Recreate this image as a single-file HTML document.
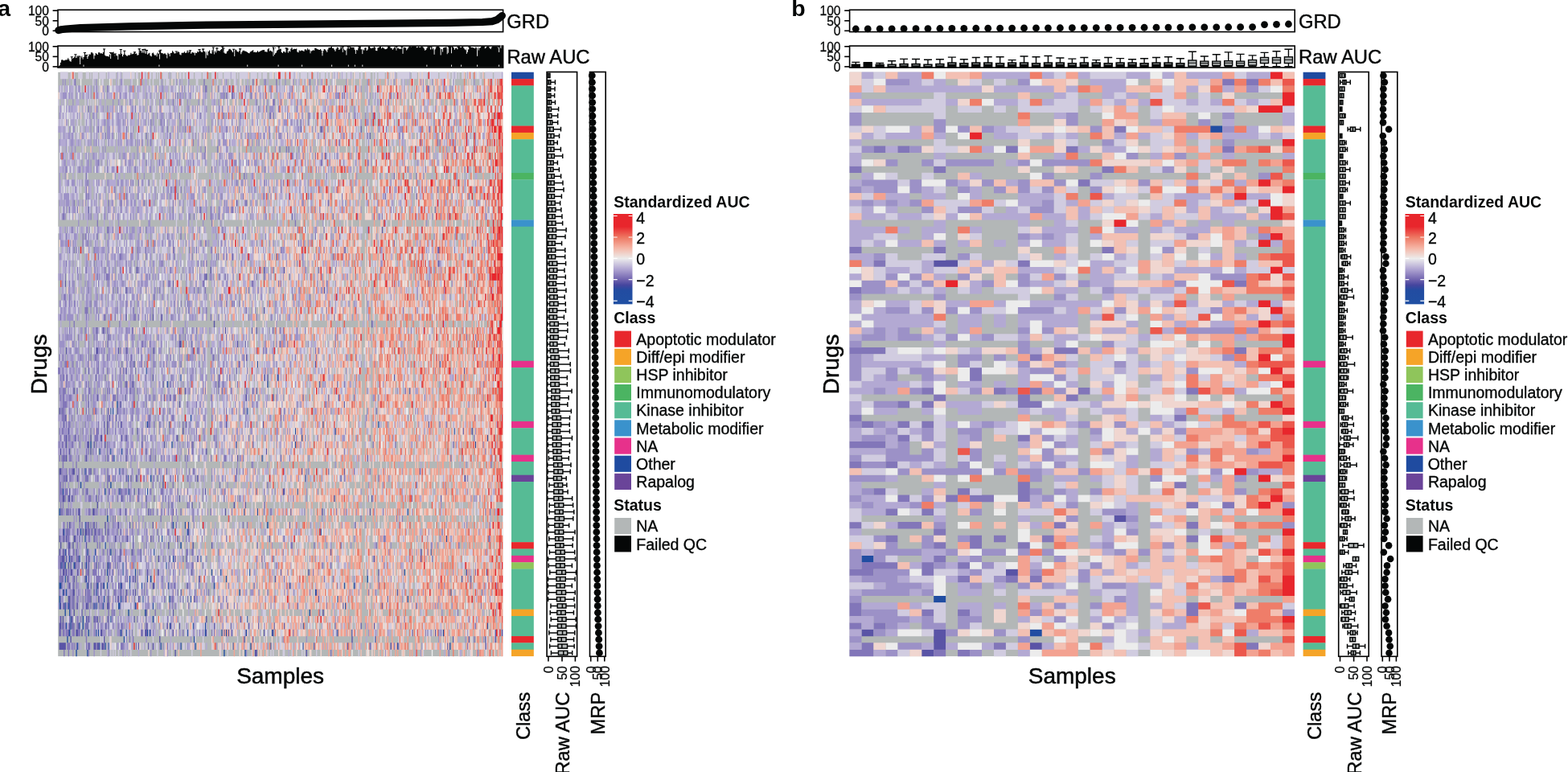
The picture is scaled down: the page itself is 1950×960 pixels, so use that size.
<!DOCTYPE html>
<html lang="en"><head><meta charset="utf-8"><title>Drug sensitivity heatmaps</title>
<style>html,body{margin:0;padding:0;background:#fff}body{width:1950px;height:960px;overflow:hidden}svg{display:block}</style></head>
<body>
<svg width="1950" height="960" viewBox="0 0 1950 960" font-family='"Liberation Sans", sans-serif' fill="#050707">
<defs><linearGradient id="cb" x1="0" y1="0" x2="0" y2="1">
<stop offset="0.0000" stop-color="#e8262c"/>
<stop offset="0.1412" stop-color="#e8262c"/>
<stop offset="0.2000" stop-color="#eb4e47"/>
<stop offset="0.2588" stop-color="#ee7762"/>
<stop offset="0.3765" stop-color="#f5b5a5"/>
<stop offset="0.4882" stop-color="#ece9e8"/>
<stop offset="0.4941" stop-color="#ececec"/>
<stop offset="0.5000" stop-color="#e9e8eb"/>
<stop offset="0.6118" stop-color="#b0a5d2"/>
<stop offset="0.7294" stop-color="#6f62ae"/>
<stop offset="0.7882" stop-color="#45459e"/>
<stop offset="0.8471" stop-color="#224ca1"/>
<stop offset="1.0000" stop-color="#2050a3"/>
</linearGradient>
<filter id="bl" x="-2%" y="-2%" width="104%" height="104%" color-interpolation-filters="sRGB"><feGaussianBlur stdDeviation="0.6 0.4"/></filter>
<filter id="bl2" x="-2%" y="-2%" width="104%" height="104%" color-interpolation-filters="sRGB"><feGaussianBlur stdDeviation="0.5"/></filter>
</defs>
<text x="-2.7" y="19.8" font-weight="bold" font-size="28.5">a</text>
<text x="984.2" y="19.8" font-weight="bold" font-size="28.5">b</text>
<rect x="72" y="12.3" width="553.6" height="27.3" fill="none" stroke="#000" stroke-width="1.6"/>
<path d="M65.6 13.2h6.4" stroke="#000" stroke-width="1.6"/>
<text transform="translate(60.9 18.9) scale(0.958 1)" text-anchor="end" stroke="#050707" stroke-width=".28" font-size="16.28">100</text>
<path d="M65.6 25.8h6.4" stroke="#000" stroke-width="1.6"/>
<text transform="translate(60.9 31.5) scale(0.958 1)" text-anchor="end" stroke="#050707" stroke-width=".28" font-size="16.28">50</text>
<path d="M65.6 38.3h6.4" stroke="#000" stroke-width="1.6"/>
<text transform="translate(60.9 44) scale(0.958 1)" text-anchor="end" stroke="#050707" stroke-width=".28" font-size="16.28">0</text>
<rect x="72" y="57.1" width="553.6" height="26.9" fill="none" stroke="#000" stroke-width="1.6"/>
<path d="M65.6 57.8h6.4" stroke="#000" stroke-width="1.6"/>
<text transform="translate(60.9 63.5) scale(0.958 1)" text-anchor="end" stroke="#050707" stroke-width=".28" font-size="16.28">100</text>
<path d="M65.6 70.4h6.4" stroke="#000" stroke-width="1.6"/>
<text transform="translate(60.9 76.1) scale(0.958 1)" text-anchor="end" stroke="#050707" stroke-width=".28" font-size="16.28">50</text>
<path d="M65.6 82.9h6.4" stroke="#000" stroke-width="1.6"/>
<text transform="translate(60.9 88.6) scale(0.958 1)" text-anchor="end" stroke="#050707" stroke-width=".28" font-size="16.28">0</text>
<text transform="translate(630.3 34.7) scale(0.958 1)" stroke="#050707" stroke-width=".43" font-size="24.84">GRD</text>
<text x="630.4" y="79" stroke="#050707" stroke-width=".43" font-size="23.8">Raw AUC</text>
<text transform="translate(58.3 452.8) rotate(-90)" text-anchor="middle" stroke="#050707" stroke-width=".5" font-size="28">Drugs</text>
<text x="348.6" y="849.8" text-anchor="middle" stroke="#050707" stroke-width=".5" font-size="28">Samples</text>
<rect x="636" y="89.75" width="27.8" height="8.65" fill="#1f4ba0"/>
<rect x="636" y="98.1" width="27.8" height="8.65" fill="#e8272c"/>
<rect x="636" y="106.45" width="27.8" height="50.39" fill="#56bb95"/>
<rect x="636" y="156.54" width="27.8" height="8.65" fill="#e8272c"/>
<rect x="636" y="164.89" width="27.8" height="8.65" fill="#f5a428"/>
<rect x="636" y="173.24" width="27.8" height="42.04" fill="#56bb95"/>
<rect x="636" y="214.98" width="27.8" height="8.65" fill="#4bb462"/>
<rect x="636" y="223.33" width="27.8" height="50.39" fill="#56bb95"/>
<rect x="636" y="273.42" width="27.8" height="8.65" fill="#3a92cc"/>
<rect x="636" y="281.77" width="27.8" height="167.28" fill="#56bb95"/>
<rect x="636" y="448.75" width="27.8" height="8.65" fill="#e7318b"/>
<rect x="636" y="457.1" width="27.8" height="67.09" fill="#56bb95"/>
<rect x="636" y="523.89" width="27.8" height="8.65" fill="#e7318b"/>
<rect x="636" y="532.24" width="27.8" height="33.7" fill="#56bb95"/>
<rect x="636" y="565.63" width="27.8" height="8.65" fill="#e7318b"/>
<rect x="636" y="573.98" width="27.8" height="17" fill="#56bb95"/>
<rect x="636" y="590.68" width="27.8" height="8.65" fill="#6a4499"/>
<rect x="636" y="599.03" width="27.8" height="75.44" fill="#56bb95"/>
<rect x="636" y="674.17" width="27.8" height="8.65" fill="#e8272c"/>
<rect x="636" y="682.52" width="27.8" height="8.65" fill="#56bb95"/>
<rect x="636" y="690.87" width="27.8" height="8.65" fill="#e7318b"/>
<rect x="636" y="699.22" width="27.8" height="8.65" fill="#8fc55b"/>
<rect x="636" y="707.56" width="27.8" height="50.39" fill="#56bb95"/>
<rect x="636" y="757.66" width="27.8" height="8.65" fill="#f5a428"/>
<rect x="636" y="766.01" width="27.8" height="25.35" fill="#56bb95"/>
<rect x="636" y="791.05" width="27.8" height="8.65" fill="#e8272c"/>
<rect x="636" y="799.4" width="27.8" height="8.65" fill="#56bb95"/>
<rect x="636" y="807.75" width="27.8" height="8.35" fill="#f5a428"/>
<text x="763.2" y="257.7" font-weight="bold" font-size="19.5">Standardized AUC</text>
<rect x="762.9" y="266" width="23.6" height="112.3" fill="url(#cb)"/>
<path d="M762.9 268.5h4.8M781.7 268.5h4.8" stroke="#fff" stroke-width="1.2"/>
<text transform="translate(791.3 277.9) scale(0.958 1)" stroke="#050707" stroke-width=".35" font-size="20.35">4</text>
<path d="M762.9 295h4.8M781.7 295h4.8" stroke="#fff" stroke-width="1.2"/>
<text transform="translate(791.3 302.9) scale(0.958 1)" stroke="#050707" stroke-width=".35" font-size="20.35">2</text>
<path d="M762.9 321.3h4.8M781.7 321.3h4.8" stroke="#fff" stroke-width="1.2"/>
<text transform="translate(791.3 329.2) scale(0.958 1)" stroke="#050707" stroke-width=".35" font-size="20.35">0</text>
<path d="M762.9 347.7h4.8M781.7 347.7h4.8" stroke="#fff" stroke-width="1.2"/>
<text transform="translate(791.3 355.6) scale(0.958 1)" stroke="#050707" stroke-width=".35" font-size="20.35">−2</text>
<path d="M762.9 374.2h4.8M781.7 374.2h4.8" stroke="#fff" stroke-width="1.2"/>
<text transform="translate(791.3 382.1) scale(0.958 1)" stroke="#050707" stroke-width=".35" font-size="20.35">−4</text>
<text x="763.2" y="402.4" font-weight="bold" font-size="19.5">Class</text>
<rect x="764.2" y="411.5" width="20.8" height="20.2" fill="#e8272c"/>
<text x="791.3" y="428.8" stroke="#050707" stroke-width=".35" font-size="19.5">Apoptotic modulator</text>
<rect x="764.2" y="433.66" width="20.8" height="20.2" fill="#f5a428"/>
<text x="791.3" y="450.96" stroke="#050707" stroke-width=".35" font-size="19.5">Diff/epi modifier</text>
<rect x="764.2" y="455.82" width="20.8" height="20.2" fill="#8fc55b"/>
<text x="791.3" y="473.12" stroke="#050707" stroke-width=".35" font-size="19.5">HSP inhibitor</text>
<rect x="764.2" y="477.98" width="20.8" height="20.2" fill="#4bb462"/>
<text x="791.3" y="495.28" stroke="#050707" stroke-width=".35" font-size="19.5">Immunomodulatory</text>
<rect x="764.2" y="500.14" width="20.8" height="20.2" fill="#56bb95"/>
<text x="791.3" y="517.44" stroke="#050707" stroke-width=".35" font-size="19.5">Kinase inhibitor</text>
<rect x="764.2" y="522.3" width="20.8" height="20.2" fill="#3a92cc"/>
<text x="791.3" y="539.6" stroke="#050707" stroke-width=".35" font-size="19.5">Metabolic modifier</text>
<rect x="764.2" y="544.46" width="20.8" height="20.2" fill="#e7318b"/>
<text transform="translate(791.3 561.76) scale(0.958 1)" stroke="#050707" stroke-width=".35" font-size="20.35">NA</text>
<rect x="764.2" y="566.62" width="20.8" height="20.2" fill="#1f4ba0"/>
<text x="791.1" y="583.92" stroke="#050707" stroke-width=".35" font-size="19.5">Other</text>
<rect x="764.2" y="588.78" width="20.8" height="20.2" fill="#6a4499"/>
<text x="791.3" y="606.08" stroke="#050707" stroke-width=".35" font-size="19.5">Rapalog</text>
<text x="763.2" y="634.9" font-weight="bold" font-size="19.5">Status</text>
<rect x="764.2" y="644" width="20.8" height="20.2" fill="#b3b7b7"/>
<text transform="translate(791.3 661.3) scale(0.958 1)" stroke="#050707" stroke-width=".35" font-size="20.35">NA</text>
<rect x="764.2" y="666.2" width="20.8" height="20.2" fill="#050707"/>
<text x="791.3" y="683.5" stroke="#050707" stroke-width=".35" font-size="19.5">Failed QC</text>
<rect x="1056.6" y="12.3" width="553.6" height="27.3" fill="none" stroke="#000" stroke-width="1.6"/>
<path d="M1050.2 13.2h6.4" stroke="#000" stroke-width="1.6"/>
<text transform="translate(1045.5 18.9) scale(0.958 1)" text-anchor="end" stroke="#050707" stroke-width=".28" font-size="16.28">100</text>
<path d="M1050.2 25.8h6.4" stroke="#000" stroke-width="1.6"/>
<text transform="translate(1045.5 31.5) scale(0.958 1)" text-anchor="end" stroke="#050707" stroke-width=".28" font-size="16.28">50</text>
<path d="M1050.2 38.3h6.4" stroke="#000" stroke-width="1.6"/>
<text transform="translate(1045.5 44) scale(0.958 1)" text-anchor="end" stroke="#050707" stroke-width=".28" font-size="16.28">0</text>
<rect x="1056.6" y="57.1" width="553.6" height="26.9" fill="none" stroke="#000" stroke-width="1.6"/>
<path d="M1050.2 57.8h6.4" stroke="#000" stroke-width="1.6"/>
<text transform="translate(1045.5 63.5) scale(0.958 1)" text-anchor="end" stroke="#050707" stroke-width=".28" font-size="16.28">100</text>
<path d="M1050.2 70.4h6.4" stroke="#000" stroke-width="1.6"/>
<text transform="translate(1045.5 76.1) scale(0.958 1)" text-anchor="end" stroke="#050707" stroke-width=".28" font-size="16.28">50</text>
<path d="M1050.2 82.9h6.4" stroke="#000" stroke-width="1.6"/>
<text transform="translate(1045.5 88.6) scale(0.958 1)" text-anchor="end" stroke="#050707" stroke-width=".28" font-size="16.28">0</text>
<text transform="translate(1614.9 34.7) scale(0.958 1)" stroke="#050707" stroke-width=".43" font-size="24.84">GRD</text>
<text x="1615" y="79" stroke="#050707" stroke-width=".43" font-size="23.8">Raw AUC</text>
<text transform="translate(1042.9 452.8) rotate(-90)" text-anchor="middle" stroke="#050707" stroke-width=".5" font-size="28">Drugs</text>
<text x="1333.2" y="849.8" text-anchor="middle" stroke="#050707" stroke-width=".5" font-size="28">Samples</text>
<rect x="1620.6" y="89.75" width="27.8" height="8.65" fill="#1f4ba0"/>
<rect x="1620.6" y="98.1" width="27.8" height="8.65" fill="#e8272c"/>
<rect x="1620.6" y="106.45" width="27.8" height="50.39" fill="#56bb95"/>
<rect x="1620.6" y="156.54" width="27.8" height="8.65" fill="#e8272c"/>
<rect x="1620.6" y="164.89" width="27.8" height="8.65" fill="#f5a428"/>
<rect x="1620.6" y="173.24" width="27.8" height="42.04" fill="#56bb95"/>
<rect x="1620.6" y="214.98" width="27.8" height="8.65" fill="#4bb462"/>
<rect x="1620.6" y="223.33" width="27.8" height="50.39" fill="#56bb95"/>
<rect x="1620.6" y="273.42" width="27.8" height="8.65" fill="#3a92cc"/>
<rect x="1620.6" y="281.77" width="27.8" height="167.28" fill="#56bb95"/>
<rect x="1620.6" y="448.75" width="27.8" height="8.65" fill="#e7318b"/>
<rect x="1620.6" y="457.1" width="27.8" height="67.09" fill="#56bb95"/>
<rect x="1620.6" y="523.89" width="27.8" height="8.65" fill="#e7318b"/>
<rect x="1620.6" y="532.24" width="27.8" height="33.7" fill="#56bb95"/>
<rect x="1620.6" y="565.63" width="27.8" height="8.65" fill="#e7318b"/>
<rect x="1620.6" y="573.98" width="27.8" height="17" fill="#56bb95"/>
<rect x="1620.6" y="590.68" width="27.8" height="8.65" fill="#6a4499"/>
<rect x="1620.6" y="599.03" width="27.8" height="75.44" fill="#56bb95"/>
<rect x="1620.6" y="674.17" width="27.8" height="8.65" fill="#e8272c"/>
<rect x="1620.6" y="682.52" width="27.8" height="8.65" fill="#56bb95"/>
<rect x="1620.6" y="690.87" width="27.8" height="8.65" fill="#e7318b"/>
<rect x="1620.6" y="699.22" width="27.8" height="8.65" fill="#8fc55b"/>
<rect x="1620.6" y="707.56" width="27.8" height="50.39" fill="#56bb95"/>
<rect x="1620.6" y="757.66" width="27.8" height="8.65" fill="#f5a428"/>
<rect x="1620.6" y="766.01" width="27.8" height="25.35" fill="#56bb95"/>
<rect x="1620.6" y="791.05" width="27.8" height="8.65" fill="#e8272c"/>
<rect x="1620.6" y="799.4" width="27.8" height="8.65" fill="#56bb95"/>
<rect x="1620.6" y="807.75" width="27.8" height="8.35" fill="#f5a428"/>
<text x="1747.8" y="257.7" font-weight="bold" font-size="19.5">Standardized AUC</text>
<rect x="1747.5" y="266" width="23.6" height="112.3" fill="url(#cb)"/>
<path d="M1747.5 268.5h4.8M1766.3 268.5h4.8" stroke="#fff" stroke-width="1.2"/>
<text transform="translate(1775.9 277.9) scale(0.958 1)" stroke="#050707" stroke-width=".35" font-size="20.35">4</text>
<path d="M1747.5 295h4.8M1766.3 295h4.8" stroke="#fff" stroke-width="1.2"/>
<text transform="translate(1775.9 302.9) scale(0.958 1)" stroke="#050707" stroke-width=".35" font-size="20.35">2</text>
<path d="M1747.5 321.3h4.8M1766.3 321.3h4.8" stroke="#fff" stroke-width="1.2"/>
<text transform="translate(1775.9 329.2) scale(0.958 1)" stroke="#050707" stroke-width=".35" font-size="20.35">0</text>
<path d="M1747.5 347.7h4.8M1766.3 347.7h4.8" stroke="#fff" stroke-width="1.2"/>
<text transform="translate(1775.9 355.6) scale(0.958 1)" stroke="#050707" stroke-width=".35" font-size="20.35">−2</text>
<path d="M1747.5 374.2h4.8M1766.3 374.2h4.8" stroke="#fff" stroke-width="1.2"/>
<text transform="translate(1775.9 382.1) scale(0.958 1)" stroke="#050707" stroke-width=".35" font-size="20.35">−4</text>
<text x="1747.8" y="402.4" font-weight="bold" font-size="19.5">Class</text>
<rect x="1748.8" y="411.5" width="20.8" height="20.2" fill="#e8272c"/>
<text x="1775.9" y="428.8" stroke="#050707" stroke-width=".35" font-size="19.5">Apoptotic modulator</text>
<rect x="1748.8" y="433.66" width="20.8" height="20.2" fill="#f5a428"/>
<text x="1775.9" y="450.96" stroke="#050707" stroke-width=".35" font-size="19.5">Diff/epi modifier</text>
<rect x="1748.8" y="455.82" width="20.8" height="20.2" fill="#8fc55b"/>
<text x="1775.9" y="473.12" stroke="#050707" stroke-width=".35" font-size="19.5">HSP inhibitor</text>
<rect x="1748.8" y="477.98" width="20.8" height="20.2" fill="#4bb462"/>
<text x="1775.9" y="495.28" stroke="#050707" stroke-width=".35" font-size="19.5">Immunomodulatory</text>
<rect x="1748.8" y="500.14" width="20.8" height="20.2" fill="#56bb95"/>
<text x="1775.9" y="517.44" stroke="#050707" stroke-width=".35" font-size="19.5">Kinase inhibitor</text>
<rect x="1748.8" y="522.3" width="20.8" height="20.2" fill="#3a92cc"/>
<text x="1775.9" y="539.6" stroke="#050707" stroke-width=".35" font-size="19.5">Metabolic modifier</text>
<rect x="1748.8" y="544.46" width="20.8" height="20.2" fill="#e7318b"/>
<text transform="translate(1775.9 561.76) scale(0.958 1)" stroke="#050707" stroke-width=".35" font-size="20.35">NA</text>
<rect x="1748.8" y="566.62" width="20.8" height="20.2" fill="#1f4ba0"/>
<text x="1775.7" y="583.92" stroke="#050707" stroke-width=".35" font-size="19.5">Other</text>
<rect x="1748.8" y="588.78" width="20.8" height="20.2" fill="#6a4499"/>
<text x="1775.9" y="606.08" stroke="#050707" stroke-width=".35" font-size="19.5">Rapalog</text>
<text x="1747.8" y="634.9" font-weight="bold" font-size="19.5">Status</text>
<rect x="1748.8" y="644" width="20.8" height="20.2" fill="#b3b7b7"/>
<text transform="translate(1775.9 661.3) scale(0.958 1)" stroke="#050707" stroke-width=".35" font-size="20.35">NA</text>
<rect x="1748.8" y="666.2" width="20.8" height="20.2" fill="#050707"/>
<text x="1775.9" y="683.5" stroke="#050707" stroke-width=".35" font-size="19.5">Failed QC</text>
<g filter="url(#bl)">
<rect x="72.2" y="89.75" width="553.1" height="726.35" fill="#b3b7b7"/>
<g transform="translate(72.2 89.75) scale(1.3827 8.3489)" fill="none" stroke-width="1.03">
<path d="M179 43.5h1m163 0h1M79 44.5h1M110 45.5h1m86 0h1M98 46.5h1m89 0h1M53 49.5h1m330 0h1M47 50.5h1m1 0h1m120 0h1M119 51.5h1M80 52.5h1m157 0h1m49 0h1M213 53.5h1m35 0h1m106 0h1M219 54.5h1m166 0h1M29 55.5h1m72 0h1m57 0h1m52 0h1m161 0h1M37 56.5h1m9 0h1m9 0h1M50 57.5h1m132 0h1M24 59.5h1m30 0h1M63 60.5h1m19 0h1m10 0h1m127 0h1M20 61.5h1m26 0h1M4 62.5h1m37 0h1m12 0h1m7 0h1m16 0h1m134 0h1M1 65.5h1m165 0h1m11 0h1m134 0h1M44 66.5h1M24 67.5h1m78 0h1m10 0h1m2 0h1m70 0h1M5 68.5h1m14 0h1m95 0h1m119 0h1M24 69.5h1m68 0h1m255 0h1M42 70.5h1m67 0h1M6 71.5h1m19 0h1m6 0h1m13 0h1m38 0h1m248 0h1M10 72.5h1m8 0h1m12 0h1m70 0h1m24 0h1M3 73.5h1m2 0h1m7 0h1m10 0h1m19 0h1m12 0h1m38 0h1M44 74.5h1m13 0h1m10 0h1m68 0h1m7 0h1m25 0h1m138 0h1M6 75.5h1m18 0h1m38 0h1m15 0h1m2 0h1m67 0h1m126 0h1M1 76.5h2m23 0h1m8 0h1m5 0h1m2 0h1m11 0h1m7 0h1m10 0h1m23 0h1m40 0h1m67 0h1m48 0h1m8 0h1M4 77.5h1m2 0h1m26 0h1m128 0h1m67 0h1m121 0h1M1 78.5h1m39 0h1m14 0h1m19 0h1m23 0h1m18 0h1m131 0h1m62 0h1M1 79.5h1m4 0h1m2 0h1m22 0h1m1 0h1m5 0h1m13 0h2m13 0h1m15 0h1m172 0h1M6 80.5h1m3 0h1m52 0h1m14 0h1m147 0h1M11 81.5h1m10 0h1m24 0h1m37 0h1m84 0h1M7 82.5h1m3 0h1m7 0h1m2 0h1m77 0h1m20 0h1m10 0h1m87 0h1m165 0h1M10 83.5h1m16 0h1m6 0h1m1 0h1m19 0h1m4 0h1m18 0h1m1 0h1m33 0h1m15 0h1m14 0h1m3 0h1m17 0h1m22 0h1m58 0h1m94 0h1M8 84.5h1m50 0h1m62 0h1m162 0h1M17 85.5h1m19 0h1m4 0h1m2 0h1m46 0h1m17 0h1m12 0h1m33 0h1m15 0h1m17 0h1m28 0h1m84 0h1m46 0h1M16 86.5h1m9 0h1m122 0h1m18 0h1" stroke="#214da2"/>
<path d="M156 3.5h1M218 8.5h1m17 0h1m35 0h1M280 9.5h1M356 11.5h1M240 12.5h1M322 18.5h1M160 19.5h1m82 0h1M27 20.5h1M210 21.5h1M291 23.5h1M342 26.5h1M196 27.5h1M342 28.5h1M71 29.5h1m65 0h1m47 0h1m17 0h1M133 30.5h1M6 31.5h1m96 0h1M61 32.5h1m177 0h1M86 33.5h1M185 35.5h1M61 36.5h1m23 0h1m7 0h1M140 37.5h1m141 0h1M34 38.5h1m5 0h1m109 0h1m23 0h1m3 0h1M45 39.5h1M109 40.5h2m9 0h1m40 0h1m6 0h1m30 0h1M7 41.5h1m26 0h2m18 0h1m6 0h1m24 0h1m34 0h1M139 42.5h1m29 0h1M68 43.5h1m162 0h1M27 44.5h1m30 0h1m2 0h1m98 0h1m204 0h1M34 45.5h1m50 0h1m68 0h1m30 0h1m2 0h1m113 0h1M61 46.5h1m5 0h1m26 0h1m49 0h1m90 0h1m15 0h1M14 47.5h1m94 0h1m4 0h1m32 0h1m27 0h1m2 0h1m137 0h1M35 48.5h1m24 0h1m34 0h1m9 0h1m63 0h1m23 0h1m26 0h1m22 0h1m8 0h1M27 49.5h1m28 0h1m52 0h1m147 0h1M1 50.5h1m1 0h1m41 0h1m7 0h1m158 0h1M6 51.5h1m39 0h1m5 0h1m147 0h1M5 52.5h1m35 0h1m2 0h1m11 0h1m43 0h1m14 0h1m35 0h1m32 0h1m148 0h1M9 53.5h1m34 0h1m26 0h1m40 0h1m251 0h1m7 0h1M7 54.5h1m7 0h1m13 0h1m8 0h2m17 0h1m3 0h1m45 0h1m104 0h1M7 55.5h1m18 0h2m4 0h1m9 0h1m32 0h1m19 0h1m24 0h1m54 0h1M2 56.5h1m7 0h1m18 0h1m49 0h1m53 0h1m53 0h1M5 57.5h1m1 0h1m17 0h1m35 0h1m99 0h1m38 0h1m77 0h1m74 0h1M1 59.5h2m10 0h2m14 0h1m28 0h1m38 0h1m62 0h1m58 0h1m23 0h1m13 0h1m67 0h1M5 60.5h1m1 0h1m9 0h1m8 0h1m18 0h1m15 0h1m3 0h1m4 0h1m54 0h1m128 0h1m111 0h1M94 61.5h1m227 0h1M10 62.5h1m15 0h1m41 0h1m3 0h1m59 0h1m45 0h1m23 0h2M4 63.5h2m3 0h2m1 0h1m21 0h1m22 0h1m21 0h1m14 0h1m14 0h1m8 0h1m30 0h1m98 0h1m33 0h1m61 0h1M35 64.5h1m66 0h1m17 0h1m37 0h1m9 0h1M3 65.5h1m4 0h1m2 0h1m1 0h1m4 0h2m11 0h2m27 0h1m20 0h1m21 0h1m46 0h1m40 0h1m17 0h1m27 0h1m42 0h1M19 66.5h1M10 67.5h1m16 0h1m4 0h1m9 0h1m11 0h1m9 0h1m20 0h1m122 0h1m58 0h1M4 68.5h1m3 0h1m8 0h1m4 0h1m1 0h2m1 0h1m2 0h1m2 0h1m3 0h1m4 0h1m2 0h1m10 0h1m60 0h1m227 0h1M1 69.5h1m3 0h1m1 0h1m6 0h2m3 0h1m12 0h1m18 0h1m10 0h1m4 0h1m15 0h1m23 0h1m82 0h1m102 0h1m93 0h1M2 70.5h1m6 0h2m2 0h1m11 0h1m41 0h1m31 0h1m21 0h1m16 0h1m115 0h1M1 71.5h1m2 0h1m4 0h1m6 0h1m39 0h1m9 0h1m7 0h1m170 0h1m80 0h1M3 72.5h3m1 0h1m4 0h1m5 0h1m6 0h1m1 0h1m27 0h1m18 0h1m15 0h1m9 0h1m4 0h1m9 0h1m9 0h1m57 0h1m100 0h1m41 0h1M2 73.5h1m2 0h1m3 0h1m1 0h1m3 0h1m5 0h1m5 0h1m6 0h1m9 0h1M4 74.5h2m1 0h1m3 0h2m4 0h1m9 0h1m21 0h1m30 0h1m9 0h1m29 0h1m79 0h1m24 0h1m62 0h1m78 0h1m17 0h1M3 75.5h1m4 0h1m5 0h1m9 0h1m2 0h1m17 0h1m2 0h1m18 0h1m1 0h1m57 0h1m67 0h1m167 0h1m7 0h1M3 76.5h1m6 0h1m2 0h1m13 0h1m1 0h1m4 0h1m3 0h1m1 0h1m13 0h1m2 0h1m27 0h2m29 0h1M5 77.5h1m7 0h2m9 0h1m7 0h1m5 0h1m6 0h1m10 0h1m4 0h1m5 0h1m1 0h1m40 0h1m121 0h1m72 0h1M9 78.5h2m2 0h1m15 0h1m6 0h1m8 0h1m8 0h1m3 0h1m1 0h1m11 0h1m39 0h1m9 0h1m111 0h1m61 0h1M2 79.5h1m2 0h1m4 0h1m2 0h1m3 0h1m7 0h2m17 0h2m54 0h1m51 0h1m62 0h1m40 0h1m34 0h1m30 0h1M14 80.5h1m6 0h1m28 0h1m28 0h1m23 0h1m134 0h1M2 81.5h1m1 0h1m7 0h1m12 0h1m1 0h1m4 0h1m2 0h1m9 0h1m22 0h1m64 0h1m30 0h1M1 82.5h2m1 0h1m5 0h1m2 0h1m4 0h1m7 0h1m15 0h1m2 0h1m11 0h1m21 0h1m18 0h1m2 0h1m7 0h1m30 0h1m14 0h1m15 0h1m8 0h1m13 0h1m8 0h1m68 0h1m11 0h1M1 83.5h1m7 0h1m6 0h2m3 0h1m16 0h2m35 0h1m2 0h2m23 0h1m29 0h1m15 0h1m3 0h1m2 0h1m28 0h1m7 0h1m41 0h1m28 0h1m74 0h1m53 0h1m5 0h1M11 84.5h1m29 0h1m49 0h1m75 0h1m7 0h1m88 0h1m90 0h1m13 0h1m14 0h1m8 0h1M1 85.5h6m20 0h1m4 0h2m1 0h2m2 0h2m31 0h1m8 0h1m3 0h1m144 0h1m29 0h1m19 0h1m18 0h1m50 0h1m33 0h1M105 86.5h1m71 0h2m44 0h1" stroke="#5a54a6"/>
<path d="M15 1.5h1m115 0h1m43 0h1m10 0h1m9 0h1m29 0h1M34 2.5h1m9 0h1m66 0h1m20 0h2m10 0h1m11 0h1m12 0h1m21 0h1m4 0h1m13 0h1m32 0h1m44 0h1m43 0h2M105 3.5h1m1 0h1m41 0h1m1 0h1m21 0h1m12 0h1m4 0h1m16 0h1m43 0h1m2 0h1m1 0h1m41 0h1M103 4.5h1m6 0h1m67 0h1m14 0h2m5 0h1m14 0h1m81 0h1M27 5.5h1m29 0h1m11 0h1m77 0h1m32 0h1m6 0h1m10 0h1m60 0h1M109 6.5h1m18 0h1m19 0h1m15 0h1m25 0h2m1 0h1m12 0h1m18 0h1m57 0h1M58 7.5h1m24 0h1m8 0h1m2 0h1m20 0h1m39 0h1m58 0h1m2 0h1m6 0h1m117 0h1m12 0h1M36 8.5h1m24 0h1m36 0h1m15 0h1m36 0h1m9 0h1m75 0h1m57 0h1m13 0h1m24 0h1m18 0h1M42 9.5h1m18 0h1m3 0h1m13 0h1m20 0h1m84 0h1m4 0h1m8 0h1m6 0h1m71 0h1m28 0h1m43 0h1M34 10.5h1m10 0h1m29 0h1m7 0h1m37 0h1m32 0h1m98 0h1m43 0h1m28 0h1m14 0h1m1 0h1M132 11.5h1m10 0h1m55 0h1m5 0h1m1 0h1M4 12.5h1m95 0h1m30 0h1m13 0h1m64 0h1m9 0h1m10 0h1m5 0h1m13 0h1M36 13.5h1m23 0h1m18 0h1m11 0h1m29 0h1m37 0h1m11 0h1m64 0h2m40 0h1M7 14.5h1m11 0h1m24 0h1m24 0h1m68 0h1m13 0h1m10 0h1m22 0h1m127 0h1m15 0h1m20 0h1m27 0h1M25 15.5h1m130 0h1m10 0h1m73 0h1m60 0h1m19 0h1M26 16.5h1m38 0h1m1 0h1m4 0h1m8 0h1m74 0h1m3 0h1m4 0h1m19 0h1m14 0h1m1 0h1M25 17.5h1m24 0h1m13 0h1m36 0h1m8 0h1m89 0h1m16 0h1m100 0h1m22 0h1m8 0h1M25 18.5h1m1 0h1m6 0h1m26 0h1m45 0h1m39 0h1m18 0h1m18 0h1m5 0h1m33 0h1m29 0h1m38 0h1m74 0h1M14 19.5h1m30 0h1m10 0h1m20 0h1m25 0h1m45 0h1m18 0h2m50 0h1M5 20.5h1m4 0h1m6 0h1m16 0h1m10 0h1m10 0h1m46 0h1m23 0h2m8 0h1m18 0h2m16 0h1m11 0h1m48 0h1m63 0h1m39 0h1M4 21.5h2m21 0h1m1 0h1m19 0h1m15 0h1m34 0h1m2 0h1m14 0h1m3 0h1m14 0h1m6 0h1m102 0h1m21 0h1m21 0h1M35 22.5h1m102 0h1m74 0h1M12 23.5h1m31 0h2m3 0h1m29 0h1m67 0h1m67 0h1m6 0h1m39 0h1M7 24.5h1m14 0h1m1 0h1m2 0h1m7 0h1m62 0h1m3 0h1m7 0h1m57 0h1m17 0h1m44 0h1m21 0h1M13 25.5h1m8 0h1m3 0h1m48 0h1m5 0h1m4 0h1m13 0h1m2 0h1m24 0h1m3 0h1m83 0h1m1 0h1m31 0h1m51 0h1M10 26.5h1m3 0h1m1 0h1m15 0h1m12 0h1m21 0h1m3 0h1m6 0h1m7 0h1m16 0h2m13 0h1m5 0h1m13 0h1m36 0h1m24 0h1m56 0h2m31 0h1m50 0h1m14 0h1M36 27.5h1m18 0h2m22 0h1m20 0h1m3 0h1m15 0h1m21 0h1m1 0h1m6 0h1m4 0h2m12 0h1m76 0h1m79 0h1M7 28.5h1m24 0h1m6 0h1m21 0h1m31 0h1m16 0h1m17 0h1m4 0h1M17 29.5h1m7 0h1m16 0h1m13 0h1m4 0h1m2 0h1m5 0h1m30 0h1m16 0h1m2 0h1m69 0h1m1 0h1m28 0h1m11 0h1m14 0h1M6 30.5h1m28 0h1m1 0h1m5 0h3m2 0h1m30 0h1m2 0h1m32 0h1m11 0h1m3 0h2m4 0h1m7 0h1m4 0h1m1 0h1m4 0h1m20 0h1m6 0h1m5 0h1m16 0h1M10 31.5h1m2 0h1m22 0h1m8 0h1m12 0h1m16 0h1m18 0h1m4 0h2m29 0h2m42 0h2m22 0h1m1 0h1m32 0h1m7 0h1m64 0h1m26 0h1M27 32.5h1m21 0h1m3 0h1m20 0h1m16 0h1m11 0h1m18 0h1m3 0h1m5 0h1m38 0h1m38 0h1M5 33.5h2m3 0h1m28 0h1m31 0h1m73 0h1m65 0h1m14 0h1M6 34.5h1m3 0h1m3 0h1m14 0h1m4 0h1m23 0h1m2 0h1m3 0h1m38 0h1m5 0h1m5 0h1m1 0h1m32 0h1m4 0h1m1 0h1m4 0h1M24 35.5h3m7 0h1m18 0h1m7 0h1m5 0h1m17 0h1m31 0h1m9 0h1m5 0h1m13 0h1m21 0h1m71 0h1m68 0h1M2 36.5h1m22 0h1m10 0h1m4 0h2m8 0h1m4 0h1m11 0h2m2 0h1m5 0h1m13 0h1m9 0h1m5 0h1m9 0h1m18 0h1m6 0h1m26 0h1m6 0h1m12 0h1m7 0h1m48 0h1M14 37.5h1m40 0h1M10 38.5h1m13 0h1m10 0h1m5 0h1m2 0h1m16 0h1m4 0h2m44 0h1m7 0h1m3 0h1m68 0h1m5 0h1m2 0h1m19 0h1m94 0h1M8 39.5h1m9 0h1m13 0h1m1 0h1m12 0h1m18 0h1m38 0h1m3 0h1m4 0h1m4 0h1m31 0h1m4 0h1m46 0h1m45 0h1m1 0h1m115 0h1m7 0h1M13 40.5h1m13 0h1m12 0h1m3 0h1m22 0h1m7 0h2m1 0h1m3 0h1m103 0h1m9 0h1m9 0h1m42 0h1M11 41.5h1m4 0h1m10 0h1m11 0h1m1 0h1m14 0h1m5 0h1m9 0h1m12 0h1m39 0h2m4 0h1m6 0h1m39 0h1m5 0h1m2 0h1m43 0h1m2 0h1m76 0h1M1 42.5h1m2 0h1m15 0h1m6 0h1m1 0h1m3 0h2m9 0h1m16 0h1m3 0h2m8 0h1m25 0h1m14 0h1m1 0h1m12 0h1m12 0h1m22 0h1m45 0h1m18 0h1m26 0h1M6 43.5h2m5 0h1m13 0h1m8 0h1m20 0h1m7 0h1m9 0h1m10 0h1m5 0h1m4 0h1m7 0h1m4 0h1m9 0h1m41 0h2m3 0h1m28 0h1M0 44.5h2m2 0h1m19 0h1m7 0h1m2 0h2m3 0h1m3 0h1m11 0h1m8 0h1m3 0h1m23 0h1m27 0h1m18 0h1m29 0h1m15 0h1m22 0h1m33 0h1M2 45.5h1m1 0h2m1 0h2m3 0h1m29 0h1m12 0h1m9 0h1m1 0h1m10 0h1m23 0h1m16 0h1m24 0h2m52 0h1M3 46.5h1m3 0h1m11 0h1m5 0h1m1 0h1m17 0h1m8 0h1m1 0h1m3 0h1m5 0h1m34 0h1m1 0h1m26 0h1m10 0h1m6 0h1m12 0h1m95 0h1m124 0h1M1 47.5h1m2 0h3m6 0h1m3 0h1m6 0h1m2 0h2m15 0h1m1 0h1m6 0h1m2 0h1m4 0h1m2 0h2m2 0h1m2 0h1m46 0h1m11 0h1m1 0h1m11 0h1m10 0h1m13 0h1m142 0h1M2 48.5h1m1 0h2m4 0h2m10 0h1m4 0h1m1 0h1m12 0h1m6 0h3m1 0h1m4 0h1m9 0h1m10 0h1m2 0h1m3 0h1m5 0h1m7 0h2m2 0h1m33 0h1m29 0h1m27 0h1m69 0h1M4 49.5h4m41 0h1m5 0h1m10 0h1m4 0h1m7 0h1m36 0h1m7 0h1m13 0h1m28 0h1m10 0h1m36 0h1m24 0h1m128 0h1M4 50.5h2m4 0h1m6 0h1m7 0h1m1 0h1m3 0h1m1 0h2m4 0h1m19 0h1m7 0h1m26 0h1m5 0h1m25 0h1m22 0h1m1 0h1m4 0h1m3 0h1m6 0h1m32 0h1m2 0h1m82 0h1M3 51.5h3m1 0h1m4 0h1m13 0h1m17 0h1m4 0h1m5 0h1m10 0h1m14 0h2m11 0h1m7 0h2m27 0h1m6 0h1m13 0h1m124 0h1M7 52.5h1m1 0h2m13 0h1m11 0h1m8 0h1m3 0h1m4 0h1m2 0h1m23 0h2m3 0h1m4 0h1m20 0h1m5 0h1m49 0h1m174 0h1m5 0h1M1 53.5h1m1 0h2m17 0h1m6 0h1m2 0h1m1 0h3m4 0h1m9 0h1m6 0h1m7 0h1m8 0h1m10 0h1m13 0h1m23 0h1m40 0h1M2 54.5h1m2 0h2m2 0h2m7 0h1m14 0h3m24 0h1m14 0h1m2 0h1m4 0h1m22 0h1m19 0h1m4 0h1m8 0h1m8 0h1m21 0h1m3 0h1m10 0h1m27 0h1m7 0h1m10 0h1m46 0h1m93 0h1M1 55.5h1m1 0h2m1 0h1m5 0h2m5 0h1m14 0h1m4 0h1m4 0h1m5 0h1m65 0h1m4 0h1m20 0h1m67 0h1m29 0h1m42 0h1m19 0h1m51 0h1m26 0h1M5 56.5h1m1 0h1m17 0h1m1 0h1m3 0h1m2 0h1m9 0h1m16 0h2m20 0h1m10 0h1m22 0h1m2 0h2m135 0h1m126 0h1M1 57.5h1m1 0h2m1 0h1m3 0h2m6 0h1m5 0h1m17 0h1m1 0h2m2 0h2m6 0h1m22 0h1m2 0h2m3 0h1m4 0h1m2 0h1m9 0h1m8 0h1m1 0h1m9 0h1m10 0h1m11 0h2m5 0h1m9 0h1m41 0h1M4 58.5h1m11 0h1m157 0h1m214 0h1M3 59.5h1m3 0h1m2 0h1m1 0h1m5 0h1m2 0h1m3 0h1m1 0h2m3 0h1m11 0h1m21 0h1m5 0h1m14 0h1m3 0h1m26 0h1m2 0h2m43 0h1m58 0h1m40 0h1m13 0h1M1 60.5h1m1 0h1m2 0h1m1 0h1m1 0h2m6 0h1m5 0h2m9 0h1m8 0h1m1 0h1m2 0h1m1 0h1m4 0h1m14 0h1m5 0h1m8 0h1m2 0h1m2 0h1m8 0h1m1 0h1m3 0h1m8 0h1m6 0h1m14 0h1m20 0h2m96 0h1m30 0h1m76 0h1m2 0h1M1 61.5h2m1 0h1m39 0h1m18 0h1m21 0h1m17 0h1m41 0h1m42 0h1M1 62.5h3m2 0h3m4 0h1m1 0h1m6 0h1m2 0h1m6 0h1m4 0h1m7 0h2m7 0h1m1 0h2m2 0h2m2 0h1m13 0h1m4 0h1m8 0h3m12 0h1m8 0h1m13 0h1m16 0h1m1 0h1m35 0h1M1 63.5h1m1 0h1m2 0h1m6 0h1m13 0h3m6 0h1m2 0h1m5 0h1m3 0h1m3 0h1m4 0h1m5 0h1m6 0h2m13 0h1m9 0h1m2 0h1m30 0h1m32 0h1m47 0h1m106 0h1m60 0h1M2 64.5h1m1 0h1m74 0h1m19 0h1m16 0h1m68 0h1M2 65.5h1m4 0h1m1 0h1m6 0h1m10 0h2m5 0h1m7 0h1m1 0h1m10 0h2m4 0h1m21 0h1m1 0h1m3 0h1m3 0h1m1 0h1m3 0h1m6 0h1m3 0h1m10 0h1m15 0h1m18 0h1m28 0h1m64 0h1m8 0h1m32 0h1m91 0h1m3 0h1M49 66.5h1m1 0h1m40 0h1m9 0h1m18 0h1m150 0h1m31 0h1m4 0h1M5 67.5h1m2 0h1m2 0h1m7 0h1m1 0h1m3 0h2m2 0h1m1 0h1m2 0h1m10 0h1m3 0h1m3 0h1m13 0h1m34 0h1m3 0h1m59 0h1m3 0h1m217 0h1M7 68.5h1m1 0h2m2 0h1m12 0h1m1 0h1m3 0h1m1 0h1m1 0h1m2 0h1m4 0h1m8 0h1m12 0h1m12 0h1m9 0h1m8 0h2m31 0h1m45 0h1M4 69.5h1m3 0h2m11 0h1m5 0h2m5 0h1m4 0h2m3 0h1m7 0h1m2 0h1m2 0h1m2 0h1m23 0h1m4 0h1m14 0h1m9 0h1m13 0h1m21 0h1m51 0h1m149 0h1M17 70.5h1m17 0h1m1 0h1m18 0h1m22 0h1m99 0h1m29 0h2m19 0h1m55 0h1m48 0h1m24 0h1M5 71.5h1m1 0h1m2 0h1m2 0h2m10 0h1m1 0h1m12 0h1m3 0h1m1 0h1m4 0h1m3 0h1m11 0h1m15 0h1m31 0h2m3 0h2m22 0h1m57 0h1m129 0h1M1 72.5h2m8 0h1m4 0h2m10 0h1m5 0h1m10 0h1m2 0h1m2 0h1m4 0h1m3 0h1m33 0h1m17 0h1m65 0h1m14 0h1m142 0h1M1 73.5h1m2 0h1m11 0h1m1 0h1m5 0h1m7 0h1m3 0h1m3 0h1m5 0h2m3 0h1m1 0h1m7 0h1m5 0h1m11 0h1m1 0h1m17 0h1m2 0h1m1 0h1m15 0h2m8 0h1m55 0h1m9 0h1m40 0h1m7 0h1m47 0h1M2 74.5h1m3 0h1m2 0h1m8 0h1m3 0h1m2 0h2m4 0h4m1 0h1m2 0h1m2 0h1m3 0h1m7 0h1m6 0h1m11 0h1m15 0h1m4 0h1m8 0h1m28 0h1m23 0h1m72 0h1m145 0h1M1 75.5h2m1 0h1m4 0h1m3 0h1m2 0h1m15 0h1m1 0h4m18 0h1m3 0h1m1 0h1m8 0h1m21 0h1m32 0h1m13 0h1m62 0h1m35 0h1m7 0h1m40 0h1M9 76.5h1m4 0h1m1 0h1m15 0h1m3 0h1m12 0h1m5 0h1m15 0h1m5 0h1m24 0h1m1 0h2m12 0h1m7 0h1m26 0h1m22 0h1m74 0h1m36 0h1m53 0h1m28 0h1M1 77.5h1m9 0h1m6 0h1m7 0h3m6 0h1m6 0h1m7 0h2m6 0h1m16 0h1m1 0h1m25 0h1m3 0h1m10 0h1m4 0h1m7 0h1m3 0h1m52 0h1m37 0h1m52 0h1m5 0h1m95 0h1M2 78.5h1m8 0h1m2 0h1m2 0h1m4 0h1m1 0h1m1 0h3m8 0h1m1 0h1m4 0h1m4 0h1m1 0h1m1 0h1m7 0h1m6 0h1m4 0h1m7 0h1m13 0h1m6 0h2m6 0h1m5 0h1m27 0h1m3 0h1m2 0h1m42 0h1M4 79.5h1m3 0h1m2 0h1m2 0h1m1 0h1m5 0h1m4 0h1m1 0h1m1 0h1m1 0h1m3 0h1m1 0h1m30 0h1m10 0h1m20 0h1m2 0h1m11 0h1m28 0h1m11 0h1m32 0h1m15 0h1m33 0h1m138 0h1M11 80.5h1m33 0h1m2 0h1m38 0h1m147 0h1m123 0h1M10 81.5h1m2 0h1m3 0h1m2 0h1m5 0h1m6 0h2m2 0h1m6 0h1m11 0h1m6 0h1m7 0h1m7 0h1m18 0h1m39 0h1m172 0h1m57 0h1M3 82.5h1m2 0h1m5 0h1m1 0h1m2 0h1m6 0h2m7 0h1m2 0h1m1 0h1m4 0h1m5 0h1m4 0h1m25 0h1m168 0h1m125 0h1M2 83.5h1m1 0h2m1 0h2m4 0h2m3 0h2m4 0h1m7 0h1m12 0h1m9 0h1m1 0h1m6 0h1m1 0h1m16 0h1m1 0h1m10 0h1m15 0h1m14 0h1m10 0h1m1 0h1m27 0h1m42 0h1m106 0h1m11 0h1m1 0h1m2 0h1m6 0h1m1 0h1M25 84.5h1m38 0h1m2 0h1m306 0h1M8 85.5h3m1 0h1m1 0h1m1 0h1m8 0h1m2 0h1m5 0h1m6 0h1m14 0h3m11 0h1m27 0h1m203 0h1m3 0h1m61 0h1M5 86.5h1m3 0h1m17 0h1m17 0h1m199 0h1m105 0h1m25 0h1" stroke="#8276b9"/>
<path d="M4 1.5h1m1 0h1m7 0h1m19 0h1m21 0h2m17 0h1m17 0h1m12 0h1m2 0h1m7 0h1m33 0h1m33 0h1m13 0h1m4 0h1m6 0h1m21 0h1m3 0h1m21 0h1m18 0h1m23 0h1m23 0h1m1 0h1m7 0h1m18 0h1m18 0h1M3 2.5h1m6 0h1m5 0h1m1 0h2m7 0h1m1 0h1m2 0h1m7 0h1m4 0h1m9 0h1m8 0h3m1 0h1m2 0h1m16 0h1m4 0h2m7 0h1m10 0h1m3 0h1m1 0h1m1 0h1m8 0h1m7 0h1m9 0h1m3 0h1m11 0h1m6 0h1m3 0h1m4 0h1m9 0h1m8 0h1m3 0h1m4 0h1m17 0h1m19 0h1m3 0h1m17 0h1m3 0h1m38 0h1m16 0h1m17 0h1m5 0h1m1 0h1M4 3.5h4m2 0h1m1 0h1m3 0h1m2 0h1m2 0h1m4 0h1m1 0h1m4 0h2m5 0h1m2 0h1m10 0h2m3 0h2m2 0h1m14 0h1m3 0h1m13 0h1m5 0h1m5 0h2m1 0h1m1 0h1m3 0h2m3 0h1m8 0h1m5 0h1m7 0h3m3 0h1m4 0h2m9 0h1m5 0h1m2 0h1m3 0h1m2 0h1m57 0h1m6 0h3m28 0h1m4 0h1m22 0h1m8 0h1m23 0h1M13 4.5h1m35 0h1m4 0h1m9 0h2m25 0h1m2 0h1m4 0h1m7 0h1m8 0h1m9 0h1m3 0h1m9 0h1m3 0h1m7 0h1m17 0h1m14 0h1m2 0h1m29 0h1m22 0h1m11 0h1m25 0h1m7 0h1m6 0h1m34 0h1m28 0h1m4 0h1m1 0h1M2 5.5h1m4 0h1m2 0h1m1 0h1m16 0h1m4 0h2m4 0h1m3 0h1m4 0h1m5 0h1m10 0h2m5 0h1m2 0h1m5 0h2m7 0h2m7 0h1m3 0h1m11 0h2m3 0h1m1 0h1m1 0h1m7 0h1m5 0h1m4 0h2m12 0h1m10 0h1m14 0h1m5 0h4m7 0h1m2 0h1m1 0h1m7 0h2m3 0h1m20 0h1m9 0h1m6 0h1m8 0h1m15 0h1m34 0h1m8 0h1m12 0h1m9 0h1m6 0h1m10 0h1M1 6.5h1m2 0h1m12 0h1m1 0h1m8 0h1m2 0h2m1 0h1m10 0h2m2 0h1m3 0h2m3 0h1m1 0h1m11 0h1m3 0h1m2 0h1m1 0h1m3 0h1m3 0h1m2 0h3m5 0h2m3 0h1m8 0h1m10 0h1m1 0h1m12 0h1m8 0h1m1 0h1m5 0h1m5 0h1m2 0h1m7 0h1m33 0h1m7 0h1m2 0h1m6 0h1m3 0h1m5 0h2m5 0h1m1 0h1m6 0h1m8 0h1m4 0h2m1 0h1m6 0h1m8 0h1m22 0h1m5 0h1m1 0h1m18 0h1M7 7.5h1m3 0h1m1 0h1m11 0h1m3 0h1m2 0h1m3 0h1m4 0h2m1 0h2m3 0h1m3 0h3m4 0h1m1 0h1m2 0h1m6 0h1m1 0h1m3 0h1m2 0h1m3 0h1m7 0h1m4 0h1m10 0h2m3 0h1m23 0h1m2 0h1m2 0h1m2 0h1m12 0h1m2 0h1m10 0h1m4 0h1m5 0h1m17 0h3m3 0h2m1 0h1m7 0h1m19 0h1m8 0h1m22 0h1m4 0h2m2 0h1m7 0h1m12 0h1m8 0h1m6 0h1m4 0h1m14 0h1m19 0h1M1 8.5h1m3 0h1m4 0h1m2 0h2m9 0h1m4 0h1m2 0h1m2 0h1m2 0h1m5 0h3m2 0h1m4 0h2m9 0h1m1 0h1m15 0h1m2 0h1m6 0h2m8 0h1m3 0h1m1 0h1m2 0h1m6 0h1m10 0h1m4 0h1m2 0h1m8 0h1m4 0h1m1 0h1m4 0h1m3 0h1m6 0h1m9 0h1m5 0h1m2 0h2m7 0h1m3 0h1m12 0h2m11 0h1m2 0h1m6 0h1m3 0h1m12 0h1m21 0h1m10 0h1m18 0h2m16 0h2m6 0h1m11 0h1m14 0h1M5 9.5h1m3 0h2m1 0h2m7 0h2m6 0h1m2 0h1m1 0h1m5 0h1m3 0h3m1 0h2m4 0h1m1 0h1m9 0h1m4 0h1m3 0h1m7 0h1m14 0h1m2 0h1m5 0h1m13 0h1m1 0h1m2 0h1m3 0h1m1 0h1m15 0h2m10 0h1m3 0h1m3 0h1m1 0h2m1 0h1m3 0h1m2 0h1m1 0h1m13 0h1m1 0h1m1 0h1m13 0h1m19 0h1m19 0h1m1 0h2m48 0h1m2 0h2m30 0h1m7 0h1m25 0h1m6 0h1M1 10.5h1m5 0h1m3 0h3m4 0h1m8 0h1m1 0h1m2 0h1m3 0h1m17 0h1m1 0h1m4 0h2m2 0h2m2 0h1m1 0h1m1 0h1m6 0h1m12 0h1m1 0h1m18 0h1m11 0h1m17 0h2m2 0h4m19 0h1m2 0h1m3 0h1m1 0h1m2 0h1m12 0h1m12 0h1m3 0h1m3 0h1m22 0h1m3 0h1m4 0h1m2 0h1m26 0h1m6 0h1m22 0h1m44 0h1m2 0h1m17 0h1M7 11.5h1m4 0h1m2 0h1m24 0h1m1 0h1m28 0h1m19 0h1m13 0h1m22 0h1m17 0h1m4 0h2m20 0h1m12 0h1m8 0h1m20 0h1m2 0h1m7 0h1m23 0h1m16 0h1m80 0h1M2 12.5h1m8 0h2m12 0h1m1 0h1m3 0h2m1 0h1m5 0h1m9 0h1m4 0h1m2 0h3m3 0h1m3 0h1m2 0h1m4 0h2m3 0h1m3 0h1m17 0h1m1 0h1m3 0h1m3 0h1m4 0h1m1 0h1m4 0h1m3 0h1m2 0h1m14 0h1m5 0h4m6 0h1m14 0h1m6 0h1m6 0h1m18 0h1m2 0h1m26 0h1m2 0h1m3 0h1m14 0h1m17 0h1m16 0h1M5 13.5h2m7 0h1m6 0h1m4 0h2m1 0h1m4 0h2m3 0h1m4 0h1m18 0h3m1 0h1m5 0h1m9 0h1m9 0h2m7 0h1m4 0h1m1 0h1m7 0h1m1 0h1m12 0h1m9 0h1m2 0h1m2 0h1m1 0h2m2 0h1m3 0h1m1 0h1m2 0h1m2 0h1m2 0h1m4 0h1m1 0h3m4 0h1m7 0h1m4 0h1m3 0h1m17 0h1m3 0h1m21 0h1m11 0h1m10 0h1m11 0h1m1 0h1m27 0h1m1 0h1m11 0h1m17 0h1m47 0h1M4 14.5h1m1 0h1m4 0h1m6 0h1m3 0h1m2 0h3m1 0h1m2 0h1m1 0h2m12 0h3m1 0h1m3 0h1m5 0h1m1 0h1m3 0h1m2 0h1m10 0h2m2 0h1m8 0h1m1 0h1m2 0h1m2 0h1m1 0h1m4 0h2m2 0h1m26 0h1m6 0h1m8 0h1m2 0h1m16 0h1m5 0h1m1 0h1m3 0h1m6 0h1m5 0h1m1 0h1m6 0h1m4 0h1m15 0h1m1 0h1m8 0h1m1 0h1m2 0h1m9 0h1m4 0h1m14 0h1m28 0h1m57 0h1m29 0h1M1 15.5h1m4 0h1m44 0h1m25 0h1m15 0h1m75 0h1m4 0h2m92 0h1m20 0h1m27 0h1m10 0h1m29 0h1M1 16.5h1m6 0h2m2 0h3m4 0h1m1 0h1m2 0h2m1 0h1m6 0h1m1 0h1m2 0h1m4 0h2m7 0h2m1 0h3m2 0h1m13 0h2m22 0h1m3 0h1m2 0h1m2 0h1m5 0h1m10 0h1m24 0h1m9 0h1m6 0h1m18 0h1m1 0h1m6 0h1m11 0h1m3 0h1m4 0h1m7 0h1m6 0h1m1 0h1m27 0h1m4 0h1m10 0h1m20 0h1m8 0h1m14 0h1m34 0h1m7 0h1m20 0h1M1 17.5h1m13 0h2m10 0h1m7 0h1m6 0h1m2 0h1m5 0h1m4 0h1m1 0h1m13 0h1m14 0h1m6 0h1m3 0h2m2 0h1m1 0h1m1 0h1m6 0h1m12 0h1m4 0h2m8 0h1m2 0h1m18 0h1m1 0h1m5 0h1m2 0h1m1 0h2m7 0h1m4 0h1m2 0h1m28 0h1m4 0h1m7 0h1m14 0h1m13 0h1m38 0h1m26 0h1m44 0h1M3 18.5h1m1 0h5m3 0h1m12 0h1m10 0h1m13 0h1m4 0h1m5 0h1m2 0h1m1 0h1m3 0h2m3 0h1m2 0h1m7 0h1m1 0h1m3 0h1m1 0h1m2 0h1m1 0h2m12 0h1m4 0h4m15 0h1m3 0h1m3 0h1m17 0h1m19 0h1m3 0h1m7 0h1m10 0h1m84 0h1m18 0h1m42 0h1m8 0h1M1 19.5h1m1 0h1m1 0h1m1 0h3m3 0h1m4 0h1m3 0h1m1 0h1m5 0h1m1 0h1m1 0h1m13 0h2m5 0h1m1 0h1m1 0h1m1 0h2m2 0h2m1 0h2m6 0h1m2 0h1m6 0h1m18 0h1m3 0h1m2 0h1m5 0h1m14 0h1m17 0h1m4 0h1m4 0h1m11 0h1m4 0h1m28 0h1m11 0h1m7 0h1m27 0h1m2 0h1m3 0h1m15 0h1m8 0h1m7 0h1m4 0h1m7 0h1m39 0h1m9 0h1m3 0h1m15 0h1m5 0h1M7 20.5h1m5 0h3m13 0h1m7 0h1m4 0h1m7 0h1m10 0h1m5 0h1m3 0h2m6 0h1m4 0h1m8 0h1m6 0h1m11 0h1m12 0h1m7 0h1m6 0h1m3 0h2m3 0h1m1 0h3m1 0h1m3 0h1m33 0h1m33 0h1m3 0h1m24 0h1m15 0h1m13 0h1m14 0h1m7 0h1m14 0h1m50 0h1m8 0h1m2 0h1M3 21.5h1m2 0h1m6 0h1m8 0h1m12 0h1m5 0h2m1 0h1m8 0h2m3 0h1m8 0h1m2 0h1m11 0h1m11 0h1m14 0h1m7 0h1m10 0h1m4 0h1m4 0h2m1 0h1m3 0h1m2 0h1m24 0h1m1 0h1m10 0h2m24 0h1m75 0h2m32 0h1m13 0h1m7 0h1m6 0h1m32 0h2m4 0h1M18 22.5h1m35 0h1m26 0h2m34 0h1m12 0h1m15 0h1m91 0h1m55 0h1m36 0h1m18 0h1M1 23.5h1m4 0h1m1 0h1m4 0h1m3 0h1m3 0h1m3 0h2m1 0h1m6 0h2m19 0h1m4 0h2m1 0h1m1 0h3m4 0h2m1 0h1m6 0h1m1 0h1m10 0h1m10 0h1m2 0h1m10 0h1m5 0h1m3 0h1m7 0h1m1 0h1m6 0h1m1 0h1m9 0h2m12 0h1m56 0h2m6 0h1m9 0h1m19 0h1m8 0h1m78 0h1M1 24.5h2m11 0h3m8 0h1m3 0h1m2 0h1m1 0h1m7 0h1m2 0h1m7 0h2m2 0h1m2 0h1m3 0h3m5 0h1m10 0h1m10 0h1m4 0h1m14 0h1m27 0h1m22 0h1m34 0h1m27 0h1m16 0h1m1 0h1m38 0h1m51 0h1m18 0h1m5 0h1M2 25.5h3m1 0h3m2 0h1m3 0h1m9 0h1m1 0h1m1 0h1m3 0h1m10 0h2m9 0h1m3 0h1m1 0h1m9 0h2m6 0h1m3 0h1m3 0h1m5 0h2m1 0h1m2 0h1m10 0h1m1 0h1m2 0h1m4 0h1m12 0h1m1 0h1m8 0h1m1 0h2m2 0h1m5 0h1m17 0h1m3 0h1m11 0h1m2 0h1m9 0h1m17 0h1m3 0h1m1 0h1m17 0h1m79 0h1m22 0h1m26 0h1m9 0h1M8 26.5h1m4 0h1m4 0h1m3 0h1m4 0h1m5 0h4m2 0h3m7 0h1m2 0h1m1 0h1m1 0h1m4 0h1m10 0h2m5 0h1m1 0h1m38 0h1m1 0h1m3 0h1m3 0h1m6 0h1m8 0h1m2 0h1m1 0h1m4 0h1m23 0h1m3 0h1m16 0h3m30 0h1m4 0h1m11 0h1m65 0h1m13 0h1m51 0h1m1 0h1M1 27.5h2m10 0h1m11 0h1m6 0h1m9 0h1m1 0h1m3 0h1m1 0h2m5 0h2m1 0h1m4 0h3m3 0h2m10 0h1m7 0h1m2 0h1m3 0h1m19 0h1m19 0h1m9 0h2m15 0h1m19 0h1m6 0h1m5 0h1m9 0h1m10 0h2m9 0h1m18 0h1m6 0h1m83 0h1m40 0h1M5 28.5h1m4 0h1m2 0h1m11 0h2m2 0h1m4 0h1m9 0h2m5 0h1m1 0h1m1 0h1m7 0h1m1 0h1m2 0h1m2 0h1m5 0h1m4 0h1m2 0h2m4 0h2m1 0h1m8 0h1m2 0h1m13 0h1m4 0h2m3 0h2m5 0h1m1 0h1m1 0h1m22 0h2m1 0h1m5 0h1m12 0h1m18 0h1m6 0h1m2 0h1m4 0h1m17 0h1m11 0h1m10 0h1m28 0h2m30 0h1m10 0h1m7 0h1m1 0h1M6 29.5h1m3 0h1m8 0h1m4 0h1m7 0h2m1 0h1m3 0h1m1 0h1m3 0h2m2 0h1m1 0h1m3 0h1m9 0h1m6 0h1m2 0h1m2 0h1m2 0h1m1 0h1m2 0h1m8 0h1m4 0h1m11 0h1m14 0h1m19 0h1m9 0h1m19 0h1m8 0h1m15 0h1m38 0h1m3 0h1m76 0h1m11 0h1m3 0h1m5 0h1m29 0h1m10 0h1M1 30.5h2m1 0h1m8 0h1m3 0h2m1 0h1m6 0h1m6 0h1m4 0h1m1 0h1m4 0h1m4 0h1m2 0h1m1 0h2m4 0h1m12 0h1m4 0h1m4 0h1m1 0h1m2 0h1m12 0h1m1 0h1m4 0h1m10 0h1m14 0h1m2 0h1m4 0h1m4 0h1m26 0h1m9 0h1m2 0h1m12 0h1m13 0h1m13 0h1m6 0h1m18 0h1m3 0h1m56 0h1m16 0h1M3 31.5h2m9 0h1m9 0h1m1 0h2m4 0h1m1 0h1m9 0h1m5 0h2m1 0h1m3 0h1m2 0h1m11 0h1m5 0h3m5 0h1m5 0h1m22 0h1m3 0h1m4 0h1m15 0h1m7 0h1m2 0h2m61 0h1m23 0h1m3 0h1m6 0h1m74 0h1m10 0h1m18 0h1m15 0h1M4 32.5h1m4 0h2m2 0h2m6 0h1m1 0h1m2 0h1m2 0h1m4 0h1m4 0h1m5 0h1m5 0h1m4 0h1m3 0h1m1 0h1m1 0h2m1 0h1m11 0h1m6 0h2m1 0h1m4 0h1m23 0h1m6 0h1m2 0h1m2 0h1m17 0h1m19 0h1m5 0h1m3 0h2m1 0h1m7 0h1m2 0h1m22 0h2m18 0h2m4 0h1m8 0h1m31 0h1m14 0h1m24 0h1m23 0h1m18 0h1m9 0h1M3 33.5h1m7 0h1m10 0h1m2 0h2m2 0h1m4 0h2m6 0h1m2 0h1m2 0h2m5 0h2m2 0h1m1 0h1m4 0h3m4 0h1m19 0h2m3 0h1m6 0h1m9 0h2m4 0h1m9 0h1m1 0h1m12 0h1m5 0h1m2 0h1m3 0h1m3 0h1m4 0h1m8 0h1m4 0h2m16 0h1m3 0h1m12 0h1m31 0h1m5 0h1m1 0h1m19 0h1m21 0h1m23 0h1m28 0h1M1 34.5h2m4 0h1m4 0h1m2 0h1m1 0h1m7 0h2m1 0h1m3 0h2m5 0h1m5 0h1m7 0h1m2 0h1m5 0h1m5 0h1m2 0h2m9 0h1m1 0h1m16 0h1m5 0h1m6 0h1m2 0h1m2 0h1m8 0h1m10 0h1m5 0h2m9 0h1m8 0h1m7 0h1m13 0h1m6 0h2m6 0h1m8 0h1m3 0h1m10 0h1m16 0h1m4 0h1m11 0h1m4 0h1m11 0h1m48 0h1m4 0h1m37 0h1M2 35.5h2m1 0h2m2 0h2m4 0h1m2 0h1m10 0h1m2 0h1m2 0h1m1 0h1m5 0h2m6 0h2m3 0h1m8 0h1m2 0h1m4 0h1m2 0h1m2 0h1m3 0h1m6 0h1m1 0h1m4 0h2m5 0h1m2 0h1m1 0h1m5 0h1m2 0h1m1 0h1m1 0h1m7 0h1m18 0h1m18 0h1m5 0h1m2 0h1m17 0h1m4 0h1m7 0h1m7 0h1m20 0h1m11 0h1m6 0h1m66 0h1m5 0h1M1 36.5h1m3 0h2m1 0h6m3 0h1m9 0h1m6 0h1m10 0h1m2 0h1m9 0h1m1 0h1m4 0h1m1 0h1m12 0h1m1 0h2m13 0h1m3 0h1m1 0h1m1 0h1m14 0h2m1 0h1m6 0h1m2 0h1m16 0h1m22 0h1m18 0h1m4 0h1m9 0h2m5 0h1m2 0h1m46 0h1m14 0h1m17 0h1m12 0h1m7 0h1m17 0h1m44 0h1M10 37.5h1m14 0h1m20 0h1m32 0h1m12 0h1m21 0h1m81 0h1M6 38.5h1m1 0h1m3 0h1m1 0h1m5 0h2m3 0h1m1 0h1m3 0h2m6 0h1m2 0h1m2 0h1m6 0h1m2 0h1m1 0h1m4 0h3m8 0h1m2 0h1m2 0h1m18 0h1m4 0h2m10 0h1m5 0h1m8 0h1m5 0h1m3 0h1m7 0h1m35 0h1m5 0h1m5 0h1m3 0h1m13 0h2m33 0h1m6 0h1m36 0h1m70 0h1M1 39.5h1m2 0h1m1 0h2m1 0h4m1 0h1m6 0h1m2 0h1m2 0h1m7 0h1m5 0h1m2 0h1m1 0h1m2 0h1m4 0h1m5 0h3m4 0h2m4 0h1m4 0h2m3 0h1m5 0h2m1 0h1m9 0h2m6 0h1m1 0h1m10 0h2m3 0h1m17 0h1m1 0h1m9 0h1m7 0h1m2 0h1m16 0h1m9 0h1m5 0h1m6 0h1m3 0h3m1 0h1m50 0h1m12 0h1M1 40.5h5m8 0h1m1 0h1m1 0h1m5 0h1m7 0h1m1 0h1m1 0h1m5 0h1m2 0h1m5 0h1m3 0h1m6 0h1m8 0h1m11 0h1m2 0h1m5 0h2m3 0h1m7 0h1m2 0h1m6 0h1m10 0h1m3 0h1m4 0h1m9 0h2m4 0h1m5 0h1m7 0h1m4 0h1m20 0h1m1 0h1m6 0h1m1 0h2m21 0h1m82 0h1m68 0h1M2 41.5h1m1 0h1m5 0h1m4 0h1m1 0h2m10 0h1m2 0h1m3 0h2m7 0h2m4 0h1m8 0h1m10 0h1m2 0h1m6 0h1m1 0h1m6 0h3m7 0h1m8 0h1m10 0h1m16 0h1m3 0h1m2 0h1m1 0h1m13 0h1m3 0h1m21 0h1m5 0h1m22 0h1m11 0h1m20 0h1m36 0h1m49 0h1M3 42.5h1m2 0h1m1 0h1m2 0h3m4 0h2m1 0h2m2 0h1m6 0h1m2 0h2m3 0h2m3 0h2m2 0h1m1 0h1m1 0h1m9 0h1m4 0h1m5 0h1m5 0h1m1 0h2m1 0h2m5 0h1m4 0h2m4 0h1m5 0h1m1 0h1m3 0h1m3 0h3m1 0h1m5 0h1m10 0h1m8 0h1m3 0h1m2 0h1m2 0h1m5 0h2m3 0h1m22 0h1m16 0h1m7 0h1m49 0h1m76 0h1m44 0h1M2 43.5h2m1 0h1m3 0h1m2 0h1m3 0h2m1 0h1m2 0h1m3 0h1m3 0h1m1 0h1m1 0h2m4 0h3m1 0h1m9 0h1m6 0h2m1 0h1m1 0h2m5 0h2m2 0h1m1 0h1m5 0h1m1 0h1m6 0h2m6 0h3m4 0h1m12 0h1m3 0h2m2 0h1m7 0h1m5 0h1m3 0h2m1 0h1m4 0h1m17 0h1m19 0h1m8 0h1m4 0h2m44 0h1m17 0h1m12 0h1m28 0h1m66 0h1m2 0h1M3 44.5h1m3 0h1m2 0h2m1 0h2m1 0h1m1 0h2m14 0h1m10 0h1m5 0h1m3 0h1m4 0h1m5 0h1m5 0h1m3 0h1m6 0h1m1 0h1m14 0h1m8 0h1m2 0h1m3 0h1m1 0h1m1 0h1m2 0h1m4 0h1m1 0h1m6 0h1m9 0h2m39 0h1m2 0h1m5 0h1m2 0h1m33 0h1m2 0h1m21 0h1M3 45.5h1m7 0h1m4 0h2m3 0h2m6 0h1m3 0h1m2 0h2m1 0h1m8 0h2m1 0h1m4 0h1m1 0h2m4 0h1m9 0h1m4 0h1m3 0h1m10 0h2m5 0h1m1 0h1m12 0h1m3 0h2m6 0h3m2 0h1m4 0h1m1 0h1m7 0h1m3 0h1m5 0h1m10 0h1m6 0h1m9 0h1m13 0h1m24 0h1m44 0h1m40 0h1m43 0h1m6 0h1m21 0h1M2 46.5h1m5 0h3m2 0h2m9 0h1m4 0h1m2 0h1m2 0h3m1 0h1m3 0h1m4 0h1m13 0h1m1 0h2m2 0h1m10 0h1m3 0h1m7 0h1m8 0h1m9 0h1m1 0h1m3 0h1m2 0h1m12 0h1m9 0h1m2 0h1m1 0h1m1 0h1m46 0h1m16 0h1m24 0h1m1 0h1m21 0h1m4 0h1m24 0h1m17 0h1m32 0h1M2 47.5h2m5 0h1m1 0h1m4 0h1m12 0h1m2 0h2m1 0h1m4 0h1m1 0h1m2 0h1m2 0h1m13 0h1m3 0h2m5 0h1m3 0h1m1 0h1m5 0h1m7 0h1m5 0h1m4 0h1m2 0h1m9 0h1m3 0h1m6 0h1m11 0h1m1 0h1m7 0h2m4 0h1m13 0h1m28 0h1m34 0h1m2 0h1m11 0h1m17 0h1m10 0h1m26 0h1m16 0h1M1 48.5h1m1 0h1m3 0h3m2 0h1m3 0h1m7 0h2m5 0h2m1 0h1m1 0h1m3 0h2m2 0h1m16 0h1m2 0h1m2 0h1m4 0h1m5 0h1m2 0h1m3 0h1m1 0h1m9 0h2m4 0h1m5 0h1m15 0h1m11 0h1m7 0h1m1 0h1m4 0h1m3 0h1m3 0h1m10 0h1m2 0h1m2 0h1m2 0h1m7 0h1m13 0h1m80 0h2m3 0h1m40 0h1M2 49.5h2m4 0h1m1 0h1m3 0h1m1 0h2m7 0h1m3 0h1m1 0h3m7 0h1m6 0h1m18 0h1m8 0h2m7 0h1m17 0h1m23 0h2m1 0h1m28 0h1m3 0h1m10 0h2m3 0h1m7 0h1m8 0h1m4 0h1m16 0h1m22 0h1m1 0h1M2 50.5h1m3 0h1m4 0h1m2 0h1m6 0h1m19 0h1m2 0h1m9 0h3m1 0h1m2 0h1m3 0h2m3 0h3m5 0h1m1 0h1m2 0h1m11 0h1m2 0h1m4 0h1m3 0h1m10 0h1m1 0h2m7 0h1m2 0h1m5 0h1m1 0h1m25 0h1m2 0h1m5 0h1m31 0h1m23 0h1m6 0h1m2 0h1m3 0h1m8 0h1m23 0h1m26 0h1m15 0h1m1 0h1M1 51.5h1m8 0h1m3 0h1m3 0h1m1 0h1m3 0h1m2 0h3m4 0h1m5 0h2m3 0h1m15 0h1m3 0h1m1 0h1m3 0h2m10 0h1m3 0h1m2 0h1m7 0h1m5 0h1m27 0h1m8 0h1m21 0h1m4 0h2m20 0h2m10 0h1m8 0h1m102 0h1m15 0h1m1 0h1m42 0h1M2 52.5h1m1 0h1m6 0h1m1 0h1m2 0h1m5 0h1m4 0h1m2 0h1m3 0h1m4 0h1m11 0h1m12 0h2m10 0h1m2 0h1m12 0h1m1 0h1m14 0h1m4 0h1m9 0h3m5 0h1m12 0h3m22 0h1m7 0h1m21 0h1m19 0h1m49 0h1m5 0h1m6 0h1m6 0h1m5 0h1m27 0h1M5 53.5h4m1 0h1m1 0h1m3 0h2m2 0h1m4 0h2m12 0h1m2 0h1m3 0h1m2 0h1m5 0h2m4 0h1m5 0h1m23 0h1m4 0h1m6 0h2m12 0h1m2 0h1m1 0h1m7 0h2m10 0h1m8 0h1m8 0h2m11 0h2m21 0h2m8 0h1m1 0h1m9 0h2m28 0h1m9 0h1m70 0h1m45 0h1M1 54.5h1m6 0h1m2 0h1m1 0h2m1 0h1m3 0h1m1 0h1m1 0h2m1 0h1m4 0h1m23 0h1m5 0h1m2 0h1m5 0h2m3 0h1m3 0h1m3 0h1m2 0h1m8 0h1m1 0h1m4 0h1m12 0h1m1 0h1m3 0h1m1 0h1m16 0h2m13 0h1m1 0h1m2 0h1m4 0h1m24 0h1m4 0h1m3 0h1m55 0h2m10 0h1m29 0h1m2 0h1M0 55.5h1m8 0h3m12 0h1m12 0h1m3 0h1m3 0h2m9 0h1m4 0h3m1 0h3m8 0h1m2 0h1m5 0h1m11 0h1m9 0h1m1 0h1m2 0h1m14 0h1m13 0h1m5 0h1m48 0h1m2 0h1m18 0h1m32 0h1m66 0h1m39 0h1M1 56.5h1m2 0h1m4 0h1m4 0h1m2 0h1m8 0h1m11 0h1m2 0h1m4 0h1m2 0h1m3 0h1m1 0h1m4 0h1m3 0h2m1 0h1m1 0h1m8 0h1m6 0h1m1 0h1m19 0h1m2 0h1m18 0h2m16 0h1m5 0h2m5 0h1m9 0h1m34 0h1m3 0h1m179 0h1M12 57.5h1m3 0h1m9 0h1m2 0h1m5 0h1m4 0h1m12 0h1m4 0h1m1 0h1m1 0h1m2 0h2m1 0h2m4 0h1m10 0h1m7 0h1m5 0h2m1 0h1m1 0h1m4 0h1m11 0h1m9 0h1m19 0h1m11 0h2m60 0h1m14 0h1m29 0h1m93 0h1m25 0h1M13 58.5h1m51 0h1m49 0h1m32 0h1m12 0h1m13 0h1m12 0h1m60 0h1m117 0h1M4 59.5h3m4 0h1m4 0h1m6 0h1m9 0h1m5 0h1m1 0h2m2 0h1m2 0h1m2 0h2m4 0h1m3 0h1m11 0h1m5 0h3m1 0h1m6 0h1m15 0h1m4 0h1m3 0h1m22 0h1m1 0h1m15 0h1m6 0h1m6 0h1m6 0h1m25 0h1m19 0h1m54 0h1m30 0h1M4 60.5h1m7 0h2m2 0h1m5 0h1m4 0h1m5 0h2m1 0h1m5 0h1m7 0h1m7 0h1m3 0h1m4 0h1m8 0h1m2 0h1m5 0h1m14 0h1m16 0h1m1 0h1m6 0h1m1 0h1m1 0h1m13 0h1m2 0h2m1 0h1m24 0h1m28 0h1m4 0h1m6 0h1m20 0h1m59 0h1M6 61.5h1m2 0h1m8 0h1m4 0h1m17 0h1m23 0h1m25 0h1m6 0h1m19 0h1m33 0h1m20 0h1m105 0h1m12 0h1M5 62.5h1m8 0h1m1 0h2m6 0h1m11 0h1m2 0h1m1 0h1m6 0h1m1 0h2m6 0h2m5 0h1m7 0h1m2 0h1m5 0h1m14 0h1m2 0h3m2 0h1m4 0h1m2 0h1m9 0h1m17 0h1m8 0h1m4 0h1m36 0h1m2 0h1m27 0h1m9 0h1m19 0h1m18 0h1m36 0h1m39 0h1m18 0h1M2 63.5h1m5 0h1m5 0h1m9 0h2m5 0h1m12 0h1m11 0h1m2 0h1m2 0h1m2 0h1m1 0h1m7 0h1m27 0h1m3 0h1m25 0h1m10 0h1m14 0h1m1 0h1m4 0h1m19 0h1m13 0h1m6 0h1m1 0h1m13 0h1m55 0h1m91 0h1m2 0h1m1 0h1m12 0h1M9 64.5h1m1 0h1m34 0h1m28 0h1m17 0h1m9 0h1m13 0h2m8 0h1m216 0h1M4 65.5h2m4 0h1m14 0h1m3 0h1m3 0h1m1 0h1m2 0h1m7 0h3m9 0h1m5 0h1m6 0h1m2 0h1m4 0h1m2 0h1m9 0h1m8 0h2m17 0h1m4 0h1m3 0h1m4 0h1m12 0h1m54 0h1m16 0h1m1 0h1m17 0h1m17 0h1m10 0h1m15 0h1m33 0h1M14 66.5h1m1 0h1m30 0h1m13 0h1m4 0h1m5 0h1m3 0h1m30 0h1m129 0h1M4 67.5h1m8 0h2m29 0h1m5 0h2m4 0h1m13 0h1m1 0h1m5 0h1m43 0h1m59 0h1m44 0h1m27 0h1m20 0h1m88 0h1m1 0h1M1 68.5h1m4 0h1m7 0h1m3 0h2m9 0h1m5 0h1m12 0h3m1 0h1m5 0h1m2 0h2m1 0h1m2 0h1m3 0h2m4 0h1m8 0h1m6 0h1m8 0h1m15 0h1m2 0h1m6 0h1m11 0h1m1 0h1m4 0h1m13 0h1m24 0h1m11 0h1m15 0h1m1 0h1m32 0h1m83 0h1m44 0h1M2 69.5h2m2 0h1m3 0h1m5 0h2m7 0h1m7 0h1m1 0h1m1 0h1m3 0h1m3 0h1m4 0h1m6 0h1m2 0h1m14 0h2m2 0h2m19 0h1m2 0h1m5 0h1m2 0h1m4 0h2m50 0h1m32 0h1m22 0h1m14 0h1m25 0h1m23 0h1m3 0h1m37 0h1m10 0h1m44 0h1M8 70.5h1m2 0h1m4 0h1m2 0h1m26 0h1m1 0h1m1 0h1m26 0h1m14 0h1m2 0h1m11 0h1m84 0h1m48 0h1m3 0h1m17 0h1m21 0h1m13 0h1m36 0h1m4 0h1M2 71.5h1m14 0h2m15 0h1m6 0h1m7 0h1m10 0h2m6 0h1m2 0h3m3 0h1m3 0h1m10 0h1m10 0h2m6 0h1m6 0h1m37 0h1m6 0h1m21 0h1m10 0h1m18 0h1m81 0h1m24 0h1m61 0h1M0 72.5h1m8 0h1m3 0h2m11 0h1m8 0h1m1 0h2m5 0h1m5 0h1m2 0h2m6 0h1m1 0h1m2 0h4m8 0h1m4 0h1m3 0h1m8 0h1m7 0h1m13 0h1m7 0h1m6 0h1m10 0h1m8 0h1m31 0h1m40 0h1m4 0h1m9 0h1m41 0h1m7 0h1M0 73.5h1m16 0h1m1 0h1m6 0h1m6 0h1m3 0h1m11 0h1m5 0h1m9 0h1m2 0h1m38 0h1m7 0h3m60 0h1m4 0h1m54 0h1m69 0h1M1 74.5h1m6 0h1m1 0h1m2 0h1m27 0h1m3 0h1m10 0h1m5 0h1m2 0h1m5 0h1m7 0h1m1 0h1m10 0h1m7 0h1m4 0h1m3 0h1m7 0h1m1 0h1m1 0h1m54 0h1m29 0h1m71 0h1m30 0h1m45 0h1m13 0h1M38 75.5h1m2 0h1m12 0h1m6 0h1m6 0h1m25 0h1m8 0h1m1 0h1m32 0h2m21 0h1m104 0h1m32 0h1m86 0h1m2 0h1M5 76.5h1m2 0h1m2 0h1m5 0h2m6 0h1m13 0h1m11 0h1m27 0h1m13 0h2m1 0h1m4 0h1m13 0h1m11 0h1m5 0h1m10 0h1m61 0h1m2 0h1m57 0h1m12 0h1m30 0h1m35 0h1m36 0h1m9 0h1M6 77.5h1m1 0h1m1 0h1m1 0h1m3 0h1m2 0h1m2 0h1m2 0h1m3 0h1m6 0h1m15 0h1m1 0h2m6 0h1m1 0h2m5 0h1m7 0h2m13 0h1m10 0h1m22 0h1m4 0h1m6 0h1m28 0h1m3 0h3m4 0h1m22 0h1m2 0h1m5 0h1m49 0h1m7 0h1m38 0h1m13 0h1m4 0h1m15 0h1m6 0h1M3 78.5h2m7 0h1m3 0h1m1 0h1m1 0h1m4 0h1m8 0h1m22 0h1m8 0h1m11 0h1m6 0h2m6 0h1m2 0h1m4 0h1m21 0h3m60 0h1m54 0h1m12 0h1m54 0h1m7 0h1m24 0h1m45 0h1M7 79.5h1m4 0h1m11 0h1m10 0h1m2 0h1m2 0h1m4 0h1m1 0h2m6 0h1m8 0h1m2 0h1m7 0h1m1 0h3m8 0h1m1 0h1m11 0h1m57 0h1m177 0h1m1 0h1m12 0h1m39 0h1M24 80.5h1m3 0h1m20 0h1m5 0h1m44 0h1m244 0h1M1 81.5h1m14 0h1m1 0h1m9 0h1m11 0h1m7 0h2m4 0h1m21 0h1m9 0h1m14 0h1m1 0h1m3 0h1m12 0h1m25 0h1m4 0h1m28 0h1m38 0h1m29 0h1m1 0h1m10 0h1m113 0h1M5 82.5h1m3 0h1m6 0h1m10 0h1m1 0h1m2 0h1m2 0h1m3 0h2m12 0h1m4 0h2m1 0h1m13 0h1m2 0h1m7 0h1m4 0h1m2 0h1m2 0h1m6 0h1m10 0h1m6 0h1m25 0h1m36 0h1m32 0h1m57 0h1m31 0h1m50 0h1M6 83.5h1m5 0h1m12 0h1m3 0h1m3 0h1m6 0h3m4 0h1m5 0h2m19 0h1m1 0h1m25 0h1m3 0h1m2 0h1m11 0h2m7 0h1m116 0h1m2 0h1m28 0h1m5 0h1m10 0h1m71 0h1M61 84.5h1m17 0h1m39 0h1m82 0h1m20 0h1m118 0h1m23 0h1m15 0h1M13 85.5h1m4 0h1m7 0h1m26 0h1m5 0h1m2 0h1m3 0h1m24 0h1m2 0h1m8 0h1m3 0h1m8 0h1m25 0h1m4 0h1m1 0h1m17 0h1m20 0h1m75 0h1m16 0h1m45 0h1M13 86.5h1m18 0h1m25 0h1m24 0h1m14 0h1m70 0h1m124 0h1m31 0h1" stroke="#9c91c7"/>
<path d="M45 .5h1m7 0h1m2 0h1m21 0h1m21 0h1m54 0h1m56 0h1m20 0h1m14 0h1m2 0h1m3 0h1m7 0h1m39 0h1m12 0h1m39 0h1m11 0h1m30 0h1M10 1.5h1m21 0h1m19 0h1m12 0h1m12 0h2m31 0h1m26 0h1m2 0h1m5 0h1m2 0h1m9 0h1m9 0h1m17 0h1m25 0h1m1 0h1m4 0h1m8 0h1m5 0h1m9 0h1m33 0h1m5 0h1m9 0h1m2 0h1m9 0h1m1 0h1m2 0h1m30 0h2M1 2.5h1m4 0h3m2 0h3m12 0h1m8 0h1m5 0h1m7 0h1m2 0h3m1 0h2m2 0h2m10 0h2m2 0h2m1 0h1m1 0h2m4 0h1m3 0h2m3 0h3m2 0h1m1 0h1m1 0h1m3 0h1m15 0h1m1 0h1m21 0h2m10 0h1m4 0h1m1 0h1m1 0h1m7 0h1m2 0h1m15 0h1m3 0h1m7 0h1m13 0h1m8 0h2m10 0h1m9 0h1m2 0h1m1 0h1m10 0h1m5 0h1m1 0h1m30 0h1m14 0h1m13 0h1m4 0h1m4 0h2m5 0h1m8 0h1m10 0h2m9 0h1M2 3.5h2m5 0h1m1 0h1m1 0h1m3 0h1m2 0h1m2 0h1m1 0h2m9 0h1m2 0h1m5 0h4m2 0h1m1 0h1m4 0h2m7 0h2m2 0h2m3 0h2m2 0h1m1 0h1m3 0h1m2 0h1m3 0h2m16 0h1m3 0h1m1 0h1m9 0h1m2 0h2m1 0h1m6 0h1m19 0h1m3 0h1m13 0h1m3 0h1m14 0h1m1 0h2m1 0h1m3 0h2m3 0h2m10 0h1m2 0h1m20 0h1m8 0h1m2 0h2m2 0h1m1 0h1m3 0h1m8 0h1m4 0h1m13 0h1m4 0h1m1 0h1m6 0h1m58 0h1m8 0h2m3 0h1M3 4.5h1m1 0h1m2 0h1m7 0h3m7 0h1m10 0h2m3 0h1m12 0h1m5 0h1m4 0h1m6 0h1m5 0h1m3 0h1m1 0h1m1 0h1m12 0h1m1 0h1m2 0h1m12 0h1m12 0h1m6 0h2m1 0h1m17 0h1m5 0h1m11 0h1m4 0h1m15 0h1m10 0h2m1 0h1m4 0h1m16 0h1m3 0h1m5 0h2m2 0h1m6 0h1m14 0h1m13 0h1m3 0h1m7 0h1m35 0h2m6 0h1m3 0h1m14 0h1M1 5.5h1m3 0h1m3 0h1m1 0h1m1 0h4m5 0h1m1 0h1m7 0h1m5 0h2m2 0h1m3 0h3m2 0h1m1 0h1m2 0h1m3 0h1m4 0h1m8 0h1m2 0h1m2 0h1m24 0h3m7 0h1m4 0h1m6 0h1m1 0h1m1 0h2m9 0h1m5 0h1m3 0h2m2 0h1m6 0h1m4 0h1m6 0h1m2 0h1m3 0h1m11 0h1m17 0h1m10 0h1m1 0h1m12 0h2m2 0h2m19 0h1m3 0h1m10 0h1m9 0h1m6 0h1m1 0h1m16 0h1m14 0h1m1 0h2m24 0h1m6 0h1M2 6.5h1m4 0h1m3 0h1m1 0h2m8 0h1m2 0h1m14 0h1m6 0h1m3 0h1m2 0h3m3 0h1m3 0h1m1 0h2m6 0h1m10 0h1m4 0h1m5 0h1m1 0h1m2 0h1m4 0h1m8 0h1m1 0h1m1 0h1m10 0h2m4 0h3m14 0h1m1 0h1m1 0h1m6 0h1m12 0h1m1 0h1m2 0h1m2 0h1m1 0h1m6 0h1m6 0h1m7 0h1m9 0h1m32 0h1m3 0h1m1 0h1m11 0h1m6 0h1m10 0h1m11 0h1m8 0h1m4 0h1m7 0h1m7 0h1m1 0h1m10 0h1m12 0h2m13 0h1m21 0h1M1 7.5h1m1 0h1m4 0h1m3 0h1m1 0h1m1 0h1m11 0h1m6 0h1m3 0h2m5 0h1m1 0h1m3 0h1m3 0h1m2 0h1m6 0h3m2 0h1m4 0h2m8 0h1m7 0h1m5 0h1m1 0h4m12 0h2m2 0h1m1 0h1m2 0h1m1 0h1m1 0h2m6 0h1m6 0h1m2 0h2m13 0h1m1 0h1m3 0h1m4 0h1m22 0h2m2 0h1m11 0h1m7 0h1m9 0h1m5 0h1m19 0h1m20 0h1m17 0h1m24 0h1m10 0h1m1 0h1m13 0h1m10 0h1m3 0h1m2 0h1m4 0h1m9 0h2m4 0h1M0 8.5h1m1 0h3m1 0h1m13 0h1m1 0h1m2 0h3m6 0h1m4 0h1m2 0h1m10 0h1m2 0h1m1 0h2m2 0h1m10 0h4m3 0h1m1 0h1m4 0h1m2 0h1m1 0h1m4 0h1m4 0h1m2 0h1m5 0h1m3 0h1m1 0h1m3 0h1m9 0h3m8 0h1m3 0h1m1 0h3m15 0h1m6 0h1m13 0h1m7 0h1m1 0h1m7 0h1m2 0h1m3 0h3m2 0h1m50 0h1m14 0h1m5 0h1m9 0h1m5 0h2m10 0h1m6 0h1m13 0h1m8 0h1m6 0h1m28 0h1M2 9.5h1m1 0h1m1 0h3m2 0h1m4 0h1m6 0h1m1 0h1m9 0h1m3 0h1m15 0h1m4 0h1m6 0h1m13 0h1m10 0h1m1 0h1m1 0h2m7 0h1m4 0h2m5 0h2m25 0h1m2 0h1m3 0h1m3 0h1m2 0h1m15 0h3m4 0h1m2 0h1m16 0h1m1 0h1m4 0h1m2 0h1m4 0h1m3 0h1m2 0h1m9 0h1m2 0h1m3 0h1m21 0h1m4 0h1m2 0h1m1 0h1m4 0h1m6 0h1m8 0h1m24 0h1m4 0h1m1 0h1m12 0h2m14 0h1m3 0h1m2 0h1m6 0h1m1 0h1m12 0h1m5 0h1M2 10.5h5m3 0h1m3 0h1m1 0h2m1 0h2m3 0h1m1 0h1m1 0h1m4 0h1m5 0h1m1 0h1m5 0h3m1 0h1m1 0h1m1 0h1m1 0h1m5 0h2m2 0h1m4 0h1m3 0h1m5 0h1m2 0h1m3 0h1m13 0h1m1 0h2m2 0h2m14 0h1m5 0h1m6 0h1m17 0h4m3 0h1m2 0h1m20 0h1m2 0h2m8 0h3m1 0h1m5 0h1m7 0h2m10 0h1m62 0h1m7 0h1m4 0h1m3 0h2m17 0h1m17 0h1m1 0h1m3 0h1m2 0h1m11 0h2m7 0h1m7 0h1M1 11.5h1m1 0h1m1 0h1m4 0h1m2 0h1m7 0h1m8 0h1m6 0h1m13 0h1m2 0h1m1 0h1m1 0h2m2 0h1m21 0h2m8 0h1m8 0h1m21 0h1m51 0h1m5 0h1m26 0h1m13 0h1m15 0h1m58 0h1m12 0h1m10 0h2m4 0h1m4 0h1m4 0h1m12 0h1m7 0h1m3 0h1m5 0h1m4 0h1M5 12.5h2m1 0h1m1 0h1m3 0h1m2 0h3m1 0h1m2 0h1m4 0h1m3 0h1m3 0h3m1 0h1m2 0h2m3 0h1m6 0h1m4 0h1m4 0h2m4 0h1m19 0h1m1 0h1m6 0h1m4 0h2m8 0h1m4 0h1m8 0h1m7 0h1m1 0h1m5 0h1m2 0h1m1 0h1m5 0h1m7 0h1m2 0h2m5 0h1m3 0h1m8 0h1m16 0h1m10 0h2m10 0h1m17 0h1m3 0h1m5 0h1m11 0h1m9 0h1m5 0h1m8 0h2m16 0h1m2 0h1m14 0h1m4 0h1m3 0h1m1 0h2m5 0h1m1 0h1m5 0h1m3 0h1M3 13.5h2m3 0h3m1 0h2m2 0h1m2 0h1m5 0h1m7 0h1m3 0h1m8 0h1m10 0h1m3 0h1m4 0h1m8 0h3m3 0h1m3 0h1m3 0h2m8 0h2m2 0h2m1 0h1m8 0h2m1 0h1m3 0h1m2 0h3m5 0h1m6 0h1m3 0h1m2 0h1m4 0h1m4 0h1m6 0h1m5 0h1m9 0h1m4 0h1m9 0h1m6 0h1m2 0h2m1 0h1m5 0h2m8 0h1m2 0h1m3 0h1m3 0h1m5 0h1m12 0h1m2 0h1m10 0h1m1 0h1m14 0h1m13 0h1m7 0h1m13 0h1m2 0h1m2 0h1m6 0h2m6 0h1M1 14.5h3m1 0h1m2 0h1m1 0h1m2 0h2m2 0h1m2 0h1m2 0h2m3 0h1m7 0h1m5 0h1m2 0h1m11 0h2m4 0h1m1 0h1m4 0h1m2 0h1m1 0h3m1 0h1m5 0h1m3 0h1m3 0h1m8 0h1m3 0h1m9 0h2m1 0h1m1 0h1m18 0h1m1 0h1m1 0h1m4 0h2m5 0h1m1 0h1m9 0h1m24 0h1m6 0h2m1 0h1m4 0h1m1 0h1m7 0h2m3 0h1m4 0h1m7 0h1m2 0h1m21 0h2m3 0h1m2 0h1m51 0h1m6 0h1m40 0h1m1 0h1M4 15.5h1m8 0h1m40 0h2m3 0h1m13 0h1m21 0h1m5 0h1m34 0h1m13 0h1m1 0h1m7 0h1m12 0h1m8 0h1m2 0h1m5 0h1m1 0h1m19 0h1m8 0h1m2 0h1m58 0h1m10 0h1m4 0h1m15 0h1m19 0h1m11 0h1m18 0h1m7 0h2M2 16.5h1m3 0h2m9 0h1m11 0h1m1 0h2m2 0h1m1 0h1m4 0h1m3 0h6m8 0h1m1 0h2m2 0h1m18 0h2m6 0h1m4 0h1m1 0h1m6 0h1m8 0h1m1 0h1m9 0h1m4 0h1m3 0h2m1 0h1m1 0h1m2 0h2m5 0h1m1 0h1m3 0h2m4 0h1m1 0h1m3 0h1m2 0h2m3 0h1m2 0h2m3 0h1m10 0h1m7 0h1m4 0h1m7 0h1m2 0h2m10 0h1m1 0h1m4 0h2m7 0h1m3 0h1m10 0h1m3 0h1m29 0h1m7 0h1m18 0h1m5 0h1m7 0h1m25 0h1m19 0h1M2 17.5h1m1 0h1m1 0h1m6 0h1m10 0h1m3 0h2m2 0h1m8 0h1m4 0h1m8 0h1m5 0h2m3 0h1m4 0h1m1 0h1m1 0h1m1 0h1m5 0h1m2 0h1m10 0h1m5 0h1m11 0h4m3 0h1m4 0h1m2 0h1m9 0h1m4 0h4m1 0h1m1 0h2m1 0h1m1 0h2m14 0h1m4 0h1m4 0h1m11 0h2m4 0h1m8 0h1m2 0h2m10 0h1m2 0h1m1 0h1m1 0h1m4 0h1m5 0h1m3 0h2m23 0h1m7 0h1m14 0h2m5 0h1m1 0h1m6 0h1m1 0h1m7 0h1m3 0h1m7 0h1m2 0h1m8 0h1m17 0h1m1 0h1m8 0h1m7 0h2m8 0h1M1 18.5h2m8 0h2m1 0h1m1 0h2m6 0h1m3 0h2m2 0h1m5 0h1m1 0h1m1 0h1m2 0h1m2 0h1m4 0h2m2 0h2m7 0h1m1 0h1m6 0h1m5 0h2m2 0h2m5 0h1m1 0h1m2 0h1m4 0h1m1 0h1m7 0h1m4 0h2m7 0h2m4 0h1m6 0h2m4 0h1m6 0h2m2 0h1m8 0h1m8 0h2m4 0h1m1 0h1m16 0h3m3 0h1m7 0h1m4 0h2m8 0h1m9 0h1m4 0h1m27 0h1m8 0h1m4 0h1m7 0h1m5 0h1m2 0h1m6 0h1m8 0h1m6 0h2m8 0h2m11 0h1m32 0h1m5 0h1M2 19.5h1m1 0h1m1 0h1m3 0h1m1 0h1m4 0h1m2 0h1m5 0h2m1 0h1m3 0h1m3 0h1m3 0h3m3 0h1m15 0h1m8 0h3m6 0h1m1 0h1m1 0h1m5 0h2m7 0h1m9 0h1m5 0h1m2 0h3m1 0h1m3 0h1m2 0h1m1 0h1m5 0h1m6 0h2m3 0h1m1 0h1m14 0h1m6 0h1m2 0h1m4 0h1m2 0h2m1 0h1m1 0h1m8 0h1m3 0h1m8 0h1m3 0h1m5 0h1m5 0h1m11 0h1m1 0h1m10 0h1m2 0h1m10 0h1m2 0h1m6 0h1m6 0h1m16 0h1m4 0h2m10 0h1m23 0h1m6 0h1m24 0h2m1 0h1m1 0h1m14 0h1M1 20.5h1m2 0h1m4 0h1m2 0h1m11 0h3m8 0h2m4 0h1m2 0h1m1 0h2m1 0h1m2 0h1m1 0h1m2 0h1m2 0h1m1 0h1m2 0h2m1 0h2m3 0h3m4 0h1m2 0h1m7 0h2m1 0h1m1 0h1m1 0h1m2 0h1m15 0h5m1 0h1m6 0h3m5 0h1m9 0h1m1 0h1m10 0h1m9 0h1m4 0h1m1 0h1m22 0h1m1 0h1m8 0h1m4 0h1m7 0h1m19 0h1m7 0h2m2 0h1m8 0h1m24 0h1m25 0h2m31 0h1m3 0h1M1 21.5h1m8 0h1m7 0h1m1 0h1m3 0h3m1 0h1m3 0h3m16 0h1m3 0h1m3 0h1m2 0h1m5 0h1m4 0h3m3 0h2m2 0h1m3 0h2m1 0h1m6 0h2m2 0h2m2 0h1m4 0h2m3 0h1m4 0h1m21 0h1m4 0h1m5 0h1m6 0h1m8 0h2m3 0h1m3 0h1m1 0h1m1 0h1m2 0h1m6 0h2m3 0h1m7 0h1m7 0h1m1 0h1m1 0h1m10 0h1m6 0h1m4 0h1m11 0h1m30 0h1m24 0h1m16 0h1m6 0h1m34 0h2M26 22.5h1m14 0h1m4 0h1m1 0h1m13 0h1m29 0h1m27 0h1m49 0h1m26 0h1m2 0h1m32 0h1m19 0h1m114 0h1M2 23.5h2m1 0h1m4 0h2m2 0h1m5 0h1m1 0h1m9 0h2m3 0h3m1 0h1m4 0h3m2 0h1m1 0h2m3 0h2m11 0h2m7 0h3m1 0h1m1 0h1m11 0h1m5 0h1m12 0h3m5 0h1m6 0h1m5 0h1m1 0h1m1 0h1m6 0h1m14 0h1m5 0h1m8 0h1m5 0h1m4 0h1m2 0h1m2 0h1m8 0h1m5 0h1m18 0h1m14 0h1m4 0h1m12 0h1m62 0h1m16 0h1M3 24.5h2m1 0h1m1 0h3m1 0h1m4 0h1m2 0h1m10 0h1m14 0h1m4 0h2m3 0h1m6 0h1m3 0h2m2 0h1m3 0h1m4 0h1m9 0h2m4 0h1m3 0h1m2 0h2m13 0h1m2 0h1m2 0h1m2 0h1m10 0h1m2 0h1m2 0h1m3 0h1m5 0h1m1 0h1m6 0h1m2 0h1m15 0h2m5 0h1m13 0h1m23 0h1m7 0h1m1 0h1m34 0h1m51 0h1m40 0h1m12 0h1m11 0h1m3 0h1M5 25.5h1m4 0h1m3 0h1m1 0h1m7 0h1m9 0h2m1 0h1m4 0h1m6 0h1m3 0h1m10 0h2m1 0h1m2 0h1m2 0h1m15 0h3m9 0h1m5 0h1m9 0h2m2 0h1m4 0h2m11 0h4m6 0h1m3 0h1m9 0h1m9 0h1m1 0h2m4 0h2m4 0h1m7 0h1m1 0h1m39 0h1m14 0h1m35 0h1m33 0h2m9 0h1m18 0h1m3 0h1m15 0h1M3 26.5h2m1 0h1m2 0h1m18 0h1m8 0h2m3 0h1m1 0h1m3 0h1m4 0h1m3 0h2m1 0h1m2 0h1m5 0h1m4 0h1m1 0h1m3 0h1m1 0h2m1 0h1m4 0h1m7 0h1m1 0h1m8 0h1m2 0h1m18 0h1m21 0h2m5 0h1m7 0h2m12 0h1m3 0h1m3 0h1m29 0h1m14 0h1m8 0h1m4 0h1m41 0h1m9 0h1m12 0h1m18 0h1m2 0h2m31 0h2M3 27.5h1m1 0h1m2 0h1m1 0h1m6 0h2m5 0h1m1 0h1m8 0h1m2 0h3m4 0h1m1 0h1m1 0h1m3 0h2m4 0h1m1 0h1m7 0h1m10 0h1m1 0h1m6 0h1m2 0h1m6 0h1m3 0h1m3 0h1m1 0h2m6 0h1m9 0h1m3 0h3m6 0h1m11 0h1m7 0h1m2 0h1m2 0h3m3 0h4m23 0h1m1 0h2m1 0h2m11 0h1m17 0h1m9 0h1m16 0h1m4 0h1m22 0h1m8 0h2m7 0h1m23 0h1m9 0h1m18 0h1m2 0h1m21 0h1M1 28.5h2m1 0h1m1 0h1m2 0h1m1 0h1m3 0h1m3 0h1m4 0h1m2 0h1m7 0h4m2 0h1m4 0h1m1 0h1m1 0h1m3 0h1m1 0h3m1 0h1m3 0h1m8 0h1m9 0h1m13 0h1m9 0h1m8 0h4m1 0h2m15 0h1m1 0h1m5 0h1m3 0h1m4 0h1m18 0h2m2 0h1m1 0h1m17 0h1m22 0h1m3 0h1m2 0h1m11 0h2m5 0h2m3 0h1m3 0h2m9 0h1m4 0h1m12 0h1m19 0h1m3 0h1m34 0h1m19 0h1m19 0h1M1 29.5h1m2 0h2m1 0h1m1 0h1m3 0h2m11 0h4m4 0h1m1 0h2m2 0h1m7 0h1m17 0h1m6 0h1m3 0h1m7 0h1m4 0h2m1 0h1m2 0h1m1 0h1m3 0h2m2 0h2m6 0h2m1 0h1m1 0h2m10 0h1m7 0h1m6 0h1m1 0h2m6 0h1m2 0h1m4 0h1m14 0h1m2 0h1m4 0h2m11 0h2m7 0h1m10 0h1m2 0h1m39 0h1m25 0h1m43 0h1m8 0h1m15 0h1M0 30.5h1m2 0h1m5 0h2m1 0h1m11 0h2m2 0h2m1 0h1m1 0h1m2 0h1m5 0h1m12 0h1m5 0h1m3 0h1m1 0h1m2 0h1m3 0h1m3 0h1m2 0h1m4 0h1m2 0h1m3 0h1m2 0h1m1 0h1m1 0h1m18 0h1m5 0h1m2 0h2m8 0h1m22 0h1m4 0h2m2 0h1m9 0h1m19 0h1m18 0h1m4 0h1m1 0h1m6 0h1m23 0h1m1 0h1m9 0h1m18 0h1m4 0h1m3 0h1m3 0h1m4 0h1m24 0h1m1 0h1m10 0h1m23 0h1m7 0h1m9 0h1M9 31.5h1m2 0h1m5 0h1m1 0h1m7 0h2m9 0h2m5 0h1m1 0h2m2 0h1m2 0h2m2 0h1m4 0h1m1 0h1m1 0h1m2 0h1m1 0h2m1 0h2m5 0h1m7 0h1m6 0h1m2 0h1m19 0h1m1 0h1m3 0h1m1 0h1m8 0h1m8 0h1m8 0h2m3 0h1m4 0h3m4 0h1m2 0h2m2 0h1m21 0h1m6 0h1m8 0h1m53 0h1m30 0h1m19 0h1m20 0h1m48 0h1M1 32.5h1m1 0h1m2 0h1m4 0h2m3 0h1m3 0h1m4 0h1m2 0h1m4 0h1m2 0h1m9 0h1m7 0h1m3 0h1m4 0h1m2 0h1m4 0h3m7 0h1m1 0h1m8 0h1m8 0h1m3 0h2m5 0h1m4 0h1m1 0h3m1 0h1m15 0h1m2 0h1m7 0h2m4 0h1m6 0h1m12 0h2m5 0h1m3 0h1m3 0h1m2 0h1m5 0h1m3 0h1m7 0h1m17 0h1m2 0h2m6 0h1m60 0h1m5 0h1m4 0h1m8 0h1m48 0h1m18 0h1M4 33.5h1m2 0h1m1 0h1m2 0h1m2 0h1m2 0h1m8 0h2m4 0h1m3 0h2m1 0h1m3 0h1m5 0h1m3 0h1m3 0h1m3 0h1m7 0h1m5 0h1m4 0h2m2 0h1m1 0h1m1 0h1m1 0h1m9 0h1m1 0h2m2 0h1m2 0h1m12 0h3m1 0h1m4 0h1m5 0h1m1 0h1m1 0h1m5 0h1m1 0h2m2 0h1m1 0h1m3 0h1m12 0h1m1 0h1m38 0h1m1 0h1m6 0h1m1 0h1m5 0h1m8 0h2m9 0h1m36 0h1m37 0h1m19 0h2M4 34.5h2m3 0h1m1 0h1m8 0h1m3 0h1m2 0h1m7 0h1m1 0h1m2 0h1m1 0h1m1 0h1m2 0h3m1 0h1m3 0h1m1 0h1m2 0h1m5 0h1m8 0h2m2 0h1m1 0h1m3 0h1m6 0h1m3 0h1m1 0h1m3 0h1m2 0h1m13 0h1m4 0h1m3 0h1m3 0h1m5 0h1m2 0h2m1 0h2m6 0h1m8 0h1m15 0h1m5 0h1m9 0h1m5 0h1m2 0h1m2 0h1m5 0h1m2 0h1m2 0h1m1 0h1m3 0h1m7 0h1m7 0h1m14 0h1m3 0h1m8 0h2m10 0h1m2 0h1m4 0h1m5 0h1m75 0h1M4 35.5h1m2 0h1m3 0h1m1 0h2m5 0h1m17 0h2m2 0h1m5 0h3m4 0h1m2 0h1m1 0h1m10 0h1m3 0h1m4 0h3m29 0h1m12 0h1m5 0h2m4 0h1m3 0h2m9 0h1m6 0h1m4 0h1m2 0h1m3 0h1m11 0h1m12 0h2m4 0h3m16 0h1m23 0h1m22 0h1m9 0h1m20 0h1m22 0h1m33 0h1M0 36.5h1m2 0h2m13 0h1m5 0h1m1 0h1m2 0h1m3 0h1m6 0h1m3 0h1m1 0h1m3 0h1m15 0h1m4 0h1m3 0h2m12 0h1m8 0h1m5 0h1m4 0h1m5 0h1m3 0h1m2 0h1m2 0h1m3 0h1m10 0h1m1 0h1m9 0h1m3 0h1m3 0h1m3 0h1m9 0h1m5 0h1m14 0h1m10 0h1m26 0h1m4 0h1m3 0h2m24 0h1m56 0h1m46 0h1m10 0h1m6 0h1M2 37.5h1m23 0h1m29 0h1m6 0h2m36 0h1m14 0h1m32 0h1m7 0h1m16 0h1m12 0h1m62 0h1m23 0h1m8 0h1m63 0h1M1 38.5h1m1 0h1m1 0h1m1 0h1m3 0h1m6 0h1m14 0h1m2 0h1m9 0h1m4 0h1m2 0h1m1 0h1m1 0h1m1 0h1m20 0h1m1 0h1m4 0h2m4 0h1m2 0h1m9 0h1m1 0h3m4 0h1m1 0h1m3 0h1m4 0h3m2 0h2m4 0h1m5 0h2m6 0h1m2 0h2m9 0h1m4 0h1m8 0h1m2 0h1m4 0h1m3 0h1m17 0h1m28 0h1m18 0h1m49 0h1m2 0h1m2 0h1m13 0h1m7 0h1m6 0h1m39 0h1M3 39.5h1m1 0h1m13 0h2m5 0h1m2 0h1m3 0h1m16 0h2m1 0h1m1 0h3m7 0h1m6 0h1m2 0h1m1 0h1m2 0h3m3 0h1m6 0h1m1 0h1m5 0h1m4 0h1m9 0h2m2 0h1m5 0h2m14 0h1m1 0h1m9 0h1m5 0h2m5 0h1m3 0h1m3 0h1m4 0h1m7 0h1m1 0h2m8 0h1m3 0h1m5 0h1m5 0h1m11 0h1m3 0h1m5 0h1m24 0h1m2 0h1m37 0h1m1 0h1m27 0h1M6 40.5h1m2 0h1m2 0h1m16 0h1m5 0h1m1 0h2m8 0h2m5 0h1m2 0h1m2 0h1m5 0h1m5 0h1m1 0h1m2 0h1m1 0h1m4 0h2m1 0h1m15 0h1m3 0h1m9 0h1m1 0h1m3 0h1m1 0h1m1 0h1m1 0h1m8 0h3m3 0h1m3 0h2m9 0h2m2 0h2m1 0h1m13 0h1m4 0h1m18 0h1m18 0h1m3 0h2m1 0h2m8 0h1m2 0h1m9 0h1m8 0h1m16 0h1m29 0h1m70 0h1m10 0h1M1 41.5h1m1 0h1m1 0h1m2 0h2m4 0h1m7 0h1m1 0h3m11 0h1m1 0h1m1 0h1m4 0h3m2 0h2m4 0h2m3 0h1m1 0h2m1 0h1m1 0h1m4 0h1m2 0h1m1 0h1m1 0h1m4 0h1m14 0h1m2 0h1m13 0h1m7 0h1m2 0h1m1 0h1m16 0h2m5 0h1m1 0h1m9 0h2m6 0h1m8 0h1m4 0h1m2 0h1m1 0h1m12 0h1m8 0h2m2 0h1m44 0h1M5 42.5h1m3 0h2m3 0h1m2 0h1m6 0h1m14 0h1m8 0h1m1 0h1m3 0h3m2 0h2m1 0h1m9 0h1m6 0h1m14 0h1m5 0h1m6 0h1m2 0h1m21 0h1m5 0h1m3 0h1m4 0h1m2 0h2m8 0h1m38 0h1m5 0h1m21 0h1m10 0h1m4 0h1m5 0h1m10 0h1m10 0h1m9 0h1m26 0h1m3 0h1m62 0h1M1 43.5h1m8 0h1m13 0h2m3 0h1m8 0h2m3 0h1m1 0h1m1 0h2m1 0h1m4 0h1m15 0h2m10 0h1m7 0h1m6 0h1m1 0h1m5 0h1m9 0h1m14 0h2m6 0h1m5 0h1m6 0h1m2 0h1m13 0h1m11 0h1m3 0h1m1 0h4m2 0h1m20 0h1m2 0h1m18 0h1m6 0h1m1 0h1m3 0h1m20 0h1m4 0h1m4 0h1m21 0h1m18 0h1m4 0h1M2 44.5h1m2 0h2m1 0h1m3 0h1m4 0h1m10 0h1m2 0h1m6 0h2m1 0h1m4 0h1m1 0h2m9 0h1m3 0h1m3 0h1m7 0h1m4 0h3m3 0h1m8 0h1m8 0h1m2 0h1m5 0h1m5 0h1m7 0h1m4 0h1m5 0h2m2 0h1m2 0h1m4 0h1m1 0h2m2 0h2m5 0h1m14 0h1m1 0h1m3 0h2m4 0h1m1 0h1m12 0h1m10 0h1m13 0h2m7 0h1m36 0h1m37 0h1m15 0h1m7 0h1m18 0h1m35 0h1M1 45.5h1m8 0h1m2 0h2m3 0h2m4 0h3m4 0h1m6 0h1m1 0h1m4 0h1m7 0h2m8 0h1m2 0h1m4 0h1m9 0h2m4 0h1m2 0h1m5 0h1m7 0h1m1 0h1m2 0h1m8 0h1m4 0h1m8 0h1m4 0h1m13 0h1m4 0h1m3 0h1m10 0h1m6 0h1m3 0h1m8 0h1m10 0h1m1 0h1m11 0h1m26 0h2m2 0h1m9 0h1m8 0h1m13 0h1m12 0h1m21 0h1m5 0h1m4 0h1m25 0h3m13 0h1M1 46.5h1m2 0h1m1 0h1m4 0h2m5 0h1m1 0h1m5 0h1m6 0h1m8 0h1m1 0h1m1 0h1m8 0h1m1 0h1m12 0h1m2 0h1m3 0h2m6 0h1m1 0h1m2 0h1m6 0h1m7 0h1m1 0h1m9 0h1m3 0h1m17 0h2m9 0h2m11 0h1m3 0h1m36 0h2m14 0h1m2 0h1m2 0h1m12 0h1m18 0h1m4 0h1m24 0h1m91 0h1m10 0h1M8 47.5h1m14 0h1m1 0h1m11 0h1m11 0h1m4 0h1m2 0h4m11 0h1m1 0h1m3 0h1m2 0h1m4 0h2m2 0h3m1 0h1m3 0h1m1 0h1m14 0h2m6 0h1m2 0h1m2 0h1m8 0h1m9 0h1m18 0h1m3 0h1m2 0h1m1 0h1m5 0h2m1 0h1m11 0h1m4 0h1m6 0h1m1 0h1m8 0h1m9 0h1m10 0h1m3 0h1m8 0h2m2 0h1m35 0h1m8 0h1m7 0h1m7 0h1m1 0h1m1 0h1m6 0h1m5 0h1m39 0h1m4 0h1M6 48.5h1m6 0h2m18 0h1m5 0h1m5 0h2m7 0h4m4 0h1m2 0h2m16 0h1m5 0h1m3 0h1m5 0h1m10 0h1m5 0h1m4 0h1m4 0h1m1 0h2m1 0h1m1 0h1m8 0h1m5 0h2m1 0h1m2 0h1m3 0h1m7 0h2m18 0h2m2 0h1m6 0h1m2 0h1m6 0h1m9 0h1m5 0h1m4 0h1m11 0h1m15 0h1m5 0h1m31 0h1m35 0h1m3 0h1m46 0h1m9 0h1M1 49.5h1m7 0h1m2 0h1m2 0h1m4 0h1m3 0h1m1 0h1m7 0h1m5 0h1m1 0h1m2 0h2m7 0h1m3 0h1m2 0h1m1 0h2m9 0h2m7 0h1m7 0h1m1 0h1m4 0h1m5 0h1m2 0h1m2 0h1m4 0h1m1 0h2m1 0h4m24 0h2m1 0h1m3 0h1m10 0h1m2 0h1m6 0h1m8 0h1m28 0h1m2 0h1m5 0h1m26 0h1m34 0h1M9 50.5h1m2 0h1m16 0h1m5 0h2m20 0h1m2 0h1m1 0h1m1 0h1m3 0h1m4 0h1m1 0h2m2 0h1m1 0h1m10 0h1m3 0h1m4 0h1m9 0h1m4 0h2m5 0h1m4 0h1m4 0h1m11 0h1m8 0h1m2 0h1m5 0h1m18 0h1m21 0h1m10 0h1m14 0h1m1 0h1m14 0h2m2 0h1m44 0h1m11 0h1m33 0h1m6 0h1m4 0h1M0 51.5h1m1 0h1m8 0h1m5 0h1m1 0h1m2 0h2m1 0h1m6 0h1m3 0h1m2 0h1m2 0h1m4 0h2m2 0h1m2 0h1m1 0h1m1 0h3m8 0h1m5 0h4m1 0h1m4 0h1m3 0h1m3 0h1m3 0h1m3 0h1m18 0h1m1 0h2m1 0h3m2 0h1m8 0h1m9 0h2m5 0h1m7 0h1m5 0h2m8 0h1m7 0h1m14 0h1m2 0h1m3 0h1m19 0h1m8 0h1m10 0h1m25 0h1m8 0h1m49 0h1M1 52.5h1m1 0h1m2 0h1m1 0h1m5 0h1m2 0h2m1 0h1m4 0h2m2 0h1m1 0h2m2 0h1m6 0h1m3 0h1m1 0h1m4 0h1m4 0h4m1 0h1m2 0h1m7 0h2m7 0h1m1 0h1m11 0h1m6 0h2m1 0h1m9 0h1m1 0h1m20 0h1m8 0h2m1 0h1m10 0h1m7 0h1m2 0h1m21 0h1m2 0h1m31 0h1m2 0h2m5 0h1m43 0h1m16 0h1m2 0h1m1 0h1m1 0h1m38 0h1m6 0h1m10 0h1m27 0h1M2 53.5h1m8 0h1m1 0h1m4 0h1m5 0h1m2 0h1m3 0h1m6 0h1m8 0h2m3 0h1m1 0h1m2 0h1m1 0h2m1 0h1m1 0h2m6 0h2m2 0h1m2 0h1m1 0h2m11 0h1m6 0h2m11 0h2m3 0h1m1 0h1m18 0h2m4 0h2m9 0h1m5 0h1m19 0h1m1 0h1m1 0h1m14 0h1m1 0h1m32 0h1m40 0h1m18 0h1m13 0h1m20 0h1m2 0h1m51 0h1M3 54.5h1m13 0h1m5 0h1m2 0h1m9 0h2m3 0h1m2 0h1m1 0h1m1 0h1m1 0h1m1 0h2m4 0h2m3 0h1m2 0h1m18 0h2m10 0h1m1 0h2m3 0h1m15 0h1m2 0h1m6 0h1m1 0h1m11 0h1m18 0h1m14 0h1m6 0h1m6 0h1m4 0h1m6 0h1m20 0h1m22 0h1m6 0h1m68 0h2m14 0h1M2 55.5h1m2 0h1m8 0h1m1 0h1m3 0h1m4 0h1m5 0h1m3 0h2m1 0h1m8 0h3m1 0h1m1 0h1m1 0h1m1 0h1m15 0h1m4 0h1m1 0h2m5 0h1m1 0h3m1 0h2m9 0h2m4 0h1m3 0h1m2 0h2m14 0h1m4 0h1m5 0h1m4 0h1m4 0h1m4 0h1m8 0h1m1 0h1m29 0h1m2 0h1m11 0h1m1 0h1m8 0h1m21 0h1m27 0h1m40 0h1m44 0h1m31 0h1M0 56.5h1m2 0h1m2 0h1m1 0h1m3 0h1m3 0h1m1 0h1m1 0h1m1 0h1m1 0h1m7 0h2m5 0h2m1 0h1m2 0h1m2 0h1m5 0h1m1 0h1m1 0h1m14 0h2m1 0h1m3 0h1m5 0h1m2 0h4m6 0h1m2 0h1m6 0h1m16 0h2m4 0h1m7 0h2m2 0h1m1 0h1m1 0h1m8 0h1m8 0h1m29 0h1m2 0h1m17 0h1m25 0h1m16 0h1m34 0h1m4 0h1M9 57.5h1m4 0h1m2 0h1m9 0h1m4 0h3m2 0h1m1 0h1m1 0h1m12 0h1m8 0h1m7 0h1m3 0h1m2 0h1m2 0h1m12 0h1m2 0h2m4 0h1m3 0h1m9 0h2m13 0h2m10 0h1m9 0h1m15 0h1m20 0h1m4 0h1m57 0h1m2 0h1m8 0h1m1 0h1m11 0h1m1 0h1m28 0h1m7 0h1m21 0h1M71 58.5h1m14 0h1m115 0h1m65 0h1m37 0h1m19 0h1m34 0h1M9 59.5h1m7 0h1m16 0h2m2 0h1m1 0h1m13 0h1m1 0h1m2 0h2m6 0h1m3 0h1m20 0h2m1 0h1m2 0h1m1 0h1m1 0h1m4 0h1m1 0h1m13 0h1m2 0h1m4 0h1m26 0h1m2 0h1m13 0h1m4 0h1m5 0h3m4 0h1m1 0h2m40 0h1m26 0h1m25 0h1m2 0h1M2 60.5h1m11 0h1m6 0h1m7 0h1m8 0h1m9 0h1m4 0h3m4 0h1m12 0h1m41 0h1m2 0h1m1 0h1m10 0h1m8 0h1m1 0h1m26 0h2m7 0h2m5 0h1m37 0h1m3 0h1m25 0h1m4 0h1m2 0h1m84 0h1M37 61.5h2m19 0h1m72 0h1m6 0h1m19 0h1m7 0h1m1 0h1m11 0h1m9 0h1m32 0h1m81 0h1m41 0h1m41 0h1M11 62.5h1m6 0h1m8 0h1m1 0h1m1 0h1m12 0h1m4 0h1m3 0h1m8 0h1m3 0h1m4 0h1m2 0h2m10 0h1m8 0h1m2 0h1m25 0h1m1 0h2m9 0h1m1 0h1m6 0h1m9 0h1m9 0h1m2 0h1m1 0h1m3 0h1m12 0h1m18 0h1m2 0h1m46 0h1m1 0h1m31 0h1m26 0h1m19 0h1m19 0h1m7 0h1m24 0h2M11 63.5h1m5 0h1m1 0h2m5 0h1m5 0h2m3 0h2m3 0h1m4 0h2m2 0h1m2 0h1m18 0h1m6 0h4m6 0h2m5 0h1m2 0h2m3 0h2m5 0h1m2 0h1m6 0h2m2 0h1m24 0h1m12 0h1m3 0h1m4 0h1m87 0h1m4 0h1m16 0h1m26 0h1m14 0h2m48 0h1M12 64.5h1m46 0h1m16 0h1m1 0h1m18 0h1m3 0h1m64 0h1m105 0h1M14 65.5h1m2 0h1m6 0h1m1 0h1m10 0h1m1 0h3m7 0h2m2 0h2m10 0h1m2 0h1m3 0h1m13 0h1m11 0h1m15 0h1m3 0h1m3 0h1m3 0h1m13 0h1m12 0h1m19 0h1m1 0h1m14 0h1m1 0h1m4 0h1m6 0h1m1 0h1m10 0h1m9 0h1m19 0h1m30 0h1m27 0h1m37 0h1m16 0h1m31 0h2M31 66.5h1m41 0h1m48 0h1m3 0h1m27 0h1m19 0h1m65 0h1m17 0h1m48 0h1m35 0h1m24 0h1m19 0h1M12 67.5h1m23 0h1m10 0h1m4 0h1m2 0h1m2 0h1m3 0h1m12 0h1m6 0h1m7 0h1m1 0h1m5 0h1m32 0h1m9 0h1m15 0h1m5 0h1m49 0h1m1 0h1m16 0h1m2 0h1m2 0h1m27 0h1m19 0h1m19 0h1m42 0h1m35 0h1M2 68.5h2m7 0h2m3 0h1m21 0h1m7 0h2m3 0h1m3 0h1m4 0h1m4 0h1m2 0h1m6 0h1m2 0h1m1 0h1m4 0h1m6 0h1m7 0h1m3 0h1m7 0h1m2 0h1m22 0h1m11 0h1m5 0h1m1 0h1m10 0h1m13 0h1m1 0h1m14 0h1m11 0h1m4 0h1m9 0h1m4 0h1m60 0h1m19 0h1m11 0h2m39 0h1M18 69.5h1m7 0h1m2 0h1m8 0h1m7 0h2m1 0h1m3 0h2m4 0h1m3 0h3m11 0h1m8 0h1m10 0h1m3 0h1m18 0h1m20 0h1m4 0h1m41 0h1m18 0h1m2 0h1m56 0h1m24 0h1m17 0h1m11 0h1m21 0h1M20 70.5h1m3 0h1m43 0h1m12 0h1m5 0h1m8 0h1m8 0h1m9 0h1m12 0h1m10 0h1m4 0h1m2 0h1m51 0h1m4 0h1m29 0h1m49 0h1m61 0h1m6 0h1m11 0h1M3 71.5h1m7 0h1m8 0h1m3 0h1m4 0h1m2 0h1m4 0h2m6 0h1m6 0h2m3 0h2m3 0h3m14 0h1m13 0h2m3 0h1m1 0h1m1 0h1m6 0h1m16 0h2m33 0h1m7 0h1m13 0h1m6 0h1m20 0h1m90 0h1m4 0h1m10 0h1m45 0h1m21 0h1M8 72.5h1m15 0h1m4 0h1m1 0h1m7 0h3m4 0h1m2 0h1m2 0h1m5 0h1m12 0h3m7 0h2m8 0h1m5 0h1m9 0h1m1 0h2m5 0h1m4 0h1m1 0h1m21 0h1m2 0h1m9 0h1m20 0h1m22 0h1m1 0h1m45 0h3m60 0h1m1 0h1m14 0h1M12 73.5h1m15 0h1m9 0h1m2 0h2m7 0h1m3 0h1m2 0h1m2 0h1m3 0h1m15 0h1m4 0h1m1 0h1m4 0h3m5 0h1m7 0h1m1 0h1m7 0h2m17 0h1m6 0h2m1 0h1m41 0h1m5 0h1m1 0h1m11 0h1m34 0h1m7 0h1m4 0h2m2 0h1m33 0h1m2 0h1m2 0h1m7 0h2m7 0h1m25 0h1m18 0h1m11 0h1M3 74.5h1m10 0h1m1 0h1m2 0h1m9 0h1m8 0h1m8 0h2m4 0h1m1 0h1m1 0h1m2 0h1m5 0h2m6 0h2m6 0h2m3 0h1m10 0h1m2 0h1m2 0h1m7 0h1m9 0h1m4 0h1m13 0h1m5 0h1m11 0h3m1 0h1m2 0h1m3 0h1m6 0h1m8 0h1m5 0h2m2 0h1m12 0h1m24 0h1m66 0h1m47 0h1m21 0h1M5 75.5h1m4 0h1m1 0h1m9 0h1m3 0h1m1 0h2m9 0h2m1 0h1m4 0h1m5 0h1m11 0h2m12 0h1m2 0h1m5 0h3m1 0h1m4 0h2m1 0h1m3 0h1m2 0h1m9 0h2m3 0h1m20 0h2m1 0h1m16 0h1m13 0h1m7 0h1m5 0h1m16 0h1m55 0h1m26 0h1m5 0h1m12 0h1m24 0h1m16 0h1m16 0h1M4 76.5h1m15 0h1m12 0h1m11 0h2m1 0h1m3 0h1m5 0h3m5 0h1m1 0h1m3 0h1m7 0h1m1 0h2m5 0h2m1 0h1m5 0h1m1 0h1m2 0h1m3 0h1m9 0h1m5 0h1m6 0h1m1 0h1m5 0h1m2 0h1m15 0h1m7 0h1m12 0h1m19 0h1m4 0h1m7 0h1m4 0h2m13 0h1m9 0h1m1 0h1m9 0h1m17 0h1m110 0h1M2 77.5h2m5 0h1m7 0h1m2 0h1m12 0h1m5 0h1m1 0h1m2 0h1m8 0h1m3 0h1m1 0h1m8 0h1m7 0h1m20 0h1m2 0h1m1 0h1m17 0h1m1 0h1m6 0h1m18 0h1m10 0h1m6 0h1m1 0h1m26 0h1m15 0h1m22 0h1m29 0h1m21 0h1m11 0h1m12 0h1m44 0h1m4 0h1m14 0h1m6 0h2m5 0h1M31 78.5h3m4 0h1m1 0h1m1 0h1m4 0h1m4 0h1m2 0h1m8 0h1m15 0h1m6 0h1m1 0h1m14 0h1m2 0h1m1 0h1m17 0h1m2 0h2m8 0h1m4 0h1m22 0h1m11 0h1m10 0h1m25 0h1m42 0h1m29 0h1m85 0h1m7 0h1M0 79.5h1m2 0h1m14 0h1m4 0h1m18 0h1m15 0h1m23 0h1m1 0h1m5 0h1m1 0h1m13 0h1m18 0h1m21 0h2m33 0h1m11 0h1m7 0h1m8 0h1m11 0h1m23 0h1m2 0h1m25 0h1m7 0h1m12 0h1m20 0h1m6 0h1m11 0h1m6 0h1M12 80.5h1m5 0h1m14 0h1m2 0h1m5 0h1m8 0h1m5 0h1m8 0h1m15 0h1m9 0h1m24 0h1m4 0h1m5 0h1m54 0h1m34 0h1m29 0h1m77 0h1m29 0h1m25 0h1m11 0h1M6 81.5h1m22 0h1m8 0h1m12 0h1m1 0h1m4 0h2m1 0h2m1 0h3m7 0h1m6 0h3m10 0h1m4 0h1m2 0h1m19 0h2m1 0h1m22 0h1m14 0h1m35 0h1m102 0h1m54 0h1m36 0h1M8 82.5h1m35 0h1m5 0h2m3 0h2m5 0h2m2 0h2m4 0h2m9 0h1m1 0h1m1 0h1m14 0h1m13 0h1m6 0h1m6 0h1m2 0h1m2 0h1m1 0h1m2 0h1m5 0h1m9 0h1m2 0h1m11 0h1m1 0h1m16 0h1m17 0h1m13 0h1m2 0h1m10 0h1m16 0h1m2 0h1m20 0h1m9 0h1m55 0h1m17 0h1m11 0h1M31 83.5h1m3 0h1m10 0h1m3 0h1m9 0h1m2 0h1m17 0h1m4 0h2m1 0h1m10 0h1m9 0h1m6 0h1m7 0h1m3 0h1m1 0h1m10 0h1m1 0h2m9 0h1m5 0h1m9 0h1m10 0h1m5 0h1m26 0h1m11 0h1m31 0h1m7 0h1m18 0h1m10 0h2m44 0h1m7 0h1m27 0h1M66 84.5h1m34 0h1m50 0h1m124 0h1m82 0h1m31 0h1M11 85.5h1m8 0h1m8 0h1m14 0h1m9 0h1m5 0h2m15 0h1m5 0h1m2 0h1m13 0h2m7 0h1m7 0h2m3 0h1m10 0h1m27 0h1m20 0h1m10 0h1m18 0h1m4 0h1m20 0h1m3 0h1m29 0h1m49 0h1m20 0h2m40 0h1M44 86.5h1m15 0h1m2 0h1m8 0h1m22 0h1m111 0h1m113 0h1m25 0h1m13 0h2" stroke="#b3a9d3"/>
<path d="M2 .5h7m2 0h1m2 0h1m3 0h4m3 0h3m1 0h1m1 0h5m1 0h6m1 0h1m1 0h6m2 0h2m2 0h7m1 0h3m1 0h2m2 0h1m1 0h2m1 0h1m2 0h2m1 0h3m1 0h1m1 0h1m2 0h5m3 0h4m3 0h2m1 0h2m1 0h2m1 0h4m1 0h6m1 0h4m4 0h3m1 0h1m1 0h4m1 0h6m1 0h4m1 0h1m1 0h8m2 0h6m1 0h3m1 0h4m2 0h3m2 0h2m3 0h4m1 0h3m1 0h3m1 0h1m1 0h2m1 0h6m1 0h3m2 0h3m1 0h1m1 0h4m1 0h2m1 0h1m2 0h1m1 0h2m3 0h1m1 0h3m1 0h3m1 0h1m2 0h4m1 0h2m3 0h4m2 0h1m1 0h2m1 0h6m1 0h1m2 0h1m1 0h1m1 0h1m2 0h11m2 0h5m2 0h2m1 0h4m2 0h8m1 0h7m1 0h2m1 0h2m1 0h2m1 0h1m2 0h2m2 0h1m3 0h2m2 0h2m1 0h2m1 0h1m2 0h7m1 0h7M13 1.5h1m17 0h1m7 0h2m7 0h1m5 0h1m3 0h1m7 0h1m15 0h1m2 0h1m5 0h1m3 0h1m1 0h3m5 0h1m2 0h1m7 0h1m7 0h2m17 0h1m10 0h1m3 0h2m3 0h1m3 0h1m5 0h1m26 0h1m8 0h1m5 0h1m4 0h1m22 0h1m4 0h1m17 0h1m5 0h1m10 0h1m22 0h1m3 0h1m24 0h1m7 0h1m12 0h1m15 0h1m6 0h2m10 0h1m2 0h1M2 2.5h1m1 0h1m9 0h1m2 0h1m2 0h1m2 0h1m1 0h1m2 0h1m4 0h1m3 0h1m8 0h1m1 0h1m1 0h2m6 0h2m2 0h1m7 0h1m4 0h1m4 0h1m2 0h1m2 0h1m13 0h1m3 0h1m1 0h1m5 0h1m2 0h2m3 0h1m1 0h2m2 0h1m13 0h1m4 0h2m4 0h1m3 0h1m4 0h1m2 0h1m10 0h1m7 0h2m3 0h2m5 0h1m3 0h1m1 0h1m1 0h1m3 0h2m4 0h1m2 0h1m1 0h2m9 0h1m2 0h1m3 0h2m4 0h1m10 0h1m10 0h1m5 0h1m13 0h1m1 0h2m4 0h1m14 0h1m3 0h1m2 0h1m2 0h1m2 0h1m1 0h1m5 0h1m1 0h1m5 0h1m9 0h1m5 0h1m9 0h1m5 0h1m6 0h1m6 0h2m1 0h1M1 3.5h1m6 0h1m5 0h1m9 0h1m3 0h1m4 0h1m3 0h2m3 0h1m14 0h1m4 0h2m1 0h2m6 0h3m5 0h1m3 0h1m1 0h1m3 0h1m6 0h1m1 0h2m4 0h1m9 0h1m3 0h1m20 0h2m1 0h1m8 0h2m4 0h1m1 0h1m4 0h2m1 0h3m11 0h1m8 0h2m7 0h1m7 0h1m5 0h1m3 0h1m1 0h1m3 0h1m5 0h2m7 0h2m1 0h1m32 0h1m7 0h1m1 0h1m1 0h1m1 0h2m8 0h1m5 0h1m6 0h1m5 0h1m2 0h3m1 0h3m5 0h3m2 0h1m17 0h1m6 0h1m2 0h1m1 0h1m5 0h1m1 0h1m4 0h1m11 0h1M0 4.5h1m23 0h1m2 0h1m1 0h1m1 0h1m3 0h1m27 0h1m8 0h1m1 0h2m6 0h1m12 0h2m9 0h1m1 0h1m2 0h2m20 0h1m16 0h1m15 0h1m2 0h1m10 0h1m9 0h1m5 0h1m9 0h1m4 0h1m4 0h1m8 0h1m1 0h1m15 0h1m5 0h1m6 0h2m2 0h2m5 0h1m10 0h1m4 0h1m2 0h1m13 0h1m4 0h1m4 0h1m2 0h1m11 0h1m4 0h2m45 0h1m6 0h1M3 5.5h1m4 0h1m8 0h1m2 0h1m4 0h1m5 0h1m5 0h1m20 0h1m2 0h1m6 0h1m1 0h1m1 0h1m2 0h1m9 0h3m1 0h1m5 0h5m1 0h2m6 0h2m1 0h1m9 0h1m7 0h1m12 0h1m6 0h1m10 0h2m1 0h1m2 0h1m5 0h1m2 0h2m1 0h1m3 0h1m2 0h1m10 0h1m4 0h2m1 0h1m3 0h2m9 0h1m15 0h2m13 0h1m16 0h2m6 0h1m2 0h2m4 0h1m12 0h1m4 0h1m17 0h1m3 0h1m9 0h2m1 0h1m4 0h2m1 0h1m11 0h1m4 0h1m20 0h2m1 0h1m4 0h1m3 0h2M3 6.5h1m1 0h2m2 0h2m1 0h1m2 0h2m1 0h1m5 0h2m1 0h1m5 0h1m3 0h1m1 0h2m1 0h1m8 0h1m7 0h1m3 0h2m6 0h1m2 0h1m2 0h2m1 0h1m2 0h1m6 0h1m5 0h1m1 0h1m5 0h1m1 0h1m8 0h1m1 0h1m4 0h1m1 0h1m1 0h1m2 0h2m2 0h1m8 0h1m3 0h1m5 0h1m7 0h1m14 0h1m5 0h2m13 0h1m10 0h1m7 0h1m11 0h2m2 0h1m12 0h1m2 0h3m4 0h2m8 0h1m3 0h1m1 0h1m15 0h1m8 0h1m4 0h1m1 0h2m1 0h1m11 0h1m3 0h2m4 0h1m1 0h1m6 0h1m4 0h1m8 0h1m5 0h1m6 0h1m10 0h1m7 0h1m6 0h1M0 7.5h1m1 0h1m1 0h2m11 0h1m2 0h1m3 0h1m1 0h2m3 0h1m1 0h1m3 0h2m8 0h1m2 0h2m5 0h1m5 0h2m10 0h1m4 0h1m1 0h1m6 0h1m7 0h1m3 0h1m10 0h1m2 0h1m1 0h1m7 0h2m1 0h1m1 0h1m14 0h1m5 0h3m3 0h2m6 0h1m1 0h2m4 0h1m3 0h2m3 0h1m1 0h1m1 0h1m3 0h1m1 0h1m15 0h1m2 0h1m1 0h1m2 0h1m2 0h1m3 0h1m2 0h1m3 0h1m4 0h2m7 0h1m12 0h1m13 0h1m14 0h1m8 0h1m7 0h1m3 0h4m3 0h1m21 0h1m10 0h1m4 0h2m1 0h1m12 0h1m8 0h1m15 0h2m1 0h1M7 8.5h2m7 0h1m4 0h1m15 0h1m10 0h1m2 0h2m4 0h1m2 0h1m5 0h1m4 0h1m7 0h1m5 0h1m3 0h1m1 0h1m4 0h1m3 0h1m21 0h2m1 0h2m1 0h2m9 0h1m4 0h1m10 0h2m1 0h1m5 0h1m3 0h1m6 0h1m2 0h1m3 0h2m9 0h1m7 0h1m1 0h2m6 0h1m7 0h2m2 0h2m7 0h1m12 0h1m1 0h2m3 0h1m6 0h1m7 0h1m1 0h1m1 0h1m8 0h1m10 0h1m2 0h1m1 0h1m3 0h1m13 0h1m5 0h4m5 0h1m26 0h1m2 0h1m1 0h1m5 0h1m4 0h1m1 0h1m9 0h1m4 0h1M3 9.5h1m10 0h1m2 0h2m5 0h1m2 0h2m2 0h1m1 0h1m3 0h1m3 0h1m5 0h1m5 0h1m3 0h1m4 0h1m1 0h1m5 0h1m1 0h3m1 0h2m4 0h1m3 0h1m4 0h1m1 0h1m5 0h1m2 0h1m3 0h1m2 0h1m2 0h1m2 0h2m2 0h1m2 0h1m2 0h1m2 0h1m9 0h1m1 0h3m2 0h2m6 0h2m11 0h2m18 0h2m3 0h2m17 0h1m6 0h1m3 0h1m3 0h2m1 0h1m3 0h1m2 0h1m1 0h1m3 0h1m2 0h1m4 0h1m1 0h1m1 0h1m7 0h1m1 0h1m2 0h1m1 0h2m6 0h1m2 0h1m6 0h1m9 0h1m20 0h1m10 0h1m1 0h1m2 0h1m12 0h1m25 0h1m8 0h1m8 0h1M8 10.5h2m12 0h1m2 0h1m9 0h1m1 0h2m1 0h1m3 0h1m1 0h1m3 0h1m9 0h1m7 0h1m8 0h1m8 0h1m1 0h1m1 0h2m2 0h1m3 0h2m1 0h2m4 0h1m7 0h2m2 0h1m8 0h1m1 0h1m8 0h1m1 0h1m4 0h1m8 0h1m4 0h1m27 0h1m3 0h1m2 0h1m1 0h1m1 0h1m3 0h1m3 0h1m12 0h1m3 0h1m2 0h1m5 0h1m8 0h1m4 0h1m16 0h1m1 0h2m8 0h1m1 0h1m4 0h1m4 0h1m10 0h1m2 0h2m4 0h1m5 0h1m2 0h1m4 0h1m5 0h1m17 0h1m1 0h1m14 0h1m2 0h1m4 0h1m4 0h1m3 0h1m2 0h1m7 0h1m1 0h1M8 11.5h1m13 0h1m15 0h1m25 0h1m9 0h1m11 0h1m3 0h1m9 0h1m9 0h2m5 0h1m30 0h3m2 0h1m2 0h1m3 0h2m22 0h1m12 0h1m15 0h1m24 0h1m2 0h1m21 0h1m3 0h1m12 0h1m32 0h1m6 0h1m4 0h1m36 0h1m8 0h1M1 12.5h1m7 0h1m6 0h1m9 0h1m8 0h1m6 0h1m3 0h3m2 0h1m1 0h1m21 0h1m3 0h1m2 0h1m14 0h2m3 0h1m1 0h1m3 0h1m1 0h1m8 0h1m3 0h1m3 0h1m11 0h1m4 0h1m3 0h1m11 0h2m5 0h1m2 0h1m2 0h2m2 0h1m5 0h1m2 0h1m15 0h1m1 0h1m3 0h1m3 0h2m9 0h1m1 0h1m10 0h1m1 0h1m3 0h2m5 0h1m2 0h1m14 0h1m4 0h1m3 0h1m6 0h1m2 0h1m2 0h1m6 0h1m15 0h2m1 0h1m6 0h1m19 0h1m1 0h1m11 0h2m6 0h1m1 0h2m3 0h1M1 13.5h1m9 0h1m5 0h2m5 0h1m15 0h2m3 0h1m2 0h3m7 0h1m3 0h1m8 0h2m7 0h1m1 0h1m4 0h1m4 0h1m4 0h2m6 0h1m4 0h1m9 0h1m2 0h2m5 0h2m6 0h2m1 0h1m4 0h1m2 0h1m5 0h1m9 0h1m7 0h1m7 0h2m5 0h1m9 0h1m2 0h1m1 0h1m5 0h3m4 0h2m3 0h1m10 0h3m3 0h1m1 0h1m9 0h1m1 0h1m5 0h2m6 0h1m21 0h2m6 0h1m4 0h1m1 0h1m4 0h1m9 0h2m9 0h1m3 0h1m6 0h1m18 0h1m17 0h1m2 0h1M16 14.5h1m20 0h1m1 0h1m3 0h1m2 0h2m3 0h1m2 0h2m4 0h2m5 0h1m4 0h1m8 0h1m5 0h1m8 0h1m1 0h1m2 0h1m5 0h1m1 0h1m2 0h1m2 0h1m4 0h1m4 0h1m2 0h1m1 0h1m1 0h1m12 0h2m6 0h1m1 0h1m8 0h2m3 0h1m4 0h2m2 0h1m9 0h1m3 0h1m6 0h1m9 0h1m4 0h2m26 0h1m1 0h1m25 0h1m21 0h1m3 0h1m2 0h1m1 0h1m9 0h1m13 0h2m4 0h1m10 0h1m5 0h1m6 0h1m2 0h1m22 0h2m6 0h1m4 0h1M16 15.5h1m6 0h1m2 0h1m23 0h1m16 0h1m17 0h2m5 0h1m14 0h1m12 0h1m4 0h1m14 0h1m5 0h1m8 0h1m21 0h1m5 0h1m18 0h2m7 0h1m2 0h1m22 0h1m2 0h1m1 0h1m1 0h1m18 0h1m28 0h1m19 0h1m51 0h1m3 0h1m20 0h1m2 0h1m1 0h1M4 16.5h2m4 0h2m4 0h1m1 0h1m1 0h1m2 0h1m16 0h2m13 0h1m3 0h1m8 0h1m5 0h1m2 0h1m1 0h2m2 0h1m4 0h1m2 0h2m8 0h2m1 0h1m5 0h1m1 0h1m4 0h1m2 0h3m2 0h1m1 0h1m4 0h1m6 0h1m1 0h1m6 0h1m4 0h1m3 0h1m17 0h1m7 0h1m4 0h1m2 0h1m1 0h1m7 0h1m2 0h1m4 0h1m4 0h1m1 0h1m6 0h1m18 0h1m2 0h1m1 0h2m2 0h1m3 0h1m3 0h2m8 0h1m6 0h1m2 0h1m5 0h2m14 0h1m24 0h1m28 0h1m1 0h1m16 0h1m4 0h1m13 0h1M3 17.5h1m3 0h1m1 0h2m1 0h1m1 0h1m2 0h2m1 0h1m12 0h2m1 0h1m1 0h3m3 0h1m4 0h1m3 0h2m8 0h1m1 0h1m1 0h1m6 0h1m1 0h1m3 0h1m1 0h1m6 0h1m1 0h1m4 0h1m3 0h1m8 0h1m2 0h1m7 0h1m2 0h1m9 0h1m8 0h1m8 0h1m4 0h1m12 0h2m4 0h1m4 0h1m1 0h1m4 0h1m3 0h1m5 0h1m4 0h1m1 0h1m1 0h1m2 0h1m1 0h2m2 0h2m1 0h1m2 0h1m1 0h1m2 0h1m4 0h1m7 0h1m16 0h1m27 0h1m4 0h1m4 0h1m4 0h1m22 0h1m3 0h1m1 0h1m38 0h1M0 18.5h1m3 0h1m5 0h1m4 0h1m2 0h1m14 0h1m1 0h1m5 0h1m5 0h1m15 0h2m9 0h1m8 0h1m7 0h1m11 0h1m2 0h1m8 0h1m12 0h1m19 0h3m3 0h1m2 0h1m2 0h1m8 0h1m1 0h1m5 0h2m7 0h1m7 0h1m3 0h1m3 0h1m3 0h1m3 0h1m1 0h1m2 0h2m9 0h1m5 0h1m15 0h1m3 0h1m15 0h1m10 0h1m9 0h1m1 0h1m3 0h1m5 0h1m1 0h1m3 0h2m12 0h1m5 0h1m13 0h1m9 0h1m5 0h2m8 0h1m21 0h1M31 19.5h1m3 0h1m17 0h2m9 0h1m2 0h1m3 0h1m8 0h1m8 0h1m3 0h1m1 0h1m2 0h1m2 0h2m4 0h1m3 0h1m3 0h1m1 0h1m7 0h2m2 0h1m4 0h1m5 0h1m13 0h1m8 0h2m1 0h1m16 0h1m8 0h2m1 0h1m1 0h2m2 0h2m1 0h2m2 0h1m5 0h2m9 0h1m6 0h2m3 0h2m9 0h1m2 0h2m10 0h1m2 0h1m9 0h1m6 0h1m2 0h1m7 0h1m4 0h1m10 0h2m2 0h1m1 0h1m5 0h1m2 0h1m10 0h1m3 0h1m4 0h1m5 0h1m3 0h2m2 0h1m5 0h1m1 0h1m3 0h1m14 0h1m1 0h1M3 20.5h1m2 0h1m4 0h1m4 0h1m3 0h1m2 0h1m4 0h1m2 0h3m5 0h1m13 0h1m1 0h1m2 0h2m3 0h1m12 0h1m1 0h1m2 0h2m2 0h2m1 0h1m1 0h1m6 0h1m6 0h1m1 0h2m1 0h1m5 0h2m9 0h1m12 0h1m6 0h1m13 0h1m3 0h1m3 0h2m18 0h1m1 0h2m4 0h3m3 0h1m7 0h2m2 0h1m8 0h1m9 0h1m6 0h1m3 0h1m4 0h3m9 0h1m7 0h1m22 0h2m2 0h2m4 0h1m2 0h1m5 0h1m13 0h1m2 0h1m1 0h3m12 0h1m31 0h1m12 0h1M2 21.5h1m5 0h2m2 0h1m3 0h2m3 0h1m18 0h1m4 0h3m4 0h1m3 0h1m3 0h2m1 0h2m1 0h1m4 0h1m4 0h2m7 0h1m3 0h1m2 0h2m5 0h1m4 0h1m1 0h2m4 0h1m10 0h1m1 0h1m1 0h1m12 0h1m10 0h2m1 0h3m4 0h1m2 0h2m1 0h2m7 0h2m13 0h1m3 0h1m4 0h1m6 0h1m1 0h1m1 0h1m4 0h1m1 0h1m7 0h1m6 0h1m3 0h1m1 0h1m3 0h1m5 0h1m5 0h1m4 0h1m29 0h1m2 0h1m2 0h1m2 0h2m4 0h1m11 0h1m5 0h1m9 0h1m15 0h1m14 0h2m7 0h1m4 0h1m3 0h1m4 0h2M50 22.5h1m55 0h1m9 0h1m7 0h1m19 0h1m3 0h1m24 0h1m24 0h1m5 0h1m18 0h1m6 0h1m11 0h1m3 0h1m12 0h1m35 0h1m14 0h1m24 0h1m38 0h1M9 23.5h1m6 0h1m1 0h1m5 0h1m9 0h1m5 0h1m19 0h1m2 0h1m13 0h1m11 0h1m1 0h1m2 0h2m5 0h1m4 0h1m2 0h1m12 0h2m4 0h1m17 0h1m4 0h3m1 0h1m2 0h1m8 0h3m12 0h2m3 0h1m3 0h1m9 0h1m6 0h1m4 0h1m6 0h1m20 0h1m14 0h1m9 0h1m3 0h4m6 0h1m8 0h1m3 0h2m7 0h1m4 0h4m13 0h1m11 0h1m38 0h1m4 0h1m1 0h1m2 0h1m4 0h1M5 24.5h1m5 0h1m1 0h1m12 0h1m1 0h1m1 0h1m2 0h1m3 0h1m1 0h2m6 0h1m28 0h2m7 0h3m4 0h2m3 0h1m3 0h1m5 0h1m11 0h1m8 0h1m1 0h4m11 0h3m4 0h1m5 0h1m2 0h1m5 0h1m1 0h1m3 0h1m1 0h2m8 0h1m1 0h1m10 0h1m3 0h1m4 0h1m15 0h1m6 0h1m17 0h1m5 0h2m1 0h3m11 0h1m4 0h1m11 0h1m3 0h1m9 0h1m2 0h1m2 0h1m4 0h1m3 0h2m6 0h1m18 0h1m15 0h1m15 0h1m7 0h1M23 25.5h1m8 0h1m5 0h1m2 0h1m4 0h3m1 0h2m2 0h1m1 0h2m2 0h1m1 0h1m3 0h1m7 0h1m1 0h2m4 0h1m9 0h1m2 0h1m6 0h1m1 0h2m5 0h1m1 0h1m8 0h1m2 0h1m25 0h1m8 0h1m4 0h2m1 0h3m9 0h1m4 0h1m10 0h1m2 0h1m6 0h1m1 0h1m1 0h1m4 0h1m1 0h1m14 0h1m6 0h2m2 0h1m4 0h2m3 0h3m11 0h1m1 0h1m8 0h1m1 0h1m12 0h1m6 0h1m5 0h1m23 0h2m2 0h2m2 0h1m5 0h1m4 0h1m4 0h1m2 0h1m7 0h1m8 0h1m1 0h1m1 0h1M1 26.5h1m3 0h1m5 0h2m4 0h1m7 0h1m3 0h1m16 0h1m15 0h1m1 0h2m2 0h1m6 0h1m1 0h1m9 0h1m1 0h1m1 0h1m1 0h5m3 0h1m3 0h1m1 0h1m7 0h2m6 0h1m1 0h1m2 0h2m2 0h1m7 0h1m1 0h1m5 0h1m1 0h1m4 0h1m1 0h3m1 0h1m4 0h2m5 0h2m10 0h1m2 0h1m2 0h1m2 0h1m1 0h1m1 0h1m5 0h1m5 0h1m3 0h1m12 0h1m15 0h1m3 0h1m11 0h1m8 0h1m19 0h1m4 0h1m5 0h1m5 0h2m15 0h2m6 0h1m1 0h1m24 0h3m7 0h1M4 27.5h1m1 0h2m3 0h2m1 0h1m1 0h1m3 0h1m7 0h2m1 0h1m5 0h1m3 0h1m10 0h1m9 0h2m4 0h1m4 0h3m9 0h3m2 0h1m2 0h1m2 0h1m4 0h2m3 0h1m8 0h2m5 0h1m3 0h1m1 0h1m1 0h1m8 0h1m1 0h1m16 0h1m2 0h1m18 0h2m4 0h1m6 0h1m9 0h1m6 0h1m10 0h1m9 0h1m1 0h1m4 0h1m4 0h1m25 0h1m8 0h1m12 0h1m17 0h1m2 0h1m9 0h1m2 0h1m4 0h1m4 0h2m2 0h1m6 0h1m18 0h2m7 0h1m7 0h1m1 0h1M3 28.5h1m4 0h1m8 0h1m2 0h1m9 0h2m8 0h1m1 0h1m4 0h1m1 0h1m9 0h1m2 0h1m4 0h1m4 0h1m2 0h2m2 0h2m6 0h1m1 0h1m6 0h1m1 0h1m1 0h1m1 0h1m2 0h1m3 0h1m2 0h1m10 0h1m20 0h1m2 0h1m5 0h1m6 0h2m4 0h1m4 0h1m5 0h1m1 0h1m2 0h1m7 0h1m6 0h1m2 0h2m8 0h1m21 0h1m4 0h1m7 0h1m3 0h1m12 0h1m7 0h2m7 0h1m1 0h1m1 0h2m18 0h1m9 0h1m15 0h1m2 0h1m3 0h1m8 0h2m2 0h1m1 0h1m4 0h1m6 0h1m3 0h1m8 0h1m11 0h1m2 0h1M3 29.5h1m4 0h1m2 0h1m4 0h1m1 0h1m1 0h1m17 0h1m5 0h1m2 0h1m5 0h2m2 0h1m2 0h1m1 0h2m4 0h1m5 0h1m1 0h1m2 0h2m1 0h1m11 0h1m4 0h1m10 0h1m5 0h1m7 0h1m3 0h1m4 0h1m4 0h1m2 0h1m2 0h2m4 0h2m2 0h1m6 0h1m1 0h1m2 0h1m1 0h1m5 0h1m5 0h1m15 0h1m9 0h1m4 0h2m2 0h1m2 0h1m12 0h2m5 0h1m17 0h1m1 0h4m14 0h1m5 0h1m1 0h1m1 0h1m14 0h1m4 0h1m2 0h1m3 0h1m18 0h1m3 0h1m26 0h2m4 0h1m6 0h1M5 30.5h1m5 0h1m2 0h1m1 0h1m9 0h1m11 0h1m1 0h1m8 0h1m3 0h1m4 0h2m3 0h1m8 0h2m2 0h1m6 0h1m10 0h2m1 0h1m3 0h1m4 0h2m4 0h1m1 0h1m1 0h2m2 0h1m3 0h1m5 0h1m15 0h3m2 0h1m1 0h3m2 0h1m9 0h1m8 0h1m3 0h2m7 0h1m2 0h1m2 0h1m1 0h2m9 0h1m2 0h1m4 0h2m3 0h1m9 0h1m9 0h1m6 0h1m1 0h1m1 0h2m11 0h1m15 0h2m7 0h1m18 0h1m11 0h1m7 0h1m4 0h1m13 0h1m5 0h1m1 0h1m7 0h1m5 0h1m15 0h1M5 31.5h1m2 0h1m2 0h1m4 0h2m15 0h1m3 0h2m3 0h1m11 0h1m6 0h2m18 0h2m2 0h1m1 0h1m1 0h2m2 0h1m3 0h1m4 0h1m2 0h1m2 0h2m6 0h2m8 0h1m6 0h1m5 0h1m2 0h1m2 0h1m3 0h2m3 0h1m4 0h1m4 0h1m4 0h1m8 0h1m11 0h2m3 0h1m7 0h1m1 0h1m2 0h1m3 0h2m10 0h1m1 0h1m5 0h1m11 0h3m1 0h1m4 0h1m1 0h1m6 0h1m4 0h1m2 0h1m5 0h1m1 0h1m17 0h1m4 0h1m3 0h1m1 0h1m12 0h1m22 0h1m12 0h1m8 0h1m8 0h1m10 0h1m6 0h1M5 32.5h1m18 0h1m7 0h1m4 0h1m3 0h2m1 0h1m3 0h1m6 0h1m14 0h1m4 0h2m8 0h1m7 0h1m4 0h1m1 0h1m3 0h1m2 0h1m1 0h1m19 0h2m9 0h1m3 0h3m5 0h1m6 0h2m13 0h1m9 0h1m1 0h1m5 0h1m3 0h1m11 0h2m1 0h1m7 0h1m20 0h1m6 0h2m3 0h1m2 0h1m11 0h2m1 0h1m9 0h1m16 0h1m14 0h1m1 0h1m1 0h2m2 0h2m3 0h1m31 0h1m30 0h1m5 0h1M13 33.5h1m2 0h2m2 0h1m3 0h1m16 0h1m5 0h1m3 0h1m1 0h1m3 0h1m5 0h2m4 0h1m5 0h1m4 0h1m9 0h1m5 0h2m2 0h1m1 0h1m6 0h1m2 0h1m5 0h2m2 0h1m6 0h2m8 0h1m17 0h1m3 0h1m7 0h1m6 0h1m4 0h1m3 0h2m3 0h2m1 0h1m5 0h1m8 0h1m6 0h1m6 0h1m9 0h2m3 0h1m7 0h1m1 0h1m4 0h1m10 0h1m2 0h1m12 0h2m9 0h1m4 0h1m1 0h2m2 0h1m1 0h1m2 0h1m14 0h1m22 0h1m5 0h1m3 0h3m2 0h1m3 0h1m3 0h1M8 34.5h1m4 0h1m2 0h1m1 0h1m12 0h1m4 0h1m4 0h1m4 0h1m3 0h1m3 0h1m4 0h1m4 0h1m2 0h1m5 0h1m3 0h1m5 0h1m3 0h1m3 0h1m1 0h1m6 0h1m2 0h1m8 0h1m2 0h1m6 0h1m2 0h1m4 0h2m1 0h1m19 0h1m6 0h1m6 0h1m1 0h1m3 0h1m2 0h1m1 0h1m1 0h1m4 0h1m11 0h2m29 0h1m1 0h1m11 0h1m2 0h1m1 0h1m2 0h2m4 0h2m2 0h1m28 0h1m11 0h1m1 0h1m2 0h1m3 0h1m11 0h1m2 0h2m2 0h1m10 0h1m2 0h1m5 0h1m3 0h1m1 0h1m7 0h1m10 0h2M1 35.5h1m6 0h1m3 0h1m3 0h2m15 0h1m6 0h1m4 0h2m7 0h1m7 0h3m1 0h1m5 0h1m4 0h2m7 0h2m1 0h1m1 0h1m1 0h2m6 0h3m2 0h1m3 0h1m5 0h1m4 0h1m1 0h1m4 0h1m9 0h1m1 0h1m4 0h2m3 0h2m1 0h1m2 0h1m3 0h1m2 0h1m2 0h1m3 0h1m15 0h3m1 0h2m6 0h1m6 0h1m3 0h1m2 0h1m7 0h1m2 0h1m2 0h1m6 0h1m2 0h1m1 0h1m9 0h1m1 0h1m19 0h1m5 0h1m6 0h1m10 0h1m11 0h1m2 0h1m3 0h1m3 0h2m6 0h1m5 0h2m11 0h1m6 0h1m1 0h1m10 0h1m4 0h2m8 0h1m3 0h1m1 0h1m7 0h1M14 36.5h1m5 0h1m14 0h1m1 0h1m1 0h1m9 0h1m2 0h1m1 0h2m3 0h1m13 0h1m3 0h1m1 0h1m6 0h2m3 0h1m2 0h1m1 0h1m3 0h1m5 0h2m2 0h2m5 0h1m9 0h2m12 0h1m3 0h1m2 0h1m2 0h1m7 0h1m3 0h1m3 0h2m1 0h1m14 0h1m4 0h1m2 0h1m6 0h1m2 0h1m7 0h1m7 0h2m9 0h1m3 0h1m2 0h1m6 0h2m5 0h1m6 0h2m11 0h1m6 0h1m5 0h1m8 0h1m8 0h1m3 0h1m1 0h1m10 0h1m6 0h1m12 0h1m1 0h1m9 0h1m5 0h1m6 0h1m5 0h1m4 0h2m5 0h1m2 0h2M146 37.5h1m19 0h1m6 0h1m12 0h1m18 0h1m11 0h1m9 0h1m15 0h1m10 0h1m21 0h1m28 0h2m18 0h1m1 0h1m30 0h1m6 0h1m11 0h1m17 0h1M2 38.5h1m6 0h1m3 0h1m2 0h2m8 0h1m10 0h1m10 0h3m2 0h1m5 0h1m5 0h1m5 0h2m1 0h1m3 0h1m1 0h1m4 0h3m3 0h1m1 0h1m1 0h1m4 0h1m22 0h1m15 0h1m2 0h1m4 0h1m3 0h1m5 0h1m2 0h2m5 0h1m5 0h1m3 0h1m4 0h1m3 0h2m13 0h1m5 0h1m4 0h2m4 0h1m2 0h1m4 0h1m5 0h1m2 0h1m5 0h1m8 0h1m6 0h1m1 0h1m3 0h1m21 0h1m11 0h1m20 0h2m3 0h1m11 0h1m10 0h1m33 0h1m5 0h2M2 39.5h1m10 0h1m2 0h1m5 0h1m14 0h4m1 0h1m5 0h1m10 0h1m4 0h1m19 0h1m6 0h1m2 0h1m1 0h4m4 0h1m10 0h1m2 0h1m3 0h1m8 0h3m3 0h1m2 0h2m3 0h1m3 0h1m9 0h1m3 0h2m3 0h1m5 0h1m4 0h1m5 0h1m1 0h1m4 0h2m3 0h2m7 0h2m16 0h1m8 0h2m6 0h1m1 0h1m1 0h1m2 0h1m4 0h2m1 0h1m7 0h1m17 0h1m3 0h1m23 0h1m5 0h1m4 0h1m8 0h1m4 0h1m7 0h1m5 0h1m10 0h1M8 40.5h1m1 0h1m6 0h1m7 0h2m6 0h1m5 0h1m6 0h1m2 0h2m2 0h1m4 0h1m9 0h1m4 0h1m17 0h1m4 0h1m3 0h3m1 0h1m16 0h1m9 0h2m8 0h2m4 0h1m4 0h2m13 0h1m14 0h1m9 0h1m4 0h1m15 0h1m2 0h2m14 0h1m23 0h1m29 0h2m5 0h2m1 0h2m8 0h1m6 0h1m4 0h1m15 0h1m20 0h1m7 0h1m3 0h1m3 0h1m6 0h1m4 0h1M12 41.5h2m6 0h1m2 0h1m9 0h1m39 0h1m5 0h1m14 0h1m1 0h1m9 0h2m9 0h2m4 0h1m9 0h1m5 0h2m6 0h1m4 0h1m4 0h1m7 0h1m1 0h1m2 0h2m1 0h2m6 0h2m5 0h1m2 0h1m17 0h3m7 0h2m1 0h2m6 0h1m4 0h1m2 0h1m1 0h1m1 0h4m3 0h1m1 0h1m3 0h1m1 0h2m11 0h1m5 0h1m1 0h1m4 0h1m2 0h1m4 0h2m8 0h1m17 0h1m6 0h1m2 0h1m16 0h1m18 0h1m5 0h1M2 42.5h1m13 0h1m9 0h1m10 0h1m4 0h1m4 0h1m9 0h1m6 0h1m2 0h1m1 0h1m1 0h1m4 0h2m9 0h1m1 0h1m3 0h1m2 0h1m8 0h1m19 0h1m2 0h1m4 0h1m11 0h1m2 0h1m6 0h1m2 0h1m2 0h1m1 0h1m7 0h1m6 0h2m1 0h1m4 0h1m11 0h1m4 0h1m2 0h1m4 0h2m1 0h1m6 0h1m2 0h2m2 0h1m1 0h1m6 0h1m4 0h1m2 0h1m6 0h1m4 0h1m12 0h1m1 0h1m3 0h1m22 0h1m2 0h1m2 0h1m5 0h1m5 0h1m6 0h1m14 0h1m1 0h1m1 0h1m21 0h1m5 0h1m2 0h1m3 0h1m1 0h1m3 0h2m1 0h1M18 43.5h1m1 0h1m10 0h1m1 0h1m3 0h1m8 0h1m2 0h1m1 0h1m1 0h1m5 0h1m3 0h1m17 0h2m6 0h1m3 0h1m7 0h1m13 0h1m1 0h2m2 0h1m1 0h1m1 0h1m2 0h1m4 0h1m6 0h1m5 0h2m2 0h1m2 0h1m3 0h1m1 0h1m6 0h1m4 0h1m1 0h1m1 0h1m1 0h1m4 0h1m1 0h1m1 0h1m8 0h1m1 0h1m1 0h3m2 0h1m5 0h2m3 0h1m4 0h2m3 0h1m1 0h1m2 0h1m2 0h2m4 0h2m7 0h1m12 0h1m4 0h1m9 0h1m11 0h1m9 0h1m13 0h1m3 0h1m6 0h1m8 0h1m1 0h1m9 0h1m18 0h1m6 0h1M9 44.5h1m10 0h2m4 0h1m2 0h1m3 0h1m3 0h1m4 0h1m4 0h1m2 0h1m2 0h2m7 0h1m1 0h1m6 0h1m1 0h2m2 0h2m8 0h1m1 0h1m1 0h2m1 0h1m1 0h1m5 0h2m1 0h1m2 0h1m8 0h1m4 0h1m2 0h2m4 0h1m12 0h1m10 0h1m3 0h1m1 0h1m3 0h3m1 0h1m3 0h1m1 0h3m3 0h2m13 0h1m5 0h2m4 0h1m4 0h2m4 0h2m6 0h2m4 0h1m1 0h2m10 0h1m1 0h1m7 0h1m3 0h1m1 0h1m4 0h1m21 0h1m2 0h1m5 0h1m9 0h3m4 0h1m6 0h1m8 0h1m16 0h1m4 0h1m1 0h1m12 0h1m8 0h1m4 0h1m1 0h2m5 0h1M6 45.5h1m2 0h1m22 0h1m2 0h1m14 0h1m9 0h1m1 0h1m5 0h1m6 0h3m2 0h1m5 0h1m2 0h1m1 0h2m4 0h2m1 0h1m4 0h1m5 0h1m3 0h1m1 0h1m4 0h1m18 0h1m7 0h1m5 0h1m1 0h1m7 0h4m6 0h1m11 0h1m2 0h1m5 0h1m14 0h1m1 0h2m3 0h1m1 0h2m9 0h3m8 0h1m2 0h1m12 0h1m1 0h1m8 0h1m8 0h1m6 0h1m17 0h1m6 0h1m12 0h1m9 0h1m7 0h1m1 0h1m30 0h1m3 0h2M16 46.5h2m5 0h1m7 0h1m6 0h1m2 0h1m8 0h1m2 0h1m17 0h2m2 0h1m4 0h3m9 0h2m8 0h1m3 0h1m2 0h1m4 0h2m6 0h3m2 0h1m3 0h1m6 0h1m7 0h1m5 0h1m3 0h1m3 0h1m4 0h1m3 0h2m3 0h2m1 0h2m6 0h2m5 0h1m8 0h2m4 0h2m5 0h1m6 0h1m3 0h1m1 0h1m15 0h1m3 0h1m7 0h2m2 0h1m6 0h1m2 0h1m10 0h1m5 0h1m8 0h1m29 0h2m7 0h1m22 0h1m28 0h1m2 0h1M10 47.5h1m1 0h1m5 0h1m1 0h1m5 0h1m20 0h1m2 0h1m4 0h1m7 0h1m11 0h1m13 0h1m11 0h1m1 0h1m1 0h1m16 0h1m16 0h1m1 0h1m3 0h1m8 0h1m3 0h1m1 0h1m19 0h1m7 0h1m2 0h1m3 0h1m8 0h1m3 0h1m4 0h2m1 0h1m4 0h1m1 0h1m12 0h1m3 0h1m3 0h1m8 0h1m5 0h1m8 0h1m10 0h1m12 0h1m4 0h2m7 0h1m2 0h1m16 0h1m12 0h1m1 0h1m3 0h1m14 0h1m4 0h1m8 0h1m12 0h1m1 0h1M18 48.5h1m9 0h1m8 0h1m10 0h1m10 0h1m13 0h2m1 0h2m2 0h1m13 0h1m7 0h1m4 0h1m12 0h1m1 0h2m3 0h1m12 0h2m2 0h1m5 0h1m13 0h2m4 0h1m4 0h1m7 0h1m1 0h1m12 0h1m10 0h1m3 0h3m18 0h1m4 0h1m1 0h1m3 0h1m3 0h1m1 0h1m3 0h1m8 0h1m3 0h2m10 0h1m11 0h1m15 0h1m11 0h1m11 0h1m7 0h2m10 0h1M11 49.5h1m16 0h1m6 0h1m8 0h1m2 0h1m2 0h1m6 0h1m1 0h2m1 0h1m2 0h1m6 0h2m6 0h1m6 0h1m1 0h2m6 0h1m2 0h1m1 0h1m2 0h1m6 0h1m6 0h1m5 0h2m4 0h1m1 0h1m3 0h1m1 0h1m1 0h2m1 0h2m4 0h1m1 0h1m5 0h1m3 0h1m5 0h1m1 0h1m6 0h1m2 0h1m35 0h1m4 0h2m1 0h2m1 0h1m17 0h1m6 0h1m7 0h1m6 0h1m12 0h1m5 0h1m9 0h1m2 0h2m9 0h1m9 0h1m5 0h1m5 0h1m19 0h1m2 0h1m8 0h1m3 0h1m2 0h1m3 0h1m2 0h1M8 50.5h1m4 0h1m4 0h1m7 0h1m10 0h1m2 0h1m7 0h1m1 0h2m11 0h1m10 0h1m2 0h1m8 0h2m2 0h1m2 0h1m8 0h1m1 0h2m2 0h1m3 0h1m2 0h1m3 0h1m2 0h1m2 0h1m4 0h2m9 0h1m2 0h1m1 0h3m4 0h1m1 0h1m15 0h1m1 0h1m3 0h1m2 0h1m4 0h1m4 0h1m2 0h1m2 0h1m5 0h1m5 0h1m13 0h1m32 0h1m2 0h1m9 0h1m15 0h1m4 0h1m3 0h1m8 0h1m6 0h1m2 0h1m9 0h1m2 0h1m7 0h1m1 0h1m10 0h1m5 0h1m2 0h1m2 0h2m19 0h1m16 0h1M16 51.5h1m18 0h1m1 0h2m14 0h1m3 0h1m5 0h1m9 0h1m10 0h1m6 0h2m3 0h1m2 0h1m5 0h1m1 0h1m1 0h2m1 0h1m2 0h4m2 0h1m11 0h1m13 0h1m9 0h4m4 0h2m6 0h1m1 0h2m5 0h2m1 0h2m5 0h1m16 0h1m7 0h3m3 0h1m3 0h1m5 0h1m4 0h1m2 0h1m1 0h1m2 0h1m19 0h1m2 0h1m10 0h1m17 0h3m4 0h1m1 0h1m2 0h1m10 0h1m4 0h1m2 0h1m1 0h1m1 0h2m4 0h1m1 0h1m3 0h2m30 0h1m1 0h1m3 0h1M33 52.5h1m3 0h2m1 0h1m9 0h1m4 0h1m6 0h1m5 0h2m3 0h1m3 0h1m15 0h1m4 0h1m3 0h2m2 0h1m3 0h1m5 0h1m3 0h2m5 0h1m3 0h1m1 0h1m8 0h1m1 0h1m8 0h2m11 0h2m1 0h1m10 0h1m7 0h1m1 0h1m12 0h1m2 0h1m1 0h3m1 0h1m3 0h3m6 0h1m19 0h1m1 0h1m1 0h1m1 0h1m1 0h1m5 0h1m11 0h2m16 0h1m3 0h1m17 0h1m2 0h1m7 0h1m3 0h2m2 0h1m25 0h1m2 0h1m5 0h1m3 0h1m1 0h1m4 0h1m1 0h1m2 0h2m4 0h1M14 53.5h1m8 0h1m13 0h1m2 0h1m9 0h1m2 0h1m14 0h1m5 0h1m3 0h1m4 0h1m1 0h1m1 0h1m9 0h1m7 0h2m2 0h1m6 0h1m6 0h1m3 0h1m17 0h1m3 0h1m2 0h1m5 0h1m5 0h1m2 0h2m1 0h1m6 0h2m1 0h1m1 0h1m3 0h1m1 0h1m1 0h1m1 0h2m6 0h1m10 0h1m5 0h1m4 0h2m1 0h1m2 0h1m5 0h1m6 0h1m5 0h1m20 0h1m1 0h1m8 0h1m6 0h1m13 0h1m1 0h2m4 0h1m12 0h1m4 0h1m3 0h1m12 0h1m6 0h1m1 0h1m4 0h1m10 0h1m13 0h1m2 0h1M4 54.5h1m26 0h1m8 0h1m8 0h1m5 0h1m8 0h1m9 0h1m4 0h1m2 0h1m7 0h2m10 0h1m2 0h1m7 0h1m7 0h1m3 0h1m7 0h1m4 0h1m6 0h2m1 0h1m1 0h3m7 0h1m7 0h2m10 0h1m1 0h1m7 0h1m19 0h1m4 0h1m12 0h1m2 0h2m4 0h1m1 0h2m2 0h1m7 0h3m4 0h1m3 0h2m6 0h1m15 0h1m4 0h2m9 0h1m5 0h2m3 0h1m15 0h1m5 0h1m3 0h1m1 0h1m5 0h1m5 0h1m1 0h1m3 0h1M17 55.5h1m22 0h1m13 0h1m3 0h2m4 0h1m4 0h1m2 0h1m1 0h1m7 0h2m2 0h1m5 0h1m5 0h1m2 0h1m4 0h1m8 0h1m7 0h2m3 0h1m11 0h1m5 0h1m1 0h1m3 0h1m3 0h1m19 0h3m2 0h1m3 0h1m4 0h2m1 0h1m4 0h1m8 0h1m1 0h1m10 0h1m1 0h2m18 0h1m4 0h1m19 0h2m1 0h1m8 0h2m14 0h2m4 0h2m5 0h1m12 0h1m17 0h1m14 0h1m4 0h1m25 0h1m6 0h1M13 56.5h1m36 0h1m1 0h1m6 0h1m3 0h1m4 0h1m3 0h1m4 0h1m3 0h1m13 0h1m1 0h2m1 0h2m2 0h1m1 0h1m15 0h2m4 0h1m2 0h1m13 0h1m4 0h2m3 0h1m7 0h1m20 0h3m4 0h1m5 0h2m9 0h1m1 0h1m2 0h1m1 0h1m2 0h2m3 0h1m6 0h1m8 0h2m9 0h1m7 0h1m4 0h1m5 0h1m33 0h1m5 0h1m11 0h2m12 0h1m5 0h1m1 0h1m3 0h1m4 0h1m1 0h2m2 0h2m22 0h1m5 0h1M20 57.5h1m17 0h1m7 0h1m4 0h1m3 0h1m1 0h1m1 0h1m4 0h1m7 0h2m2 0h1m3 0h1m8 0h1m22 0h1m9 0h1m2 0h1m3 0h2m8 0h1m5 0h1m2 0h1m3 0h2m1 0h1m3 0h1m7 0h1m3 0h1m2 0h2m1 0h2m1 0h1m4 0h2m5 0h1m1 0h1m4 0h1m6 0h2m2 0h1m5 0h1m2 0h1m1 0h1m9 0h1m4 0h1m6 0h3m1 0h1m19 0h1m4 0h1m2 0h1m1 0h1m7 0h2m5 0h1m15 0h2m11 0h1m3 0h1m9 0h1m3 0h1m2 0h1m12 0h2m4 0h1m5 0h1m1 0h1m2 0h1m3 0h1m9 0h2m4 0h1m3 0h1M110 58.5h1m20 0h1m25 0h1m9 0h1m11 0h1m18 0h1m23 0h1m20 0h1m27 0h1m23 0h1m33 0h1m39 0h1m16 0h1M20 59.5h1m5 0h1m19 0h2m1 0h1m3 0h1m9 0h3m10 0h1m1 0h1m3 0h1m2 0h2m14 0h1m2 0h1m11 0h1m3 0h1m3 0h1m2 0h2m1 0h1m10 0h1m2 0h1m1 0h2m1 0h2m1 0h2m3 0h1m6 0h2m5 0h1m11 0h1m1 0h1m5 0h1m8 0h1m3 0h1m2 0h2m2 0h1m1 0h3m10 0h1m7 0h1m1 0h1m11 0h1m2 0h1m8 0h1m6 0h3m1 0h1m2 0h1m51 0h1m2 0h1m3 0h1m11 0h1m1 0h1m3 0h1m3 0h1m6 0h1m9 0h1m9 0h1m1 0h2m7 0h1M9 60.5h1m10 0h1m11 0h1m4 0h1m1 0h2m11 0h1m4 0h1m1 0h1m8 0h1m9 0h1m2 0h2m4 0h1m3 0h1m1 0h1m3 0h3m2 0h1m6 0h3m9 0h2m10 0h1m5 0h1m5 0h1m3 0h1m3 0h2m1 0h1m4 0h1m1 0h1m7 0h1m8 0h1m1 0h1m4 0h1m3 0h1m4 0h1m2 0h2m1 0h2m1 0h1m7 0h1m6 0h1m7 0h1m2 0h1m2 0h1m4 0h1m3 0h1m3 0h1m3 0h1m3 0h1m8 0h1m2 0h1m11 0h2m5 0h1m7 0h1m4 0h1m8 0h1m2 0h1m2 0h1m2 0h1m1 0h1m1 0h1m1 0h1m1 0h1m2 0h1m15 0h1m2 0h1m3 0h1m5 0h1m1 0h1m1 0h1m8 0h1m3 0h1m3 0h1m6 0h1m5 0h2M14 61.5h1m36 0h1m12 0h1m21 0h1m2 0h1m7 0h1m11 0h1m13 0h1m3 0h2m11 0h1m6 0h1m26 0h1m9 0h2m10 0h1m5 0h1m1 0h1m1 0h1m2 0h2m19 0h1m1 0h1m4 0h1m1 0h1m4 0h1m3 0h1m9 0h1m2 0h1m22 0h1m23 0h1m9 0h1m1 0h1m2 0h1m20 0h1m7 0h1m4 0h1m9 0h1m13 0h1m1 0h1m7 0h1M9 62.5h1m2 0h1m7 0h1m12 0h1m4 0h1m28 0h1m9 0h1m3 0h1m7 0h1m1 0h1m4 0h1m2 0h1m3 0h1m5 0h1m7 0h4m1 0h1m2 0h1m2 0h1m2 0h1m1 0h1m11 0h1m6 0h1m4 0h1m6 0h1m3 0h1m5 0h1m9 0h1m2 0h1m5 0h1m4 0h1m1 0h1m3 0h1m23 0h1m10 0h1m3 0h1m35 0h2m3 0h2m8 0h1m4 0h1m2 0h1m3 0h1m3 0h2m5 0h1m1 0h1m1 0h2m11 0h1m1 0h1m23 0h1m4 0h1m8 0h1m5 0h1m4 0h1m4 0h1M18 63.5h1m21 0h2m4 0h1m3 0h1m4 0h1m5 0h1m1 0h1m5 0h1m4 0h1m1 0h1m12 0h1m3 0h1m1 0h1m2 0h1m11 0h1m3 0h1m1 0h1m4 0h1m3 0h1m2 0h1m3 0h1m1 0h1m3 0h1m3 0h1m4 0h2m3 0h1m12 0h1m3 0h1m2 0h1m1 0h1m16 0h2m2 0h1m5 0h1m1 0h1m9 0h1m7 0h1m6 0h1m14 0h1m12 0h1m11 0h2m18 0h1m4 0h2m10 0h1m5 0h1m1 0h1m19 0h1m1 0h2m5 0h1m13 0h1m10 0h1m14 0h1m7 0h2M20 64.5h2m7 0h1m7 0h1m4 0h1m14 0h1m8 0h1m37 0h1m1 0h1m18 0h1m7 0h1m4 0h1m5 0h1m29 0h1m19 0h1m4 0h1m3 0h1m5 0h1m29 0h1m24 0h1m11 0h1m27 0h1m33 0h1m1 0h2m7 0h1m11 0h1m1 0h1m10 0h2m4 0h1m4 0h1M12 65.5h1m7 0h1m24 0h1m5 0h1m5 0h1m1 0h1m2 0h1m3 0h2m5 0h1m1 0h2m1 0h1m8 0h1m2 0h1m3 0h1m2 0h1m2 0h1m4 0h1m1 0h1m8 0h2m1 0h1m3 0h2m5 0h2m7 0h1m1 0h1m4 0h1m1 0h2m2 0h1m7 0h2m2 0h1m5 0h1m3 0h1m11 0h1m13 0h1m10 0h1m6 0h1m1 0h1m7 0h1m11 0h1m12 0h1m6 0h1m1 0h1m9 0h1m12 0h1m5 0h1m3 0h1m4 0h1m7 0h1m4 0h1m26 0h1m4 0h1m1 0h1m9 0h1m5 0h1m2 0h1m2 0h1m2 0h1m2 0h1m1 0h2M57 66.5h1m102 0h1m19 0h1m19 0h1m13 0h1m12 0h1m21 0h1m85 0h1m25 0h1m2 0h1M3 67.5h1m19 0h1m35 0h1m3 0h1m16 0h1m8 0h1m9 0h2m6 0h1m2 0h1m7 0h1m6 0h2m6 0h1m13 0h1m1 0h1m1 0h1m7 0h2m3 0h1m3 0h1m9 0h1m1 0h1m5 0h1m18 0h1m12 0h1m9 0h1m16 0h1m3 0h1m7 0h1m12 0h1m20 0h1m8 0h1m3 0h1m10 0h1m14 0h1m12 0h1m10 0h1m9 0h1m10 0h1m3 0h1m1 0h1M41 68.5h1m15 0h1m16 0h1m1 0h1m6 0h1m3 0h1m3 0h1m3 0h1m5 0h1m4 0h3m10 0h2m5 0h2m2 0h1m10 0h1m2 0h3m2 0h1m15 0h1m4 0h1m3 0h1m6 0h1m5 0h1m5 0h1m3 0h1m1 0h1m2 0h1m5 0h1m2 0h1m3 0h1m4 0h1m2 0h1m1 0h2m11 0h1m1 0h2m2 0h1m7 0h1m23 0h1m8 0h1m5 0h1m6 0h2m3 0h1m4 0h1m26 0h1m10 0h1m9 0h1m13 0h2m8 0h1m3 0h1m7 0h1m3 0h1M11 69.5h2m7 0h1m21 0h1m5 0h1m7 0h1m11 0h1m12 0h1m5 0h1m1 0h1m4 0h1m1 0h1m1 0h1m5 0h1m11 0h1m4 0h1m5 0h1m4 0h1m6 0h2m1 0h1m1 0h1m7 0h1m3 0h1m2 0h2m2 0h1m2 0h1m3 0h2m3 0h4m6 0h1m18 0h2m2 0h1m4 0h1m7 0h1m4 0h3m3 0h1m12 0h1m5 0h1m1 0h1m22 0h1m1 0h2m5 0h1m15 0h2m5 0h1m2 0h1m14 0h1m1 0h1m1 0h1m3 0h1m3 0h1m13 0h1m1 0h1m13 0h1m13 0h1m2 0h1M6 70.5h1m34 0h1m10 0h1m8 0h2m3 0h1m13 0h1m7 0h1m4 0h1m23 0h1m9 0h1m13 0h1m7 0h1m10 0h2m3 0h1m3 0h1m45 0h1m1 0h2m4 0h1m8 0h1m11 0h1m4 0h1m5 0h1m2 0h1m32 0h1m3 0h1m9 0h1m17 0h1m1 0h1m18 0h1m5 0h1m3 0h1m1 0h1M8 71.5h1m3 0h1m41 0h1m20 0h1m4 0h1m1 0h1m1 0h2m1 0h1m1 0h1m1 0h1m5 0h1m9 0h2m3 0h2m3 0h1m4 0h1m2 0h1m2 0h1m2 0h1m9 0h2m8 0h1m1 0h1m4 0h1m6 0h1m1 0h1m3 0h1m4 0h1m2 0h1m20 0h1m3 0h2m7 0h1m3 0h1m4 0h1m5 0h1m9 0h1m1 0h1m8 0h2m4 0h2m2 0h1m6 0h1m9 0h2m8 0h1m17 0h1m3 0h1m16 0h1m44 0h3m18 0h1M20 72.5h1m12 0h1m8 0h1m14 0h1m6 0h1m10 0h3m8 0h1m6 0h1m4 0h1m2 0h1m22 0h1m4 0h1m11 0h1m4 0h1m2 0h1m6 0h2m3 0h1m1 0h1m1 0h1m2 0h2m4 0h2m10 0h1m3 0h2m3 0h2m1 0h2m3 0h1m19 0h1m9 0h2m1 0h1m1 0h1m3 0h1m2 0h1m30 0h1m1 0h1m15 0h1m2 0h1m5 0h1m3 0h1m6 0h1m7 0h1m29 0h1m6 0h1m1 0h1m3 0h1m1 0h2m7 0h1m4 0h2m2 0h3m8 0h1M39 73.5h1m16 0h1m2 0h1m12 0h2m1 0h4m3 0h2m6 0h2m3 0h2m1 0h1m2 0h1m26 0h1m2 0h3m5 0h1m6 0h1m2 0h4m3 0h2m13 0h1m1 0h1m3 0h1m7 0h1m4 0h1m11 0h1m12 0h1m4 0h1m4 0h1m24 0h1m2 0h2m4 0h1m16 0h1m1 0h1m2 0h1m1 0h1m4 0h1m5 0h1m2 0h1m17 0h1m40 0h1m3 0h2m2 0h2m5 0h1m9 0h1m6 0h1m1 0h1m7 0h1M35 74.5h1m4 0h1m10 0h1m7 0h1m3 0h1m4 0h1m7 0h2m7 0h1m5 0h1m1 0h1m1 0h1m19 0h2m1 0h1m6 0h1m2 0h1m1 0h2m4 0h1m5 0h1m2 0h1m8 0h1m2 0h1m11 0h1m5 0h1m3 0h1m7 0h1m7 0h1m2 0h1m19 0h1m1 0h1m15 0h1m10 0h2m2 0h3m10 0h1m1 0h1m3 0h2m11 0h1m8 0h2m1 0h1m21 0h1m6 0h1m1 0h2m7 0h1m7 0h1m3 0h1m10 0h1m5 0h1m7 0h1M20 75.5h2m11 0h1m12 0h1m2 0h2m4 0h1m1 0h3m3 0h1m8 0h1m1 0h4m7 0h1m5 0h1m4 0h1m12 0h1m4 0h2m4 0h1m8 0h1m2 0h2m11 0h1m1 0h1m6 0h1m4 0h1m14 0h2m12 0h1m4 0h1m6 0h1m1 0h1m4 0h1m8 0h1m23 0h1m4 0h1m4 0h3m4 0h1m9 0h1m13 0h1m1 0h1m1 0h1m18 0h2m3 0h1m4 0h1m14 0h2m11 0h1m16 0h1m7 0h1m26 0h1M12 76.5h1m15 0h1m8 0h1m4 0h1m7 0h1m11 0h2m1 0h1m1 0h1m6 0h1m1 0h1m10 0h1m18 0h1m2 0h1m2 0h1m6 0h1m2 0h1m22 0h1m6 0h1m3 0h1m1 0h1m1 0h2m2 0h1m5 0h1m13 0h1m3 0h1m12 0h1m2 0h1m10 0h1m5 0h1m5 0h1m12 0h1m1 0h1m2 0h1m16 0h1m7 0h1m12 0h1m14 0h1m3 0h1m4 0h3m4 0h1m3 0h1m2 0h2m1 0h2m9 0h1m3 0h1m28 0h1m5 0h3m8 0h1M37 77.5h1m2 0h1m5 0h3m17 0h1m5 0h1m1 0h1m6 0h1m1 0h1m3 0h1m1 0h1m1 0h1m1 0h1m4 0h1m2 0h1m4 0h1m7 0h1m1 0h2m1 0h1m6 0h1m5 0h1m5 0h1m2 0h1m2 0h1m2 0h1m2 0h1m2 0h1m2 0h1m8 0h1m4 0h1m25 0h1m3 0h2m3 0h1m3 0h1m3 0h2m1 0h1m11 0h1m13 0h1m17 0h1m4 0h1m25 0h1m8 0h1m9 0h1m3 0h1m7 0h1m32 0h1m14 0h1m7 0h1M5 78.5h1m44 0h1m8 0h1m7 0h1m2 0h2m3 0h1m1 0h1m1 0h1m3 0h1m4 0h1m1 0h3m1 0h1m10 0h2m8 0h1m2 0h1m7 0h1m6 0h1m3 0h1m3 0h1m7 0h1m2 0h1m7 0h2m1 0h3m4 0h1m2 0h2m2 0h1m6 0h1m2 0h2m10 0h1m1 0h1m2 0h1m3 0h1m7 0h1m13 0h1m4 0h1m1 0h2m6 0h1m16 0h1m4 0h1m1 0h1m32 0h1m1 0h1m6 0h1m10 0h1m1 0h1m10 0h1m12 0h1m6 0h1m4 0h1m14 0h1m14 0h1M20 79.5h1m29 0h2m1 0h1m3 0h1m1 0h6m1 0h2m7 0h1m1 0h1m5 0h1m2 0h1m7 0h1m3 0h1m2 0h1m5 0h1m1 0h1m5 0h1m3 0h1m1 0h2m4 0h2m4 0h1m6 0h1m9 0h1m4 0h1m7 0h1m2 0h1m26 0h1m3 0h2m7 0h1m2 0h1m6 0h1m7 0h1m9 0h1m1 0h1m12 0h1m10 0h1m6 0h1m12 0h1m5 0h1m1 0h1m5 0h1m11 0h1m13 0h1m2 0h1m11 0h1m9 0h1m22 0h1m3 0h1M20 80.5h1m8 0h1m5 0h1m23 0h1m13 0h1m22 0h1m5 0h1m4 0h1m31 0h2m12 0h1m12 0h1m7 0h2m1 0h1m6 0h3m49 0h1m14 0h2m36 0h1m12 0h1m6 0h1m17 0h1m1 0h1m10 0h1m17 0h1m3 0h1m8 0h1m3 0h1M8 81.5h2m14 0h1m17 0h1m3 0h1m8 0h1m1 0h1m9 0h1m4 0h2m3 0h1m2 0h1m8 0h1m3 0h1m1 0h3m7 0h1m3 0h2m1 0h1m2 0h1m1 0h2m7 0h1m13 0h1m9 0h1m4 0h1m3 0h1m6 0h2m1 0h1m4 0h1m10 0h1m1 0h1m4 0h1m7 0h1m2 0h1m1 0h1m3 0h1m16 0h1m3 0h1m3 0h1m3 0h1m4 0h3m20 0h1m1 0h1m9 0h1m11 0h1m3 0h1m6 0h1m6 0h1m5 0h1m8 0h1m1 0h1m5 0h1m7 0h1m2 0h1m3 0h1m15 0h1m3 0h1m1 0h1m3 0h1m4 0h1M20 82.5h1m7 0h1m5 0h1m2 0h1m3 0h1m4 0h3m16 0h1m2 0h1m2 0h1m2 0h1m6 0h2m6 0h1m6 0h1m6 0h1m2 0h1m3 0h1m1 0h1m1 0h1m9 0h1m2 0h3m1 0h1m5 0h1m1 0h1m2 0h1m1 0h1m6 0h3m2 0h1m1 0h1m5 0h1m1 0h1m1 0h1m1 0h1m35 0h2m4 0h1m2 0h1m12 0h1m5 0h1m8 0h1m1 0h1m10 0h1m7 0h1m2 0h1m18 0h1m10 0h3m2 0h1m8 0h1m16 0h2m9 0h1m3 0h1m6 0h1m4 0h1m14 0h2m25 0h1M37 83.5h1m6 0h1m4 0h1m9 0h1m2 0h1m2 0h1m2 0h1m2 0h2m4 0h1m6 0h1m7 0h1m5 0h1m2 0h1m3 0h1m8 0h2m3 0h2m2 0h1m2 0h1m1 0h1m5 0h1m4 0h1m17 0h1m8 0h2m6 0h1m11 0h1m3 0h1m9 0h2m14 0h1m14 0h1m8 0h2m6 0h2m34 0h1m16 0h1m9 0h1m2 0h1m7 0h1m3 0h1m4 0h1m1 0h2m1 0h1m8 0h1m20 0h1m25 0h1m3 0h1M38 84.5h1m1 0h1m5 0h1m13 0h1m24 0h1m37 0h1m6 0h1m19 0h1m10 0h1m23 0h1m10 0h1m2 0h2m30 0h1m52 0h1m21 0h1m2 0h1m21 0h1m17 0h1m22 0h1m12 0h1M24 85.5h1m13 0h1m7 0h1m1 0h3m12 0h1m1 0h1m5 0h1m2 0h1m1 0h1m2 0h1m2 0h1m5 0h2m6 0h1m2 0h1m2 0h1m2 0h2m5 0h2m1 0h1m4 0h1m6 0h1m1 0h3m6 0h1m6 0h1m5 0h1m2 0h1m5 0h1m3 0h1m5 0h2m3 0h1m2 0h1m1 0h1m2 0h1m2 0h1m9 0h2m1 0h2m1 0h2m3 0h1m2 0h1m3 0h1m4 0h1m15 0h1m11 0h1m4 0h2m4 0h1m8 0h1m1 0h1m13 0h1m8 0h1m10 0h1m12 0h1m14 0h1m7 0h2m6 0h1m16 0h2m10 0h1m3 0h1m6 0h1M38 86.5h1m8 0h1m1 0h1m1 0h1m2 0h1m10 0h1m23 0h1m12 0h1m17 0h1m25 0h1m5 0h1m21 0h1m13 0h1m2 0h1m1 0h1m8 0h2m6 0h1m8 0h1m1 0h1m10 0h1m37 0h1m28 0h1m28 0h1m39 0h1m1 0h1m13 0h1" stroke="#d1cce0"/>
<path d="M377 .5h1M20 1.5h1m16 0h1m8 0h1m24 0h1m175 0h1m101 0h1m4 0h1M9 2.5h1m37 0h1m59 0h1m96 0h1m8 0h1m34 0h1m48 0h1m4 0h1m53 0h1m11 0h1m25 0h1M18 3.5h1m103 0h1m2 0h1m29 0h1m61 0h1m2 0h1m33 0h1m13 0h1m2 0h1m24 0h1m33 0h1m18 0h1m6 0h1m9 0h1m5 0h1M6 4.5h1m79 0h1m60 0h1m5 0h1m97 0h1m50 0h1m17 0h1m68 0h1m3 0h1M4 5.5h1m1 0h1m47 0h1m4 0h1m34 0h1m33 0h1m12 0h1m69 0h1m36 0h1m60 0h1m24 0h1m27 0h1m28 0h1M8 6.5h1m29 0h1m11 0h1m72 0h1m49 0h1m31 0h1m5 0h1m78 0h1m1 0h1m13 0h1m32 0h2m2 0h1m1 0h1m2 0h1m6 0h1m25 0h1M10 7.5h1m85 0h1m23 0h1m19 0h1m14 0h1m24 0h1m14 0h2m10 0h1m20 0h1m35 0h1m27 0h1m1 0h1m5 0h1m30 0h1m31 0h1m21 0h1M12 8.5h1m5 0h1m14 0h1m30 0h1m16 0h1m87 0h1m21 0h1m84 0h1m16 0h1m47 0h1m6 0h1M51 9.5h1m37 0h1m60 0h1m1 0h1m3 0h1m4 0h1m65 0h1m17 0h1m62 0h1m3 0h1m11 0h1m55 0h1M87 10.5h1m30 0h1m113 0h1m39 0h1m21 0h1m29 0h1m10 0h1m34 0h1m1 0h1m8 0h1M2 11.5h1m90 0h1m21 0h1m74 0h1m27 0h1m86 0h1m2 0h1m49 0h1M20 12.5h1m53 0h1m5 0h1m18 0h1m17 0h1m8 0h1m100 0h1m19 0h1m95 0h1m19 0h1m15 0h1m14 0h1M2 13.5h1m51 0h2m56 0h1m48 0h1m5 0h2m86 0h1m27 0h1m3 0h1m9 0h1m33 0h1m44 0h1m15 0h1M9 14.5h1m2 0h1m20 0h1m4 0h1m20 0h1m14 0h1m48 0h1m2 0h1m39 0h1m3 0h1m50 0h1m15 0h1m57 0h1m47 0h3M215 15.5h1m2 0h1m34 0h1m34 0h1m65 0h1M33 16.5h1m97 0h1m118 0h1m32 0h1m4 0h1m45 0h1m5 0h1m29 0h1m12 0h1M5 17.5h1m31 0h1m47 0h1m7 0h1m31 0h1m40 0h1m88 0h1m10 0h1m21 0h1m8 0h1m12 0h1m8 0h1m3 0h1m8 0h1m16 0h1m6 0h1m32 0h1M23 18.5h1m49 0h1m4 0h1m1 0h1m9 0h1m40 0h1m1 0h1m59 0h1m15 0h1m12 0h1m31 0h1m27 0h1m81 0h1M28 19.5h1m61 0h1m3 0h1m46 0h1m17 0h1m40 0h1m25 0h1m12 0h1m17 0h1m22 0h1m22 0h1m23 0h1m41 0h1m11 0h1M40 20.5h1m46 0h1m89 0h1m1 0h1m1 0h1m18 0h1m15 0h1m59 0h1m23 0h1m5 0h1m3 0h1m2 0h1m8 0h1m30 0h1m22 0h1m12 0h1M11 21.5h1m25 0h1m19 0h1m23 0h1m4 0h1m29 0h1m13 0h1m19 0h1m6 0h2m39 0h1m28 0h1m57 0h1m93 0h1M177 22.5h1m61 0h1m117 0h1M0 23.5h1m28 0h1m99 0h1m26 0h1m18 0h1m19 0h1m25 0h1m1 0h1m29 0h1m6 0h1m22 0h1m1 0h1m12 0h1m13 0h1m29 0h1m2 0h1m19 0h1m20 0h1M55 24.5h1m108 0h1m23 0h1m6 0h1m36 0h1m30 0h1m117 0h1M58 25.5h1m4 0h1m4 0h1m28 0h1m8 0h1m2 0h1m35 0h1m8 0h1m3 0h1m41 0h1m12 0h1m85 0h1m8 0h1m54 0h1M24 26.5h1m25 0h1m4 0h1m3 0h1m73 0h1m13 0h1m23 0h2m8 0h1m1 0h1m33 0h1m5 0h1m13 0h1m29 0h1m13 0h1m73 0h1M81 27.5h1m100 0h1m4 0h1m21 0h1m13 0h1m89 0h1m19 0h1m14 0h1m36 0h1M18 28.5h1m92 0h1m3 0h1m11 0h1m17 0h1m3 0h1m38 0h1m5 0h1m39 0h1m66 0h1m6 0h1m16 0h1m5 0h1m15 0h1m30 0h1M23 29.5h1m35 0h1m7 0h1m54 0h1m67 0h1m57 0h1m2 0h1m72 0h1m24 0h1m20 0h1M8 30.5h1m59 0h1m22 0h2m16 0h1m16 0h1m119 0h1m60 0h1M35 31.5h1m31 0h1m64 0h1m30 0h1m17 0h1m4 0h1m69 0h1m31 0h1m4 0h1m5 0h1m10 0h1m2 0h1m2 0h1m35 0h1M38 32.5h1m20 0h1m37 0h1m108 0h1m124 0h1M46 33.5h1m13 0h1m4 0h1m11 0h2m99 0h1m5 0h1m20 0h1m3 0h1m49 0h1m83 0h1m16 0h1m18 0h1M3 34.5h1m85 0h2m18 0h1m49 0h1m4 0h1m14 0h1m6 0h1m20 0h1m1 0h1m161 0h1M59 35.5h1m79 0h1m8 0h1m27 0h1m22 0h1m15 0h1m68 0h1m4 0h1m14 0h1m25 0h1m8 0h1M62 36.5h1m53 0h1m14 0h1m22 0h1m6 0h1m3 0h1m30 0h1m34 0h1m3 0h1m21 0h1m72 0h1m6 0h1m40 0h1M73 37.5h1m305 0h1m13 0h1M38 38.5h1m43 0h1m34 0h1m1 0h1m21 0h1m17 0h1m8 0h1m16 0h1m5 0h1m31 0h1m88 0h1m21 0h1m6 0h1m12 0h1m2 0h1m7 0h1M36 39.5h1m21 0h1m118 0h1m33 0h1m114 0h2m4 0h1m6 0h1m12 0h1m18 0h1M64 40.5h1m29 0h1m3 0h1m70 0h1m7 0h1m48 0h1m14 0h1m46 0h1m18 0h1M31 41.5h1m57 0h1m8 0h1m43 0h1m53 0h1m7 0h1m2 0h1m67 0h1m11 0h1m6 0h1m9 0h1m36 0h1M38 42.5h1m19 0h1m14 0h1m21 0h1m6 0h1m3 0h1m45 0h1m4 0h1m19 0h1m7 0h1m30 0h1m39 0h1m30 0h1m4 0h1M119 43.5h1m22 0h1m25 0h1m68 0h1m33 0h1m58 0h1m44 0h1M68 44.5h1m28 0h1m35 0h1m7 0h1m59 0h1m23 0h1m12 0h1m76 0h1m19 0h1m41 0h1M47 45.5h1m66 0h1m10 0h1m5 0h1m18 0h1m10 0h1m22 0h1m116 0h1m42 0h1m2 0h1m27 0h1M40 46.5h1m10 0h1m44 0h1m31 0h1m35 0h1m8 0h1m25 0h1m3 0h1m7 0h2m5 0h1m33 0h1m55 0h1m2 0h1m2 0h1m7 0h1m70 0h1M106 47.5h1m20 0h1m25 0h1m36 0h1m16 0h1m19 0h1m3 0h1m10 0h1m13 0h1m31 0h1m82 0h1M63 48.5h1m48 0h1m2 0h1m39 0h1m22 0h1m48 0h1m100 0h1m42 0h1M19 49.5h1m62 0h1m11 0h1m1 0h1m14 0h1m28 0h1m6 0h1m8 0h1m7 0h1m29 0h1m5 0h1m3 0h1m33 0h1m9 0h1m2 0h1m6 0h1m69 0h1m12 0h1m11 0h1m34 0h1M152 50.5h1m21 0h1m12 0h1m23 0h1m6 0h1m84 0h1m9 0h2m63 0h1m11 0h1M64 51.5h1m3 0h1m98 0h1m48 0h1m28 0h1m6 0h1m65 0h1m29 0h1m37 0h1M72 52.5h1m55 0h1m12 0h1m40 0h2m31 0h1m20 0h1m3 0h1m17 0h1m9 0h1m32 0h1m8 0h1m40 0h1M63 53.5h1m43 0h1m91 0h1m12 0h1m81 0h1m28 0h1m60 0h1m9 0h1M54 54.5h1m26 0h1m116 0h1m78 0h1m7 0h1m2 0h1m4 0h1m11 0h1m58 0h1m4 0h1m1 0h1M52 55.5h1m112 0h2m13 0h1m5 0h1m24 0h1m21 0h1m19 0h1m36 0h2m1 0h1m18 0h1m20 0h1M35 56.5h1m35 0h1m47 0h1m18 0h2m24 0h1m66 0h1m39 0h1m18 0h1m20 0h1m28 0h1M91 57.5h1m9 0h1m21 0h2m72 0h1m16 0h1m2 0h1m15 0h1m54 0h1m29 0h1m11 0h1m54 0h1M123 58.5h1m69 0h1m51 0h1m109 0h1m25 0h1M37 59.5h1m12 0h1m24 0h1m1 0h1m16 0h1m17 0h1m69 0h1m9 0h1m51 0h1m5 0h1m3 0h1m4 0h1m35 0h1m1 0h1m7 0h1M30 60.5h1m65 0h1m7 0h1m1 0h1m79 0h1m32 0h1m24 0h1m4 0h1m2 0h1m17 0h1m38 0h1m3 0h1m15 0h1m3 0h1m26 0h1m3 0h1M57 61.5h1m54 0h1m188 0h1m36 0h1m46 0h1M79 62.5h1m7 0h1m130 0h1m12 0h1m31 0h1m24 0h1m4 0h1m7 0h1m54 0h1M131 63.5h1m13 0h1m34 0h1m1 0h1m42 0h1m54 0h1m15 0h1m6 0h1m48 0h1M68 64.5h1m14 0h1m3 0h1m31 0h1m9 0h1m188 0h1M77 65.5h1m49 0h1m16 0h1m9 0h1m27 0h1m24 0h1m33 0h1m4 0h1m24 0h1m45 0h1m3 0h1m19 0h1m26 0h1m12 0h1M253 66.5h1m121 0h1M128 67.5h1m16 0h1m142 0h1m22 0h1m27 0h1m49 0h1M94 68.5h1m1 0h1m25 0h1m6 0h1m29 0h1m18 0h1m10 0h1m11 0h1m1 0h1m33 0h1m18 0h1m142 0h1M66 69.5h1m5 0h3m17 0h1m9 0h1m20 0h1m4 0h1m16 0h1m40 0h1m5 0h1m5 0h1m15 0h1m43 0h1m27 0h1m26 0h1m21 0h1M106 70.5h1m101 0h1m110 0h1M23 71.5h1m162 0h1m7 0h1m13 0h1m23 0h1m29 0h1m67 0h1m59 0h1M47 72.5h1m54 0h1m14 0h1m13 0h1m18 0h1m3 0h1m18 0h1m14 0h1m21 0h1m43 0h1m20 0h1m12 0h1m13 0h1m32 0h1m28 0h1m4 0h1m1 0h1M20 73.5h1m53 0h1m63 0h1m2 0h1m17 0h1m33 0h1m9 0h1m7 0h1m35 0h1m1 0h1m39 0h1M37 74.5h1m64 0h1m3 0h1m33 0h1m30 0h1m36 0h1m28 0h1m69 0h1m15 0h1m12 0h1m1 0h1M31 75.5h1m69 0h1m14 0h1m13 0h1m6 0h1m3 0h2m22 0h1m5 0h1m37 0h1m8 0h1m60 0h1m16 0h1m4 0h1m19 0h1m11 0h1m21 0h1M53 76.5h1m7 0h1m11 0h1m36 0h1m14 0h1m42 0h1m16 0h1m66 0h1M82 77.5h1m13 0h1m12 0h1m11 0h1m56 0h1m62 0h1m52 0h1m53 0h1M98 78.5h1m12 0h1m1 0h1m24 0h1m3 0h1m107 0h1m8 0h1m27 0h2m38 0h1m55 0h1M73 79.5h1m19 0h1m17 0h1m11 0h1m2 0h1m12 0h1m19 0h1m36 0h1m81 0h1m88 0h1m17 0h1M112 80.5h1m19 0h1m58 0h1m197 0h1M14 81.5h1m35 0h1m36 0h1m3 0h1m8 0h1m75 0h1m31 0h1m45 0h1m67 0h1m38 0h1m9 0h1m12 0h1M107 82.5h1m12 0h1m4 0h2m49 0h1m7 0h1m15 0h1m24 0h1m4 0h1m62 0h1M93 83.5h2m69 0h1m10 0h1m7 0h1m3 0h1m14 0h1m14 0h1m99 0h1m30 0h1m20 0h1M51 85.5h1m3 0h1m159 0h1m2 0h1m35 0h1m23 0h1m49 0h1m17 0h1m9 0h1m22 0h1m12 0h1M264 86.5h1m13 0h1m57 0h1" stroke="#ececec"/>
<path d="M65 .5h1m41 0h1m85 0h1m3 0h1m16 0h1m30 0h1m20 0h1m32 0h1m1 0h1m22 0h1m2 0h1m41 0h1M102 1.5h1m45 0h1m15 0h1m12 0h1m2 0h1m29 0h1m12 0h1m8 0h1m16 0h1m35 0h1m9 0h1m2 0h1m1 0h1m4 0h1m1 0h1m11 0h1m4 0h1m4 0h1m3 0h1m4 0h1m3 0h1m5 0h1m21 0h1m13 0h2m6 0h1M38 2.5h2m45 0h1m3 0h1m20 0h1m7 0h1m9 0h2m9 0h1m7 0h1m11 0h1m5 0h1m10 0h1m2 0h1m5 0h1m33 0h1m5 0h1m11 0h1m4 0h1m4 0h1m3 0h1m1 0h1m1 0h1m5 0h1m2 0h1m1 0h1m12 0h1m4 0h1m7 0h1m1 0h1m8 0h1m1 0h1m6 0h1m12 0h1m4 0h1m5 0h1m2 0h1m10 0h1m7 0h1m7 0h1m3 0h2m6 0h1m1 0h1m10 0h1M0 3.5h1m39 0h1m8 0h1m4 0h1m47 0h1m1 0h1m19 0h1m3 0h2m9 0h1m35 0h1m4 0h1m7 0h1m1 0h1m14 0h1m8 0h1m7 0h1m7 0h1m5 0h4m6 0h1m17 0h1m2 0h1m11 0h1m13 0h1m15 0h1m4 0h1m1 0h1m21 0h1m6 0h1m1 0h1m12 0h2m1 0h1m10 0h1m1 0h1m1 0h1m6 0h1m5 0h1M33 4.5h1m25 0h1m8 0h1m8 0h1m50 0h1m22 0h1m6 0h1m2 0h1m6 0h1m14 0h1m2 0h1m4 0h2m9 0h1m4 0h1m12 0h1m5 0h1m1 0h1m2 0h1m1 0h1m20 0h1m36 0h1m1 0h1m18 0h1m3 0h2m5 0h1m14 0h1m2 0h2m8 0h1m8 0h2m14 0h1M18 5.5h1m4 0h1m39 0h2m6 0h1m9 0h1m8 0h1m28 0h1m4 0h1m1 0h1m11 0h1m1 0h1m5 0h1m2 0h1m1 0h1m3 0h1m3 0h1m6 0h1m4 0h1m24 0h1m3 0h1m7 0h1m7 0h1m9 0h2m4 0h1m2 0h1m5 0h1m12 0h1m1 0h1m4 0h1m21 0h1m7 0h2m6 0h2m4 0h1m1 0h2m13 0h2m3 0h2m12 0h1m8 0h2m2 0h2m4 0h1m9 0h2m2 0h1m3 0h2m8 0h1m5 0h1m4 0h1M20 6.5h1m61 0h1m20 0h1m6 0h1m1 0h1m6 0h1m21 0h1m27 0h1m7 0h1m9 0h1m4 0h1m4 0h4m2 0h1m5 0h1m2 0h1m5 0h1m2 0h1m13 0h1m2 0h1m3 0h1m17 0h1m2 0h1m43 0h1m16 0h1m5 0h1m20 0h1m7 0h2m14 0h2m3 0h1m2 0h3m2 0h1M6 7.5h1m54 0h1m11 0h1m32 0h1m26 0h1m8 0h1m5 0h1m5 0h1m4 0h1m1 0h1m9 0h1m15 0h1m12 0h1m26 0h1m6 0h1m8 0h1m3 0h2m10 0h1m6 0h1m3 0h1m27 0h1m2 0h1m10 0h1m11 0h1m1 0h1m2 0h1m4 0h1m9 0h2m2 0h1m5 0h1m10 0h1m8 0h2m5 0h1M40 8.5h1m6 0h1m2 0h1m26 0h2m27 0h1m33 0h1m12 0h1m17 0h1m2 0h1m2 0h1m1 0h1m1 0h1m3 0h1m6 0h1m6 0h2m6 0h1m1 0h2m14 0h1m1 0h1m2 0h1m3 0h1m6 0h1m7 0h1m7 0h1m2 0h1m2 0h2m1 0h1m11 0h1m7 0h1m14 0h1m1 0h1m12 0h1m13 0h1m5 0h1m20 0h1m5 0h1m1 0h1m2 0h1m1 0h1m8 0h1m1 0h2m2 0h1M26 9.5h1m61 0h1m38 0h1m3 0h1m31 0h1m19 0h1m13 0h1m4 0h1m1 0h2m1 0h1m1 0h1m2 0h1m2 0h1m2 0h1m12 0h1m11 0h1m4 0h1m1 0h1m1 0h1m7 0h1m27 0h2m5 0h1m1 0h1m1 0h1m1 0h4m6 0h1m1 0h2m6 0h1m5 0h1m7 0h1m7 0h2m2 0h1m4 0h1m3 0h1m2 0h1m2 0h1m6 0h1m7 0h1m6 0h1M58 10.5h1m15 0h1m17 0h1m11 0h1m6 0h1m5 0h1m9 0h1m4 0h2m8 0h1m4 0h1m5 0h1m13 0h3m12 0h1m1 0h1m1 0h1m6 0h1m4 0h1m12 0h2m1 0h1m1 0h1m8 0h1m8 0h1m2 0h2m2 0h1m9 0h1m2 0h1m2 0h2m1 0h1m2 0h1m16 0h1m11 0h1m3 0h1m16 0h1m1 0h2m2 0h3m12 0h1m29 0h1m14 0h1m4 0h1M24 11.5h1m71 0h1m10 0h1m11 0h1m13 0h1m13 0h1m16 0h1m58 0h1m1 0h1m7 0h1m5 0h1m12 0h1m6 0h1m26 0h1m9 0h1m3 0h1m13 0h1m12 0h1m31 0h1m7 0h3m7 0h1m15 0h1M62 12.5h2m22 0h1m24 0h1m2 0h1m13 0h1m4 0h1m7 0h1m8 0h1m1 0h1m11 0h1m6 0h1m12 0h1m2 0h1m3 0h1m3 0h1m3 0h1m3 0h1m28 0h1m12 0h1m12 0h2m6 0h1m13 0h1m7 0h1m1 0h1m8 0h3m6 0h1m9 0h1m4 0h3m4 0h1m4 0h2m24 0h1m8 0h1m4 0h2m1 0h1m3 0h1m8 0h1M47 13.5h1m3 0h1m1 0h1m5 0h1m8 0h1m5 0h1m21 0h1m31 0h1m24 0h1m21 0h1m11 0h1m2 0h1m6 0h1m1 0h1m4 0h1m2 0h1m15 0h1m4 0h1m10 0h1m6 0h1m1 0h1m14 0h2m7 0h1m7 0h1m3 0h1m6 0h1m1 0h1m12 0h1m5 0h3m1 0h1m8 0h1m6 0h1m6 0h1m3 0h2m7 0h1m3 0h1m3 0h1m5 0h1m2 0h1m8 0h1m2 0h1m1 0h1m3 0h2M40 14.5h1m39 0h1m10 0h1m12 0h1m28 0h1m5 0h1m27 0h1m3 0h1m1 0h1m2 0h1m10 0h1m2 0h1m6 0h1m7 0h1m14 0h1m9 0h1m2 0h1m7 0h1m14 0h1m7 0h1m2 0h1m12 0h1m7 0h2m3 0h2m8 0h1m5 0h2m6 0h1m1 0h1m2 0h1m1 0h1m4 0h1m4 0h2m5 0h1m4 0h1m5 0h1m3 0h1m4 0h1m2 0h1m7 0h1m12 0h1M8 15.5h1m33 0h1m6 0h1m58 0h1m13 0h2m21 0h1m15 0h1m54 0h1m13 0h1m20 0h1m8 0h1m5 0h1m18 0h1m17 0h1m10 0h1m8 0h1m3 0h1m15 0h1m3 0h1m14 0h1m9 0h1M38 16.5h1m25 0h1m8 0h1m13 0h1m6 0h1m1 0h1m32 0h1m25 0h1m7 0h1m5 0h1m10 0h1m3 0h1m5 0h1m4 0h1m23 0h2m7 0h1m29 0h1m2 0h1m10 0h1m11 0h1m8 0h1m3 0h1m2 0h1m1 0h1m2 0h1m3 0h2m5 0h2m2 0h2m6 0h1m17 0h1m2 0h1m17 0h1m3 0h3m2 0h1m3 0h1m5 0h1m7 0h1M26 17.5h1m20 0h1m20 0h1m1 0h1m10 0h1m39 0h1m6 0h1m31 0h1m3 0h1m3 0h1m17 0h1m11 0h2m19 0h1m13 0h1m10 0h1m9 0h1m2 0h1m4 0h1m4 0h1m1 0h1m6 0h1m1 0h1m12 0h1m9 0h1m10 0h1m24 0h1m16 0h1m7 0h1m5 0h1m9 0h1m5 0h2m4 0h1m4 0h1M39 18.5h1m6 0h1m2 0h2m26 0h1m18 0h1m12 0h1m13 0h2m16 0h1m9 0h1m3 0h1m5 0h1m1 0h1m9 0h1m18 0h1m10 0h1m17 0h1m11 0h1m5 0h2m6 0h1m1 0h3m1 0h1m2 0h2m2 0h1m8 0h1m6 0h1m1 0h1m25 0h1m1 0h1m3 0h1m2 0h1m1 0h1m22 0h2m12 0h1m2 0h2m3 0h1m4 0h1m5 0h1m6 0h1m14 0h1m3 0h1M23 19.5h1m14 0h2m10 0h1m7 0h1m1 0h1m35 0h1m7 0h1m1 0h1m24 0h1m7 0h1m8 0h1m22 0h1m4 0h1m3 0h1m29 0h1m19 0h1m3 0h1m6 0h1m5 0h1m6 0h1m9 0h1m20 0h1m12 0h1m6 0h1m3 0h1m11 0h1m1 0h1m2 0h1m1 0h1m9 0h1m4 0h1m24 0h1m3 0h1m7 0h1m2 0h1m13 0h1M18 20.5h1m19 0h1m9 0h1m15 0h1m12 0h1m27 0h1m4 0h1m11 0h1m24 0h1m10 0h1m6 0h1m1 0h1m2 0h1m2 0h1m1 0h1m6 0h1m4 0h1m4 0h1m11 0h1m1 0h1m13 0h1m5 0h1m7 0h1m1 0h4m1 0h1m5 0h1m19 0h1m2 0h1m7 0h1m9 0h2m5 0h1m18 0h1m8 0h1m13 0h1m10 0h1m15 0h1m2 0h2m1 0h1m2 0h1m4 0h1m4 0h1m4 0h1m10 0h1M14 21.5h1m33 0h1m1 0h1m21 0h1m53 0h1m5 0h1m13 0h1m12 0h1m6 0h1m4 0h1m9 0h1m1 0h1m4 0h1m15 0h1m1 0h1m1 0h1m44 0h2m3 0h2m6 0h1m9 0h6m10 0h1m1 0h1m2 0h1m3 0h2m9 0h1m1 0h1m15 0h1m4 0h1m2 0h1m24 0h1m2 0h1m2 0h1m1 0h1m3 0h1m10 0h1m8 0h1M73 22.5h1m92 0h1m51 0h2m37 0h1m2 0h1m3 0h1m34 0h1m12 0h1m21 0h1m14 0h1m21 0h1m6 0h1M31 23.5h1m18 0h1m24 0h1m11 0h1m4 0h1m7 0h1m1 0h1m2 0h1m9 0h1m8 0h1m5 0h1m28 0h1m3 0h1m9 0h1m14 0h1m3 0h1m10 0h2m1 0h1m2 0h1m4 0h1m10 0h1m1 0h1m6 0h2m1 0h1m2 0h1m1 0h1m1 0h1m6 0h1m7 0h1m8 0h1m21 0h1m6 0h1m1 0h1m6 0h1m11 0h2m5 0h1m2 0h1m2 0h1m1 0h1m10 0h1m2 0h1m4 0h1m3 0h1m5 0h2m4 0h1m2 0h1m2 0h1m3 0h1M38 24.5h1m10 0h1m55 0h1m9 0h1m7 0h1m29 0h1m38 0h1m4 0h1m1 0h1m15 0h2m5 0h1m3 0h1m6 0h1m5 0h1m2 0h3m11 0h1m10 0h1m15 0h2m10 0h2m4 0h1m5 0h1m3 0h1m2 0h1m12 0h1m14 0h1m29 0h1m2 0h1M1 25.5h1m10 0h1m26 0h1m48 0h1m9 0h1m17 0h1m2 0h1m3 0h1m24 0h1m3 0h1m11 0h1m6 0h1m5 0h1m10 0h1m3 0h1m11 0h2m1 0h1m1 0h1m1 0h1m7 0h1m10 0h2m2 0h1m3 0h1m2 0h2m1 0h1m12 0h2m4 0h1m4 0h1m1 0h3m6 0h1m5 0h1m3 0h1m6 0h1m6 0h1m1 0h1m3 0h2m30 0h1m27 0h1m1 0h1m9 0h1m1 0h2m3 0h1M26 26.5h1m20 0h1m3 0h1m36 0h1m13 0h1m3 0h1m20 0h1m11 0h1m5 0h1m6 0h1m10 0h1m6 0h1m5 0h1m1 0h1m13 0h1m4 0h1m13 0h1m3 0h2m9 0h1m3 0h1m9 0h1m1 0h1m5 0h1m1 0h1m1 0h2m12 0h1m11 0h1m5 0h2m14 0h1m9 0h2m4 0h1m3 0h2m12 0h2m8 0h1m3 0h1m12 0h1m1 0h1m1 0h1m5 0h1m2 0h1m1 0h1m2 0h1m10 0h2m2 0h1M46 27.5h1m17 0h1m12 0h1m17 0h1m23 0h1m3 0h1m1 0h1m19 0h1m4 0h1m2 0h1m1 0h1m3 0h1m4 0h1m11 0h4m4 0h1m6 0h1m8 0h1m5 0h1m4 0h1m1 0h1m11 0h1m2 0h2m6 0h1m2 0h1m1 0h1m15 0h1m2 0h1m2 0h1m8 0h1m3 0h1m12 0h1m3 0h1m2 0h1m5 0h1m15 0h2m6 0h1m7 0h1m14 0h1m5 0h1m3 0h1m7 0h1m3 0h1m4 0h1m2 0h1m12 0h1M74 28.5h1m6 0h1m19 0h1m2 0h1m27 0h1m15 0h1m5 0h1m8 0h1m23 0h1m15 0h2m6 0h1m6 0h1m4 0h1m3 0h1m2 0h1m4 0h1m15 0h1m3 0h1m7 0h1m12 0h1m1 0h1m7 0h1m8 0h1m4 0h1m1 0h1m51 0h1m22 0h1m16 0h1M31 29.5h1m55 0h1m16 0h1m21 0h1m3 0h1m1 0h1m7 0h1m11 0h2m1 0h1m4 0h1m6 0h1m2 0h2m6 0h1m16 0h1m8 0h1m2 0h2m1 0h1m2 0h1m2 0h1m9 0h2m9 0h1m2 0h1m6 0h1m4 0h1m4 0h1m8 0h1m1 0h1m3 0h1m5 0h3m7 0h1m4 0h1m3 0h1m1 0h1m8 0h1m5 0h1m35 0h1m6 0h1m2 0h1m4 0h1m18 0h1M47 30.5h1m16 0h1m6 0h1m30 0h1m20 0h1m17 0h1m14 0h1m2 0h1m9 0h1m3 0h3m7 0h1m8 0h1m4 0h1m3 0h1m2 0h1m1 0h1m4 0h1m1 0h3m9 0h1m9 0h1m4 0h1m6 0h1m4 0h1m8 0h1m12 0h1m4 0h2m3 0h1m7 0h1m6 0h1m9 0h1m1 0h1m1 0h2m14 0h1m20 0h1m9 0h2m1 0h1m6 0h1m14 0h1M47 31.5h1m17 0h1m4 0h1m33 0h1m5 0h1m11 0h1m2 0h1m8 0h1m6 0h1m4 0h1m6 0h1m11 0h1m17 0h1m17 0h1m4 0h1m10 0h1m3 0h2m5 0h1m5 0h1m1 0h1m3 0h1m10 0h2m8 0h1m6 0h2m3 0h1m6 0h1m9 0h3m18 0h2m12 0h1m5 0h1m4 0h1m2 0h1m5 0h2m12 0h2m2 0h2m3 0h1m7 0h1m4 0h1m2 0h1M8 32.5h1m8 0h1m29 0h1m9 0h1m10 0h1m8 0h1m2 0h1m1 0h1m13 0h1m50 0h2m8 0h1m7 0h2m6 0h1m4 0h1m2 0h1m3 0h1m2 0h1m8 0h1m1 0h1m5 0h1m9 0h1m11 0h2m2 0h1m18 0h1m7 0h1m1 0h1m2 0h1m7 0h1m7 0h1m8 0h1m5 0h1m5 0h1m23 0h1m1 0h1m8 0h1m7 0h1m11 0h1m9 0h1m4 0h1m7 0h1m5 0h2m6 0h1M83 33.5h1m22 0h1m13 0h1m7 0h1m7 0h1m4 0h1m2 0h1m4 0h1m3 0h1m12 0h2m2 0h1m3 0h1m5 0h1m6 0h1m10 0h1m2 0h1m34 0h1m1 0h2m14 0h1m5 0h2m9 0h1m4 0h1m17 0h1m1 0h1m3 0h1m4 0h1m2 0h1m15 0h1m2 0h1m2 0h1m4 0h1m5 0h1m9 0h1m23 0h1m2 0h1m1 0h1m2 0h1m1 0h1M38 34.5h1m24 0h1m10 0h1m5 0h1m13 0h1m2 0h1m8 0h1m14 0h1m4 0h1m12 0h1m8 0h1m21 0h1m11 0h1m8 0h1m12 0h1m1 0h1m1 0h1m12 0h1m14 0h1m4 0h1m6 0h1m20 0h2m5 0h1m6 0h1m2 0h1m1 0h1m5 0h1m4 0h2m4 0h1m6 0h1m1 0h1m6 0h1m17 0h1m1 0h1m2 0h2m4 0h2m4 0h1m3 0h1m4 0h1m16 0h1m1 0h2M41 35.5h1m5 0h1m26 0h1m21 0h1m16 0h1m30 0h1m12 0h1m3 0h1m3 0h1m9 0h1m4 0h1m26 0h1m9 0h1m12 0h1m3 0h2m3 0h2m1 0h1m8 0h2m1 0h2m3 0h1m1 0h1m7 0h1m1 0h2m24 0h1m5 0h1m8 0h1m1 0h1m9 0h1m1 0h1m6 0h1m2 0h1m4 0h1m10 0h1m6 0h1m2 0h2m14 0h1m1 0h1m3 0h1M38 36.5h1m35 0h1m6 0h1m30 0h1m13 0h1m5 0h1m6 0h1m6 0h1m2 0h1m19 0h1m12 0h2m3 0h2m9 0h1m2 0h1m13 0h1m2 0h1m6 0h3m4 0h1m7 0h1m6 0h1m1 0h2m10 0h1m10 0h1m3 0h1m11 0h1m12 0h1m21 0h1m23 0h1m8 0h1m9 0h1m2 0h1m1 0h1m2 0h1m16 0h1M102 37.5h1m74 0h1m6 0h1m10 0h1m30 0h1m82 0h1m29 0h1m42 0h1m9 0h1M28 38.5h1m18 0h1m20 0h1m32 0h1m4 0h1m24 0h1m14 0h1m2 0h1m3 0h2m3 0h1m4 0h1m6 0h1m4 0h1m21 0h1m6 0h1m1 0h1m2 0h1m6 0h1m2 0h1m4 0h1m3 0h1m1 0h2m6 0h1m4 0h1m1 0h1m2 0h1m6 0h1m4 0h2m2 0h1m7 0h1m7 0h1m7 0h2m12 0h1m13 0h1m8 0h1m1 0h1m2 0h1m2 0h1m5 0h1m5 0h1m2 0h1m2 0h1m8 0h1m10 0h1m12 0h1m7 0h2M63 39.5h1m23 0h1m19 0h1m22 0h1m7 0h1m11 0h1m1 0h2m1 0h1m14 0h1m2 0h1m25 0h1m23 0h1m1 0h1m5 0h1m4 0h2m1 0h1m7 0h1m4 0h1m2 0h1m2 0h1m2 0h1m8 0h2m26 0h1m15 0h1m21 0h1m7 0h1m27 0h1m1 0h1m4 0h1m1 0h1m1 0h1m11 0h1m3 0h1M11 40.5h1m29 0h1m17 0h1m3 0h1m17 0h1m7 0h1m26 0h1m5 0h1m27 0h1m3 0h1m1 0h1m17 0h2m12 0h1m1 0h1m20 0h1m6 0h1m15 0h2m1 0h1m6 0h3m3 0h1m4 0h1m1 0h2m1 0h2m2 0h1m4 0h1m1 0h1m4 0h3m1 0h1m14 0h1m16 0h1m9 0h1m3 0h1m8 0h1m1 0h1m3 0h1m15 0h1m7 0h1m9 0h1m8 0h1m9 0h1M57 41.5h1m11 0h1m6 0h1m27 0h1m5 0h1m1 0h2m14 0h1m34 0h1m11 0h1m7 0h1m5 0h1m9 0h1m2 0h1m9 0h1m12 0h1m2 0h1m7 0h1m2 0h1m7 0h1m5 0h2m4 0h1m4 0h1m6 0h1m16 0h1m6 0h2m1 0h2m13 0h1m8 0h1m10 0h2m7 0h1m1 0h2m3 0h1m6 0h1m1 0h1m17 0h2m5 0h1m2 0h1M91 42.5h1m38 0h1m15 0h1m7 0h1m9 0h1m3 0h1m5 0h1m5 0h1m1 0h1m8 0h1m3 0h3m3 0h1m2 0h1m4 0h1m10 0h1m13 0h3m3 0h1m6 0h2m17 0h1m2 0h1m8 0h1m4 0h1m2 0h1m14 0h1m4 0h1m2 0h1m4 0h1m6 0h1m4 0h2m1 0h1m1 0h1m1 0h1m2 0h1m15 0h1m9 0h1m4 0h1m15 0h1M28 43.5h1m31 0h1m9 0h1m5 0h1m19 0h1m10 0h1m4 0h1m45 0h1m5 0h1m13 0h1m1 0h1m10 0h2m5 0h1m8 0h1m10 0h1m7 0h1m11 0h1m2 0h1m9 0h1m1 0h1m1 0h1m3 0h1m2 0h1m4 0h1m10 0h2m12 0h2m7 0h1m2 0h1m1 0h1m1 0h1m2 0h1m15 0h1m3 0h1m4 0h1m13 0h1m3 0h1m2 0h1m7 0h1m1 0h1m1 0h1m1 0h1M57 44.5h1m43 0h1m4 0h1m3 0h1m38 0h1m1 0h1m16 0h1m2 0h1m23 0h1m16 0h1m2 0h1m26 0h1m1 0h2m6 0h2m2 0h1m3 0h1m5 0h2m1 0h2m18 0h1m4 0h1m6 0h1m2 0h1m29 0h1m1 0h1m3 0h1m3 0h1m1 0h1m11 0h1m20 0h1m1 0h1M20 45.5h1m25 0h1m26 0h1m33 0h1m4 0h1m13 0h1m15 0h1m3 0h2m5 0h1m9 0h2m5 0h1m6 0h1m1 0h3m11 0h1m5 0h1m1 0h1m4 0h1m1 0h1m1 0h1m1 0h1m17 0h1m4 0h1m1 0h1m3 0h1m19 0h1m32 0h1m3 0h1m1 0h1m3 0h1m7 0h1m3 0h1m1 0h1m3 0h1m7 0h1m25 0h1m20 0h1m8 0h1m2 0h1m2 0h1m1 0h1M22 46.5h1m24 0h1m26 0h1m14 0h1m14 0h1m24 0h1m3 0h1m19 0h1m3 0h2m7 0h1m15 0h1m4 0h1m5 0h2m2 0h1m11 0h1m5 0h1m3 0h1m13 0h1m7 0h1m3 0h1m26 0h1m5 0h2m4 0h1m5 0h2m4 0h1m3 0h1m1 0h1m2 0h1m3 0h1m5 0h3m6 0h1m4 0h1m5 0h1m9 0h1m6 0h1m3 0h1m4 0h1m5 0h1m6 0h1m2 0h1m14 0h1M39 47.5h1m11 0h1m24 0h1m5 0h1m14 0h1m21 0h2m4 0h1m7 0h1m25 0h1m4 0h1m1 0h1m6 0h1m13 0h1m10 0h1m1 0h1m5 0h1m3 0h1m4 0h1m1 0h2m3 0h1m10 0h1m1 0h1m2 0h1m4 0h1m13 0h1m35 0h1m1 0h2m5 0h1m15 0h1m6 0h1m1 0h1m4 0h1m5 0h1m9 0h1m19 0h2m2 0h1m10 0h2M20 48.5h1m69 0h2m27 0h1m4 0h1m5 0h1m26 0h1m3 0h1m1 0h1m27 0h1m7 0h1m1 0h1m2 0h3m4 0h2m18 0h1m1 0h1m1 0h2m7 0h1m1 0h1m3 0h1m3 0h1m2 0h1m13 0h1m5 0h2m7 0h1m2 0h1m11 0h2m3 0h1m2 0h1m8 0h1m38 0h2m5 0h1m10 0h1m3 0h1m12 0h1M37 49.5h2m42 0h1m4 0h1m14 0h1m4 0h1m22 0h1m2 0h1m13 0h1m6 0h1m6 0h2m19 0h1m4 0h1m1 0h5m2 0h1m1 0h1m1 0h1m2 0h2m3 0h1m2 0h1m1 0h2m12 0h1m1 0h1m2 0h2m1 0h2m13 0h1m3 0h2m6 0h1m1 0h1m5 0h1m6 0h1m17 0h1m3 0h1m7 0h2m15 0h1m10 0h1m13 0h2m13 0h1m2 0h1m9 0h1m2 0h1m2 0h1m2 0h1m4 0h1M20 50.5h1m21 0h1m3 0h1m50 0h1m11 0h2m31 0h1m7 0h1m8 0h1m1 0h1m2 0h2m15 0h1m6 0h1m8 0h1m3 0h1m3 0h1m10 0h2m1 0h1m6 0h1m10 0h1m18 0h1m8 0h1m6 0h1m3 0h1m3 0h1m1 0h1m7 0h3m1 0h1m4 0h1m11 0h1m5 0h1m2 0h1m9 0h3m7 0h2m6 0h1m7 0h1m6 0h1m1 0h1m6 0h1m3 0h1m6 0h1m10 0h1M8 51.5h1m24 0h1m16 0h1m11 0h1m11 0h1m25 0h1m5 0h1m21 0h2m10 0h1m3 0h2m2 0h1m4 0h1m1 0h1m5 0h1m12 0h1m2 0h1m23 0h1m11 0h1m1 0h1m4 0h1m1 0h1m30 0h1m3 0h1m2 0h1m1 0h1m9 0h1m17 0h1m4 0h3m10 0h1m4 0h1m2 0h1m5 0h1m17 0h1m2 0h1m15 0h2m4 0h1m5 0h1m1 0h1m2 0h1m19 0h1M47 52.5h1m41 0h1m6 0h1m25 0h1m7 0h1m8 0h1m8 0h1m7 0h4m12 0h1m16 0h1m1 0h1m6 0h1m3 0h1m8 0h1m1 0h2m8 0h1m6 0h1m12 0h1m2 0h1m5 0h1m1 0h3m3 0h1m8 0h1m8 0h1m1 0h1m3 0h1m6 0h1m12 0h1m3 0h1m10 0h1m5 0h1m8 0h1m5 0h1m13 0h1m5 0h1m2 0h1m13 0h1m1 0h1m3 0h1m8 0h1M33 53.5h1m43 0h1m2 0h1m8 0h1m2 0h2m16 0h1m14 0h2m23 0h1m15 0h1m2 0h1m1 0h1m3 0h2m32 0h2m5 0h1m10 0h1m2 0h2m1 0h1m1 0h1m8 0h1m8 0h1m3 0h1m2 0h1m1 0h2m3 0h1m1 0h1m10 0h1m7 0h1m1 0h2m13 0h1m11 0h1m6 0h1m2 0h1m10 0h1m2 0h1m13 0h1m6 0h2m22 0h1M89 54.5h1m3 0h1m7 0h1m8 0h1m4 0h1m1 0h1m29 0h1m5 0h3m8 0h1m2 0h1m2 0h1m3 0h1m1 0h2m21 0h1m3 0h1m2 0h1m2 0h1m3 0h1m2 0h2m3 0h1m1 0h1m3 0h1m7 0h1m2 0h1m3 0h1m1 0h2m1 0h1m2 0h1m8 0h2m10 0h1m18 0h1m15 0h1m3 0h2m2 0h1m11 0h2m4 0h1m13 0h1m2 0h1m2 0h1m4 0h1m5 0h1m4 0h1m6 0h1m4 0h1m1 0h1m5 0h1m10 0h1M68 55.5h1m8 0h1m22 0h1m18 0h1m5 0h2m3 0h2m5 0h1m1 0h1m10 0h1m2 0h1m1 0h1m1 0h1m5 0h1m3 0h1m5 0h1m8 0h1m5 0h1m3 0h1m2 0h1m5 0h2m1 0h1m1 0h1m5 0h1m6 0h1m8 0h1m2 0h1m5 0h1m1 0h1m9 0h1m4 0h1m17 0h1m4 0h2m27 0h1m7 0h1m4 0h1m5 0h1m10 0h1m3 0h2m1 0h2m7 0h1m8 0h1m18 0h1m5 0h1M51 56.5h1m14 0h1m15 0h1m10 0h1m9 0h1m1 0h1m6 0h1m3 0h1m8 0h1m16 0h1m16 0h1m1 0h1m3 0h1m5 0h1m3 0h1m2 0h1m3 0h1m5 0h1m1 0h1m1 0h1m2 0h1m5 0h1m1 0h1m2 0h1m7 0h1m1 0h1m16 0h1m2 0h2m6 0h2m1 0h2m2 0h1m1 0h4m2 0h1m4 0h1m3 0h1m1 0h1m8 0h1m5 0h1m5 0h1m4 0h1m2 0h1m6 0h1m6 0h2m12 0h1m2 0h1m5 0h1m31 0h1m2 0h1m3 0h2m2 0h1m6 0h1m7 0h1M47 57.5h1m48 0h1m22 0h2m15 0h1m4 0h1m5 0h1m9 0h2m1 0h1m7 0h2m3 0h1m14 0h1m4 0h1m4 0h1m2 0h1m3 0h1m3 0h1m1 0h1m10 0h2m3 0h1m2 0h1m4 0h1m1 0h2m9 0h1m2 0h3m25 0h1m3 0h1m6 0h1m7 0h1m11 0h1m3 0h1m12 0h1m1 0h1m1 0h1m4 0h1m6 0h1m7 0h1m13 0h2m1 0h1m10 0h1m11 0h1M62 58.5h1m9 0h1m59 0h1m35 0h1m89 0h1m3 0h1m17 0h1m2 0h1m6 0h1m10 0h1m73 0h1M103 59.5h1m6 0h1m8 0h1m5 0h1m7 0h1m5 0h1m2 0h1m2 0h1m9 0h1m3 0h1m7 0h1m5 0h2m3 0h1m20 0h1m12 0h1m7 0h1m10 0h1m3 0h1m13 0h1m2 0h1m36 0h1m1 0h1m8 0h1m1 0h1m1 0h1m1 0h1m4 0h1m2 0h1m3 0h1m12 0h2m4 0h1m12 0h1m10 0h1m4 0h1m4 0h1m2 0h1m1 0h2m9 0h3M41 60.5h1m22 0h1m10 0h1m51 0h1m18 0h1m4 0h1m3 0h1m1 0h1m8 0h1m1 0h1m7 0h2m10 0h1m6 0h1m11 0h1m3 0h2m4 0h1m22 0h1m4 0h1m10 0h1m11 0h2m2 0h1m18 0h1m9 0h1m2 0h1m7 0h1m13 0h1m7 0h1m5 0h2m1 0h1m1 0h1m10 0h1m10 0h1m1 0h1m1 0h1m5 0h1m3 0h2m1 0h1m1 0h1m2 0h1m6 0h1M75 61.5h1m6 0h1m23 0h1m32 0h1m9 0h1m13 0h1m22 0h1m5 0h1m6 0h1m5 0h1m5 0h1m3 0h2m1 0h2m18 0h1m6 0h1m11 0h1m2 0h1m29 0h1m3 0h1m7 0h1m1 0h1m20 0h2m1 0h1m4 0h1m9 0h1m26 0h1m2 0h1m6 0h1m3 0h1M40 62.5h1m6 0h1m56 0h1m1 0h1m4 0h2m1 0h2m22 0h1m3 0h1m1 0h1m6 0h1m2 0h1m3 0h4m1 0h1m1 0h1m1 0h1m5 0h1m2 0h1m3 0h1m1 0h1m3 0h1m3 0h2m4 0h1m9 0h1m5 0h1m12 0h2m8 0h1m18 0h3m1 0h1m7 0h1m2 0h3m10 0h1m7 0h1m5 0h1m17 0h1m9 0h3m16 0h1m1 0h1m23 0h1m1 0h2m13 0h1m1 0h1M77 63.5h1m14 0h1m9 0h1m1 0h1m12 0h1m2 0h1m6 0h1m12 0h1m5 0h1m3 0h1m3 0h1m3 0h1m1 0h1m14 0h2m1 0h2m1 0h1m1 0h1m3 0h1m10 0h2m4 0h2m2 0h1m1 0h1m9 0h1m10 0h1m3 0h2m4 0h2m1 0h1m6 0h1m10 0h1m4 0h1m5 0h1m2 0h1m22 0h1m19 0h1m9 0h2m7 0h1m4 0h1m1 0h2m13 0h1m8 0h1m7 0h2m1 0h1m6 0h1m4 0h2M89 64.5h2m37 0h1m31 0h1m16 0h1m6 0h1m41 0h1m7 0h1m7 0h1m5 0h1m5 0h1m5 0h1m53 0h1m9 0h1m7 0h1m4 0h1m15 0h1m23 0h1m9 0h2m1 0h1m2 0h1M63 65.5h1m27 0h1m12 0h1m8 0h1m1 0h1m12 0h1m4 0h1m4 0h1m3 0h1m14 0h1m5 0h1m2 0h1m2 0h1m1 0h1m24 0h1m15 0h2m1 0h1m10 0h1m7 0h1m9 0h1m7 0h1m2 0h1m7 0h1m2 0h1m9 0h1m2 0h1m2 0h1m5 0h1m4 0h1m3 0h1m1 0h1m2 0h1m8 0h1m13 0h3m5 0h3m19 0h1m2 0h2m14 0h1m8 0h1M52 66.5h1m12 0h1m35 0h1m17 0h1m24 0h2m9 0h1m26 0h1m2 0h1m19 0h1m20 0h1m20 0h1m2 0h1m15 0h1m21 0h1m4 0h1m14 0h1m12 0h1m6 0h1m13 0h1m8 0h1m17 0h1m13 0h1m3 0h1M71 67.5h1m2 0h1m11 0h1m9 0h1m23 0h1m2 0h1m22 0h1m3 0h1m2 0h1m7 0h1m36 0h1m4 0h1m2 0h1m2 0h1m2 0h1m24 0h1m3 0h1m6 0h1m1 0h2m4 0h1m11 0h1m5 0h1m5 0h1m12 0h1m5 0h1m10 0h1m12 0h2m3 0h2m14 0h1m12 0h1m20 0h1m13 0h1M63 68.5h1m17 0h1m15 0h1m25 0h3m6 0h2m14 0h1m3 0h4m4 0h1m3 0h1m10 0h1m12 0h1m7 0h1m45 0h1m14 0h2m2 0h1m4 0h1m2 0h2m6 0h1m1 0h2m2 0h1m6 0h1m3 0h1m7 0h1m8 0h1m2 0h1m9 0h1m6 0h2m1 0h1m13 0h2m2 0h1m12 0h1m11 0h1m7 0h1m4 0h1M82 69.5h1m27 0h1m8 0h1m2 0h1m3 0h1m3 0h1m17 0h3m2 0h1m1 0h1m2 0h1m8 0h1m14 0h1m4 0h1m5 0h1m5 0h3m9 0h1m3 0h1m2 0h2m2 0h1m1 0h1m5 0h1m12 0h2m2 0h1m1 0h1m7 0h1m1 0h2m2 0h1m6 0h1m12 0h2m14 0h2m2 0h1m3 0h1m1 0h1m4 0h2m13 0h1m3 0h1m7 0h1m14 0h1m1 0h1m17 0h1m7 0h1M63 70.5h1m9 0h1m38 0h1m13 0h1m24 0h1m7 0h1m7 0h2m4 0h1m2 0h2m2 0h1m21 0h1m10 0h1m5 0h2m15 0h1m15 0h1m18 0h1m7 0h1m12 0h1m4 0h1m23 0h1m5 0h1m6 0h1m10 0h1m25 0h1m10 0h1m1 0h1m8 0h1M35 71.5h1m42 0h1m26 0h2m3 0h1m12 0h1m9 0h1m13 0h3m2 0h1m1 0h2m3 0h1m13 0h1m1 0h1m1 0h2m12 0h1m7 0h1m3 0h1m10 0h1m3 0h1m4 0h1m1 0h1m1 0h1m5 0h2m1 0h2m3 0h1m1 0h1m3 0h2m8 0h1m10 0h1m14 0h1m1 0h1m2 0h1m6 0h1m5 0h1m1 0h1m2 0h1m3 0h2m2 0h1m13 0h1m5 0h1m12 0h1m3 0h1m5 0h1m3 0h1m7 0h1m9 0h1m1 0h1m5 0h1M59 72.5h1m2 0h1m17 0h1m4 0h1m20 0h1m12 0h1m7 0h1m2 0h1m9 0h1m6 0h1m3 0h2m6 0h1m10 0h1m10 0h1m2 0h1m2 0h1m1 0h1m10 0h1m7 0h1m12 0h1m3 0h1m14 0h1m6 0h1m7 0h4m1 0h1m4 0h1m14 0h2m8 0h1m15 0h1m10 0h1m3 0h1m2 0h1m7 0h1m5 0h1m2 0h1m6 0h1m7 0h1m9 0h1m5 0h1m2 0h1m8 0h1m7 0h1M31 73.5h1m16 0h1m13 0h2m22 0h1m16 0h1m1 0h2m15 0h2m1 0h2m13 0h1m1 0h1m5 0h1m11 0h1m2 0h1m3 0h2m13 0h1m8 0h1m7 0h1m10 0h1m1 0h1m9 0h1m3 0h2m2 0h1m9 0h1m2 0h1m4 0h1m6 0h2m15 0h1m7 0h1m1 0h1m16 0h1m2 0h1m8 0h2m8 0h1m5 0h1m2 0h1m1 0h2m1 0h1m2 0h1m4 0h1m24 0h1m3 0h1m1 0h1m1 0h1m10 0h1m4 0h1M23 74.5h1m26 0h1m13 0h1m31 0h1m10 0h1m2 0h1m12 0h1m2 0h1m6 0h2m4 0h1m4 0h1m4 0h1m3 0h1m10 0h1m9 0h1m6 0h3m15 0h1m2 0h2m1 0h1m6 0h2m1 0h2m4 0h1m1 0h1m16 0h1m9 0h1m8 0h1m3 0h1m3 0h1m1 0h1m6 0h1m2 0h2m4 0h1m3 0h1m10 0h1m1 0h1m2 0h1m7 0h1m25 0h1m21 0h1m14 0h1m2 0h2m3 0h1m3 0h1m6 0h1M73 75.5h1m7 0h1m5 0h1m14 0h1m3 0h1m3 0h1m2 0h1m5 0h1m5 0h1m27 0h1m1 0h1m1 0h1m6 0h1m5 0h1m2 0h1m2 0h1m3 0h1m1 0h1m14 0h1m6 0h1m1 0h1m5 0h2m13 0h1m13 0h1m2 0h1m4 0h1m4 0h1m16 0h2m7 0h1m8 0h1m4 0h1m5 0h1m2 0h1m3 0h1m5 0h1m4 0h1m6 0h1m2 0h1m9 0h3m2 0h1m2 0h1m2 0h1m11 0h1m3 0h1m6 0h1m2 0h1m8 0h2m2 0h1m4 0h1M81 76.5h1m9 0h1m5 0h1m22 0h2m24 0h2m1 0h1m30 0h1m1 0h1m9 0h2m6 0h1m11 0h1m12 0h1m4 0h1m3 0h2m2 0h1m5 0h1m3 0h2m6 0h1m2 0h1m4 0h1m4 0h1m30 0h1m2 0h1m8 0h2m3 0h1m5 0h1m2 0h2m26 0h1m1 0h3m10 0h1m16 0h1m2 0h1M23 77.5h1m49 0h1m12 0h1m17 0h1m37 0h1m3 0h1m2 0h1m7 0h1m13 0h1m10 0h1m4 0h1m5 0h1m8 0h1m5 0h1m1 0h1m6 0h1m7 0h1m4 0h1m5 0h1m2 0h1m6 0h1m2 0h1m1 0h2m4 0h2m22 0h1m20 0h1m5 0h1m16 0h1m7 0h1m2 0h1m21 0h2m2 0h1m6 0h1M48 78.5h1m16 0h1m16 0h1m37 0h2m6 0h1m5 0h1m12 0h1m2 0h1m2 0h5m8 0h2m1 0h1m5 0h1m3 0h1m5 0h1m11 0h2m1 0h1m1 0h2m5 0h1m4 0h1m10 0h1m2 0h1m11 0h1m1 0h1m14 0h1m8 0h1m3 0h2m6 0h1m1 0h1m4 0h1m9 0h1m1 0h1m1 0h1m1 0h1m10 0h1m5 0h1m7 0h1m5 0h1m3 0h1m2 0h1m4 0h1m1 0h2m2 0h1m11 0h2m3 0h1m13 0h2m2 0h1m3 0h1m1 0h1m2 0h1M47 79.5h1m24 0h1m1 0h1m35 0h1m5 0h1m3 0h1m15 0h1m1 0h1m2 0h1m2 0h2m3 0h1m4 0h1m1 0h2m4 0h1m4 0h1m5 0h2m8 0h1m3 0h2m1 0h1m1 0h1m7 0h1m3 0h1m16 0h1m3 0h1m5 0h1m1 0h1m6 0h1m13 0h2m1 0h1m5 0h1m29 0h1m2 0h1m3 0h1m2 0h1m3 0h1m2 0h1m5 0h2m10 0h1m23 0h1m7 0h1m4 0h1m5 0h1m4 0h1m9 0h1M81 80.5h1m56 0h1m13 0h1m5 0h1m8 0h1m8 0h1m1 0h1m21 0h1m6 0h1m3 0h1m28 0h2m1 0h1m12 0h1m13 0h1m8 0h1m4 0h1m1 0h1m1 0h1m1 0h1m28 0h1m2 0h2m14 0h1m24 0h2m4 0h1m6 0h1m7 0h1m1 0h1M41 81.5h1m33 0h1m40 0h1m10 0h2m12 0h1m2 0h1m4 0h1m4 0h1m3 0h1m9 0h1m2 0h1m1 0h1m4 0h1m7 0h1m14 0h2m1 0h1m6 0h1m2 0h2m1 0h2m8 0h1m9 0h1m12 0h1m13 0h1m23 0h1m3 0h1m6 0h1m3 0h1m6 0h1m13 0h1m2 0h1m4 0h2m7 0h1m8 0h1m8 0h1m5 0h1m8 0h1M76 82.5h1m16 0h1m5 0h1m5 0h1m12 0h1m30 0h2m3 0h1m4 0h1m9 0h1m3 0h1m3 0h3m1 0h1m4 0h1m1 0h1m6 0h2m8 0h1m11 0h1m1 0h1m7 0h1m5 0h1m4 0h4m5 0h1m4 0h2m15 0h1m1 0h1m13 0h1m6 0h1m1 0h2m4 0h2m4 0h1m11 0h1m3 0h2m2 0h1m5 0h1m4 0h1m7 0h1m2 0h1m3 0h1m3 0h1m3 0h1m3 0h1m4 0h1m7 0h3m3 0h2m2 0h1m2 0h1M73 83.5h1m23 0h1m6 0h1m2 0h1m10 0h1m39 0h1m1 0h1m4 0h1m4 0h1m7 0h1m12 0h1m4 0h1m1 0h2m6 0h1m2 0h1m10 0h2m10 0h1m1 0h1m1 0h1m16 0h1m2 0h1m4 0h1m3 0h1m2 0h1m25 0h2m8 0h1m5 0h1m10 0h1m2 0h1m4 0h1m10 0h1m12 0h1m3 0h1m9 0h1m8 0h3m3 0h1m2 0h2m4 0h1M47 84.5h1m90 0h1m10 0h1m23 0h1m2 0h1m4 0h1m5 0h1m4 0h1m97 0h1m17 0h1m13 0h1m11 0h1m10 0h1m5 0h1m4 0h1m14 0h1m16 0h1M47 85.5h1m16 0h1m8 0h1m45 0h1m19 0h1m4 0h1m1 0h1m3 0h1m2 0h1m2 0h1m6 0h1m13 0h1m3 0h1m10 0h1m8 0h1m6 0h1m12 0h1m10 0h2m2 0h1m13 0h1m31 0h1m5 0h2m27 0h1m11 0h1m2 0h1m1 0h2m9 0h1m3 0h1m8 0h2m9 0h1m1 0h2m2 0h1m5 0h1m1 0h1m7 0h1m2 0h2M81 86.5h1m14 0h2m47 0h1m17 0h1m2 0h1m15 0h1m15 0h1m15 0h1m11 0h2m8 0h1m18 0h1m21 0h1m1 0h1m2 0h1m10 0h1m1 0h1m13 0h1m1 0h1m48 0h1m10 0h2m12 0h1m6 0h1" stroke="#f0d6d0"/>
<path d="M12 .5h1m158 0h1m80 0h1m23 0h1m73 0h1m14 0h1m16 0h1M47 1.5h1m190 0h1m21 0h1m3 0h1m6 0h1m55 0h1m22 0h2m16 0h1m17 0h1M142 2.5h1m24 0h1m9 0h1m15 0h1m1 0h1m9 0h1m28 0h1m5 0h1m4 0h1m25 0h1m21 0h1m1 0h1m4 0h1m7 0h1m5 0h1m2 0h1m5 0h1m2 0h1m7 0h1m5 0h1m3 0h1m24 0h1m2 0h1m12 0h1m6 0h2M96 3.5h1m40 0h1m38 0h1m2 0h1m5 0h1m17 0h2m8 0h1m14 0h1m5 0h2m12 0h1m9 0h1m2 0h1m4 0h1m27 0h1m8 0h1m6 0h1m18 0h1m16 0h1m12 0h1m8 0h1m12 0h1m6 0h1M157 4.5h1m50 0h1m12 0h1m2 0h1m5 0h1m11 0h1m9 0h1m9 0h1m3 0h1m2 0h1m1 0h1m5 0h1m17 0h1m2 0h1m7 0h1m14 0h1m5 0h1m15 0h1m11 0h1m14 0h1m1 0h2m23 0h1M33 5.5h1m16 0h1m11 0h1m30 0h1m60 0h1m2 0h1m7 0h1m4 0h1m3 0h1m42 0h1m10 0h1m5 0h1m14 0h1m10 0h1m10 0h1m12 0h1m4 0h2m2 0h1m12 0h1m5 0h2m19 0h1m18 0h1m12 0h1m6 0h1m2 0h2m5 0h2m6 0h1M47 6.5h1m25 0h1m47 0h1m39 0h1m5 0h1m8 0h1m8 0h1m18 0h1m12 0h1m5 0h1m15 0h2m15 0h1m1 0h1m13 0h1m36 0h1m44 0h1m9 0h1m4 0h1m9 0h1m6 0h1M123 7.5h1m45 0h1m6 0h1m6 0h1m7 0h1m5 0h1m3 0h1m19 0h1m17 0h1m10 0h1m4 0h2m11 0h1m11 0h1m12 0h1m5 0h1m16 0h2m9 0h2m3 0h1m8 0h1m27 0h1m28 0h2M104 8.5h1m55 0h1m6 0h1m8 0h1m11 0h1m44 0h1m10 0h1m9 0h1m6 0h1m22 0h2m4 0h1m7 0h1m13 0h1m6 0h1m12 0h1m11 0h1m1 0h1m5 0h1m23 0h1m14 0h1m3 0h1M20 9.5h1m17 0h1m24 0h1m23 0h1m16 0h1m28 0h1m3 0h1m21 0h1m2 0h1m6 0h1m25 0h1m23 0h1m22 0h1m15 0h1m26 0h1m5 0h2m5 0h1m61 0h1m15 0h1m16 0h1m1 0h1M112 10.5h1m39 0h1m8 0h1m2 0h1m8 0h1m3 0h1m27 0h1m16 0h1m16 0h1m5 0h1m2 0h1m21 0h1m14 0h1m12 0h1m19 0h1m4 0h1m6 0h1m2 0h1m4 0h1m6 0h1m5 0h1m6 0h1m1 0h1m17 0h1m8 0h1m10 0h1M29 11.5h1m43 0h1m4 0h1m66 0h1m50 0h1m31 0h1m20 0h2m13 0h1m5 0h1m12 0h2m18 0h1m31 0h1m2 0h1m14 0h1m11 0h1m12 0h1m3 0h2m5 0h1m1 0h1M89 12.5h1m25 0h1m6 0h1m19 0h1m15 0h2m6 0h1m5 0h1m7 0h1m9 0h1m10 0h1m4 0h1m11 0h2m10 0h1m3 0h2m17 0h2m2 0h1m11 0h1m9 0h1m5 0h1m17 0h1m47 0h2m24 0h1m3 0h1m3 0h1M172 13.5h1m13 0h1m6 0h1m26 0h1m24 0h1m1 0h1m1 0h1m1 0h1m8 0h1m8 0h1m20 0h1m1 0h1m2 0h1m4 0h1m46 0h1m1 0h2m21 0h1m11 0h1M94 14.5h1m86 0h2m8 0h1m6 0h1m18 0h1m17 0h1m14 0h1m1 0h1m23 0h1m2 0h1m26 0h1m1 0h1m4 0h1m13 0h1m5 0h1m6 0h1m13 0h1m12 0h1m15 0h1m2 0h1m5 0h1m3 0h1M184 15.5h1m108 0h1m3 0h1m7 0h1m12 0h1m5 0h1m5 0h1m10 0h1m9 0h1m8 0h1M119 16.5h1m4 0h1m5 0h1m36 0h1m9 0h1m20 0h2m30 0h1m13 0h1m12 0h1m31 0h1m2 0h1m1 0h1m12 0h1m10 0h1m10 0h2m1 0h2m7 0h1m12 0h1m6 0h2m6 0h1m5 0h1m2 0h1m2 0h1M59 17.5h1m64 0h1m14 0h1m14 0h1m33 0h1m3 0h1m10 0h1m16 0h1m19 0h1m8 0h1m8 0h4m6 0h1m16 0h1m19 0h1m1 0h1m9 0h1m16 0h1m4 0h1m17 0h1m1 0h1m1 0h1m26 0h1m5 0h1M144 18.5h1m22 0h2m1 0h1m19 0h1m6 0h1m16 0h1m15 0h2m2 0h3m4 0h2m1 0h1m13 0h1m2 0h1m1 0h1m2 0h2m4 0h1m15 0h1m7 0h2m16 0h1m8 0h2m4 0h3m13 0h2m19 0h1m9 0h2m6 0h1m9 0h1M75 19.5h1m21 0h1m30 0h1m24 0h1m1 0h1m50 0h1m2 0h1m1 0h1m5 0h2m4 0h1m20 0h1m26 0h1m10 0h1m6 0h1m2 0h2m38 0h1m6 0h1m21 0h1m20 0h1m6 0h1m1 0h1m3 0h1M141 20.5h1m12 0h1m28 0h1m11 0h1m11 0h1m11 0h1m2 0h1m9 0h1m10 0h1m8 0h1m5 0h1m1 0h1m2 0h1m4 0h1m2 0h1m8 0h1m2 0h1m36 0h1m13 0h1m8 0h1m5 0h1m2 0h1m4 0h2m1 0h1m8 0h1m10 0h1m4 0h1m7 0h2M96 21.5h1m66 0h1m55 0h1m5 0h1m4 0h1m3 0h1m9 0h1m3 0h1m7 0h2m6 0h1m2 0h1m2 0h1m33 0h1m2 0h1m12 0h1m18 0h1m1 0h1m6 0h1m7 0h1m34 0h1m2 0h1m2 0h1M139 22.5h1m86 0h2m3 0h1m13 0h1m1 0h1m23 0h1m18 0h2m37 0h1m18 0h1m5 0h1m8 0h1m11 0h1m7 0h1M57 23.5h1m35 0h1m3 0h1m14 0h1m3 0h1m28 0h1m8 0h1m10 0h1m12 0h1m1 0h1m5 0h1m10 0h1m2 0h1m6 0h1m2 0h1m1 0h1m20 0h1m9 0h1m3 0h1m9 0h1m3 0h1m2 0h2m18 0h1m3 0h1m11 0h1m10 0h1m9 0h2m7 0h1m1 0h1m2 0h1m2 0h3m9 0h1m10 0h1m8 0h1m12 0h1M74 24.5h1m14 0h1m36 0h1m47 0h1m4 0h1m14 0h1m10 0h1m6 0h1m21 0h1m14 0h1m1 0h1m28 0h1m4 0h1m3 0h1m9 0h1m12 0h1m26 0h1m1 0h1m6 0h1m2 0h1m3 0h1m14 0h2m7 0h1m7 0h1m3 0h1M78 25.5h1m52 0h1m23 0h1m1 0h1m28 0h1m4 0h1m22 0h1m8 0h1m9 0h1m2 0h1m24 0h1m2 0h1m18 0h1m10 0h1m3 0h1m12 0h1m6 0h1m5 0h1m2 0h2m13 0h1m3 0h2m7 0h1m12 0h1m1 0h1m11 0h1M113 26.5h1m5 0h1m59 0h1m7 0h1m11 0h1m9 0h1m2 0h1m5 0h1m9 0h1m4 0h1m21 0h1m5 0h2m2 0h1m5 0h1m4 0h1m3 0h1m1 0h2m13 0h1m17 0h1m10 0h1m11 0h1m39 0h1m5 0h1m14 0h1M147 27.5h1m21 0h1m13 0h1m4 0h1m6 0h1m11 0h1m7 0h1m2 0h1m3 0h1m3 0h2m14 0h1m1 0h1m5 0h1m2 0h1m12 0h1m31 0h1m2 0h1m9 0h1m2 0h1m8 0h1m5 0h1m1 0h1m6 0h1m4 0h2m11 0h1m11 0h2m2 0h1m15 0h1m5 0h1M152 28.5h1m5 0h1m10 0h1m13 0h1m8 0h2m12 0h2m1 0h1m3 0h1m2 0h1m9 0h1m9 0h1m16 0h1m14 0h1m19 0h2m2 0h1m1 0h1m2 0h2m13 0h1m8 0h1m5 0h1m12 0h1m7 0h1m6 0h1m1 0h1m16 0h1m4 0h1m2 0h1m4 0h1m2 0h1M97 29.5h1m25 0h1m18 0h1m15 0h1m46 0h1m8 0h1m2 0h1m10 0h1m6 0h1m3 0h1m10 0h1m2 0h2m9 0h1m4 0h2m6 0h1m18 0h1m5 0h1m25 0h1m1 0h1m10 0h1m4 0h1m14 0h1m5 0h2m6 0h1m5 0h1m1 0h1m7 0h1M50 30.5h1m26 0h1m26 0h1m17 0h1m41 0h2m21 0h2m14 0h1m1 0h1m4 0h1m9 0h1m10 0h1m2 0h1m4 0h1m10 0h1m12 0h2m5 0h1m1 0h1m5 0h1m11 0h1m17 0h1m3 0h1m5 0h1m4 0h1m3 0h1m20 0h1m9 0h1m5 0h1m7 0h1m2 0h1m6 0h1m1 0h1M63 31.5h1m32 0h1m47 0h1m15 0h1m31 0h2m2 0h2m9 0h1m7 0h1m7 0h1m1 0h1m5 0h1m18 0h1m3 0h1m4 0h1m6 0h1m30 0h2m10 0h1m18 0h1m13 0h1m5 0h1m6 0h1m1 0h1m3 0h1m17 0h2m5 0h1m7 0h1M141 32.5h1m13 0h1m14 0h1m24 0h1m2 0h1m4 0h1m3 0h1m27 0h1m20 0h2m17 0h1m1 0h1m6 0h1m7 0h1m6 0h1m1 0h1m3 0h2m3 0h1m18 0h1m2 0h1m8 0h1m3 0h1m8 0h1m1 0h1m10 0h2m3 0h1m2 0h1m3 0h1m3 0h1M72 33.5h1m53 0h1m31 0h1m12 0h1m16 0h1m7 0h1m9 0h2m20 0h1m1 0h1m13 0h1m13 0h1m6 0h1m2 0h2m2 0h1m5 0h1m13 0h1m17 0h1m2 0h1m4 0h1m14 0h1m4 0h1m10 0h1m18 0h1m1 0h1m10 0h2m9 0h2m4 0h1M137 34.5h1m12 0h1m14 0h1m5 0h1m3 0h1m11 0h1m12 0h2m8 0h1m2 0h1m4 0h1m18 0h2m13 0h2m5 0h1m3 0h2m15 0h1m3 0h1m10 0h1m1 0h2m3 0h1m6 0h1m7 0h1m1 0h1m3 0h1m4 0h1m2 0h1m3 0h2m17 0h1m21 0h1m4 0h1m4 0h1m9 0h1M119 35.5h1m35 0h1m2 0h1m23 0h1m6 0h1m2 0h2m17 0h1m7 0h1m12 0h1m11 0h1m2 0h1m12 0h1m2 0h2m21 0h1m14 0h1m3 0h1m2 0h1m2 0h1m4 0h1m2 0h2m6 0h2m11 0h1m1 0h1m14 0h1m2 0h2m11 0h1m1 0h3m4 0h1M57 36.5h1m119 0h1m8 0h1m22 0h2m1 0h1m8 0h1m24 0h1m16 0h1m9 0h1m9 0h1m8 0h1m1 0h1m3 0h1m6 0h1m1 0h1m3 0h1m8 0h1m1 0h1m10 0h1m4 0h1m6 0h1m8 0h2m7 0h1m4 0h1m8 0h1m2 0h1m7 0h1M211 37.5h1m13 0h1m16 0h1m1 0h1m25 0h1m45 0h1m9 0h1m11 0h1m36 0h1M70 38.5h1m19 0h1m5 0h1m5 0h1m23 0h1m37 0h1m11 0h1m21 0h1m6 0h1m5 0h1m8 0h1m15 0h2m4 0h1m4 0h1m4 0h1m1 0h1m13 0h1m2 0h1m4 0h1m7 0h1m9 0h1m3 0h1m5 0h2m3 0h2m10 0h1m4 0h1m4 0h1m10 0h1m7 0h1m1 0h1m3 0h1m11 0h2m5 0h1m2 0h1m15 0h1m4 0h1M121 39.5h1m17 0h1m42 0h1m12 0h1m24 0h1m5 0h1m13 0h1m26 0h1m1 0h1m6 0h1m2 0h1m7 0h2m4 0h1m3 0h1m4 0h2m5 0h1m3 0h1m4 0h2m31 0h1m2 0h1m1 0h2m5 0h1m26 0h1M155 40.5h1m17 0h1m9 0h1m11 0h1m2 0h1m6 0h1m3 0h1m11 0h1m11 0h1m5 0h1m32 0h1m32 0h1m13 0h1m8 0h1m1 0h3m5 0h1m1 0h1m4 0h1m5 0h1m2 0h1m11 0h1m23 0h1M50 41.5h1m50 0h1m13 0h1m13 0h1m29 0h1m1 0h1m15 0h1m25 0h1m9 0h1m2 0h1m9 0h1m5 0h1m30 0h1m5 0h1m2 0h1m8 0h1m2 0h1m4 0h1m31 0h1m8 0h1m1 0h1m6 0h2m2 0h1m13 0h1m2 0h1m5 0h1m2 0h1m9 0h2m3 0h1m7 0h2M112 42.5h1m11 0h1m58 0h1m4 0h1m3 0h1m9 0h1m12 0h1m1 0h1m15 0h1m7 0h1m8 0h1m3 0h1m22 0h1m7 0h1m7 0h1m1 0h1m1 0h1m2 0h1m17 0h1m4 0h1m8 0h1m1 0h1m11 0h1m2 0h1m1 0h1m4 0h3m5 0h1m3 0h1m1 0h1m1 0h1m15 0h2m4 0h1M141 43.5h1m12 0h1m10 0h1m39 0h2m16 0h1m11 0h1m8 0h1m1 0h1m3 0h1m7 0h1m5 0h1m29 0h1m1 0h1m2 0h1m3 0h1m9 0h1m8 0h1m2 0h1m13 0h1m1 0h1m13 0h1m3 0h1m16 0h1m5 0h1M187 44.5h1m11 0h1m6 0h1m3 0h1m6 0h1m5 0h2m7 0h1m8 0h1m8 0h1m3 0h2m24 0h1m3 0h1m6 0h1m3 0h1m4 0h1m5 0h1m6 0h1m4 0h1m5 0h1m3 0h1m16 0h1m2 0h1m10 0h1m3 0h2m1 0h1m3 0h3m3 0h1m11 0h1m1 0h1M139 45.5h1m63 0h1m13 0h1m16 0h1m5 0h1m8 0h2m4 0h2m8 0h1m18 0h1m6 0h1m21 0h1m3 0h1m9 0h1m6 0h1m10 0h1m4 0h2m6 0h1m4 0h1m17 0h2m5 0h1M5 46.5h1m57 0h1m61 0h1m54 0h2m9 0h1m14 0h1m21 0h1m13 0h1m1 0h1m3 0h3m9 0h1m3 0h1m28 0h1m3 0h1m1 0h1m31 0h3m4 0h1m1 0h1m19 0h1m4 0h1m2 0h2m5 0h1m2 0h1m2 0h1m5 0h1m6 0h1M112 47.5h1m18 0h1m14 0h1m5 0h1m4 0h1m5 0h1m13 0h1m14 0h1m8 0h1m10 0h1m6 0h1m27 0h1m3 0h1m11 0h2m5 0h1m1 0h1m7 0h1m10 0h1m7 0h1m8 0h1m4 0h1m3 0h1m2 0h1m8 0h1m5 0h1m10 0h1m2 0h1m8 0h1m16 0h1m4 0h1m4 0h1M47 48.5h1m58 0h1m32 0h1m13 0h1m5 0h1m22 0h1m12 0h1m20 0h1m1 0h1m2 0h1m10 0h1m4 0h2m3 0h1m4 0h2m14 0h1m6 0h1m1 0h1m3 0h1m2 0h1m19 0h2m3 0h1m2 0h1m3 0h3m7 0h1m3 0h2m6 0h1m1 0h1m3 0h1m14 0h1m4 0h1m7 0h1m17 0h1m4 0h1M51 49.5h1m102 0h1m16 0h1m1 0h1m8 0h2m9 0h1m4 0h1m7 0h1m2 0h1m1 0h1m7 0h1m13 0h1m2 0h1m19 0h1m2 0h1m2 0h1m7 0h1m7 0h2m4 0h1m17 0h1m8 0h1m9 0h1m2 0h1m5 0h1m2 0h1m1 0h1m7 0h3m11 0h1m12 0h1m20 0h2M106 50.5h1m20 0h1m55 0h1m7 0h2m2 0h1m10 0h1m2 0h1m3 0h1m6 0h1m13 0h2m3 0h2m2 0h2m8 0h1m9 0h1m2 0h2m2 0h1m2 0h1m14 0h1m6 0h1m2 0h1m2 0h1m32 0h1m3 0h1m4 0h1m7 0h1m5 0h1m4 0h1m1 0h1m5 0h2m2 0h2m1 0h1m4 0h1m1 0h2m2 0h1m2 0h1m1 0h1M79 51.5h1m62 0h1m11 0h1m23 0h1m8 0h1m11 0h1m5 0h1m20 0h1m1 0h1m5 0h1m1 0h1m7 0h1m3 0h2m4 0h2m2 0h2m3 0h2m3 0h1m9 0h1m5 0h1m1 0h1m1 0h1m13 0h1m21 0h2m18 0h1m2 0h1m13 0h1m2 0h1m3 0h2m14 0h2m6 0h1M177 52.5h1m3 0h1m4 0h1m8 0h1m30 0h1m5 0h1m24 0h1m6 0h1m1 0h1m10 0h1m1 0h1m18 0h2m6 0h1m10 0h1m10 0h1m3 0h1m8 0h1m2 0h1m1 0h2m9 0h1m26 0h1m1 0h1m2 0h2M128 53.5h1m4 0h1m5 0h1m8 0h1m4 0h1m1 0h1m3 0h1m2 0h1m38 0h1m3 0h1m1 0h1m6 0h1m5 0h1m5 0h1m13 0h1m4 0h2m4 0h1m3 0h2m2 0h1m6 0h1m16 0h1m22 0h2m4 0h3m1 0h1m11 0h1m2 0h1m13 0h1m1 0h1m10 0h1m2 0h1m3 0h2m7 0h1m2 0h1m5 0h1m4 0h1m2 0h2M112 54.5h1m44 0h1m7 0h1m7 0h1m13 0h2m4 0h1m1 0h1m5 0h1m16 0h1m7 0h1m7 0h1m31 0h1m9 0h1m6 0h1m11 0h1m3 0h1m12 0h1m3 0h1m3 0h1m13 0h1m1 0h1m1 0h1m5 0h2m8 0h1m10 0h1m10 0h1m6 0h1m3 0h1m2 0h1M132 55.5h1m18 0h1m9 0h1m2 0h1m32 0h1m10 0h1m16 0h1m1 0h1m7 0h1m2 0h1m5 0h1m7 0h1m4 0h1m4 0h1m1 0h1m4 0h1m1 0h1m12 0h2m2 0h1m21 0h1m2 0h1m10 0h1m2 0h1m4 0h1m12 0h2m22 0h1m2 0h1m3 0h1m1 0h2m4 0h1m6 0h1m4 0h1M96 56.5h1m21 0h1m33 0h1m15 0h2m4 0h1m6 0h1m1 0h1m18 0h1m8 0h1m9 0h1m10 0h1m2 0h1m5 0h1m10 0h1m13 0h1m14 0h1m19 0h1m5 0h1m2 0h1m5 0h1m6 0h1m8 0h1m1 0h1m3 0h1m5 0h2m10 0h2m6 0h2m19 0h1m7 0h1M128 57.5h1m11 0h1m35 0h1m5 0h1m4 0h1m7 0h1m8 0h1m8 0h1m4 0h1m9 0h1m3 0h1m26 0h1m11 0h1m19 0h1m2 0h1m6 0h2m1 0h1m1 0h1m6 0h1m1 0h1m1 0h1m2 0h1m2 0h1m2 0h1m5 0h3m5 0h1m3 0h1m3 0h2m4 0h1m2 0h1m20 0h1m1 0h1m14 0h1M146 58.5h1m17 0h1m26 0h1m31 0h1m20 0h1m6 0h1m20 0h1m48 0h1m1 0h1m46 0h1m3 0h1m22 0h1M74 59.5h1m14 0h1m6 0h1m8 0h1m26 0h1m21 0h1m43 0h1m6 0h1m4 0h1m16 0h1m11 0h1m2 0h1m2 0h1m1 0h1m5 0h1m4 0h1m4 0h1m6 0h1m12 0h1m15 0h1m1 0h1m6 0h1m19 0h1m7 0h1m2 0h1m8 0h1m8 0h1m1 0h1m7 0h1m22 0h1M47 60.5h1m93 0h1m10 0h1m11 0h2m7 0h2m17 0h1m4 0h1m8 0h1m1 0h1m1 0h1m7 0h1m2 0h1m16 0h1m2 0h2m16 0h1m6 0h1m11 0h1m16 0h1m6 0h2m3 0h1m10 0h1m3 0h1m7 0h1m5 0h1m1 0h1m9 0h1m5 0h1m3 0h1m34 0h1M161 61.5h1m14 0h1m56 0h1m7 0h1m11 0h3m11 0h1m4 0h1m2 0h1m9 0h2m25 0h1m11 0h1m34 0h1m8 0h1m21 0h1m1 0h1M199 62.5h1m5 0h1m8 0h1m1 0h1m10 0h1m2 0h1m7 0h1m2 0h1m2 0h1m1 0h1m1 0h1m2 0h1m8 0h1m7 0h1m20 0h1m10 0h1m2 0h1m8 0h1m2 0h1m16 0h2m6 0h1m1 0h1m7 0h1m1 0h1m9 0h2m11 0h1m3 0h1m2 0h2m11 0h1m1 0h1M70 63.5h1m48 0h1m19 0h1m30 0h1m6 0h1m10 0h1m1 0h1m5 0h1m15 0h1m3 0h1m1 0h2m7 0h1m2 0h1m2 0h2m2 0h2m1 0h1m5 0h1m6 0h2m3 0h1m4 0h2m19 0h1m1 0h1m2 0h1m5 0h1m5 0h1m4 0h1m20 0h1m3 0h2m14 0h1m1 0h1m11 0h1m1 0h1m4 0h1m1 0h1m17 0h1m7 0h1M47 64.5h1m43 0h1m61 0h1m13 0h1m57 0h1m25 0h1m4 0h1m26 0h1m2 0h1m8 0h1m30 0h1m23 0h1m4 0h2m15 0h1m19 0h1M96 65.5h1m15 0h1m42 0h1m21 0h2m1 0h1m22 0h1m4 0h1m1 0h1m3 0h1m1 0h1m6 0h1m7 0h1m4 0h1m12 0h1m1 0h1m21 0h1m3 0h1m9 0h1m1 0h2m12 0h1m5 0h1m2 0h1m16 0h2m5 0h1m1 0h1m11 0h1m1 0h1m3 0h1m14 0h1M128 66.5h1m63 0h1m2 0h1m16 0h1m10 0h1m8 0h1m8 0h1m52 0h1m1 0h1m6 0h1m23 0h1m20 0h1m16 0h1m6 0h1M68 67.5h1m46 0h1m21 0h1m14 0h1m38 0h3m3 0h1m9 0h1m3 0h1m10 0h1m20 0h1m18 0h1m6 0h1m2 0h1m5 0h1m15 0h2m12 0h2m3 0h1m4 0h1m17 0h1m9 0h1m3 0h1m4 0h1m2 0h1m3 0h1m3 0h1m16 0h1m10 0h1M59 68.5h1m49 0h2m28 0h1m17 0h1m5 0h1m9 0h1m6 0h1m23 0h1m2 0h1m11 0h1m1 0h1m8 0h1m8 0h1m5 0h1m1 0h2m2 0h1m2 0h2m6 0h3m2 0h1m19 0h1m1 0h1m2 0h1m7 0h1m5 0h1m3 0h1m12 0h1m5 0h1m8 0h1m5 0h1m8 0h3m2 0h1m1 0h2m10 0h1m8 0h1m7 0h1m1 0h1m2 0h1M106 69.5h1m31 0h1m8 0h1m9 0h1m16 0h1m16 0h1m4 0h1m9 0h1m13 0h1m10 0h1m2 0h3m5 0h1m11 0h1m9 0h1m52 0h1m3 0h1m2 0h1m6 0h1m8 0h1m16 0h1m19 0h1m3 0h1m8 0h1m2 0h1M150 70.5h1m15 0h1m59 0h1m16 0h1m7 0h1m5 0h1m3 0h1m5 0h1m8 0h1m1 0h1m11 0h1m18 0h2m11 0h1m7 0h1m6 0h1m5 0h1m39 0h1m6 0h1m4 0h1M129 71.5h1m8 0h1m7 0h1m17 0h1m1 0h1m7 0h1m5 0h1m1 0h1m10 0h1m3 0h1m11 0h1m2 0h1m6 0h2m5 0h1m3 0h1m11 0h1m9 0h1m1 0h1m3 0h1m4 0h2m2 0h1m3 0h1m6 0h1m1 0h1m1 0h1m6 0h1m1 0h3m5 0h2m8 0h1m9 0h1m1 0h1m1 0h1m7 0h1m7 0h1m4 0h1m4 0h1m6 0h1m2 0h1m3 0h1m1 0h1m8 0h2m2 0h1m3 0h1m15 0h1M138 72.5h1m21 0h1m3 0h1m1 0h1m9 0h1m3 0h1m1 0h1m14 0h1m3 0h1m3 0h3m1 0h1m2 0h1m3 0h2m1 0h2m6 0h1m4 0h1m4 0h1m5 0h2m4 0h1m11 0h1m4 0h1m1 0h2m15 0h1m10 0h1m3 0h1m3 0h1m5 0h1m17 0h1m14 0h2m2 0h1m9 0h2m1 0h1m9 0h1m7 0h1m4 0h1M127 73.5h1m27 0h1m8 0h2m3 0h1m5 0h1m4 0h1m11 0h1m11 0h1m2 0h1m5 0h1m2 0h3m4 0h1m4 0h1m4 0h1m2 0h1m4 0h1m25 0h1m6 0h1m10 0h1m4 0h2m8 0h1m2 0h1m2 0h1m9 0h1m2 0h1m8 0h1m2 0h1m8 0h1m10 0h1m6 0h1m11 0h1m8 0h1M150 74.5h2m3 0h1m9 0h1m2 0h1m4 0h1m6 0h1m10 0h1m9 0h1m2 0h1m12 0h1m1 0h1m8 0h1m1 0h3m2 0h1m2 0h1m2 0h1m3 0h1m22 0h1m4 0h1m25 0h1m3 0h1m2 0h1m1 0h1m1 0h1m3 0h1m7 0h1m18 0h2m13 0h1m6 0h1m26 0h1m3 0h1m2 0h1M123 75.5h1m28 0h1m5 0h1m1 0h1m7 0h1m12 0h1m5 0h1m8 0h1m13 0h2m2 0h1m6 0h1m9 0h1m1 0h3m2 0h1m3 0h1m13 0h1m6 0h1m22 0h1m3 0h1m7 0h1m12 0h1m14 0h2m4 0h1m15 0h1m2 0h1m2 0h1m2 0h1m2 0h1m3 0h1m11 0h1m6 0h1M131 76.5h1m10 0h1m5 0h1m5 0h2m3 0h1m6 0h1m6 0h2m2 0h1m13 0h1m4 0h2m4 0h1m7 0h1m7 0h1m14 0h1m3 0h1m1 0h1m15 0h1m7 0h1m4 0h1m7 0h1m2 0h1m4 0h3m3 0h1m1 0h1m37 0h1m6 0h2m2 0h1m10 0h1m8 0h1m3 0h1m15 0h1m6 0h1m10 0h1M92 77.5h1m22 0h1m11 0h1m2 0h1m14 0h1m5 0h2m5 0h1m1 0h1m3 0h1m12 0h1m1 0h1m3 0h1m2 0h1m11 0h2m4 0h1m14 0h1m2 0h1m4 0h1m9 0h2m9 0h1m1 0h1m2 0h2m12 0h1m1 0h1m1 0h2m7 0h1m3 0h1m7 0h1m4 0h1m8 0h1m22 0h1m1 0h2m2 0h1m2 0h2m1 0h1m3 0h1m1 0h1m1 0h1m4 0h1m5 0h1m2 0h1m7 0h2m1 0h1m10 0h1m2 0h1m2 0h2M62 78.5h1m83 0h1m12 0h1m16 0h1m1 0h1m3 0h1m6 0h1m3 0h1m11 0h1m4 0h2m11 0h1m2 0h1m12 0h1m7 0h1m8 0h1m15 0h1m3 0h1m2 0h1m3 0h2m4 0h1m2 0h3m5 0h1m5 0h1m14 0h1m6 0h2m3 0h2m3 0h1m1 0h1m8 0h1m2 0h1m8 0h1m8 0h1m16 0h1m5 0h1m3 0h1M99 79.5h1m31 0h1m10 0h1m8 0h1m1 0h1m6 0h1m3 0h2m3 0h3m4 0h1m3 0h1m4 0h1m13 0h1m5 0h1m4 0h1m1 0h1m4 0h3m6 0h1m10 0h1m5 0h1m1 0h1m7 0h1m31 0h1m1 0h1m13 0h1m9 0h1m1 0h1m5 0h1m11 0h1m1 0h1m13 0h1m14 0h1m7 0h1m4 0h1m3 0h1m1 0h1m6 0h1m4 0h1m5 0h1M125 80.5h1m21 0h1m16 0h1m14 0h1m17 0h1m6 0h1m15 0h1m2 0h1m20 0h1m2 0h1m7 0h1m3 0h1m7 0h1m3 0h1m19 0h1m26 0h1m2 0h1m17 0h1m1 0h1m1 0h1m4 0h1m23 0h1m1 0h1m5 0h1m14 0h2M104 81.5h1m16 0h1m8 0h2m21 0h1m7 0h1m15 0h1m5 0h1m14 0h1m21 0h2m6 0h1m3 0h1m2 0h1m6 0h1m3 0h1m10 0h1m1 0h1m7 0h1m3 0h1m8 0h1m2 0h2m6 0h1m1 0h1m13 0h1m1 0h1m2 0h2m4 0h1m7 0h1m7 0h1m3 0h1m1 0h1m2 0h2m2 0h1m4 0h1m5 0h1m1 0h1m6 0h1m7 0h1m3 0h2m6 0h1m2 0h1m4 0h1m2 0h1M92 82.5h1m53 0h1m16 0h1m1 0h1m9 0h1m7 0h1m9 0h1m3 0h2m3 0h1m1 0h1m3 0h1m1 0h1m40 0h1m11 0h1m16 0h1m2 0h1m21 0h1m3 0h1m6 0h1m18 0h2m5 0h1m3 0h1m7 0h1m3 0h1m13 0h1m7 0h2M141 83.5h1m6 0h1m5 0h1m4 0h1m20 0h1m22 0h1m1 0h1m4 0h1m2 0h1m4 0h2m2 0h1m15 0h2m32 0h2m14 0h1m2 0h1m11 0h1m34 0h1m10 0h1m8 0h1m3 0h2m11 0h1m4 0h1m9 0h1M169 84.5h1m34 0h1m10 0h1m25 0h1m1 0h1m28 0h1m21 0h1m15 0h1m21 0h1m14 0h1m9 0h2m17 0h1M97 85.5h1m6 0h1m16 0h1m3 0h2m21 0h1m10 0h1m8 0h2m35 0h1m17 0h2m18 0h1m5 0h1m5 0h1m6 0h1m21 0h2m5 0h1m5 0h1m2 0h1m6 0h1m2 0h1m2 0h1m4 0h1m4 0h3m7 0h1m4 0h1m9 0h1m2 0h1m5 0h1m5 0h1m18 0h1m5 0h1m1 0h1M108 86.5h1m71 0h1m6 0h1m84 0h1m11 0h1m3 0h1m7 0h1m13 0h1m16 0h1m36 0h1m22 0h1m8 0h1m1 0h1" stroke="#f3c0b3"/>
<path d="M218 1.5h1m5 0h1m64 0h1m4 0h1m9 0h1m12 0h1m7 0h1m13 0h1m1 0h1m2 0h1m48 0h1M153 2.5h1m57 0h1m9 0h1m5 0h1m21 0h1m10 0h1m19 0h1m8 0h2m5 0h1m1 0h1m2 0h1m5 0h1m33 0h1m18 0h1m4 0h1m21 0h1m2 0h1m5 0h1M126 3.5h1m71 0h1m19 0h1m25 0h2m24 0h1m1 0h1m16 0h1m5 0h1m11 0h1m4 0h1m12 0h1m5 0h2m11 0h1m9 0h1m16 0h1m18 0h1M146 4.5h1m24 0h1m27 0h1m1 0h1m12 0h1m21 0h1m3 0h1m17 0h1m17 0h1m15 0h1m8 0h1m2 0h1m4 0h1m24 0h1m12 0h1m16 0h1m1 0h1m14 0h1m9 0h2m2 0h1M185 5.5h1m21 0h1m10 0h1m2 0h1m11 0h1m10 0h1m2 0h1m10 0h1m35 0h1m7 0h1m1 0h1m6 0h1m4 0h1m1 0h1m21 0h1m4 0h1m1 0h1m13 0h1M145 6.5h1m9 0h1m3 0h1m53 0h2m17 0h1m18 0h1m28 0h1m10 0h1m2 0h1m2 0h1m1 0h1m19 0h1m6 0h1m7 0h1m14 0h1m11 0h2m4 0h2m2 0h1m5 0h1M188 7.5h1m4 0h1m43 0h1m7 0h1m5 0h4m5 0h1m2 0h1m5 0h1m43 0h1m11 0h1m4 0h1m8 0h2m16 0h1m12 0h2m4 0h1m7 0h1m2 0h1m4 0h1M116 8.5h1m24 0h1m15 0h1m68 0h1m23 0h1m5 0h1m8 0h1m13 0h1m24 0h1m6 0h1m6 0h1m12 0h1m3 0h1m14 0h1m26 0h2m1 0h1m5 0h2m11 0h1M178 9.5h1m9 0h1m41 0h1m24 0h1m18 0h1m25 0h1m4 0h1m10 0h1m15 0h1m3 0h1m11 0h1m1 0h1m12 0h3m19 0h2m5 0h1m5 0h1M120 10.5h1m87 0h1m19 0h1m7 0h1m18 0h2m2 0h1m47 0h1m24 0h1m6 0h1m4 0h1m5 0h1m10 0h1m3 0h1m16 0h1M189 11.5h1m30 0h1m14 0h1m8 0h1m81 0h1m21 0h1m5 0h2m23 0h1m6 0h1M96 12.5h1m99 0h1m24 0h1m4 0h1m12 0h1m15 0h1m4 0h1m3 0h1m37 0h1m3 0h2m2 0h1m5 0h2m9 0h1m4 0h2m12 0h1m1 0h1m11 0h1m4 0h1m14 0h1m2 0h2m11 0h1M226 13.5h1m3 0h1m30 0h2m8 0h1m5 0h1m32 0h1m15 0h1m1 0h1m17 0h1m4 0h1m2 0h1m3 0h1m2 0h1m1 0h1m1 0h1m5 0h1m7 0h1m10 0h1m5 0h1M159 14.5h1m1 0h1m33 0h1m35 0h1m8 0h1m6 0h1m5 0h1m5 0h1m24 0h1m1 0h1m11 0h1m1 0h1m1 0h1m2 0h1m10 0h1m1 0h1m4 0h1m8 0h1m24 0h1m2 0h1m2 0h1m13 0h1m15 0h1m4 0h1M100 15.5h1m56 0h1m18 0h1m90 0h1m15 0h1m2 0h1m20 0h1m18 0h1m55 0h1m14 0h1M150 16.5h1m41 0h1m10 0h1m11 0h1m10 0h1m9 0h1m1 0h1m15 0h1m11 0h1m3 0h2m5 0h1m13 0h1m12 0h1m6 0h1m25 0h2m5 0h2m1 0h2m1 0h1m5 0h1m7 0h1m12 0h1m4 0h1m1 0h1m5 0h2M159 17.5h1m1 0h1m5 0h1m13 0h1m23 0h1m1 0h1m30 0h1m13 0h2m16 0h1m12 0h1m6 0h1m1 0h1m7 0h1m8 0h1m6 0h1m12 0h1m8 0h1m1 0h1m2 0h1m4 0h1m20 0h1m2 0h1m4 0h1m3 0h1m4 0h1M116 18.5h1m13 0h1m28 0h1m23 0h1m27 0h1m52 0h1m25 0h1m7 0h1m1 0h1m4 0h1m10 0h1m16 0h2m5 0h1m2 0h2m16 0h2m12 0h1m6 0h1m2 0h1m4 0h1M157 19.5h2m16 0h1m11 0h1m3 0h1m21 0h1m7 0h1m9 0h1m4 0h1m23 0h2m6 0h1m21 0h1m5 0h1m15 0h1m4 0h1m13 0h1m1 0h3m10 0h1m3 0h1m3 0h1m2 0h1m5 0h2m20 0h1m6 0h1M180 20.5h1m24 0h1m2 0h1m6 0h1m2 0h1m29 0h1m15 0h1m14 0h1m5 0h1m4 0h1m3 0h1m3 0h1m5 0h1m2 0h1m13 0h1m18 0h2m5 0h1m13 0h1m9 0h1m2 0h1m4 0h1M179 21.5h1m22 0h1m18 0h1m1 0h1m7 0h2m8 0h1m3 0h1m5 0h1m19 0h2m13 0h1m11 0h1m10 0h3m7 0h1m6 0h2m1 0h1m15 0h2m7 0h2m4 0h1m9 0h1m3 0h1m5 0h1m2 0h1m5 0h1m2 0h1M202 22.5h1m81 0h1m21 0h1m1 0h1m9 0h1m2 0h1m17 0h1m5 0h1m6 0h1m11 0h1m4 0h1m12 0h1m10 0h1M199 23.5h1m26 0h1m1 0h1m29 0h1m8 0h1m18 0h1m8 0h1m9 0h1m7 0h1m15 0h1m4 0h1m6 0h1m4 0h1m1 0h1m6 0h1m4 0h1m3 0h1m2 0h1m1 0h1m14 0h1m8 0h2M50 24.5h1m104 0h1m4 0h1m17 0h1m11 0h2m9 0h1m9 0h1m38 0h1m1 0h1m7 0h2m2 0h1m1 0h1m1 0h1m10 0h1m11 0h1m1 0h1m3 0h2m7 0h1m9 0h1m2 0h1m8 0h1m2 0h2m17 0h1m1 0h1m1 0h1m12 0h1m6 0h1m7 0h2m1 0h1M108 25.5h1m52 0h1m5 0h1m34 0h1m9 0h1m13 0h1m19 0h1m4 0h1m4 0h1m2 0h1m16 0h1m9 0h1m5 0h1m14 0h1m5 0h1m3 0h1m3 0h1m4 0h1m2 0h1m9 0h1m3 0h1m6 0h2m8 0h2m5 0h1m9 0h1m1 0h1m6 0h1m3 0h1m5 0h1M177 26.5h1m15 0h1m11 0h3m5 0h1m24 0h1m2 0h1m12 0h1m1 0h1m6 0h2m5 0h1m21 0h1m1 0h1m1 0h1m5 0h2m3 0h1m32 0h1m5 0h1m3 0h3m1 0h1m5 0h1m3 0h1m10 0h1m1 0h1m3 0h1m4 0h1m2 0h1m8 0h1M97 27.5h1m56 0h1m34 0h1m22 0h1m3 0h1m15 0h1m4 0h1m2 0h1m17 0h1m5 0h1m6 0h1m7 0h1m3 0h4m1 0h1m6 0h1m1 0h1m8 0h1m3 0h1m6 0h1m23 0h1m3 0h1m1 0h1m3 0h1m2 0h1m3 0h1m3 0h1m7 0h1m4 0h1m4 0h1M159 28.5h1m8 0h1m7 0h1m8 0h1m5 0h1m3 0h1m3 0h1m2 0h1m5 0h1m24 0h1m5 0h1m2 0h3m13 0h1m1 0h1m38 0h1m6 0h1m3 0h2m23 0h1m3 0h1m10 0h1m9 0h3m2 0h1m4 0h1m4 0h1m7 0h1m1 0h1m10 0h1M165 29.5h1m10 0h1m6 0h1m8 0h1m4 0h2m20 0h1m1 0h1m8 0h1m11 0h2m41 0h1m5 0h2m1 0h2m11 0h1m4 0h1m3 0h3m2 0h1m7 0h1m13 0h1m1 0h1m7 0h2m17 0h1m5 0h2m2 0h1m3 0h1m5 0h1M142 30.5h1m85 0h1m15 0h1m3 0h1m6 0h1m2 0h1m12 0h1m4 0h1m18 0h2m1 0h1m3 0h1m1 0h1m11 0h1m7 0h1m11 0h1m2 0h2m4 0h1m1 0h1m6 0h1m1 0h1m12 0h1m3 0h1m6 0h1M106 31.5h1m48 0h1m14 0h2m15 0h2m10 0h1m10 0h2m8 0h1m16 0h1m1 0h1m3 0h1m16 0h1m3 0h1m6 0h1m14 0h1m2 0h1m14 0h1m9 0h1m2 0h1m3 0h2m3 0h2m1 0h1m4 0h1m6 0h1m7 0h1m1 0h1m6 0h1m3 0h1m10 0h1m4 0h1m4 0h1m3 0h1m1 0h1m6 0h1M110 32.5h1m5 0h1m41 0h1m8 0h1m46 0h1m5 0h1m2 0h1m1 0h2m11 0h1m4 0h1m1 0h1m3 0h1m4 0h1m9 0h1m4 0h1m2 0h1m5 0h1m6 0h1m3 0h3m1 0h1m1 0h2m6 0h1m3 0h1m1 0h1m1 0h1m6 0h1m11 0h1m2 0h1m2 0h1m1 0h1m1 0h1m1 0h1m1 0h1m4 0h4m5 0h3m3 0h1m12 0h1m4 0h1m3 0h2m3 0h1m1 0h1M165 33.5h1m29 0h1m1 0h1m14 0h1m5 0h4m12 0h2m6 0h2m4 0h1m4 0h1m2 0h1m24 0h1m1 0h1m3 0h1m14 0h1m4 0h1m1 0h1m1 0h1m3 0h1m4 0h1m8 0h1m2 0h1m1 0h1m4 0h2m1 0h1m5 0h1m8 0h2m2 0h2m6 0h1m4 0h1m2 0h1m11 0h1m7 0h1M155 34.5h1m12 0h1m23 0h1m27 0h1m1 0h1m2 0h1m8 0h1m5 0h1m30 0h2m17 0h2m4 0h1m7 0h1m2 0h2m2 0h1m1 0h1m1 0h1m2 0h1m1 0h1m3 0h1m5 0h1m11 0h1m3 0h3m3 0h1m5 0h1m3 0h1m4 0h2m8 0h1m1 0h1m8 0h2m4 0h1M100 35.5h1m53 0h1m46 0h1m4 0h1m21 0h1m24 0h1m3 0h2m7 0h1m20 0h2m6 0h2m1 0h1m1 0h1m34 0h1m11 0h1m1 0h2m3 0h2m11 0h2m2 0h1m2 0h1m11 0h2m1 0h3M153 36.5h1m3 0h2m16 0h2m28 0h1m7 0h1m2 0h1m6 0h1m4 0h1m12 0h1m12 0h2m4 0h1m5 0h2m1 0h1m10 0h1m8 0h3m3 0h1m4 0h1m8 0h1m7 0h1m3 0h1m7 0h1m5 0h1m6 0h1m1 0h1m7 0h1m9 0h1m2 0h1m23 0h1m4 0h3M214 37.5h1m63 0h1m7 0h1m8 0h1m3 0h1m1 0h1m1 0h1m10 0h1m13 0h1m2 0h1m1 0h1m8 0h1m1 0h1m5 0h1m12 0h1m8 0h1m15 0h1m2 0h1M169 38.5h1m38 0h1m16 0h1m7 0h2m5 0h1m3 0h1m22 0h1m1 0h2m3 0h1m3 0h1m7 0h1m3 0h2m4 0h1m2 0h1m1 0h1m1 0h1m9 0h1m18 0h1m5 0h1m16 0h1m5 0h1m8 0h1m3 0h1m1 0h1m4 0h2m2 0h1m5 0h1M157 39.5h1m7 0h1m10 0h1m6 0h1m28 0h1m5 0h2m1 0h1m5 0h1m7 0h1m14 0h1m8 0h2m17 0h1m1 0h1m3 0h1m4 0h4m2 0h2m8 0h1m2 0h1m2 0h1m12 0h2m2 0h2m1 0h1m6 0h1m2 0h1m3 0h1m1 0h2m10 0h1m4 0h1m1 0h1m1 0h1m7 0h1m8 0h2m2 0h1M128 40.5h1m4 0h1m42 0h1m10 0h1m1 0h1m17 0h2m1 0h1m3 0h2m4 0h1m15 0h1m11 0h1m2 0h1m2 0h1m8 0h1m2 0h1m1 0h1m14 0h2m4 0h1m9 0h3m1 0h1m7 0h1m2 0h1m1 0h2m5 0h1m5 0h1m3 0h1m2 0h1m2 0h1m4 0h1m1 0h3m1 0h1m7 0h1m2 0h1m2 0h1m4 0h2m14 0h2m1 0h1m3 0h2M153 41.5h1m1 0h1m10 0h1m31 0h1m2 0h1m3 0h2m26 0h1m3 0h1m3 0h1m8 0h1m9 0h2m5 0h2m8 0h1m1 0h1m13 0h1m3 0h1m7 0h1m1 0h2m1 0h1m1 0h1m1 0h1m1 0h1m1 0h1m9 0h1m2 0h1m6 0h1m8 0h2m1 0h3m8 0h1m8 0h1m1 0h1m2 0h1m11 0h4m4 0h1M173 42.5h1m1 0h1m11 0h1m2 0h1m9 0h1m6 0h1m11 0h1m11 0h1m19 0h1m1 0h1m1 0h1m2 0h1m20 0h1m4 0h1m5 0h1m3 0h1m12 0h1m5 0h1m8 0h1m5 0h1m9 0h1m5 0h1m9 0h2m4 0h2m1 0h1m2 0h1m9 0h2m1 0h1m2 0h1m9 0h2m1 0h1M161 43.5h1m14 0h1m35 0h2m2 0h1m2 0h1m8 0h1m13 0h1m4 0h1m4 0h1m4 0h1m2 0h1m2 0h1m4 0h2m13 0h1m2 0h1m3 0h2m8 0h1m27 0h1m9 0h1m3 0h1m4 0h1m1 0h1m1 0h1m4 0h1m3 0h2m2 0h1m3 0h1m3 0h1m1 0h1m3 0h1m1 0h1m2 0h1m3 0h2m1 0h1m1 0h1m1 0h1M154 44.5h1m9 0h1m18 0h1m9 0h1m10 0h1m16 0h1m4 0h1m13 0h1m23 0h1m7 0h1m6 0h1m3 0h1m2 0h1m1 0h1m7 0h2m4 0h2m4 0h1m3 0h1m4 0h1m3 0h2m2 0h1m5 0h1m9 0h1m8 0h1m4 0h1m4 0h2m6 0h1m6 0h1m4 0h1m3 0h1m4 0h1m1 0h1m5 0h1M173 45.5h1m18 0h1m2 0h1m11 0h1m1 0h1m5 0h1m7 0h1m2 0h1m1 0h1m23 0h3m8 0h1m12 0h1m2 0h1m3 0h1m2 0h1m3 0h1m1 0h1m3 0h1m8 0h1m1 0h1m1 0h1m4 0h1m9 0h1m4 0h1m1 0h2m2 0h2m2 0h1m2 0h1m3 0h1m1 0h2m10 0h2m5 0h1m1 0h2m1 0h1m7 0h1m2 0h1m1 0h1m4 0h1m4 0h2M162 46.5h1m8 0h1m23 0h1m4 0h1m16 0h1m4 0h1m7 0h1m1 0h1m3 0h1m16 0h2m6 0h1m6 0h1m1 0h1m5 0h1m6 0h1m1 0h1m8 0h1m3 0h1m2 0h1m1 0h1m2 0h1m5 0h2m4 0h2m3 0h1m6 0h1m5 0h1m2 0h1m4 0h1m2 0h1m1 0h1m1 0h1m2 0h2m2 0h1m11 0h1m1 0h1m3 0h1m7 0h2m2 0h1m1 0h1M181 47.5h1m46 0h1m10 0h1m12 0h1m7 0h3m3 0h1m4 0h1m4 0h1m4 0h1m1 0h2m1 0h1m3 0h1m9 0h1m13 0h1m9 0h1m6 0h1m2 0h1m5 0h1m3 0h1m6 0h1m3 0h3m3 0h1m1 0h2m2 0h1m14 0h1m3 0h1m5 0h1M96 48.5h1m76 0h1m2 0h1m31 0h1m1 0h1m8 0h1m10 0h1m27 0h2m1 0h1m5 0h1m6 0h1m15 0h2m1 0h1m1 0h1m1 0h2m4 0h1m1 0h1m8 0h1m1 0h2m4 0h2m3 0h1m3 0h1m4 0h1m1 0h1m4 0h2m2 0h2m1 0h1m5 0h1m3 0h2m3 0h1m2 0h2m2 0h1m4 0h2m1 0h1m3 0h1m2 0h1m1 0h1m3 0h1M165 49.5h1m39 0h1m14 0h1m9 0h1m11 0h1m1 0h1m1 0h2m7 0h1m9 0h1m2 0h1m3 0h1m2 0h1m12 0h2m1 0h1m1 0h1m1 0h1m5 0h1m3 0h1m2 0h2m2 0h1m4 0h1m7 0h1m1 0h1m1 0h1m1 0h1m4 0h1m1 0h1m1 0h1m1 0h1m4 0h1m8 0h1m1 0h4m5 0h1m4 0h1m1 0h1m6 0h1m1 0h1m2 0h1m2 0h1m3 0h1m1 0h2m2 0h1M139 50.5h1m18 0h1m17 0h1m21 0h1m11 0h1m10 0h1m1 0h1m1 0h1m1 0h1m5 0h1m8 0h1m6 0h2m6 0h1m1 0h3m2 0h1m4 0h1m9 0h1m3 0h1m13 0h1m2 0h1m3 0h1m2 0h1m2 0h1m5 0h1m1 0h1m5 0h1m1 0h3m10 0h1m4 0h1m5 0h1m10 0h1m6 0h2m11 0h1m4 0h1M146 51.5h1m42 0h1m6 0h3m5 0h1m2 0h2m3 0h1m12 0h1m5 0h1m3 0h1m4 0h1m1 0h1m24 0h1m3 0h1m7 0h1m11 0h2m1 0h1m8 0h2m1 0h1m2 0h1m1 0h2m10 0h1m3 0h2m7 0h1m1 0h1m10 0h2m1 0h1m1 0h5m8 0h1m2 0h1m1 0h1m5 0h1m3 0h1m4 0h2m4 0h2M155 52.5h1m4 0h1m3 0h2m19 0h1m1 0h1m4 0h1m11 0h2m13 0h1m1 0h1m2 0h1m3 0h1m8 0h1m1 0h1m2 0h1m1 0h1m16 0h1m5 0h1m18 0h1m7 0h1m5 0h1m2 0h1m8 0h1m2 0h2m1 0h1m4 0h1m5 0h1m1 0h1m4 0h1m1 0h2m5 0h1m4 0h1m1 0h1m5 0h1m2 0h1m2 0h1m2 0h2m5 0h2m4 0h1m4 0h1m5 0h1m1 0h1m2 0h1M179 53.5h1m18 0h1m16 0h1m5 0h1m10 0h1m3 0h1m2 0h1m10 0h1m3 0h1m6 0h1m10 0h1m3 0h1m7 0h2m6 0h2m2 0h1m1 0h2m1 0h1m7 0h2m8 0h1m5 0h1m7 0h1m2 0h1m2 0h2m7 0h2m4 0h1m12 0h1m1 0h1m6 0h1m2 0h1m1 0h1m8 0h1m4 0h1M159 54.5h1m23 0h1m21 0h1m1 0h2m2 0h1m8 0h1m33 0h1m9 0h1m7 0h1m6 0h1m16 0h1m7 0h1m12 0h3m3 0h1m6 0h1m2 0h1m8 0h2m6 0h1m5 0h1m1 0h1m1 0h2m4 0h2m2 0h1m6 0h3m4 0h2m3 0h1m1 0h1m2 0h1M145 55.5h1m12 0h1m10 0h1m1 0h1m2 0h1m8 0h1m3 0h1m17 0h1m10 0h1m4 0h1m10 0h1m1 0h1m1 0h1m4 0h1m1 0h1m1 0h2m3 0h1m5 0h1m1 0h2m1 0h1m1 0h1m28 0h1m5 0h3m10 0h1m4 0h1m9 0h1m2 0h2m4 0h1m2 0h1m8 0h1m3 0h1m5 0h1m5 0h1m1 0h1m8 0h1m2 0h1m3 0h1m1 0h1m4 0h2M173 56.5h1m3 0h1m15 0h1m10 0h1m2 0h1m16 0h3m7 0h1m3 0h1m22 0h1m5 0h1m4 0h1m3 0h1m3 0h1m2 0h1m2 0h1m1 0h2m2 0h2m3 0h2m3 0h1m15 0h1m5 0h3m1 0h1m2 0h1m7 0h1m6 0h1m1 0h1m2 0h1m8 0h1m6 0h1m1 0h2m1 0h1m4 0h1m2 0h2m1 0h1m3 0h1m2 0h2m7 0h1M165 57.5h1m36 0h1m9 0h1m7 0h1m18 0h1m1 0h2m7 0h1m5 0h1m1 0h1m1 0h2m1 0h1m5 0h1m11 0h1m2 0h1m4 0h1m5 0h3m1 0h1m3 0h1m1 0h1m1 0h1m4 0h1m9 0h1m1 0h1m3 0h1m9 0h1m6 0h3m4 0h1m7 0h1m9 0h1m4 0h1m5 0h1m2 0h1m3 0h1m10 0h1M199 58.5h1m8 0h1m7 0h1m9 0h1m27 0h1m2 0h1m2 0h1m3 0h1m33 0h1m12 0h2m17 0h1m2 0h1m7 0h1m1 0h1m1 0h2m5 0h1m12 0h1m6 0h1m4 0h1m2 0h1m1 0h1m4 0h2m5 0h2M148 59.5h1m19 0h2m6 0h1m7 0h1m5 0h1m6 0h1m3 0h1m7 0h1m7 0h2m2 0h1m6 0h1m9 0h1m17 0h1m4 0h1m3 0h1m6 0h1m3 0h2m1 0h1m4 0h3m7 0h1m1 0h1m1 0h1m11 0h1m1 0h2m2 0h2m3 0h4m10 0h1m2 0h1m1 0h2m1 0h2m1 0h1m2 0h1m2 0h3m1 0h1m1 0h1m1 0h1m4 0h1m2 0h3m4 0h1m2 0h1m4 0h1m2 0h1m11 0h1M80 60.5h1m77 0h1m8 0h1m25 0h1m4 0h1m2 0h1m12 0h2m9 0h1m7 0h1m14 0h1m1 0h1m9 0h1m1 0h2m12 0h2m5 0h1m5 0h2m1 0h2m2 0h1m3 0h1m4 0h1m4 0h1m13 0h1m6 0h2m2 0h1m3 0h1m9 0h2m11 0h2m8 0h1m2 0h1m3 0h2m2 0h1m3 0h2m5 0h1M171 61.5h1m26 0h1m18 0h1m2 0h1m6 0h1m8 0h1m12 0h1m30 0h1m2 0h1m5 0h1m13 0h1m6 0h1m3 0h1m1 0h2m11 0h1m2 0h1m2 0h1m4 0h1m9 0h1m4 0h2m3 0h2m1 0h4m7 0h1m1 0h1m2 0h1m2 0h1m5 0h1m4 0h1m1 0h1M136 62.5h1m11 0h1m4 0h1m16 0h1m6 0h1m1 0h1m17 0h1m3 0h1m6 0h2m1 0h1m1 0h1m3 0h1m1 0h2m1 0h1m9 0h1m9 0h1m2 0h1m1 0h1m1 0h2m10 0h1m5 0h1m8 0h1m1 0h1m7 0h1m5 0h1m4 0h2m5 0h2m17 0h1m3 0h1m1 0h3m3 0h1m5 0h1m2 0h1m1 0h2m3 0h1m3 0h1m1 0h1m3 0h1m2 0h1m2 0h1m2 0h1m5 0h1m1 0h1m2 0h1m7 0h1m4 0h1m4 0h1M124 63.5h1m16 0h1m11 0h1m1 0h3m9 0h1m3 0h1m25 0h1m8 0h1m7 0h2m16 0h1m6 0h1m7 0h1m2 0h1m1 0h1m6 0h2m9 0h3m5 0h1m11 0h3m4 0h1m4 0h1m5 0h1m5 0h1m7 0h3m3 0h1m10 0h2m7 0h1m1 0h2m2 0h1m3 0h2m2 0h1m1 0h1m1 0h1m5 0h1m8 0h1m2 0h1m1 0h1M161 64.5h1m25 0h1m23 0h1m11 0h1m4 0h1m7 0h1m18 0h1m3 0h1m3 0h1m2 0h1m1 0h1m28 0h1m7 0h3m8 0h1m6 0h1m1 0h1m13 0h1m3 0h1m4 0h1m3 0h1m16 0h1m1 0h1m6 0h1m3 0h1m8 0h1M158 65.5h2m2 0h1m2 0h1m2 0h1m12 0h1m1 0h1m3 0h1m7 0h1m2 0h2m1 0h1m33 0h1m6 0h1m5 0h1m5 0h1m1 0h1m1 0h1m2 0h1m2 0h1m2 0h1m1 0h2m15 0h1m7 0h1m1 0h1m1 0h1m2 0h1m8 0h1m5 0h1m2 0h1m3 0h2m6 0h2m13 0h1m2 0h1m1 0h1m2 0h1m5 0h1m1 0h1m1 0h2m1 0h1m2 0h1m8 0h2m4 0h3m2 0h1m7 0h1M193 66.5h1m39 0h1m8 0h1m3 0h1m4 0h1m24 0h1m6 0h1m2 0h1m18 0h1m8 0h1m26 0h1m12 0h2m1 0h1m21 0h1m11 0h1M116 67.5h1m54 0h1m1 0h1m9 0h1m6 0h1m4 0h1m27 0h1m1 0h1m4 0h1m5 0h1m2 0h1m4 0h1m9 0h1m3 0h4m22 0h1m13 0h1m2 0h3m10 0h1m6 0h2m2 0h1m6 0h4m15 0h3m7 0h1m7 0h1m1 0h1m5 0h1m2 0h1m6 0h1m2 0h1m2 0h1m3 0h1m1 0h1M166 68.5h2m3 0h1m4 0h1m14 0h2m2 0h1m9 0h2m2 0h2m20 0h1m1 0h1m16 0h1m2 0h1m5 0h2m11 0h1m5 0h1m5 0h1m1 0h1m8 0h3m3 0h1m3 0h1m3 0h1m6 0h1m1 0h2m1 0h2m5 0h1m7 0h1m2 0h3m9 0h1m5 0h1m4 0h3m2 0h2m5 0h3m2 0h1m2 0h2m2 0h2m5 0h1m1 0h1M125 69.5h1m38 0h2m2 0h1m10 0h1m3 0h1m11 0h1m1 0h1m11 0h1m6 0h1m6 0h1m13 0h1m1 0h1m1 0h1m4 0h1m1 0h1m1 0h1m1 0h1m2 0h2m4 0h1m6 0h2m1 0h2m4 0h1m10 0h2m1 0h1m3 0h4m6 0h1m6 0h1m3 0h1m1 0h2m16 0h1m8 0h1m1 0h2m1 0h2m3 0h1m3 0h3m2 0h2m1 0h1m1 0h4m2 0h1m2 0h3m2 0h1m5 0h1m1 0h1M119 70.5h1m12 0h1m50 0h2m3 0h1m2 0h1m11 0h1m1 0h1m27 0h1m3 0h2m11 0h1m18 0h1m18 0h2m4 0h1m1 0h1m10 0h1m3 0h2m20 0h1m6 0h1m7 0h2m1 0h1m6 0h2m3 0h1m4 0h1m3 0h1m2 0h1m1 0h1m1 0h1m7 0h1m4 0h1m3 0h1M132 71.5h1m6 0h2m4 0h1m11 0h1m2 0h1m7 0h1m1 0h1m10 0h1m10 0h1m2 0h1m2 0h1m2 0h1m4 0h1m3 0h1m5 0h1m14 0h1m3 0h1m3 0h1m4 0h1m1 0h1m6 0h1m18 0h1m11 0h1m11 0h1m8 0h1m6 0h2m3 0h1m6 0h1m8 0h1m2 0h1m1 0h1m2 0h1m1 0h1m1 0h2m1 0h1m1 0h1m1 0h1m1 0h2m2 0h1m1 0h1m6 0h2m7 0h2m5 0h1m4 0h2m2 0h1m1 0h2m3 0h1M155 72.5h1m11 0h1m9 0h1m35 0h3m2 0h1m11 0h1m4 0h1m3 0h1m6 0h1m6 0h1m5 0h1m3 0h2m2 0h1m2 0h2m7 0h1m6 0h1m2 0h1m2 0h2m4 0h2m1 0h1m6 0h2m2 0h1m10 0h1m1 0h1m5 0h1m2 0h1m4 0h2m4 0h2m2 0h2m23 0h1m4 0h2m8 0h1m1 0h1m3 0h1m3 0h1M109 73.5h1m2 0h1m40 0h2m24 0h1m7 0h1m12 0h1m4 0h2m1 0h1m5 0h1m4 0h1m1 0h1m9 0h2m2 0h1m24 0h1m2 0h2m1 0h1m1 0h3m6 0h1m1 0h1m4 0h1m1 0h1m5 0h1m12 0h1m1 0h1m5 0h2m7 0h5m7 0h1m1 0h1m4 0h2m4 0h1m1 0h1m7 0h1m9 0h1m1 0h1m7 0h2m3 0h1m1 0h1m1 0h1m4 0h1m3 0h1M148 74.5h1m9 0h1m8 0h1m16 0h2m2 0h1m8 0h1m9 0h1m6 0h1m12 0h1m5 0h1m5 0h1m2 0h1m6 0h1m4 0h1m2 0h2m1 0h2m10 0h1m8 0h1m2 0h1m5 0h2m2 0h1m1 0h3m17 0h1m1 0h1m6 0h1m2 0h2m1 0h3m6 0h1m3 0h3m1 0h1m2 0h2m1 0h1m2 0h1m2 0h1m1 0h1m5 0h1m1 0h1m3 0h1m3 0h1m3 0h1m4 0h1m1 0h1m1 0h2m6 0h1M128 75.5h1m20 0h1m6 0h1m10 0h1m1 0h1m8 0h1m4 0h1m2 0h1m5 0h1m5 0h2m1 0h1m3 0h1m9 0h1m3 0h1m2 0h1m2 0h2m1 0h1m1 0h1m1 0h1m4 0h1m5 0h1m4 0h1m6 0h1m2 0h2m1 0h1m7 0h2m13 0h1m7 0h1m2 0h1m10 0h1m1 0h1m3 0h1m3 0h2m1 0h1m3 0h2m6 0h1m4 0h1m4 0h1m3 0h1m10 0h1m9 0h1m10 0h5m5 0h1m2 0h1m1 0h1m2 0h2M143 76.5h1m7 0h1m11 0h1m3 0h1m13 0h1m1 0h1m2 0h1m2 0h2m4 0h1m3 0h1m7 0h1m5 0h2m4 0h2m2 0h1m2 0h1m5 0h1m3 0h1m10 0h1m2 0h1m3 0h1m5 0h2m10 0h1m14 0h1m3 0h1m3 0h3m1 0h1m1 0h1m3 0h1m10 0h1m12 0h1m1 0h1m1 0h1m6 0h1m2 0h1m2 0h1m1 0h2m1 0h1m7 0h2m2 0h2m7 0h1m4 0h1m2 0h1m11 0h1m3 0h2M112 77.5h1m12 0h1m29 0h1m5 0h1m5 0h1m8 0h1m13 0h3m14 0h1m7 0h1m4 0h1m2 0h2m8 0h1m1 0h1m7 0h3m9 0h2m2 0h1m1 0h1m1 0h1m2 0h1m1 0h1m9 0h1m4 0h1m5 0h2m2 0h1m1 0h2m2 0h1m1 0h1m1 0h1m3 0h1m8 0h2m8 0h2m12 0h1m1 0h2m6 0h1m13 0h2m11 0h1m1 0h1m2 0h1m3 0h1m8 0h1M132 78.5h1m38 0h1m9 0h1m1 0h1m6 0h1m1 0h1m3 0h1m10 0h1m7 0h1m2 0h4m5 0h1m3 0h3m2 0h1m7 0h1m3 0h2m2 0h2m1 0h1m2 0h1m4 0h1m4 0h1m22 0h1m11 0h1m1 0h1m2 0h1m4 0h1m2 0h1m6 0h1m17 0h1m1 0h1m1 0h1m5 0h1m4 0h1m1 0h2m4 0h2m2 0h1m2 0h1m2 0h1m2 0h1m1 0h1m6 0h1m8 0h2m1 0h1M168 79.5h1m6 0h1m1 0h2m2 0h1m13 0h1m5 0h1m1 0h1m4 0h1m4 0h2m5 0h1m6 0h2m1 0h1m4 0h1m2 0h2m2 0h1m1 0h1m3 0h1m2 0h2m6 0h1m5 0h2m1 0h3m1 0h1m4 0h1m1 0h1m3 0h1m8 0h1m6 0h1m2 0h1m1 0h1m3 0h1m3 0h1m1 0h1m6 0h1m2 0h1m1 0h1m2 0h2m1 0h1m3 0h1m1 0h1m1 0h1m2 0h1m2 0h1m1 0h1m1 0h2m3 0h3m3 0h1m1 0h1m5 0h1m4 0h1m2 0h1m5 0h2m2 0h1m2 0h3m2 0h1M123 80.5h1m18 0h1m11 0h1m35 0h1m7 0h1m28 0h1m25 0h1m7 0h1m6 0h1m3 0h1m12 0h1m11 0h1m2 0h1m2 0h1m2 0h1m3 0h1m13 0h1m5 0h1m20 0h1m2 0h1m10 0h1m1 0h1m2 0h1m6 0h3m10 0h1m7 0h2M106 81.5h1m22 0h1m9 0h1m2 0h1m2 0h1m1 0h1m4 0h1m3 0h1m3 0h1m4 0h1m9 0h1m3 0h1m2 0h1m5 0h1m1 0h1m4 0h3m8 0h2m2 0h1m1 0h2m2 0h1m14 0h1m7 0h2m6 0h2m3 0h2m1 0h2m3 0h2m1 0h1m5 0h2m1 0h1m3 0h2m1 0h1m5 0h2m2 0h1m5 0h4m1 0h1m20 0h1m6 0h1m6 0h1m1 0h1m11 0h1m1 0h1m1 0h4m6 0h2m5 0h1m11 0h2m1 0h1m2 0h2m6 0h2M119 82.5h1m41 0h1m25 0h1m4 0h1m6 0h1m11 0h1m1 0h2m1 0h1m15 0h1m17 0h1m4 0h1m2 0h2m8 0h1m1 0h1m6 0h1m1 0h1m1 0h1m7 0h3m4 0h1m7 0h1m2 0h1m2 0h1m2 0h2m5 0h2m2 0h2m4 0h2m1 0h2m3 0h1m1 0h2m7 0h1m1 0h1m9 0h1m1 0h1m3 0h2m7 0h1m5 0h1m6 0h1m2 0h2m1 0h2M150 83.5h1m1 0h1m20 0h1m2 0h2m26 0h1m7 0h1m1 0h1m10 0h2m1 0h1m1 0h1m2 0h1m3 0h1m4 0h2m1 0h2m5 0h1m1 0h2m1 0h2m1 0h1m1 0h1m6 0h1m1 0h1m4 0h1m3 0h1m1 0h2m6 0h1m1 0h2m6 0h1m4 0h3m1 0h1m2 0h1m12 0h1m1 0h2m21 0h1m3 0h3m2 0h1m1 0h1m3 0h1m4 0h3m1 0h1m6 0h1m2 0h1m10 0h1M139 84.5h1m7 0h1m18 0h1m7 0h1m30 0h1m1 0h1m30 0h1m8 0h1m22 0h1m15 0h1m1 0h1m7 0h1m3 0h1m13 0h1m6 0h1m1 0h1m4 0h1m14 0h1m4 0h1m1 0h1m17 0h1m9 0h1m2 0h1m4 0h1m4 0h1m3 0h1M128 85.5h1m11 0h1m11 0h1m5 0h1m6 0h2m7 0h1m1 0h1m2 0h1m4 0h2m1 0h1m7 0h1m2 0h1m5 0h1m1 0h1m2 0h1m3 0h1m2 0h1m5 0h1m2 0h2m1 0h1m2 0h1m2 0h1m2 0h1m1 0h1m1 0h1m2 0h2m2 0h1m2 0h1m5 0h1m1 0h1m3 0h1m4 0h1m1 0h2m4 0h1m2 0h1m10 0h1m3 0h2m5 0h1m2 0h1m3 0h2m1 0h1m9 0h1m8 0h1m5 0h1m4 0h2m11 0h2m4 0h3m4 0h1m2 0h1m3 0h1m3 0h1m7 0h1m6 0h1m2 0h1m1 0h2M128 86.5h1m29 0h1m16 0h1m8 0h1m26 0h1m31 0h1m3 0h1m3 0h2m1 0h1m3 0h1m2 0h2m28 0h1m5 0h1m5 0h1m1 0h1m10 0h1m1 0h1m24 0h1m5 0h1m15 0h1m10 0h1m3 0h3m12 0h1m3 0h1" stroke="#f3a291"/>
<path d="M81 .5h1m122 0h1m91 0h1m73 0h1m3 0h1M139 1.5h1m139 0h1m85 0h1m17 0h1m3 0h1m7 0h1M67 2.5h1m124 0h1m129 0h1m24 0h1m9 0h1m19 0h1m1 0h1m3 0h1m4 0h1m8 0h2M163 3.5h1m23 0h1m22 0h1m16 0h1m25 0h1m38 0h1m28 0h1m18 0h1m9 0h1m4 0h1M328 4.5h1m38 0h1m11 0h1m2 0h1m4 0h1M246 5.5h1m5 0h1m17 0h1m25 0h1m69 0h1m1 0h2m10 0h2m13 0h1M147 6.5h1m102 0h1m42 0h1m17 0h1m1 0h1m4 0h1m6 0h1m6 0h1m5 0h1m51 0h1m2 0h1M206 7.5h1m26 0h1m7 0h1m48 0h2m27 0h1m26 0h1m3 0h1m10 0h2m16 0h2M145 8.5h1m50 0h1m24 0h1m17 0h1m18 0h1m51 0h1m29 0h1m2 0h1m5 0h1m1 0h1m3 0h1m38 0h1M58 9.5h2m119 0h1m67 0h1m11 0h1m11 0h1m18 0h1m35 0h1m2 0h1m4 0h1m5 0h1m16 0h1m20 0h2m11 0h1M206 10.5h1m14 0h1m1 0h1m19 0h1m24 0h2m19 0h3m35 0h1m3 0h1m8 0h1m49 0h1m3 0h1m1 0h1M169 11.5h1m51 0h1m49 0h1m19 0h1m17 0h1m7 0h2m24 0h1m2 0h1m47 0h2M87 12.5h1m88 0h1m94 0h1m33 0h1m48 0h1m7 0h1m11 0h1m12 0h1m2 0h1m4 0h1M192 13.5h1m101 0h1m3 0h1m5 0h2m30 0h1m1 0h1m16 0h1m1 0h1m6 0h1m2 0h2m6 0h1m6 0h1m3 0h1m11 0h1M122 14.5h1m31 0h1m51 0h1m5 0h1m12 0h1m25 0h1m8 0h1m10 0h2m12 0h1m4 0h2m61 0h1m22 0h1m1 0h1m1 0h1m6 0h1M71 15.5h1m253 0h1m45 0h1M105 16.5h1m101 0h1m5 0h1m13 0h1m3 0h1m5 0h1m25 0h1m26 0h1m4 0h2m6 0h1m9 0h1m8 0h1m4 0h1m15 0h1m7 0h1m7 0h1m37 0h1M48 17.5h1m70 0h1m122 0h1m20 0h1m44 0h1m5 0h1m9 0h1m6 0h1m3 0h1m8 0h1m1 0h2m3 0h2m7 0h1m3 0h1m14 0h1m13 0h1M55 18.5h1m139 0h1m63 0h1m24 0h1m1 0h1m45 0h1m14 0h1m1 0h2m17 0h1m10 0h1m8 0h1m10 0h1M245 19.5h1m3 0h2m28 0h1m8 0h1m2 0h1m5 0h1m31 0h2m13 0h1m2 0h1m4 0h1m7 0h1m15 0h1m10 0h1M163 20.5h1m21 0h1m13 0h1m28 0h1m1 0h1m24 0h1m3 0h1m24 0h1m27 0h1m3 0h1m16 0h1m10 0h1m1 0h1m4 0h1m3 0h1m7 0h1m8 0h1m9 0h1m9 0h1m4 0h1M190 21.5h1m12 0h1m38 0h1m18 0h1m1 0h1m31 0h1m20 0h1m1 0h1m5 0h1m6 0h1m10 0h2m3 0h1m2 0h1m8 0h1m2 0h1m14 0h1m3 0h1M207 22.5h1m13 0h1m158 0h1m6 0h1m9 0h1M216 23.5h1m84 0h1m2 0h1m11 0h1m6 0h1m29 0h2m17 0h1m3 0h1m4 0h1m7 0h1M157 24.5h1m19 0h1m31 0h1m10 0h2m47 0h1m24 0h1m5 0h1m8 0h1m11 0h3m10 0h1m5 0h1m27 0h1m8 0h1m2 0h1m11 0h2m4 0h1M80 25.5h1m4 0h1m134 0h1m39 0h1m5 0h1m34 0h1m10 0h1m3 0h1m15 0h1m7 0h1m4 0h1m18 0h1m27 0h2m3 0h2M141 26.5h1m22 0h1m56 0h1m3 0h1m6 0h1m3 0h1m8 0h1m23 0h1m9 0h1m9 0h1m5 0h1m2 0h1m10 0h1m3 0h1m10 0h2m2 0h2m9 0h1m7 0h1m1 0h1m18 0h1m11 0h1m7 0h1m4 0h1m2 0h1M27 27.5h1m169 0h1m16 0h1m33 0h1m3 0h1m1 0h1m4 0h1m1 0h1m6 0h1m1 0h1m9 0h1m24 0h1m15 0h1m2 0h1m3 0h1m23 0h1m4 0h1m19 0h1m5 0h1m3 0h1m1 0h3m1 0h1M231 28.5h1m32 0h1m1 0h1m2 0h1m26 0h1m20 0h2m4 0h1m4 0h1m5 0h1m3 0h1m19 0h1m13 0h1m7 0h2m7 0h1m3 0h1m1 0h1m1 0h1M105 29.5h1m67 0h1m97 0h1m31 0h3m5 0h1m11 0h1m2 0h2m11 0h1m8 0h1m2 0h1m7 0h1m2 0h1m8 0h1m5 0h1m9 0h1m1 0h2m3 0h1M32 30.5h1m85 0h1m52 0h1m49 0h1m45 0h1m18 0h1m2 0h1m4 0h1m5 0h1m2 0h1m1 0h1m15 0h1m6 0h1m9 0h1m2 0h1m1 0h1m2 0h1m12 0h1m2 0h1m11 0h1m4 0h1m3 0h1M182 31.5h1m33 0h1m10 0h1m2 0h1m48 0h1m5 0h1m22 0h1m21 0h1m1 0h1m17 0h1m18 0h1m1 0h1m10 0h1m7 0h2M40 32.5h1m120 0h1m2 0h1m53 0h1m2 0h1m10 0h1m20 0h1m22 0h1m51 0h1m5 0h1m4 0h1m6 0h1m22 0h1m10 0h2M117 33.5h1m29 0h1m65 0h1m50 0h1m19 0h1m1 0h1m2 0h1m22 0h1m4 0h1m1 0h1m8 0h1m2 0h1m4 0h1m27 0h1m6 0h1m14 0h1m1 0h1m5 0h1m1 0h1M224 34.5h1m1 0h1m5 0h2m1 0h1m7 0h1m41 0h1m6 0h1m23 0h1m16 0h2m3 0h1m22 0h1m10 0h1m7 0h1m6 0h1m2 0h1m1 0h2M126 35.5h1m87 0h1m28 0h1m35 0h2m4 0h1m4 0h4m13 0h1m13 0h1m12 0h1m3 0h1m4 0h1m1 0h2m1 0h1m9 0h1m22 0h1m6 0h1m3 0h1m2 0h1m1 0h1M166 36.5h1m69 0h1m15 0h1m50 0h1m8 0h3m1 0h1m7 0h1m2 0h2m3 0h1m7 0h1m2 0h1m2 0h1m2 0h1m8 0h4m11 0h1m10 0h1m2 0h1m9 0h1M45 37.5h1m262 0h1m4 0h1m5 0h1m16 0h1m18 0h1m22 0h1m7 0h1m7 0h1M105 38.5h1m89 0h1m7 0h1m23 0h1m23 0h1m1 0h1m12 0h1m12 0h1m15 0h1m4 0h1m5 0h2m14 0h1m1 0h1m15 0h1m3 0h1m2 0h1m1 0h1m8 0h1m4 0h1m3 0h1m4 0h1m6 0h1M205 39.5h1m2 0h1m21 0h1m52 0h1m15 0h3m5 0h1m4 0h1m4 0h1m28 0h1m8 0h1m2 0h1m6 0h1m4 0h1m6 0h2m1 0h1m1 0h1m4 0h1m3 0h1m1 0h1m2 0h2M201 40.5h1m17 0h1m39 0h1m7 0h1m2 0h1m14 0h1m5 0h2m11 0h1m19 0h1m2 0h1m24 0h1m15 0h1m3 0h1m1 0h1m4 0h1m1 0h2m6 0h1m6 0h1m1 0h2M148 41.5h1m31 0h1m33 0h1m75 0h1m9 0h1m19 0h1m2 0h3m1 0h1m8 0h1m17 0h2m6 0h2m4 0h1m9 0h1m2 0h1m12 0h1m2 0h2M117 42.5h1m108 0h1m17 0h1m19 0h1m2 0h1m21 0h1m1 0h1m6 0h1m4 0h1m6 0h1m14 0h1m4 0h1m11 0h1m4 0h2m24 0h1m7 0h1m4 0h1M137 43.5h1m94 0h1m23 0h1m27 0h1m4 0h1m5 0h1m11 0h1m2 0h1m6 0h1m15 0h1m1 0h1m4 0h1m4 0h2m5 0h1m26 0h1m5 0h2m6 0h1m2 0h1m1 0h1M98 44.5h1m108 0h1m10 0h1m59 0h1m26 0h1m1 0h1m19 0h1m1 0h1m3 0h1m3 0h1m1 0h1m3 0h1m3 0h1m14 0h1m4 0h1m14 0h1m4 0h1m10 0h2M183 45.5h1m52 0h1m11 0h1m2 0h1m16 0h1m8 0h1m10 0h2m7 0h1m1 0h1m6 0h1m1 0h1m31 0h1m24 0h1m33 0h1M154 46.5h1m43 0h1m11 0h1m5 0h1m14 0h1m14 0h1m24 0h1m35 0h1m13 0h1m6 0h1m33 0h1m1 0h1m6 0h1m7 0h1m3 0h1m13 0h1M108 47.5h1m40 0h1m55 0h1m42 0h1m36 0h1m21 0h1m25 0h1m9 0h1m8 0h1m9 0h1m14 0h1m10 0h1m1 0h1m3 0h1M226 48.5h1m26 0h1m6 0h1m24 0h1m24 0h1m13 0h1m20 0h2m2 0h1m1 0h1m10 0h2m6 0h1m3 0h1m1 0h1m5 0h1m11 0h1m1 0h1M39 49.5h1m199 0h1m26 0h1m4 0h1m20 0h1m4 0h1m5 0h2m17 0h1m16 0h1m6 0h1m3 0h1m3 0h1m22 0h1m2 0h1m6 0h1m6 0h1m2 0h1M32 50.5h1m203 0h1m69 0h1m30 0h1m7 0h1m1 0h1m12 0h1m19 0h1m6 0h1m4 0h1m2 0h1m1 0h2M195 51.5h1m18 0h1m17 0h1m50 0h1m5 0h1m3 0h1m80 0h1m5 0h1m14 0h1M101 52.5h1m95 0h1m35 0h1m61 0h1m17 0h1m56 0h1m2 0h1m14 0h1m8 0h1M191 53.5h1m3 0h1m46 0h1m9 0h1m11 0h1m6 0h1m17 0h1m5 0h1m26 0h1m11 0h1m16 0h1m8 0h1m9 0h1m7 0h1m1 0h1M111 54.5h1m124 0h1m24 0h1m7 0h1m14 0h1m4 0h1m4 0h1m2 0h1m2 0h1m2 0h1m17 0h1m6 0h1m19 0h1m32 0h1m13 0h1m2 0h1M214 55.5h1m79 0h1m27 0h1m5 0h1m5 0h1m13 0h1m1 0h1m9 0h1m6 0h1m3 0h1m15 0h1m7 0h1M176 56.5h1m3 0h1m46 0h2m20 0h1m28 0h1m15 0h1m17 0h1m4 0h1m43 0h1m4 0h1m7 0h1m3 0h1m16 0h1M215 57.5h1m39 0h1m20 0h1m16 0h1m6 0h1m15 0h1m46 0h1m13 0h1m4 0h2M197 58.5h1m65 0h1m38 0h1m82 0h1m6 0h1m5 0h1M216 59.5h1m38 0h1m36 0h1m10 0h1m3 0h1m22 0h1m48 0h3m9 0h2m1 0h1m1 0h1M95 60.5h1m139 0h1m49 0h1m41 0h1m24 0h1m2 0h1m34 0h1m8 0h1M293 61.5h1m6 0h1m20 0h1m12 0h1m11 0h1m1 0h1m37 0h1m9 0h1M237 62.5h1m14 0h1m30 0h1m11 0h1m11 0h2m7 0h1m31 0h1m28 0h1m15 0h1M245 63.5h1m9 0h1m29 0h1m14 0h1m8 0h1m2 0h1m8 0h1m33 0h1m1 0h1m7 0h1m17 0h1m10 0h1M269 64.5h1m40 0h1m72 0h1m2 0h1M188 65.5h1m16 0h1m27 0h1m49 0h1m21 0h1m1 0h1m14 0h1m16 0h1m3 0h1m4 0h1m33 0h1m9 0h1M187 66.5h1m136 0h1m57 0h1m3 0h1m8 0h1M88 67.5h1m125 0h1m5 0h1m119 0h1m4 0h1m1 0h1m12 0h1m13 0h1M190 68.5h1m27 0h1m49 0h1m2 0h1m16 0h1m18 0h1m4 0h1m17 0h1m12 0h1m3 0h1m2 0h1m46 0h2M154 69.5h1m18 0h1m59 0h1m4 0h1m67 0h1m56 0h1m10 0h1m11 0h1m7 0h3m2 0h1M253 70.5h1m39 0h1m23 0h1m11 0h1m1 0h1m20 0h1m17 0h1M59 71.5h1m161 0h1m47 0h2m23 0h1m3 0h1m30 0h1m43 0h1m6 0h1m4 0h1M192 72.5h1m35 0h1m43 0h1m43 0h1m10 0h1m1 0h1m24 0h2m6 0h1m14 0h1m10 0h1m9 0h1M66 73.5h1m4 0h1m98 0h1m17 0h1m9 0h1m2 0h1m40 0h1m28 0h1m24 0h1m20 0h1m21 0h1m5 0h1m2 0h1m1 0h1m1 0h1m1 0h2m27 0h1m9 0h1m3 0h1M86 74.5h1m103 0h1m20 0h1m31 0h2m10 0h1m78 0h1m46 0h1m1 0h1m12 0h1m1 0h1M190 75.5h1m69 0h1m7 0h1m4 0h1m60 0h1m12 0h1m2 0h1m7 0h1m9 0h1m5 0h1m16 0h1m6 0h1M187 76.5h1m17 0h1m22 0h1m60 0h1m38 0h1m15 0h2m4 0h1m4 0h1m6 0h1m3 0h1m3 0h1m7 0h2m3 0h1m7 0h1m6 0h1M221 77.5h1m18 0h1m71 0h1m5 0h1m5 0h1m5 0h1m15 0h1m5 0h1m14 0h2m20 0h1m7 0h1M139 78.5h1m55 0h1m65 0h1m2 0h1m21 0h1m11 0h1m31 0h1m23 0h1m2 0h1m20 0h1m20 0h1M186 79.5h1m77 0h1m25 0h1m4 0h1m2 0h1m35 0h1m14 0h1m8 0h1m5 0h1M234 80.5h1m34 0h1m10 0h1m23 0h1m7 0h1m18 0h1m20 0h1m15 0h1M90 81.5h1m134 0h1m32 0h1m47 0h1m9 0h2m11 0h1m6 0h1m11 0h1m29 0h1m12 0h2M64 82.5h1m102 0h1m33 0h1m19 0h1m20 0h1m1 0h1m16 0h1m55 0h1m9 0h1m37 0h1m7 0h1m11 0h1m5 0h1m7 0h1M195 83.5h1m11 0h1m58 0h1m22 0h1m26 0h1m3 0h1m20 0h1m5 0h1m12 0h1m22 0h1m4 0h1M203 84.5h1m2 0h1m25 0h1m74 0h1m16 0h1m52 0h1m18 0h1m2 0h1M190 85.5h1m70 0h1m24 0h1m9 0h1m15 0h1m1 0h1m74 0h1M355 86.5h1m23 0h1m11 0h1" stroke="#ef7d69"/>
<path d="M13 .5h1m78 0h1m41 0h1m93 0h1M74 1.5h1m103 0h1m62 0h1m155 0h1m1 0h1M173 2.5h1m12 0h1m33 0h1m17 0h1m28 0h1m31 0h1m4 0h1m26 0h1M32 3.5h1m17 0h1m247 0h1m34 0h1m14 0h1m2 0h2m30 0h1m3 0h1m4 0h2m1 0h1m1 0h3M109 4.5h1m112 0h1m41 0h1m91 0h1m17 0h2m2 0h1m1 0h1m15 0h1M199 5.5h1m53 0h1m94 0h1m37 0h1m6 0h1M44 6.5h1m99 0h1m8 0h1m142 0h1m31 0h1m17 0h2m30 0h1m19 0h2M242 7.5h1m33 0h1m19 0h1m24 0h1m20 0h1m35 0h1m10 0h1m7 0h1M118 8.5h1m183 0h1m10 0h1m13 0h1m11 0h1m26 0h1m4 0h1m16 0h1M239 9.5h1m24 0h1m29 0h1m92 0h1m11 0h1M170 10.5h1m44 0h1m34 0h1m33 0h1m40 0h1m26 0h1m2 0h1m18 0h1m11 0h1m1 0h1m8 0h1M279 11.5h1m51 0h1m1 0h1m23 0h1m8 0h1m9 0h1m4 0h1m2 0h1m12 0h1m1 0h1M3 12.5h1m9 0h1m168 0h1m10 0h1m3 0h1m35 0h1m27 0h1m29 0h2m16 0h1m11 0h1m4 0h1m1 0h1m2 0h1m18 0h1m7 0h1m10 0h1m23 0h1m3 0h2M213 13.5h1m5 0h1m22 0h1m10 0h1m22 0h1m9 0h1m61 0h1m21 0h1m3 0h1m16 0h1m3 0h1m1 0h1M118 14.5h1m61 0h1m46 0h1m26 0h1m2 0h1m25 0h1m28 0h1m26 0h1m10 0h1m24 0h1m12 0h1m8 0h1m1 0h1M163 15.5h1m55 0h1m86 0h1m3 0h1m29 0h1m15 0h2m35 0h1m1 0h1M136 16.5h1m12 0h1m102 0h1m99 0h1m15 0h1m19 0h1m3 0h1m2 0h2M234 17.5h1m16 0h1m22 0h1m18 0h1m33 0h1m27 0h1m14 0h1m5 0h1m3 0h1m6 0h1m9 0h1M59 18.5h1m127 0h1m32 0h1m6 0h1m17 0h1m31 0h1m50 0h1m62 0h2m3 0h1M122 19.5h1m112 0h1m77 0h1m10 0h1m65 0h1m2 0h1m2 0h1m1 0h2M166 20.5h1m54 0h1m104 0h2m1 0h1m26 0h1m24 0h1m9 0h1M236 21.5h1m47 0h1m18 0h1m17 0h1m6 0h1m29 0h1m17 0h1m16 0h1m2 0h1M248 22.5h1m137 0h1m8 0h1M144 23.5h1m53 0h1m18 0h1m1 0h1m32 0h1m61 0h1m34 0h1m8 0h2m19 0h1m12 0h1m2 0h1m2 0h1M122 24.5h1m90 0h1m48 0h1m67 0h1m16 0h1m1 0h1m8 0h1m37 0h1M9 25.5h1m173 0h1m44 0h1m6 0h1m11 0h1m42 0h2m22 0h1m21 0h1m43 0h1m8 0h1m4 0h2M66 26.5h1m241 0h1m3 0h1m30 0h1m1 0h1m46 0h1m4 0h1M33 27.5h1m156 0h1m43 0h1m16 0h1m3 0h1m17 0h1m33 0h1m8 0h1m33 0h1m12 0h1m14 0h1M280 28.5h1m12 0h1m26 0h1m3 0h1m5 0h1m37 0h2m1 0h1m14 0h1m12 0h1M267 29.5h1m22 0h1m9 0h1m24 0h1m5 0h1m3 0h1m19 0h2m23 0h1m15 0h1m1 0h1M195 30.5h1m31 0h1m8 0h1m44 0h1m3 0h1m40 0h1m24 0h1m14 0h2m10 0h1m2 0h1m7 0h1m4 0h1m2 0h1m1 0h1M2 31.5h1m182 0h1m77 0h1m30 0h1m5 0h1m1 0h1m35 0h1m28 0h1m9 0h1m10 0h1m6 0h1m2 0h2M259 32.5h1m6 0h1m60 0h1m33 0h1m12 0h1m21 0h2m1 0h1M202 33.5h1m173 0h1m18 0h1m3 0h1M86 34.5h1m103 0h1m173 0h1m18 0h1m11 0h1m1 0h1m1 0h1M225 35.5h1m5 0h1m35 0h1m34 0h1m69 0h1m23 0h1M47 36.5h1m205 0h1m42 0h1m2 0h1m31 0h1m2 0h1m13 0h1m1 0h1m16 0h1m11 0h1m12 0h2M245 37.5h1m11 0h1m131 0h1M377 38.5h1m10 0h1m9 0h1M25 39.5h1m121 0h1m167 0h1m34 0h1m10 0h1m11 0h1m20 0h1M112 40.5h1m185 0h1m26 0h1m34 0h1m15 0h1M122 41.5h1m28 0h1m27 0h1m122 0h1m56 0h1m39 0h1M81 42.5h1m181 0h1m32 0h1m38 0h1m4 0h1M8 43.5h1m71 0h1m216 0h1m22 0h1m27 0h1m40 0h1m1 0h1m3 0h1M198 44.5h1m152 0h1m22 0h1m20 0h2M72 45.5h1m132 0h1m21 0h1m11 0h1m55 0h1m32 0h1m28 0h1m29 0h1m3 0h1m5 0h2M49 46.5h1m70 0h1m168 0h1m109 0h1M110 47.5h1m178 0h1m60 0h1m28 0h1m11 0h1m1 0h1m2 0h3M17 48.5h1m174 0h1m103 0h1m91 0h1m6 0h1m2 0h1M13 49.5h1m250 0h1m86 0h1m46 0h1M22 50.5h1m62 0h1m113 0h1m52 0h1m146 0h1M151 51.5h1m109 0h1m55 0h1m33 0h1m45 0h1M138 52.5h1m109 0h1m86 0h1m62 0h1M396 53.5h1m2 0h1M94 54.5h1m32 0h1m223 0h1m45 0h1M230 55.5h1m58 0h1m78 0h1m4 0h1m19 0h1m3 0h3M75 56.5h1m136 0h1m95 0h1m41 0h1m46 0h2M142 57.5h1m228 0h1m17 0h1m3 0h1M211 58.5h1M241 59.5h1m85 0h1m35 0h1m31 0h1m1 0h1m1 0h1M105 60.5h1m6 0h1m117 0h1M193 61.5h1m205 0h1M354 62.5h1M257 63.5h1m58 0h2m77 0h1m1 0h3M336 64.5h1M245 65.5h1m153 0h1M153 66.5h1M221 67.5h1m85 0h1m8 0h1m78 0h1M369 68.5h1M327 69.5h1m70 0h1M388 70.5h1m10 0h1M279 71.5h1m36 0h1m80 0h1M318 72.5h1m75 0h1M234 73.5h1m161 0h1M20 74.5h1m365 0h1M86 75.5h1m44 0h1m85 0h1m2 0h1M293 76.5h1m38 0h1m34 0h1m19 0h1m2 0h1m4 0h1M375 77.5h1m17 0h1m2 0h1m1 0h1M369 78.5h1m10 0h1M71 79.5h1m233 0h1m92 0h1M298 80.5h1m94 0h1M233 81.5h1m71 0h1m39 0h1m27 0h1m12 0h1m12 0h1M312 82.5h1M323 83.5h1M141 85.5h1M322 86.5h1m65 0h1" stroke="#ec574c"/>
<path d="M75 .5h1m41 0h1m23 0h1m56 0h2m8 0h1m124 0h1M318 1.5h1m28 0h1m41 0h1m8 0h1M24 2.5h1m129 0h1m2 0h1m81 0h1m18 0h1m28 0h1m101 0h1m5 0h1m3 0h1M92 3.5h1m72 0h1m139 0h1m37 0h1m21 0h1m30 0h1M167 4.5h1m122 0h1m92 0h1m15 0h1M255 5.5h1m121 0h1m11 0h1m8 0h1M66 6.5h1m101 0h1m64 0h1m7 0h1m42 0h1m13 0h1m53 0h1m17 0h1m16 0h1m4 0h1m2 0h3M267 7.5h1m15 0h1m4 0h1m17 0h1m44 0h1m34 0h1m3 0h2m3 0h1M72 8.5h1m180 0h1m38 0h1m76 0h1m20 0h1m1 0h2m2 0h3M85 9.5h1m259 0h1m21 0h1m6 0h1m21 0h2M100 10.5h1m160 0h1m33 0h1m71 0h1m24 0h1m6 0h1M321 11.5h1m52 0h1M209 12.5h1m60 0h1m24 0h1m1 0h1m70 0h1m3 0h1m15 0h1m10 0h1M101 13.5h1m54 0h1m236 0h2m4 0h1M53 14.5h1m153 0h1m47 0h1m41 0h1m49 0h1m1 0h1m18 0h1m22 0h1M399 15.5h1M97 16.5h1m78 0h1m29 0h1m49 0h1m55 0h1m1 0h1m20 0h2m23 0h1m28 0h1m8 0h2M105 17.5h1m135 0h1m56 0h1m7 0h1m8 0h1m55 0h1m19 0h1m4 0h1m1 0h2M105 18.5h1m102 0h1m14 0h1m88 0h1m59 0h1m10 0h1m2 0h1m8 0h1m2 0h1M82 19.5h1m258 0h1M209 20.5h1m186 0h1m1 0h1M91 21.5h1m39 0h1m106 0h1m29 0h1m37 0h1m33 0h1m11 0h1m4 0h1m40 0h2M293 22.5h1m97 0h1m6 0h1M55 23.5h1m110 0h1m88 0h1m23 0h1m23 0h1m23 0h1m23 0h1m25 0h1m13 0h1m4 0h2m1 0h1M149 24.5h1m91 0h1m104 0h1m39 0h1m8 0h1m1 0h1m1 0h1M159 25.5h1m124 0h1m12 0h1m89 0h1m3 0h1m7 0h1M20 26.5h1m144 0h1m53 0h1m2 0h1m63 0h1m31 0h1m8 0h1m44 0h1m14 0h1m7 0h1M171 27.5h1m120 0h1m102 0h5M217 28.5h1m108 0h1m65 0h1m5 0h1M58 29.5h1m122 0h1m54 0h1m7 0h1m53 0h1m53 0h1m35 0h1m4 0h1m1 0h1m1 0h1m1 0h1M163 30.5h1m188 0h1m35 0h1m1 0h4m1 0h2m1 0h1M107 31.5h1m176 0h1m10 0h1m51 0h1m49 0h1M115 32.5h1m37 0h2m106 0h1m86 0h1m40 0h1m5 0h1m2 0h1M250 33.5h1m19 0h1m43 0h1m69 0h1m5 0h2M378 34.5h1M218 35.5h1m27 0h1m152 0h1M398 36.5h2M346 37.5h1m43 0h1m6 0h2M77 38.5h1m251 0h1m60 0h1m4 0h3M272 39.5h1m67 0h1m47 0h1m3 0h1m5 0h1M212 40.5h1m77 0h1m96 0h1m7 0h1m1 0h1M194 41.5h1m111 0h1m67 0h1m10 0h1m5 0h1M350 42.5h1m40 0h1m4 0h2m1 0h1M377 43.5h1m19 0h1m1 0h1M146 44.5h1m27 0h1m96 0h1m54 0h1m25 0h1m41 0h1M238 45.5h1m154 0h1M168 46.5h1m158 0h1m20 0h1m14 0h1m31 0h2M232 47.5h1m17 0h1m148 0h1M386 48.5h1m10 0h1m1 0h1M68 49.5h1m221 0h1m27 0h1M91 50.5h1m136 0h1M114 51.5h1m274 0h2m8 0h1M173 52.5h1m221 0h1m3 0h1M137 53.5h1m251 0h1m7 0h2M42 54.5h1m349 0h1M390 55.5h1M242 56.5h1m120 0h1m28 0h1m3 0h1M106 57.5h1m290 0h2M202 59.5h1m29 0h1M74 60.5h1m115 0h1m204 0h1m1 0h1M96 61.5h1m301 0h1M387 62.5h1m8 0h1M389 64.5h1M395 65.5h2M130 67.5h1m260 0h1m4 0h1M105 68.5h1m129 0h1m152 0h1M212 69.5h1m184 0h1M397 70.5h1M396 71.5h1M390 72.5h1M329 73.5h1m36 0h1m32 0h1M377 74.5h1m15 0h1M344 75.5h1m52 0h1m1 0h1M393 76.5h1M334 77.5h1m59 0h1m4 0h1M206 78.5h1m165 0h1M389 79.5h1m6 0h2M144 80.5h1m246 0h1m5 0h1M236 81.5h1M208 83.5h1m185 0h1m2 0h1M68 85.5h1" stroke="#e8262c"/>
</g></g>
<g filter="url(#bl2)">
<rect x="1056.5" y="89.75" width="553.4" height="726.35" fill="#b3b7b7"/>
<g transform="translate(1056.5 89.75) scale(14.9568 8.3489)" fill="none" stroke-width="1.03">
<path d="M30 8.5h1M1 72.5h1M7 78.5h1M15 83.5h1" stroke="#214da2"/>
<path d="M7 28.5h2M22 66.5h1M13 74.5h1M1 83.5h1m5 0h1M7 84.5h1M7 85.5h1m7 0h1M6 86.5h1" stroke="#5a54a6"/>
<path d="M31 1.5h1m1 0h1M22 8.5h1M2 11.5h1m1 0h1m8 0h1m4 0h1m12 0h1M0 14.5h1m6 0h1m13 0h1M19 16.5h1M0 26.5h1m6 0h1m13 0h1M2 28.5h1m11 0h1M32 31.5h1M0 32.5h1M0 41.5h3m14 0h2m13 0h1M15 42.5h1M10 44.5h1M10 45.5h1M6 47.5h1m5 0h1m2 0h1m3 0h1m8 0h1M7 48.5h1m6 0h1m3 0h1M4 49.5h1m1 0h1m7 0h2M0 51.5h1m26 0h1M1 52.5h1m2 0h1m1 0h1M4 54.5h1m9 0h1M0 55.5h3M0 58.5h1m2 0h1M14 61.5h1m12 0h1M2 62.5h1m6 0h1m4 0h1M4 63.5h1m3 0h1m1 0h2m2 0h1M28 64.5h1m2 0h1M3 65.5h1m2 0h1M0 67.5h1m3 0h2m11 0h1m10 0h1M7 68.5h1M3 69.5h1m6 0h1m1 0h1m3 0h1m11 0h1M7 70.5h1m2 0h1m3 0h1M7 72.5h1M1 73.5h3m2 0h1m2 0h1M0 74.5h2m4 0h1M9 75.5h1m3 0h1m1 0h1m15 0h1M0 79.5h1m27 0h1m3 0h1M0 80.5h1m5 0h1m2 0h1m18 0h1M0 82.5h1m1 0h1M1 85.5h1m10 0h1m20 0h1M0 86.5h2m5 0h1m1 0h1" stroke="#8276b9"/>
<path d="M3 1.5h2m9 0h1M33 2.5h1M0 6.5h1m17 0h1m12 0h1M0 7.5h1m6 0h1m10 0h1m10 0h1M7 8.5h1m1 0h1m1 0h1m8 0h1m10 0h1M21 10.5h1m9 0h1M1 11.5h1m3 0h1M23 12.5h1m3 0h1M3 13.5h1m2 0h1m1 0h4m2 0h1m1 0h4M26 14.5h1M16 15.5h1m3 0h1m13 0h1M1 16.5h3m1 0h1m2 0h1m2 0h1m2 0h1m2 0h1m6 0h1M0 17.5h1m1 0h2m1 0h1m3 0h1m2 0h1m1 0h1m1 0h1m3 0h1M1 19.5h1m1 0h1m1 0h1m10 0h1M6 20.5h1m2 0h2m4 0h2M14 24.5h1m1 0h1m11 0h1m5 0h1M26 26.5h1M2 27.5h1m6 0h1M3 30.5h1m1 0h1m3 0h1m4 0h1m2 0h1m12 0h3M1 31.5h2m1 0h1m1 0h1m4 0h1m2 0h1m4 0h1m7 0h1M1 32.5h2m18 0h1M0 33.5h1m6 0h1m9 0h1M3 35.5h2m1 0h1m1 0h1m1 0h1m3 0h3m5 0h1m7 0h1M2 38.5h1m1 0h1m9 0h1m1 0h1m11 0h4m1 0h1M1 39.5h2m1 0h2m2 0h1m2 0h1M0 40.5h1m13 0h1m6 0h1M14 41.5h1M0 42.5h1m8 0h2m1 0h1m18 0h1M0 43.5h1m8 0h1m4 0h1m2 0h1m4 0h1M0 44.5h1m2 0h1m1 0h2m8 0h2m11 0h1M0 45.5h1m2 0h1m2 0h1m10 0h1M2 47.5h1m2 0h1m4 0h1m2 0h1m3 0h1M2 49.5h2M0 52.5h1m1 0h1m8 0h1m7 0h1m2 0h1M3 53.5h1m2 0h1m2 0h2m9 0h1m6 0h1M1 54.5h2m3 0h1m3 0h1m5 0h1M4 55.5h1m12 0h1M3 56.5h2m1 0h1m3 0h1m5 0h1m4 0h1m6 0h1m4 0h1M0 57.5h1m2 0h4m3 0h1m5 0h1M1 58.5h2m6 0h1m7 0h1M4 59.5h1m1 0h5m1 0h1m1 0h2m3 0h1m10 0h1m2 0h1M0 60.5h3m12 0h1m9 0h1m6 0h1M1 62.5h1m13 0h1m1 0h1m2 0h1m11 0h1M0 63.5h1m5 0h1m9 0h1M1 64.5h1m3 0h1m12 0h1m17 0h1M10 65.5h1m10 0h2M18 66.5h1m4 0h1M7 67.5h1m28 0h1M23 68.5h1M2 69.5h1m3 0h1m2 0h1M3 70.5h1m2 0h1m14 0h1m4 0h1M0 71.5h1m1 0h4m2 0h1m2 0h2m1 0h1m1 0h1m5 0h1m1 0h1M0 72.5h1m1 0h1m7 0h1m6 0h1M0 73.5h1m6 0h1m3 0h1m8 0h1M2 74.5h3m5 0h1m4 0h1m3 0h1M1 75.5h3m8 0h1m6 0h1M3 76.5h3m4 0h1m3 0h1m1 0h1m4 0h2M1 77.5h4m1 0h1M0 78.5h1m21 0h1M17 79.5h1m2 0h1M1 80.5h3m11 0h1m20 0h1M2 81.5h3m1 0h1m2 0h2m6 0h1M3 82.5h1m2 0h2m1 0h1m11 0h1M2 83.5h1m5 0h1m3 0h1M0 84.5h1m13 0h1M4 85.5h2M3 86.5h1m6 0h1" stroke="#9c91c7"/>
<path d="M1 .5h1m2 0h2m5 0h4m1 0h1m2 0h1m3 0h2m1 0h1m1 0h3m2 0h2M5 1.5h1m1 0h1m12 0h3M3 2.5h8m1 0h5m1 0h1m2 0h2m5 0h1m2 0h1M0 3.5h1m16 0h1m3 0h1m1 0h1M1 4.5h5m2 0h1m3 0h2m2 0h1m2 0h1m2 0h1m1 0h1m3 0h1m1 0h1m2 0h1M17 6.5h1m18 0h1M25 7.5h1m5 0h1m4 0h1M5 8.5h1m6 0h1m20 0h1M1 9.5h1m1 0h3m1 0h1m4 0h2m2 0h1m1 0h1m3 0h1m1 0h1m3 0h1m2 0h3m1 0h1M0 10.5h1M3 11.5h1m7 0h1m7 0h1m1 0h2M0 12.5h1m6 0h1m9 0h1m7 0h1m5 0h1m4 0h1M0 13.5h1m12 0h1M1 15.5h1m8 0h1M0 16.5h1m8 0h1m3 0h1m14 0h1m3 0h1M1 17.5h1m4 0h1m3 0h1M3 18.5h2m1 0h2m2 0h1m3 0h3m4 0h1m5 0h3m1 0h1m1 0h2M0 19.5h1m1 0h1m1 0h1m9 0h2m2 0h1m9 0h1m3 0h1M1 20.5h1m1 0h1m9 0h1m5 0h1m8 0h1m1 0h1M1 21.5h2m1 0h2m2 0h1m2 0h4m1 0h2m1 0h1m5 0h1m4 0h3m1 0h1M0 22.5h1m6 0h1m6 0h1m2 0h1m8 0h1m2 0h1m1 0h1M0 23.5h3m1 0h1m1 0h2m2 0h1m5 0h3m3 0h2m1 0h1m1 0h3m3 0h1M0 24.5h2m4 0h1m8 0h1m1 0h1m2 0h1M0 25.5h1m1 0h1m1 0h2m1 0h1m1 0h1m2 0h1m1 0h1m1 0h2m14 0h1m2 0h1M0 27.5h2m15 0h1m4 0h1m7 0h1m1 0h1M1 28.5h1m4 0h1m4 0h1m8 0h2M3 29.5h2m1 0h1m3 0h1m3 0h3m3 0h1m1 0h1m4 0h4m1 0h1M0 30.5h1m6 0h1m12 0h2m4 0h1M10 31.5h1m4 0h2m3 0h2M3 32.5h1m1 0h1m1 0h1m2 0h1m6 0h2m3 0h2m1 0h2M21 33.5h1M0 34.5h1m2 0h2m3 0h2m2 0h1m2 0h6m3 0h1m1 0h1m1 0h1m2 0h1m1 0h1m1 0h1M0 35.5h1m1 0h1m15 0h1M1 36.5h6m2 0h2m1 0h1m1 0h5m1 0h1m5 0h1m6 0h1m1 0h1M0 37.5h1m1 0h5m2 0h2m1 0h1m1 0h1m1 0h3m4 0h1m3 0h1m2 0h2M1 38.5h1m1 0h1m3 0h1m1 0h1m11 0h2m3 0h1M0 39.5h1m2 0h1m2 0h1m3 0h1m3 0h1m2 0h2m5 0h1m7 0h1M7 40.5h1m9 0h1M10 41.5h1m4 0h1m4 0h1m2 0h1M1 42.5h1m4 0h2M1 43.5h5m12 0h1m5 0h1m7 0h1M14 44.5h1m7 0h1M2 45.5h1m4 0h1m6 0h1m10 0h1M1 46.5h4m1 0h1m2 0h2m1 0h1m1 0h1m1 0h1m1 0h1m2 0h1M0 47.5h2m1 0h1m28 0h1M21 48.5h1M0 49.5h1m7 0h3m9 0h1M0 50.5h1m1 0h2m2 0h1m2 0h2m3 0h1m1 0h2m3 0h2m4 0h1m3 0h1M17 51.5h1m7 0h1M3 52.5h1m4 0h1m1 0h1m1 0h1m5 0h1m7 0h1M0 53.5h1m1 0h1m2 0h1m9 0h1m7 0h1m1 0h1M0 54.5h1m2 0h1m5 0h1m8 0h1m1 0h1M3 55.5h1m3 0h1m1 0h1m4 0h1m3 0h1m3 0h1M0 56.5h3m22 0h1m3 0h1m4 0h1M14 57.5h1m2 0h2m4 0h1m1 0h1M5 58.5h1m1 0h1m4 0h1m2 0h1m7 0h1M16 59.5h1m17 0h2M3 60.5h1m13 0h2m1 0h1m9 0h1M0 61.5h1m6 0h1M0 62.5h1m5 0h1m11 0h1M1 63.5h2m12 0h1m2 0h1M0 64.5h1m1 0h3m2 0h1m7 0h1m7 0h1M1 65.5h2m20 0h1M7 66.5h1m6 0h1M3 67.5h1m11 0h1m5 0h1m1 0h1m1 0h1M0 68.5h1m20 0h1M18 69.5h1m2 0h1M20 70.5h1m10 0h1M1 71.5h1m4 0h2m13 0h1M6 72.5h1m2 0h1m16 0h1M5 73.5h1m2 0h1m6 0h1m7 0h1M9 74.5h1m11 0h1M0 75.5h1m3 0h1m3 0h1m21 0h1M2 76.5h1m3 0h1m2 0h1m2 0h1m4 0h1m5 0h1m1 0h1M0 77.5h1m4 0h1m3 0h2m7 0h1m1 0h1m2 0h1M23 78.5h1M1 79.5h3m1 0h1m3 0h2m1 0h1m2 0h1m7 0h1m1 0h1M10 80.5h1m12 0h1M0 81.5h2m3 0h1m8 0h1m5 0h1m1 0h1m4 0h1M1 82.5h1m2 0h1m21 0h2M0 83.5h1m2 0h1m20 0h1m8 0h1M21 84.5h1M0 85.5h1m5 0h1m1 0h1m2 0h1m4 0h1m11 0h1M2 86.5h1m11 0h1" stroke="#b3a9d3"/>
<path d="M2 .5h1m14 0h1m2 0h3m9 0h1M1 1.5h1m4 0h1m3 0h1m1 0h1m16 0h1M1 2.5h1m24 0h1m7 0h1M7 3.5h1m10 0h1m3 0h1m2 0h2m2 0h1M6 4.5h2m6 0h1m2 0h2m2 0h1m4 0h2m1 0h1m2 0h1m1 0h1M0 5.5h1m2 0h5m1 0h2m1 0h1m1 0h5m1 0h1m2 0h1m1 0h1m1 0h5m4 0h1M7 6.5h1m17 0h1M0 8.5h1m1 0h1m10 0h2m11 0h1M2 9.5h1m11 0h2m1 0h1m7 0h1m8 0h1m1 0h1M7 10.5h1m10 0h1m3 0h1m2 0h2m2 0h1M0 11.5h1m6 0h2m16 0h1m3 0h1M7 13.5h1m21 0h1M25 14.5h1m3 0h1M3 15.5h1m2 0h1M4 16.5h1m15 0h2m4 0h1m3 0h1M7 17.5h1m7 0h1m2 0h1m5 0h1M1 18.5h1m15 0h1m4 0h2m2 0h1M7 19.5h3m2 0h1m4 0h1m2 0h1m1 0h1m2 0h2m2 0h1m3 0h1M0 20.5h1m7 0h1m2 0h1m2 0h1m2 0h1m3 0h1m3 0h1m5 0h1M3 21.5h1m2 0h1m13 0h1m3 0h1m2 0h2M18 22.5h1M14 23.5h1m11 0h1M2 24.5h2m6 0h1m7 0h1m8 0h1M1 25.5h1m16 0h1m4 0h1m1 0h2m6 0h1M29 26.5h1M3 27.5h1m2 0h2m2 0h1m3 0h1m3 0h1m1 0h1m2 0h1m1 0h1M3 28.5h3m3 0h1m3 0h1m4 0h1m3 0h2m3 0h1m5 0h1M2 29.5h1m2 0h1m1 0h2m8 0h1m15 0h2m1 0h1M2 30.5h1m12 0h1m2 0h1m3 0h2m1 0h1M5 31.5h1m11 0h1M4 32.5h1m1 0h1m2 0h1m2 0h3m5 0h1m3 0h1m2 0h1M14 33.5h1m3 0h1m4 0h1m1 0h2M5 34.5h1m26 0h1M5 35.5h1m5 0h2m4 0h1m2 0h1m7 0h2M22 36.5h1m5 0h1M7 37.5h1M36 38.5h1M7 39.5h1m4 0h2m2 0h1m2 0h1m3 0h1m1 0h1M22 40.5h2M3 41.5h1m2 0h1m2 0h1m17 0h1M2 42.5h4m12 0h1m2 0h1m1 0h1m2 0h1m3 0h1M6 43.5h1m3 0h1m2 0h1m6 0h2m1 0h1m1 0h1m1 0h1M1 44.5h2m1 0h1m13 0h1m1 0h1m2 0h1M1 45.5h1m16 0h1m1 0h2m1 0h1m3 0h1m1 0h1M0 46.5h1m4 0h1m19 0h1m5 0h1m2 0h1M9 47.5h1m10 0h1m3 0h2m1 0h1M0 48.5h1M1 49.5h1m3 0h1m5 0h1m1 0h1m3 0h3M15 50.5h1m4 0h1m2 0h1m5 0h2M7 51.5h1m10 0h1m4 0h1m2 0h1M5 52.5h1m1 0h1m5 0h1m10 0h1m2 0h1m1 0h1M1 53.5h1m2 0h1m2 0h1m4 0h2m4 0h1M5 54.5h1m1 0h1m9 0h1m9 0h1m4 0h1M20 55.5h1m2 0h1m1 0h1M7 56.5h1M1 57.5h2m4 0h1m1 0h1m2 0h1m8 0h1m5 0h1M4 58.5h1m1 0h1m7 0h1m3 0h1m3 0h1m2 0h2M1 59.5h2m19 0h1m5 0h1M21 60.5h1m1 0h1M17 61.5h1m3 0h1m1 0h1m5 0h1M3 62.5h1m6 0h1m12 0h1m1 0h1M5 63.5h1m14 0h1m1 0h1m6 0h2M9 64.5h1m7 0h1m4 0h1m2 0h1M0 65.5h1m4 0h1m1 0h1m6 0h3m3 0h1m5 0h2m3 0h1M0 66.5h1m20 0h1M1 67.5h1m20 0h1m3 0h1M29 68.5h1m1 0h1M0 69.5h2m18 0h1m14 0h1M1 70.5h1m33 0h1M26 71.5h1M3 72.5h1m11 0h1M12 73.5h1m6 0h1m4 0h1m3 0h1M7 74.5h2m2 0h2m13 0h1M5 75.5h2m4 0h1m6 0h1m1 0h1m3 0h1M0 76.5h2m18 0h1m6 0h1M12 77.5h1m1 0h4m3 0h2m4 0h1M21 78.5h1M6 79.5h2m10 0h1m8 0h1m8 0h1M4 80.5h1m2 0h1m12 0h1M7 81.5h1m8 0h1m6 0h1m1 0h1M10 82.5h1m7 0h1m3 0h1m2 0h1m5 0h1M6 83.5h1m6 0h1m9 0h1M23 84.5h1M13 85.5h1m7 0h1m2 0h1M4 86.5h1m7 0h1m10 0h1" stroke="#d1cce0"/>
<path d="M7 .5h1m17 0h1M2 1.5h1m12 0h1m7 0h1m2 0h1M35 2.5h1M11 4.5h1M1 5.5h1m24 0h1M21 6.5h1m7 0h1M3 8.5h2m3 0h1m8 0h1m5 0h1m10 0h1M9 9.5h1M12 11.5h1m1 0h1m8 0h1M22 12.5h1M1 13.5h1m13 0h1m10 0h1M2 15.5h1m12 0h1M6 16.5h2m10 0h1M4 17.5h1m17 0h1m3 0h2M9 18.5h1m25 0h1M13 19.5h1m10 0h1m10 0h1M2 20.5h1M9 21.5h1m11 0h2M23 22.5h1M21 23.5h1M7 24.5h1m22 0h1M3 25.5h1m11 0h1m4 0h1m9 0h1M25 26.5h1M21 27.5h1m5 0h1m1 0h1M15 28.5h2m2 0h1M0 29.5h1m17 0h1m4 0h1m7 0h1M4 30.5h1m24 0h1M0 31.5h1m12 0h1m14 0h3M15 32.5h1m13 0h1M2 34.5h1m10 0h2m6 0h1M1 35.5h1m7 0h1m3 0h1m11 0h1M0 36.5h1m22 0h1m6 0h1M1 37.5h1m13 0h1m9 0h1M15 38.5h1M9 39.5h1m10 0h1m6 0h1M18 40.5h1m6 0h2m2 0h1M4 41.5h2m1 0h1M22 42.5h1m4 0h1m7 0h1M7 43.5h1m4 0h1M9 44.5h1m1 0h2m16 0h2m3 0h1M9 45.5h1m5 0h2m5 0h1M7 46.5h1m9 0h1m4 0h1m4 0h1m7 0h1M7 47.5h1m14 0h1m10 0h2M27 48.5h1m1 0h1M16 49.5h1m6 0h1m1 0h1m5 0h1M1 50.5h1m5 0h1m17 0h2M9 52.5h1m4 0h1m13 0h1M14 53.5h1m1 0h2m3 0h1m2 0h1M21 54.5h1M16 55.5h1m9 0h1M15 56.5h1m2 0h1m4 0h1M10 58.5h1m5 0h1m3 0h2M3 59.5h1m7 0h1m17 0h1m1 0h1M7 60.5h1m1 0h1m16 0h2M25 61.5h1M3 63.5h1m8 0h2m3 0h1m1 0h1M21 64.5h1m8 0h1M4 65.5h1m7 0h1m15 0h1m4 0h1M25 66.5h1M9 67.5h1m20 0h1M14 68.5h1m7 0h1m4 0h1M14 69.5h1m14 0h1M15 70.5h1m6 0h2m5 0h1M10 71.5h1m2 0h1m3 0h2m10 0h2M20 72.5h1m13 0h1M10 73.5h1m2 0h1m2 0h1M5 74.5h1M7 75.5h1M7 76.5h1m10 0h1M7 77.5h1m17 0h1M32 80.5h1M18 81.5h1m2 0h1M15 82.5h1m1 0h1m5 0h1M4 83.5h2m4 0h1m9 0h1m1 0h1m8 0h1M17 84.5h1m4 0h1m3 0h1M3 85.5h1m5 0h2m8 0h1m2 0h2M15 86.5h1m9 0h1m2 0h2" stroke="#ececec"/>
<path d="M0 .5h1M0 1.5h1m8 0h1m8 0h1M11 2.5h1m17 0h1M31 3.5h1M9 4.5h1M21 5.5h1m11 0h1M17 7.5h1m4 0h1M1 8.5h1m13 0h2m1 0h1m17 0h1M0 9.5h1m25 0h1M14 10.5h1m2 0h1m5 0h1M6 11.5h1m2 0h1m7 0h1m2 0h1m3 0h1m1 0h1m8 0h1M2 13.5h1m18 0h4M14 14.5h1m2 0h1m9 0h1m3 0h1M30 15.5h1M10 16.5h1m11 0h1m6 0h1M21 17.5h1m1 0h1m9 0h1M36 18.5h1M21 19.5h1m1 0h1m6 0h1m5 0h1M24 20.5h1m2 0h1m4 0h1m1 0h1M7 21.5h1M21 22.5h1m14 0h1M15 23.5h1M9 24.5h1m15 0h2M21 25.5h1m6 0h2M14 26.5h1m3 0h1m4 0h1m3 0h1M15 27.5h1M12 28.5h1m4 0h1m7 0h1m3 0h1M1 29.5h1m9 0h1m13 0h2M1 30.5h1m8 0h1m24 0h1M9 31.5h1m8 0h1m3 0h2m11 0h1M29 33.5h1M1 34.5h1m5 0h1m15 0h1m1 0h1m3 0h2m5 0h1M7 35.5h1m15 0h1m3 0h1m6 0h1M34 36.5h1M20 37.5h3m6 0h1M18 38.5h1m16 0h1M21 39.5h2M27 40.5h1M8 41.5h1m2 0h2m3 0h1m5 0h1m2 0h1m2 0h1M25 42.5h1m2 0h2M15 43.5h1M7 44.5h1m5 0h1m7 0h1m3 0h1m1 0h1m4 0h1M31 45.5h1M20 46.5h1m2 0h1m2 0h1M18 47.5h1M22 48.5h1m2 0h2m4 0h1M7 49.5h1m4 0h1m8 0h2m1 0h1m1 0h3m3 0h1m1 0h1M18 50.5h1M21 51.5h1m14 0h1M15 52.5h1m5 0h1M22 53.5h1m3 0h1m7 0h1M22 54.5h2m1 0h1M6 55.5h1m3 0h1m18 0h1m2 0h1M17 56.5h1m4 0h1m4 0h1M20 57.5h1m1 0h1m6 0h1m1 0h1M27 58.5h1M24 59.5h1m1 0h1M22 60.5h1m12 0h1M22 61.5h1M27 62.5h1m2 0h1M7 63.5h1m13 0h1m5 0h1m4 0h1M12 64.5h1m7 0h1m5 0h1m2 0h1m2 0h1M17 66.5h1M2 67.5h1m11 0h1m3 0h1m12 0h1M25 68.5h2M7 69.5h1m15 0h1m2 0h1M2 70.5h1m31 0h1M9 71.5h1m9 0h1m7 0h1m5 0h1M18 72.5h1m2 0h1M21 73.5h1M18 74.5h1m4 0h1m5 0h1M21 75.5h2m3 0h1m1 0h1M26 76.5h1m2 0h1M30 77.5h1M25 78.5h1m3 0h1M12 80.5h1m4 0h1m7 0h1m5 0h1M12 81.5h1m2 0h1m10 0h1m2 0h1M14 82.5h1m5 0h1m8 0h1M9 83.5h1m1 0h1m7 0h1m1 0h1m3 0h1M2 85.5h1m31 0h1M5 86.5h1m15 0h1m4 0h1m4 0h1" stroke="#f0d6d0"/>
<path d="M3 .5h1m4 0h2m17 0h1m8 0h1M16 1.5h2m7 0h1m1 0h2m6 0h1M2 2.5h1m14 0h1m5 0h2m2 0h1M14 3.5h1M0 4.5h1m22 0h1m11 0h1M2 5.5h1m29 0h1M26 6.5h2M23 7.5h1M6 8.5h1m3 0h1m8 0h1m1 0h1m2 0h2m9 0h1M21 9.5h1m7 0h1M27 11.5h1M14 12.5h1m6 0h1M25 13.5h1m1 0h1m2 0h1M18 14.5h1m4 0h1M9 15.5h1m22 0h1M12 16.5h1m2 0h2m6 0h1m1 0h1m1 0h1M13 17.5h1m3 0h1m11 0h1m1 0h1m2 0h2M0 18.5h1m24 0h1m4 0h1M7 20.5h1m10 0h1m1 0h1m1 0h2m2 0h1m2 0h1M0 21.5h1m9 0h1m7 0h1m7 0h1m2 0h1m3 0h1M27 22.5h1M30 23.5h1m1 0h1M21 24.5h3m5 0h1m2 0h1M6 25.5h1m3 0h1m11 0h1m8 0h1M22 26.5h1m8 0h1M26 27.5h1m4 0h1M10 28.5h1m15 0h1m1 0h1m2 0h1m2 0h2M9 29.5h1m2 0h2m7 0h1M6 30.5h1m5 0h1m14 0h2M3 31.5h1m3 0h1m4 0h1m11 0h2m8 0h1M16 32.5h1m14 0h2M22 33.5h1M6 34.5h1m15 0h1M21 35.5h1m4 0h1m6 0h1M27 36.5h1m4 0h1M26 37.5h1M0 38.5h1m5 0h1m10 0h1m2 0h1m2 0h1M15 39.5h1m10 0h1m2 0h1M13 41.5h1m5 0h1m4 0h1m1 0h1m2 0h1m3 0h1M17 42.5h1m2 0h1m12 0h1M16 43.5h1m9 0h1m2 0h3M8 44.5h1m8 0h1m6 0h1m1 0h1m4 0h1m4 0h1M26 45.5h1m5 0h1M29 46.5h1m2 0h1M8 47.5h1m2 0h1m11 0h1m12 0h1M17 48.5h1M29 49.5h2M32 50.5h1M22 51.5h1M17 52.5h1m2 0h1m2 0h1m1 0h1m4 0h1M31 53.5h1M12 54.5h1m2 0h1m10 0h1m3 0h2M15 55.5h1m5 0h1m8 0h1M14 56.5h1m11 0h1M15 57.5h1m10 0h1M29 58.5h1m2 0h1M0 59.5h1m4 0h1m11 0h2m2 0h1M6 60.5h1m29 0h1M18 61.5h1m7 0h1M7 62.5h1m14 0h1m13 0h1M23 63.5h4m1 0h1m2 0h1M14 64.5h1m1 0h1m10 0h1M9 65.5h1m8 0h1m10 0h1M26 66.5h1m2 0h1M6 67.5h1m5 0h1m14 0h1m1 0h1M17 68.5h2M5 69.5h1m9 0h1m6 0h1m2 0h1m1 0h1m4 0h1M0 70.5h1m26 0h1M20 71.5h1m2 0h1m1 0h1m6 0h1M22 72.5h1m2 0h1m1 0h1m4 0h1m2 0h1M4 73.5h1m13 0h1m3 0h1m2 0h3m1 0h2m1 0h1M17 74.5h1m2 0h1m1 0h1m1 0h2m1 0h2m1 0h1m2 0h1M10 75.5h1m3 0h1m1 0h2m5 0h1m1 0h1m1 0h1m5 0h1M15 76.5h1m14 0h1m1 0h2M26 77.5h1m2 0h1m2 0h1M14 78.5h1m2 0h2m7 0h2m3 0h1M16 79.5h1m9 0h1m3 0h2m1 0h1M5 80.5h1m12 0h1m3 0h1m4 0h1m1 0h1m5 0h1M30 81.5h3M28 82.5h1M14 83.5h1m1 0h1m1 0h1m7 0h4m4 0h2M18 84.5h1m6 0h1m1 0h1m1 0h1m1 0h1M17 85.5h1m7 0h2m2 0h2M20 86.5h1m1 0h1m4 0h1m2 0h1m4 0h1" stroke="#f3c0b3"/>
<path d="M10 .5h1m7 0h1m12 0h1M30 1.5h1M0 2.5h1m19 0h1m4 0h1m6 0h1M27 3.5h1M20 4.5h1M22 5.5h1M22 6.5h2M14 7.5h1m6 0h1m4 0h2M6 9.5h1m16 0h1m3 0h1m2 0h1M27 10.5h1M15 11.5h2m11 0h1m1 0h1m1 0h1M26 12.5h1m2 0h1M28 13.5h1m6 0h1M33 16.5h1m1 0h1M2 18.5h1M6 19.5h1m3 0h1m8 0h1m11 0h1M36 20.5h1M15 21.5h1m7 0h1M25 22.5h1M31 23.5h1m3 0h2M31 24.5h1m4 0h1M27 25.5h1M17 26.5h1M24 28.5h1m5 0h1M24 29.5h1M16 30.5h1M26 31.5h1m9 0h1M30 32.5h1M27 33.5h1m3 0h1M10 34.5h2M19 35.5h1m4 0h1m6 0h1m4 0h1M25 36.5h1m5 0h1M28 37.5h1m3 0h2M10 38.5h1m23 0h1M28 39.5h1m1 0h2m1 0h1M31 40.5h1M21 41.5h1m8 0h1m5 0h1M14 42.5h1m1 0h1M28 43.5h1M19 44.5h1m13 0h1M30 45.5h1M15 46.5h1m14 0h1m2 0h1M4 47.5h1m11 0h1m4 0h1m4 0h1m3 0h1M23 48.5h1M14 51.5h1m14 0h1M16 52.5h1m16 0h1m1 0h1M28 53.5h3m1 0h1M29 54.5h1m3 0h2M27 55.5h2m2 0h1m1 0h1m1 0h1M20 56.5h1m10 0h2m2 0h1M32 57.5h4M28 58.5h1m1 0h2m1 0h1M13 59.5h1m6 0h1m2 0h1m3 0h1M29 60.5h1m1 0h1M31 61.5h1M21 62.5h1m7 0h1m1 0h1M34 63.5h1m1 0h1M10 64.5h1m24 0h1M25 65.5h1m4 0h1m1 0h1m1 0h2M27 66.5h1m3 0h1M10 67.5h1m5 0h1m3 0h1m12 0h1M17 69.5h1m13 0h1M9 70.5h1m8 0h1m6 0h1m4 0h1M28 71.5h1m2 0h1m3 0h1M14 72.5h1m8 0h1m5 0h1m1 0h1M14 73.5h1m2 0h1m13 0h1m2 0h1M14 74.5h1m16 0h1m2 0h2M29 75.5h1m5 0h1M31 76.5h1M28 77.5h1m2 0h1m1 0h1M36 78.5h1M4 79.5h1m16 0h2M14 80.5h1m1 0h1m4 0h1m4 0h1m3 0h1M16 82.5h1m13 0h1m2 0h1m1 0h1M17 83.5h1m18 0h1M14 85.5h1m3 0h1m8 0h1m3 0h1m3 0h2M16 86.5h3m14 0h1m2 0h1" stroke="#f3a291"/>
<path d="M6 .5h1m8 0h1M32 1.5h1m1 0h1M19 2.5h1m10 0h1m5 0h1M10 4.5h1m4 0h1m15 0h1M14 6.5h1M27 8.5h3m2 0h1M20 9.5h1M10 11.5h1m22 0h1m2 0h1M18 12.5h1M20 13.5h1m10 0h2m1 0h1M22 14.5h1m13 0h1M28 15.5h1M31 16.5h1m4 0h1M25 17.5h1m2 0h1m1 0h1m1 0h1M18 18.5h1M11 19.5h1m15 0h1M3 23.5h1m5 0h1m10 0h1m13 0h1M36 25.5h1M36 26.5h1M34 27.5h1M0 28.5h1m31 0h1M19 29.5h1M33 30.5h1M33 31.5h1M28 32.5h1m4 0h3M36 33.5h1M32 35.5h1M7 36.5h1m28 0h1M35 37.5h1M27 38.5h1m4 0h1M34 39.5h2M31 41.5h1m2 0h2M32 42.5h1m3 0h1M33 43.5h1M28 45.5h1m5 0h2M28 46.5h1M31 47.5h1m3 0h1M36 48.5h1M33 49.5h1m2 0h1M28 50.5h1m5 0h2M31 51.5h1M31 52.5h2M33 53.5h1M28 54.5h1M30 56.5h1m5 0h1M28 57.5h1m1 0h1M36 58.5h1M25 59.5h1m10 0h1M10 60.5h1m3 0h1M26 62.5h1m7 0h1M9 63.5h1m23 0h1M6 64.5h1m26 0h1M17 65.5h1M36 66.5h1M32 67.5h1m1 0h2M34 69.5h1m1 0h1M17 70.5h1m14 0h1m3 0h1M15 71.5h1M30 72.5h1m5 0h1M33 73.5h1m1 0h1M16 74.5h1m15 0h1M32 75.5h1M28 76.5h1m5 0h2M34 77.5h1M14 79.5h1m19 0h2M33 80.5h2M28 81.5h1m4 0h3M32 82.5h1M30 83.5h1M20 85.5h1M34 86.5h1" stroke="#ef7d69"/>
<path d="M36 1.5h1M25 4.5h1M34 11.5h1M36 13.5h1M35 15.5h1M20 18.5h1M36 21.5h1M35 27.5h2M36 28.5h1M34 30.5h1m1 0h1M31 31.5h1M36 32.5h1M27 34.5h1M21 36.5h1m7 0h1M36 37.5h1M25 38.5h1M34 43.5h3M36 45.5h1M14 47.5h1m14 0h1M34 52.5h1m1 0h1M35 53.5h1M35 54.5h2M34 55.5h1m1 0h1M9 56.5h1M34 58.5h2M36 61.5h1M35 62.5h1M30 69.5h1M34 71.5h1M36 73.5h1M36 74.5h1M34 75.5h1M35 77.5h1M29 79.5h1M34 82.5h1m1 0h1M32 83.5h1M36 84.5h1M32 85.5h1M32 86.5h1" stroke="#ec574c"/>
<path d="M35 .5h1M36 3.5h1M36 4.5h1M34 5.5h2M10 9.5h1M36 10.5h1M34 16.5h1M36 17.5h1M32 18.5h1M34 19.5h1M35 20.5h1M35 21.5h1M22 22.5h1M35 24.5h1M34 25.5h1M35 29.5h1M8 31.5h1M34 34.5h1M35 35.5h1M34 37.5h1M36 39.5h1M36 40.5h1M34 42.5h1M35 44.5h1M36 46.5h1M35 49.5h1M36 50.5h1M36 53.5h1M36 57.5h1M32 59.5h1M34 60.5h1M35 63.5h1M34 64.5h1M36 65.5h1M36 68.5h1M36 71.5h1M36 75.5h1M36 76.5h1M36 77.5h1M36 81.5h1" stroke="#e8262c"/>
</g></g>
<polyline points="72.8,37.6 76,36.8 82,36 100,34.7 160,32.9 240,31.3 400,29.9 560,28.4 600,27.5 612,26.6 618,24.6 621.5,22 624.4,19.5" fill="none" stroke="#050707" stroke-width="9.2" stroke-linecap="round" stroke-linejoin="round"/>
<path d="M72.6 83.6L72.6 81.89h1.15L73.75 81.17h1.15L74.9 77.7h1.15L76.05 74.51h1.15L77.2 74.21h1.15L78.35 75.35h1.15L79.5 75.29h1.15L80.65 74.56h1.15L81.8 74.42h1.15L82.95 74.14h1.15L84.1 72.37h1.15L85.25 73.95h1.15L86.4 75.89h1.15L87.55 76.68h1.15L88.7 75.23h1.15L89.85 72.81h1.15L91 71.97h1.15L92.15 70.38h1.15L93.3 72.28h1.15L94.45 71.99h1.15L95.6 69.61h1.15L96.75 70.51h1.15L97.9 73.33h1.15L99.05 73.24h1.15L100.2 70.24h1.15L101.35 69.18h1.15L102.5 70.93h1.15L103.65 71.08h1.15L104.8 69.36h1.15L105.95 69.22h1.15L107.1 70.75h1.15L108.25 73.02h1.15L109.4 70.07h1.15L110.55 67.46h1.15L111.7 67.65h1.15L112.85 65.28h1.15L114 65.33h1.15L115.15 66.48h1.15L116.3 68.82h1.15L117.45 69.19h1.15L118.6 65.92h1.15L119.75 67.04h1.15L120.9 67.99h1.15L122.05 65.28h1.15L123.2 65.31h1.15L124.35 66.43h1.15L125.5 66.08h1.15L126.65 66.89h1.15L127.8 64.96h1.15L128.95 65.14h1.15L130.1 68.66h1.15L131.25 69.71h1.15L132.4 69.85h1.15L133.55 70.1h1.15L134.7 70.55h1.15L135.85 67.69h1.15L137 67.53h1.15L138.15 66.12h1.15L139.3 64.98h1.15L140.45 64.59h1.15L141.6 66.94h1.15L142.75 70.19h1.15L143.9 68.57h1.15L145.05 69.48h1.15L146.2 68.39h1.15L147.35 66.98h1.15L148.5 67.78h1.15L149.65 66.27h1.15L150.8 66.91h1.15L151.95 70.22h1.15L153.1 68.03h1.15L154.25 67.47h1.15L155.4 68.05h1.15L156.55 69.37h1.15L157.7 69.67h1.15L158.85 68.62h1.15L160 68.76h1.15L161.15 68.23h1.15L162.3 65.8h1.15L163.45 67.6h1.15L164.6 66.93h1.15L165.75 66.17h1.15L166.9 68.2h1.15L168.05 66.77h1.15L169.2 66.54h1.15L170.35 68.75h1.15L171.5 68.28h1.15L172.65 66.02h1.15L173.8 62.66h1.15L174.95 63.05h1.15L176.1 65.41h1.15L177.25 65.87h1.15L178.4 65.38h1.15L179.55 66.57h1.15L180.7 66.71h1.15L181.85 66.33h1.15L183 67.74h1.15L184.15 66.61h1.15L185.3 65.77h1.15L186.45 69.33h1.15L187.6 70.16h1.15L188.75 66.21h1.15L189.9 65.55h1.15L191.05 67.53h1.15L192.2 68.97h1.15L193.35 68.28h1.15L194.5 66.36h1.15L195.65 65.43h1.15L196.8 66.91h1.15L197.95 67.85h1.15L199.1 66.48h1.15L200.25 66.05h1.15L201.4 66.03h1.15L202.55 67.16h1.15L203.7 66.49h1.15L204.85 66.49h1.15L206 68.04h1.15L207.15 67.89h1.15L208.3 65.85h1.15L209.45 67.18h1.15L210.6 66.78h1.15L211.75 66.09h1.15L212.9 65.67h1.15L214.05 63.24h1.15L215.2 64.63h1.15L216.35 66.59h1.15L217.5 66.15h1.15L218.65 66.17h1.15L219.8 65.32h1.15L220.95 64.25h1.15L222.1 64.81h1.15L223.25 67.87h1.15L224.4 68.51h1.15L225.55 65.74h1.15L226.7 65.69h1.15L227.85 65.42h1.15L229 64.37h1.15L230.15 65.96h1.15L231.3 65.5h1.15L232.45 62.66h1.15L233.6 62.42h1.15L234.75 64.35h1.15L235.9 65.32h1.15L237.05 66.68h1.15L238.2 65.31h1.15L239.35 65.11h1.15L240.5 66.1h1.15L241.65 65.04h1.15L242.8 65.63h1.15L243.95 66.12h1.15L245.1 64.06h1.15L246.25 65.05h1.15L247.4 64.08h1.15L248.55 63.34h1.15L249.7 64.48h1.15L250.85 64.91h1.15L252 63.9h1.15L253.15 63.6h1.15L254.3 64.14h1.15L255.45 65.42h1.15L256.6 64.32h1.15L257.75 63.61h1.15L258.9 64.04h1.15L260.05 62.42h1.15L261.2 66.28h1.15L262.35 66.8h1.15L263.5 62.34h1.15L264.65 64.49h1.15L265.8 64.28h1.15L266.95 63.6h1.15L268.1 65.61h1.15L269.25 64.22h1.15L270.4 62.99h1.15L271.55 63.05h1.15L272.7 63.44h1.15L273.85 61.99h1.15L275 60.98h1.15L276.15 62.7h1.15L277.3 65.21h1.15L278.45 65.86h1.15L279.6 66.8h1.15L280.75 66.59h1.15L281.9 64.07h1.15L283.05 63.35h1.15L284.2 61.37h1.15L285.35 60.79h1.15L286.5 61.76h1.15L287.65 63.28h1.15L288.8 65h1.15L289.95 63.87h1.15L291.1 62.63h1.15L292.25 61.41h1.15L293.4 62.2h1.15L294.55 64.05h1.15L295.7 64.64h1.15L296.85 63.31h1.15L298 65.5h1.15L299.15 67.24h1.15L300.3 64.85h1.15L301.45 63.01h1.15L302.6 62.8h1.15L303.75 63.55h1.15L304.9 63.77h1.15L306.05 64.18h1.15L307.2 64.99h1.15L308.35 65.97h1.15L309.5 66.25h1.15L310.65 64.45h1.15L311.8 63.79h1.15L312.95 63.29h1.15L314.1 62.24h1.15L315.25 65.09h1.15L316.4 64.59h1.15L317.55 65.24h1.15L318.7 64.73h1.15L319.85 63.13h1.15L321 64.72h1.15L322.15 64.19h1.15L323.3 63.56h1.15L324.45 63.11h1.15L325.6 62.16h1.15L326.75 62.27h1.15L327.9 61.94h1.15L329.05 64.24h1.15L330.2 64.23h1.15L331.35 64.75h1.15L332.5 61.15h1.15L333.65 60.1h1.15L334.8 63.4h1.15L335.95 62.84h1.15L337.1 63.67h1.15L338.25 64.44h1.15L339.4 62.83h1.15L340.55 62.77h1.15L341.7 66.35h1.15L342.85 65.51h1.15L344 63.01h1.15L345.15 62.11h1.15L346.3 62.05h1.15L347.45 60.83h1.15L348.6 60.73h1.15L349.75 65.04h1.15L350.9 65.92h1.15L352.05 64.01h1.15L353.2 64.14h1.15L354.35 65.53h1.15L355.5 64.69h1.15L356.65 65.22h1.15L357.8 65.42h1.15L358.95 63.31h1.15L360.1 64.31h1.15L361.25 60.8h1.15L362.4 58.96h1.15L363.55 61.73h1.15L364.7 61.09h1.15L365.85 60.84h1.15L367 60.97h1.15L368.15 60.46h1.15L369.3 64.57h1.15L370.45 65.29h1.15L371.6 62.38h1.15L372.75 63.38h1.15L373.9 62.8h1.15L375.05 62.63h1.15L376.2 63.06h1.15L377.35 64.08h1.15L378.5 61.57h1.15L379.65 61.24h1.15L380.8 62.58h1.15L381.95 60.35h1.15L383.1 61.81h1.15L384.25 61.59h1.15L385.4 62.73h1.15L386.55 63.8h1.15L387.7 62.92h1.15L388.85 62.32h1.15L390 62.71h1.15L391.15 60.09h1.15L392.3 59.74h1.15L393.45 60.76h1.15L394.6 61.17h1.15L395.75 61.64h1.15L396.9 62.12h1.15L398.05 60.96h1.15L399.2 62.8h1.15L400.35 66.01h1.15L401.5 63.35h1.15L402.65 61.08h1.15L403.8 61.62h1.15L404.95 63.1h1.15L406.1 64.83h1.15L407.25 61.61h1.15L408.4 59.26h1.15L409.55 59.27h1.15L410.7 58.75h1.15L411.85 58.04h1.15L413 59.96h1.15L414.15 60.04h1.15L415.3 61.8h1.15L416.45 63.67h1.15L417.6 60.68h1.15L418.75 58.75h1.15L419.9 59.24h1.15L421.05 62.11h1.15L422.2 61.31h1.15L423.35 58.28h1.15L424.5 59.4h1.15L425.65 61.32h1.15L426.8 60.45h1.15L427.95 62.22h1.15L429.1 62.75h1.15L430.25 61.63h1.15L431.4 60.21h1.15L432.55 59.91h1.15L433.7 60.55h1.15L434.85 58h1.15L436 58.85h1.15L437.15 58.79h1.15L438.3 58.9h1.15L439.45 58.84h1.15L440.6 61.69h1.15L441.75 63.03h1.15L442.9 62h1.15L444.05 62.58h1.15L445.2 59.86h1.15L446.35 58h1.15L447.5 58h1.15L448.65 61.3h1.15L449.8 61.5h1.15L450.95 61.54h1.15L452.1 62.39h1.15L453.25 59.53h1.15L454.4 59.3h1.15L455.55 63.1h1.15L456.7 61.61h1.15L457.85 58h1.15L459 58.05h1.15L460.15 59.51h1.15L461.3 60.35h1.15L462.45 59.58h1.15L463.6 59.48h1.15L464.75 58h1.15L465.9 59.07h1.15L467.05 62.98h1.15L468.2 63.32h1.15L469.35 59.55h1.15L470.5 59.02h1.15L471.65 58h1.15L472.8 58h1.15L473.95 60.25h1.15L475.1 58.74h1.15L476.25 59.46h1.15L477.4 60.5h1.15L478.55 61.26h1.15L479.7 61.03h1.15L480.85 60.34h1.15L482 58h1.15L483.15 58h1.15L484.3 58.14h1.15L485.45 59.74h1.15L486.6 60.1h1.15L487.75 61.64h1.15L488.9 60.18h1.15L490.05 58.6h1.15L491.2 59.81h1.15L492.35 59.68h1.15L493.5 60.07h1.15L494.65 59.46h1.15L495.8 60.84h1.15L496.95 60.63h1.15L498.1 60.67h1.15L499.25 60.65h1.15L500.4 61.37h1.15L501.55 59.29h1.15L502.7 58.78h1.15L503.85 59.48h1.15L505 59.34h1.15L506.15 61.15h1.15L507.3 59.21h1.15L508.45 58h1.15L509.6 58h1.15L510.75 58.7h1.15L511.9 58h1.15L513.05 58h1.15L514.2 58h1.15L515.35 58h1.15L516.5 58h1.15L517.65 59.35h1.15L518.8 58.83h1.15L519.95 58h1.15L521.1 58.66h1.15L522.25 58.81h1.15L523.4 58h1.15L524.55 58h1.15L525.7 58.84h1.15L526.85 60.58h1.15L528 62.74h1.15L529.15 61.97h1.15L530.3 59.88h1.15L531.45 58h1.15L532.6 58.26h1.15L533.75 60.14h1.15L534.9 61.41h1.15L536.05 59.24h1.15L537.2 58.49h1.15L538.35 60.3h1.15L539.5 62.14h1.15L540.65 61.19h1.15L541.8 58.62h1.15L542.95 58h1.15L544.1 58h1.15L545.25 58h1.15L546.4 59.37h1.15L547.55 61.12h1.15L548.7 60.93h1.15L549.85 61.15h1.15L551 59.58h1.15L552.15 58.98h1.15L553.3 58.85h1.15L554.45 58.61h1.15L555.6 60.48h1.15L556.75 60.09h1.15L557.9 58h1.15L559.05 58h1.15L560.2 58h1.15L561.35 58h1.15L562.5 58h1.15L563.65 59.27h1.15L564.8 61.87h1.15L565.95 59.9h1.15L567.1 59.59h1.15L568.25 61.27h1.15L569.4 58.56h1.15L570.55 58h1.15L571.7 58.71h1.15L572.85 58.97h1.15L574 58h1.15L575.15 58h1.15L576.3 59.73h1.15L577.45 61.36h1.15L578.6 62.25h1.15L579.75 60.13h1.15L580.9 60.7h1.15L582.05 61.39h1.15L583.2 58h1.15L584.35 58.31h1.15L585.5 59.02h1.15L586.65 58.98h1.15L587.8 59.07h1.15L588.95 60.06h1.15L590.1 60.17h1.15L591.25 58.56h1.15L592.4 59.56h1.15L593.55 59.91h1.15L594.7 58.37h1.15L595.85 59.79h1.15L597 59.37h1.15L598.15 58h1.15L599.3 58h1.15L600.45 58h1.15L601.6 58h1.15L602.75 60.32h1.15L603.9 59.28h1.15L605.05 58h1.15L606.2 58h1.15L607.35 58h1.15L608.5 59.79h1.15L609.65 61.12h1.15L610.8 58.64h1.15L611.95 58h1.15L613.1 58h1.15L614.25 58h1.15L615.4 58h1.15L616.55 58h1.15L617.7 58h1.15L618.85 59.5h1.15L620 59.63h1.15L621.15 58.7h1.15L622.3 58h1.15L623.45 58h1.15L624.6 58h1.15L625.75 83.6z" fill="#050707"/>
<path d="M89.3 76.23V70.78m-1.6 0h3.2M93.9 73.28V67.69m-1.6 0h3.2M98.5 74.33V70.04m-1.6 0h3.2M105.4 70.36V65.44m-1.6 0h3.2M107.7 71.75V68.48m-1.6 0h3.2M129.55 66.14V61.05m-1.6 0h3.2M137.6 68.53V65.46m-1.6 0h3.2M143.35 71.19V66.97m-1.6 0h3.2M150.25 67.27V61.44m-1.6 0h3.2M154.85 68.47V63.27m-1.6 0h3.2M167.5 69.2V64.89m-1.6 0h3.2M173.25 67.02V60.83m-1.6 0h3.2M177.85 66.87V61.67m-1.6 0h3.2M180.15 67.57V61.32m-1.6 0h3.2M182.45 67.33V62.61m-1.6 0h3.2M198.55 68.85V63.56m-1.6 0h3.2M199.7 67.48V62.23m-1.6 0h3.2M219.25 67.17V63.99m-1.6 0h3.2M236.5 66.32V62.83m-1.6 0h3.2M248 65.08V61.64m-1.6 0h3.2M252.6 64.9V61.17m-1.6 0h3.2M265.25 65.49V59.04m-1.6 0h3.2M269.85 65.22V59.87m-1.6 0h3.2M276.75 63.7V58.2m-1.6 0h3.2M277.9 66.21V59.99m-1.6 0h3.2M290.55 64.87V61.23m-1.6 0h3.2M298.6 66.5V60.86m-1.6 0h3.2M340 63.83V59m-1.6 0h3.2M341.15 63.77V59.44m-1.6 0h3.2M346.9 63.05V58.2m-1.6 0h3.2M356.1 65.69V59.89m-1.6 0h3.2M357.25 66.22V61.14m-1.6 0h3.2M426.25 62.32V58.2m-1.6 0h3.2M433.15 60.91V58.2m-1.6 0h3.2M446.95 57.45V58.2m-1.6 0h3.2M483.75 57.54V58.2m-1.6 0h3.2M492.95 60.68V58.2m-1.6 0h3.2M499.85 61.65V58.2m-1.6 0h3.2M510.2 57.86V58.2m-1.6 0h3.2M514.8 58.82V58.2m-1.6 0h3.2M515.95 57.61V58.2m-1.6 0h3.2M534.35 61.14V58.2m-1.6 0h3.2M536.65 60.24V58.2m-1.6 0h3.2M558.5 57.59V58.2m-1.6 0h3.2M570 59.56V58.2m-1.6 0h3.2M583.8 58.7V58.2m-1.6 0h3.2M601.05 57.25V58.2m-1.6 0h3.2M620.6 60.63V58.2m-1.6 0h3.2" stroke="#050707" stroke-width="1.1" fill="none"/>
<path d="M99.65 72.74v7.27M101.95 68.68v3.17M103.1 70.43v3.23M116.9 68.32v5M137.6 67.03v6.07M146.8 67.89v6.26M195.1 65.86v4.44M198.55 67.35v6.19M207.75 67.39v5.02M211.2 66.28v3.86M234.2 61.92v3.63M242.25 64.54v4.23M256.05 64.92v7.46M257.2 63.82v4.4M258.35 63.11v5.77M266.4 63.78v3.69M291.7 62.13v7.92M340 62.33v7.48M400.95 65.51v3.84M426.25 60.82v4.09M430.85 61.13v7.4M442.35 62.53v4.47M492.95 59.18v3.5M501 60.87v5.99M505.6 58.84v3.74M537.8 57.99v3.37M540.1 61.64v6.17M548.15 60.62v7.86M550.45 60.65v3.94M556.2 59.98v7.27M557.35 59.59v6.15M580.35 59.63v7.32M581.5 60.2v4.66M595.3 57.87v4.74M620.6 59.13v5.85M622.9 56.08v4.12M450.8 58.6v8.52M561.5 58.6v7.62M593.5 58.6v11.22M341.5 58.6v9.37M386 58.6v7.72M573.56 80.6v2.2M197.93 80.6v2.2M103.99 80.6v2.2M346.14 80.6v2.2M433.32 80.6v2.2M375.54 80.6v2.2M441.38 80.6v2.2M307.72 80.6v2.2M530.85 80.6v2.2M412.62 80.6v2.2M561.5 80.6v2.2M593.5 80.6v2.2M620.5 80.6v2.2M450.8 80.6v2.2" stroke="#fff" stroke-width="1" opacity="0.9"/>
<circle cx="1064.27" cy="36" r="4.4" fill="#050707"/>
<circle cx="1079.22" cy="35.93" r="4.4" fill="#050707"/>
<circle cx="1094.17" cy="35.85" r="4.4" fill="#050707"/>
<circle cx="1109.12" cy="35.78" r="4.4" fill="#050707"/>
<circle cx="1124.07" cy="35.71" r="4.4" fill="#050707"/>
<circle cx="1139.02" cy="35.64" r="4.4" fill="#050707"/>
<circle cx="1153.97" cy="35.56" r="4.4" fill="#050707"/>
<circle cx="1168.91" cy="35.49" r="4.4" fill="#050707"/>
<circle cx="1183.86" cy="35.42" r="4.4" fill="#050707"/>
<circle cx="1198.81" cy="35.35" r="4.4" fill="#050707"/>
<circle cx="1213.76" cy="35.27" r="4.4" fill="#050707"/>
<circle cx="1228.71" cy="35.2" r="4.4" fill="#050707"/>
<circle cx="1243.66" cy="35.13" r="4.4" fill="#050707"/>
<circle cx="1258.61" cy="35.05" r="4.4" fill="#050707"/>
<circle cx="1273.56" cy="34.98" r="4.4" fill="#050707"/>
<circle cx="1288.5" cy="34.91" r="4.4" fill="#050707"/>
<circle cx="1303.45" cy="34.84" r="4.4" fill="#050707"/>
<circle cx="1318.4" cy="34.76" r="4.4" fill="#050707"/>
<circle cx="1333.35" cy="34.69" r="4.4" fill="#050707"/>
<circle cx="1348.3" cy="34.62" r="4.4" fill="#050707"/>
<circle cx="1363.25" cy="34.55" r="4.4" fill="#050707"/>
<circle cx="1378.2" cy="34.47" r="4.4" fill="#050707"/>
<circle cx="1393.14" cy="34.4" r="4.4" fill="#050707"/>
<circle cx="1408.09" cy="34.33" r="4.4" fill="#050707"/>
<circle cx="1423.04" cy="34.25" r="4.4" fill="#050707"/>
<circle cx="1437.99" cy="34.18" r="4.4" fill="#050707"/>
<circle cx="1452.94" cy="34.11" r="4.4" fill="#050707"/>
<circle cx="1467.89" cy="34.04" r="4.4" fill="#050707"/>
<circle cx="1482.84" cy="33.96" r="4.4" fill="#050707"/>
<circle cx="1497.79" cy="33.89" r="4.4" fill="#050707"/>
<circle cx="1512.73" cy="33.82" r="4.4" fill="#050707"/>
<circle cx="1527.68" cy="33.75" r="4.4" fill="#050707"/>
<circle cx="1542.63" cy="33.67" r="4.4" fill="#050707"/>
<circle cx="1557.58" cy="33.6" r="4.4" fill="#050707"/>
<circle cx="1572.53" cy="30.6" r="4.4" fill="#050707"/>
<circle cx="1587.48" cy="30.3" r="4.4" fill="#050707"/>
<circle cx="1602.43" cy="30" r="4.4" fill="#050707"/>
<path d="M1064.27 77.4v2.8M1059.27 77.4h10" stroke="#050707" stroke-width="1.4" fill="none"/>
<rect x="1059.27" y="80.2" width="10" height="3.4" fill="#050707" stroke="#050707" stroke-width="1.4"/>
<path d="M1079.22 77.8v.1M1074.22 77.8h10" stroke="#050707" stroke-width="1.4" fill="none"/>
<rect x="1074.22" y="77.9" width="10" height="5.7" fill="#050707" stroke="#050707" stroke-width="1.4"/>
<path d="M1094.17 78.5v1.9M1089.17 78.5h10" stroke="#050707" stroke-width="1.4" fill="none"/>
<rect x="1089.17" y="80.4" width="10" height="3.2" fill="#050707" stroke="#050707" stroke-width="1.4"/>
<path d="M1109.12 75.7v4.5M1104.12 75.7h10" stroke="#050707" stroke-width="1.4" fill="none"/>
<rect x="1104.12" y="80.2" width="10" height="3.4" fill="#050707" stroke="#050707" stroke-width="1.4"/>
<path d="M1105.32 81.6h7.6" stroke="#9a9e9e" stroke-width="1"/>
<path d="M1124.07 73.4v6.1M1119.07 73.4h10" stroke="#050707" stroke-width="1.4" fill="none"/>
<rect x="1119.07" y="79.5" width="10" height="4.1" fill="#050707" stroke="#050707" stroke-width="1.4"/>
<path d="M1120.27 80.9h7.6" stroke="#9a9e9e" stroke-width="1"/>
<path d="M1139.02 73.5v6M1134.02 73.5h10" stroke="#050707" stroke-width="1.4" fill="none"/>
<rect x="1134.02" y="79.5" width="10" height="4.1" fill="#050707" stroke="#050707" stroke-width="1.4"/>
<path d="M1135.22 80.9h7.6" stroke="#9a9e9e" stroke-width="1"/>
<path d="M1153.97 74.2v6M1148.97 74.2h10" stroke="#050707" stroke-width="1.4" fill="none"/>
<rect x="1148.97" y="80.2" width="10" height="3.4" fill="#050707" stroke="#050707" stroke-width="1.4"/>
<path d="M1150.17 81.6h7.6" stroke="#9a9e9e" stroke-width="1"/>
<path d="M1168.91 73.8v5.7M1163.91 73.8h10" stroke="#050707" stroke-width="1.4" fill="none"/>
<rect x="1163.91" y="79.5" width="10" height="4.1" fill="#050707" stroke="#050707" stroke-width="1.4"/>
<path d="M1165.11 80.9h7.6" stroke="#9a9e9e" stroke-width="1"/>
<path d="M1183.86 71.1v6.9M1178.86 71.1h10" stroke="#050707" stroke-width="1.4" fill="none"/>
<rect x="1178.86" y="78" width="10" height="5.6" fill="#050707" stroke="#050707" stroke-width="1.4"/>
<path d="M1180.06 79.4h7.6" stroke="#9a9e9e" stroke-width="1"/>
<path d="M1198.81 73.8v4.9M1193.81 73.8h10" stroke="#050707" stroke-width="1.4" fill="none"/>
<rect x="1193.81" y="78.7" width="10" height="4.9" fill="#050707" stroke="#050707" stroke-width="1.4"/>
<path d="M1195.01 80.1h7.6" stroke="#9a9e9e" stroke-width="1"/>
<path d="M1213.76 71.5v6.5M1208.76 71.5h10" stroke="#050707" stroke-width="1.4" fill="none"/>
<rect x="1208.76" y="78" width="10" height="5.6" fill="#050707" stroke="#050707" stroke-width="1.4"/>
<path d="M1209.96 79.4h7.6" stroke="#9a9e9e" stroke-width="1"/>
<path d="M1228.71 70.8v7.2M1223.71 70.8h10" stroke="#050707" stroke-width="1.4" fill="none"/>
<rect x="1223.71" y="78" width="10" height="5.6" fill="#050707" stroke="#050707" stroke-width="1.4"/>
<path d="M1224.91 79.4h7.6" stroke="#9a9e9e" stroke-width="1"/>
<path d="M1243.66 70.8v7.9M1238.66 70.8h10" stroke="#050707" stroke-width="1.4" fill="none"/>
<rect x="1238.66" y="78.7" width="10" height="4.9" fill="#050707" stroke="#050707" stroke-width="1.4"/>
<path d="M1239.86 80.1h7.6" stroke="#9a9e9e" stroke-width="1"/>
<path d="M1258.61 74.6v3.4M1253.61 74.6h10" stroke="#050707" stroke-width="1.4" fill="none"/>
<rect x="1253.61" y="78" width="10" height="5.6" fill="#050707" stroke="#050707" stroke-width="1.4"/>
<path d="M1254.81 79.4h7.6" stroke="#9a9e9e" stroke-width="1"/>
<path d="M1273.56 70v8M1268.56 70h10" stroke="#050707" stroke-width="1.4" fill="none"/>
<rect x="1268.56" y="78" width="10" height="5.6" fill="#050707" stroke="#050707" stroke-width="1.4"/>
<path d="M1269.76 79.4h7.6" stroke="#9a9e9e" stroke-width="1"/>
<path d="M1288.5 70.8v7.9M1283.5 70.8h10" stroke="#050707" stroke-width="1.4" fill="none"/>
<rect x="1283.5" y="78.7" width="10" height="4.9" fill="#050707" stroke="#050707" stroke-width="1.4"/>
<path d="M1284.7 80.1h7.6" stroke="#9a9e9e" stroke-width="1"/>
<path d="M1303.45 69.5v8.5M1298.45 69.5h10" stroke="#050707" stroke-width="1.4" fill="none"/>
<rect x="1298.45" y="78" width="10" height="5.6" fill="#050707" stroke="#050707" stroke-width="1.4"/>
<path d="M1299.65 79.4h7.6" stroke="#9a9e9e" stroke-width="1"/>
<path d="M1318.4 72v6M1313.4 72h10" stroke="#050707" stroke-width="1.4" fill="none"/>
<rect x="1313.4" y="78" width="10" height="5.6" fill="#050707" stroke="#050707" stroke-width="1.4"/>
<path d="M1314.6 79.4h7.6" stroke="#9a9e9e" stroke-width="1"/>
<path d="M1333.35 73.1v5.6M1328.35 73.1h10" stroke="#050707" stroke-width="1.4" fill="none"/>
<rect x="1328.35" y="78.7" width="10" height="4.9" fill="#050707" stroke="#050707" stroke-width="1.4"/>
<path d="M1329.55 80.1h7.6" stroke="#9a9e9e" stroke-width="1"/>
<path d="M1348.3 71.5v6.5M1343.3 71.5h10" stroke="#050707" stroke-width="1.4" fill="none"/>
<rect x="1343.3" y="78" width="10" height="5.6" fill="#050707" stroke="#050707" stroke-width="1.4"/>
<path d="M1344.5 79.4h7.6" stroke="#9a9e9e" stroke-width="1"/>
<path d="M1363.25 74.6v3.4M1358.25 74.6h10" stroke="#050707" stroke-width="1.4" fill="none"/>
<rect x="1358.25" y="78" width="10" height="5.6" fill="#050707" stroke="#050707" stroke-width="1.4"/>
<path d="M1359.45 79.4h7.6" stroke="#9a9e9e" stroke-width="1"/>
<path d="M1378.2 71.5v7.2M1373.2 71.5h10" stroke="#050707" stroke-width="1.4" fill="none"/>
<rect x="1373.2" y="78.7" width="10" height="4.9" fill="#050707" stroke="#050707" stroke-width="1.4"/>
<path d="M1374.4 80.1h7.6" stroke="#9a9e9e" stroke-width="1"/>
<path d="M1393.14 72.6v5.4M1388.14 72.6h10" stroke="#050707" stroke-width="1.4" fill="none"/>
<rect x="1388.14" y="78" width="10" height="5.6" fill="#050707" stroke="#050707" stroke-width="1.4"/>
<path d="M1389.34 79.4h7.6" stroke="#9a9e9e" stroke-width="1"/>
<path d="M1408.09 73.8v4.2M1403.09 73.8h10" stroke="#050707" stroke-width="1.4" fill="none"/>
<rect x="1403.09" y="78" width="10" height="5.6" fill="#050707" stroke="#050707" stroke-width="1.4"/>
<path d="M1404.29 79.4h7.6" stroke="#9a9e9e" stroke-width="1"/>
<path d="M1423.04 72.8v5.9M1418.04 72.8h10" stroke="#050707" stroke-width="1.4" fill="none"/>
<rect x="1418.04" y="78.7" width="10" height="4.9" fill="#050707" stroke="#050707" stroke-width="1.4"/>
<path d="M1419.24 80.1h7.6" stroke="#9a9e9e" stroke-width="1"/>
<path d="M1437.99 71.5v6.5M1432.99 71.5h10" stroke="#050707" stroke-width="1.4" fill="none"/>
<rect x="1432.99" y="78" width="10" height="5.6" fill="#050707" stroke="#050707" stroke-width="1.4"/>
<path d="M1434.19 79.4h7.6" stroke="#9a9e9e" stroke-width="1"/>
<path d="M1452.94 70.8v7.2M1447.94 70.8h10" stroke="#050707" stroke-width="1.4" fill="none"/>
<rect x="1447.94" y="78" width="10" height="5.6" fill="#050707" stroke="#050707" stroke-width="1.4"/>
<path d="M1449.14 79.4h7.6" stroke="#9a9e9e" stroke-width="1"/>
<path d="M1467.89 72.8v5.9M1462.89 72.8h10" stroke="#050707" stroke-width="1.4" fill="none"/>
<rect x="1462.89" y="78.7" width="10" height="4.9" fill="#050707" stroke="#050707" stroke-width="1.4"/>
<path d="M1464.09 80.1h7.6" stroke="#9a9e9e" stroke-width="1"/>
<path d="M1482.84 64.3v10.7M1477.84 64.3h10" stroke="#050707" stroke-width="1.4" fill="none"/>
<path d="M1482.84 82.3v.5M1477.84 82.8h10" stroke="#050707" stroke-width="1.4" fill="none"/>
<rect x="1477.84" y="75" width="10" height="7.3" fill="#b3b7b7" stroke="#050707" stroke-width="1.4"/>
<path d="M1477.84 78.28h10" stroke="#050707" stroke-width="1"/>
<path d="M1497.79 70v6.2M1492.79 70h10" stroke="#050707" stroke-width="1.4" fill="none"/>
<path d="M1497.79 81.5v1.3M1492.79 82.8h10" stroke="#050707" stroke-width="1.4" fill="none"/>
<rect x="1492.79" y="76.2" width="10" height="5.3" fill="#b3b7b7" stroke="#050707" stroke-width="1.4"/>
<path d="M1492.79 78.59h10" stroke="#050707" stroke-width="1"/>
<path d="M1512.73 67.7v8.5M1507.73 67.7h10" stroke="#050707" stroke-width="1.4" fill="none"/>
<path d="M1512.73 81.5v1.3M1507.73 82.8h10" stroke="#050707" stroke-width="1.4" fill="none"/>
<rect x="1507.73" y="76.2" width="10" height="5.3" fill="#b3b7b7" stroke="#050707" stroke-width="1.4"/>
<path d="M1507.73 78.59h10" stroke="#050707" stroke-width="1"/>
<path d="M1527.68 64.9v10.8M1522.68 64.9h10" stroke="#050707" stroke-width="1.4" fill="none"/>
<path d="M1527.68 81.5v1.3M1522.68 82.8h10" stroke="#050707" stroke-width="1.4" fill="none"/>
<rect x="1522.68" y="75.7" width="10" height="5.8" fill="#b3b7b7" stroke="#050707" stroke-width="1.4"/>
<path d="M1522.68 78.31h10" stroke="#050707" stroke-width="1"/>
<path d="M1542.63 67.4v8.8M1537.63 67.4h10" stroke="#050707" stroke-width="1.4" fill="none"/>
<path d="M1542.63 81.5v1.3M1537.63 82.8h10" stroke="#050707" stroke-width="1.4" fill="none"/>
<rect x="1537.63" y="76.2" width="10" height="5.3" fill="#b3b7b7" stroke="#050707" stroke-width="1.4"/>
<path d="M1537.63 78.59h10" stroke="#050707" stroke-width="1"/>
<path d="M1557.58 68.9v5.7M1552.58 68.9h10" stroke="#050707" stroke-width="1.4" fill="none"/>
<path d="M1557.58 81.2v1.6M1552.58 82.8h10" stroke="#050707" stroke-width="1.4" fill="none"/>
<rect x="1552.58" y="74.6" width="10" height="6.6" fill="#b3b7b7" stroke="#050707" stroke-width="1.4"/>
<path d="M1552.58 77.57h10" stroke="#050707" stroke-width="1"/>
<path d="M1572.53 65.4v6.1M1567.53 65.4h10" stroke="#050707" stroke-width="1.4" fill="none"/>
<path d="M1572.53 78.6v4.2M1567.53 82.8h10" stroke="#050707" stroke-width="1.4" fill="none"/>
<rect x="1567.53" y="71.5" width="10" height="7.1" fill="#b3b7b7" stroke="#050707" stroke-width="1.4"/>
<path d="M1567.53 74.69h10" stroke="#050707" stroke-width="1"/>
<path d="M1587.48 63.8v7.7M1582.48 63.8h10" stroke="#050707" stroke-width="1.4" fill="none"/>
<path d="M1587.48 78.6v4.2M1582.48 82.8h10" stroke="#050707" stroke-width="1.4" fill="none"/>
<rect x="1582.48" y="71.5" width="10" height="7.1" fill="#b3b7b7" stroke="#050707" stroke-width="1.4"/>
<path d="M1582.48 74.69h10" stroke="#050707" stroke-width="1"/>
<path d="M1602.43 61.2v9.6M1597.43 61.2h10" stroke="#050707" stroke-width="1.4" fill="none"/>
<path d="M1602.43 78.6v4.2M1597.43 82.8h10" stroke="#050707" stroke-width="1.4" fill="none"/>
<rect x="1597.43" y="70.8" width="10" height="7.8" fill="#b3b7b7" stroke="#050707" stroke-width="1.4"/>
<path d="M1597.43 74.31h10" stroke="#050707" stroke-width="1"/>
<rect x="680.1" y="89.5" width="37.5" height="726.8" fill="none" stroke="#000" stroke-width="1.6"/>
<rect x="733.5" y="89.5" width="19.7" height="726.8" fill="none" stroke="#000" stroke-width="1.6"/>
<path d="M681.9 816.3v6.3" stroke="#000" stroke-width="1.6"/>
<text transform="translate(687.7 828.2) rotate(-90) scale(0.958 1)" text-anchor="end" stroke="#050707" stroke-width=".28" font-size="16.28">0</text>
<path d="M699 816.3v6.3" stroke="#000" stroke-width="1.6"/>
<text transform="translate(704.8 828.2) rotate(-90) scale(0.958 1)" text-anchor="end" stroke="#050707" stroke-width=".28" font-size="16.28">50</text>
<path d="M715.4 816.3v6.3" stroke="#000" stroke-width="1.6"/>
<text transform="translate(721.2 828.2) rotate(-90) scale(0.958 1)" text-anchor="end" stroke="#050707" stroke-width=".28" font-size="16.28">100</text>
<path d="M734.7 816.3v6.3" stroke="#000" stroke-width="1.6"/>
<text transform="translate(740.5 828.2) rotate(-90) scale(0.958 1)" text-anchor="end" stroke="#050707" stroke-width=".28" font-size="16.28">0</text>
<path d="M743.3 816.3v6.3" stroke="#000" stroke-width="1.6"/>
<text transform="translate(749.1 828.2) rotate(-90) scale(0.958 1)" text-anchor="end" stroke="#050707" stroke-width=".28" font-size="16.28">50</text>
<path d="M751.8 816.3v6.3" stroke="#000" stroke-width="1.6"/>
<text transform="translate(757.6 828.2) rotate(-90) scale(0.958 1)" text-anchor="end" stroke="#050707" stroke-width=".28" font-size="16.28">100</text>
<text transform="translate(658.6 860.6) rotate(-90)" text-anchor="end" stroke="#050707" stroke-width=".43" font-size="23.8">Class</text>
<text transform="translate(707.9 860.6) rotate(-90)" text-anchor="end" stroke="#050707" stroke-width=".43" font-size="23.8">Raw AUC</text>
<text transform="translate(751.8 860.6) rotate(-90) scale(0.958 1)" text-anchor="end" stroke="#050707" stroke-width=".43" font-size="24.84">MRP</text>
<rect x="1664.7" y="89.5" width="37.5" height="726.8" fill="none" stroke="#000" stroke-width="1.6"/>
<rect x="1718.1" y="89.5" width="19.7" height="726.8" fill="none" stroke="#000" stroke-width="1.6"/>
<path d="M1666.5 816.3v6.3" stroke="#000" stroke-width="1.6"/>
<text transform="translate(1672.3 828.2) rotate(-90) scale(0.958 1)" text-anchor="end" stroke="#050707" stroke-width=".28" font-size="16.28">0</text>
<path d="M1683.6 816.3v6.3" stroke="#000" stroke-width="1.6"/>
<text transform="translate(1689.4 828.2) rotate(-90) scale(0.958 1)" text-anchor="end" stroke="#050707" stroke-width=".28" font-size="16.28">50</text>
<path d="M1700 816.3v6.3" stroke="#000" stroke-width="1.6"/>
<text transform="translate(1705.8 828.2) rotate(-90) scale(0.958 1)" text-anchor="end" stroke="#050707" stroke-width=".28" font-size="16.28">100</text>
<path d="M1719.3 816.3v6.3" stroke="#000" stroke-width="1.6"/>
<text transform="translate(1725.1 828.2) rotate(-90) scale(0.958 1)" text-anchor="end" stroke="#050707" stroke-width=".28" font-size="16.28">0</text>
<path d="M1727.9 816.3v6.3" stroke="#000" stroke-width="1.6"/>
<text transform="translate(1733.7 828.2) rotate(-90) scale(0.958 1)" text-anchor="end" stroke="#050707" stroke-width=".28" font-size="16.28">50</text>
<path d="M1736.4 816.3v6.3" stroke="#000" stroke-width="1.6"/>
<text transform="translate(1742.2 828.2) rotate(-90) scale(0.958 1)" text-anchor="end" stroke="#050707" stroke-width=".28" font-size="16.28">100</text>
<text transform="translate(1643.2 860.6) rotate(-90)" text-anchor="end" stroke="#050707" stroke-width=".43" font-size="23.8">Class</text>
<text transform="translate(1692.5 860.6) rotate(-90)" text-anchor="end" stroke="#050707" stroke-width=".43" font-size="23.8">Raw AUC</text>
<text transform="translate(1736.4 860.6) rotate(-90) scale(0.958 1)" text-anchor="end" stroke="#050707" stroke-width=".43" font-size="24.84">MRP</text>
<path d="M684.8 102.27H690.42m0-2.9v5.8M684.67 110.62H690.03m0-2.9v5.8M684.93 118.97H689.62m0-2.9v5.8M685.63 127.32H690.46m0-2.9v5.8M685.46 135.67H694.59m0-2.9v5.8M685.93 144.02H693.68m0-2.9v5.8M686.81 152.37H693.67m0-2.9v5.8M688.25 160.72H697.45m0-2.9v5.8M688.95 169.06H695.53m0-2.9v5.8M688.68 177.41H693.25m0-2.9v5.8M681.48 177.41H680.9m0-2.9v5.8M688.98 185.76H697.38m0-2.9v5.8M689.36 194.11H699.73m0-2.9v5.8M681.4 194.11H680.9m0-2.9v5.8M688.14 202.46H693.38m0-2.9v5.8M687.98 210.81H695.4m0-2.9v5.8M689.22 219.16H697.62m0-2.9v5.8M689.24 227.51H699.96m0-2.9v5.8M681.95 227.51H680.9m0-2.9v5.8M689.36 235.85H701m0-2.9v5.8M681.33 235.85H680.9m0-2.9v5.8M689.46 244.2H698.4m0-2.9v5.8M681.94 244.2H680.9m0-2.9v5.8M690.22 252.55H696.63m0-2.9v5.8M681.49 252.55H680.9m0-2.9v5.8M691.03 260.9H697.85m0-2.9v5.8M682.18 260.9H680.9m0-2.9v5.8M690.18 269.25H698.94m0-2.9v5.8M681.97 269.25H680.9m0-2.9v5.8M690.97 277.6H699.65m0-2.9v5.8M681.74 277.6H680.9m0-2.9v5.8M691.5 285.95H704.09m0-2.9v5.8M682.17 285.95H680.9m0-2.9v5.8M691.49 294.3H703m0-2.9v5.8M682.35 294.3H680.9m0-2.9v5.8M690.24 302.65H698.57m0-2.9v5.8M681.72 302.65H680.9m0-2.9v5.8M690.79 310.99H702.77m0-2.9v5.8M681.82 310.99H680.9m0-2.9v5.8M690.66 319.34H702.71m0-2.9v5.8M682.17 319.34H680.9m0-2.9v5.8M692.75 327.69H703.58m0-2.9v5.8M682.98 327.69H680.9m0-2.9v5.8M692.78 336.04H702m0-2.9v5.8M683.28 336.04H680.9m0-2.9v5.8M692.31 344.39H703.29m0-2.9v5.8M683.43 344.39H680.9m0-2.9v5.8M691.44 352.74H702.31m0-2.9v5.8M682.67 352.74H680.9m0-2.9v5.8M692.47 361.09H703.97m0-2.9v5.8M683.05 361.09H680.9m0-2.9v5.8M693.15 369.44H702.21m0-2.9v5.8M683.57 369.44H680.9m0-2.9v5.8M694.05 377.79H703.26m0-2.9v5.8M683.66 377.79H680.9m0-2.9v5.8M692.68 386.13H703.54m0-2.9v5.8M683.26 386.13H680.9m0-2.9v5.8M692.5 394.48H701.42m0-2.9v5.8M683.16 394.48H680.9m0-2.9v5.8M694.33 402.83H705.9m0-2.9v5.8M683.85 402.83H680.9m0-2.9v5.8M694.02 411.18H705.85m0-2.9v5.8M684.12 411.18H680.9m0-2.9v5.8M694.22 419.53H704.47m0-2.9v5.8M684.31 419.53H680.9m0-2.9v5.8M692.91 427.88H702.4m0-2.9v5.8M683.92 427.88H680.9m0-2.9v5.8M694.08 436.23H707.33m0-2.9v5.8M684.14 436.23H680.9m0-2.9v5.8M695.21 444.58H706.9m0-2.9v5.8M685.02 444.58H680.9m0-2.9v5.8M694.45 452.93H709.18m0-2.9v5.8M684.38 452.93H680.9m0-2.9v5.8M695.11 461.27H709.47m0-2.9v5.8M684.54 461.27H680.9m0-2.9v5.8M695.2 469.62H705.35m0-2.9v5.8M684.8 469.62H680.9m0-2.9v5.8M695.33 477.97H705.4m0-2.9v5.8M684.85 477.97H680.9m0-2.9v5.8M696.11 486.32H711.08m0-2.9v5.8M686 486.32H680.9m0-2.9v5.8M696.08 494.67H707.18m0-2.9v5.8M685.71 494.67H680.9m0-2.9v5.8M695.72 503.02H705.87m0-2.9v5.8M685.81 503.02H680.9m0-2.9v5.8M695.78 511.37H710.36m0-2.9v5.8M686.2 511.37H680.9m0-2.9v5.8M697.45 519.72H708.51m0-2.9v5.8M687.04 519.72H681.91m0-2.9v5.8M697.63 528.06H708.22m0-2.9v5.8M687.05 528.06H680.9m0-2.9v5.8M696.52 536.41H708.49m0-2.9v5.8M686.73 536.41H680.9m0-2.9v5.8M698.12 544.76H711.45m0-2.9v5.8M687.36 544.76H680.9m0-2.9v5.8M697.91 553.11H708.33m0-2.9v5.8M687.3 553.11H681.38m0-2.9v5.8M697.89 561.46H708.47m0-2.9v5.8M687.9 561.46H682.06m0-2.9v5.8M698.43 569.81H707.31m0-2.9v5.8M688.3 569.81H682.37m0-2.9v5.8M699.18 578.16H709.98m0-2.9v5.8M688.59 578.16H680.9m0-2.9v5.8M699.9 586.51H709.19m0-2.9v5.8M688.89 586.51H681.24m0-2.9v5.8M698.52 594.86H704.21m0-2.9v5.8M688.45 594.86H680.9m0-2.9v5.8M699.66 603.2H704.87m0-2.9v5.8M689.26 603.2H682.83m0-2.9v5.8M699.9 611.55H706.13m0-2.9v5.8M688.79 611.55H680.9m0-2.9v5.8M699.86 619.9H711.65m0-2.9v5.8M688.86 619.9H680.9m0-2.9v5.8M700.75 628.25H712.63m0-2.9v5.8M689.84 628.25H683.09m0-2.9v5.8M700.21 636.6H713.78m0-2.9v5.8M690.22 636.6H683.05m0-2.9v5.8M701.4 644.95H712.78m0-2.9v5.8M690.17 644.95H680.95m0-2.9v5.8M700.16 653.3H707.67m0-2.9v5.8M689.88 653.3H682.19m0-2.9v5.8M700.76 661.65H715m0-2.9v5.8M690.23 661.65H681.44m0-2.9v5.8M700.48 670H712.57m0-2.9v5.8M690.64 670H682.7m0-2.9v5.8M700.96 678.34H712.08m0-2.9v5.8M690.72 678.34H680.9m0-2.9v5.8M702.28 686.69H714.72m0-2.9v5.8M691.04 686.69H683.4m0-2.9v5.8M702.12 695.04H715.56m0-2.9v5.8M691.48 695.04H681.6m0-2.9v5.8M702.26 703.39H711.38m0-2.9v5.8M691.46 703.39H682.2m0-2.9v5.8M703.4 711.74H716.4m0-2.9v5.8M692 711.74H683.76m0-2.9v5.8M703.28 720.09H715.09m0-2.9v5.8M691.93 720.09H681.53m0-2.9v5.8M702.26 728.44H711.32m0-2.9v5.8M692.05 728.44H681.45m0-2.9v5.8M703.52 736.79H715.23m0-2.9v5.8M692.06 736.79H682.03m0-2.9v5.8M702.74 745.13H714m0-2.9v5.8M692.43 745.13H681.57m0-2.9v5.8M703.94 753.48H714.82m0-2.9v5.8M693.21 753.48H684.95m0-2.9v5.8M703.3 761.83H713.44m0-2.9v5.8M692.81 761.83H684.26m0-2.9v5.8M703.99 770.18H716.1m0-2.9v5.8M693.66 770.18H685.2m0-2.9v5.8M703.92 778.53H716.4m0-2.9v5.8M693.49 778.53H683.61m0-2.9v5.8M704.61 786.88H714.79m0-2.9v5.8M693.32 786.88H682.79m0-2.9v5.8M704.02 795.23H713.59m0-2.9v5.8M693.73 795.23H684.85m0-2.9v5.8M705.51 803.58H714.15m0-2.9v5.8M694 803.58H683.63m0-2.9v5.8M705.83 811.93H711.68m0-2.9v5.8M694.43 811.93H685.42m0-2.9v5.8" stroke="#050707" stroke-width="1.5" fill="none"/>
<g fill="#b3b7b7" stroke="#050707" stroke-width="1.5"><rect x="680.7" y="91.32" width="3.26" height="5.2"/><rect x="680.88" y="99.67" width="3.93" height="5.2"/><rect x="680.7" y="108.02" width="3.97" height="5.2"/><rect x="680.7" y="116.37" width="4.23" height="5.2"/><rect x="681" y="124.72" width="4.63" height="5.2"/><rect x="680.7" y="133.07" width="4.76" height="5.2"/><rect x="680.7" y="141.42" width="5.23" height="5.2"/><rect x="681.11" y="149.77" width="5.7" height="5.2"/><rect x="680.77" y="158.12" width="7.48" height="5.2"/><rect x="681.07" y="166.46" width="7.88" height="5.2"/><rect x="681.48" y="174.81" width="7.2" height="5.2"/><rect x="680.9" y="183.16" width="8.08" height="5.2"/><rect x="681.4" y="191.51" width="7.95" height="5.2"/><rect x="680.8" y="199.86" width="7.35" height="5.2"/><rect x="680.79" y="208.21" width="7.18" height="5.2"/><rect x="681.2" y="216.56" width="8.02" height="5.2"/><rect x="681.95" y="224.91" width="7.29" height="5.2"/><rect x="681.33" y="233.25" width="8.04" height="5.2"/><rect x="681.94" y="241.6" width="7.51" height="5.2"/><rect x="681.49" y="249.95" width="8.73" height="5.2"/><rect x="682.18" y="258.3" width="8.85" height="5.2"/><rect x="681.97" y="266.65" width="8.21" height="5.2"/><rect x="681.74" y="275" width="9.23" height="5.2"/><rect x="682.17" y="283.35" width="9.33" height="5.2"/><rect x="682.35" y="291.7" width="9.14" height="5.2"/><rect x="681.72" y="300.05" width="8.52" height="5.2"/><rect x="681.82" y="308.39" width="8.97" height="5.2"/><rect x="682.17" y="316.74" width="8.5" height="5.2"/><rect x="682.98" y="325.09" width="9.77" height="5.2"/><rect x="683.28" y="333.44" width="9.5" height="5.2"/><rect x="683.43" y="341.79" width="8.87" height="5.2"/><rect x="682.67" y="350.14" width="8.78" height="5.2"/><rect x="683.05" y="358.49" width="9.42" height="5.2"/><rect x="683.57" y="366.84" width="9.58" height="5.2"/><rect x="683.66" y="375.19" width="10.4" height="5.2"/><rect x="683.26" y="383.53" width="9.42" height="5.2"/><rect x="683.16" y="391.88" width="9.34" height="5.2"/><rect x="683.85" y="400.23" width="10.48" height="5.2"/><rect x="684.12" y="408.58" width="9.9" height="5.2"/><rect x="684.31" y="416.93" width="9.91" height="5.2"/><rect x="683.92" y="425.28" width="8.99" height="5.2"/><rect x="684.14" y="433.63" width="9.94" height="5.2"/><rect x="685.02" y="441.98" width="10.19" height="5.2"/><rect x="684.38" y="450.32" width="10.07" height="5.2"/><rect x="684.54" y="458.67" width="10.56" height="5.2"/><rect x="684.8" y="467.02" width="10.4" height="5.2"/><rect x="684.85" y="475.37" width="10.48" height="5.2"/><rect x="686" y="483.72" width="10.12" height="5.2"/><rect x="685.71" y="492.07" width="10.37" height="5.2"/><rect x="685.81" y="500.42" width="9.91" height="5.2"/><rect x="686.2" y="508.77" width="9.59" height="5.2"/><rect x="687.04" y="517.12" width="10.4" height="5.2"/><rect x="687.05" y="525.46" width="10.58" height="5.2"/><rect x="686.73" y="533.81" width="9.78" height="5.2"/><rect x="687.36" y="542.16" width="10.76" height="5.2"/><rect x="687.3" y="550.51" width="10.61" height="5.2"/><rect x="687.9" y="558.86" width="9.99" height="5.2"/><rect x="688.3" y="567.21" width="10.14" height="5.2"/><rect x="688.59" y="575.56" width="10.59" height="5.2"/><rect x="688.89" y="583.91" width="11.01" height="5.2"/><rect x="688.45" y="592.26" width="10.07" height="5.2"/><rect x="689.26" y="600.6" width="10.4" height="5.2"/><rect x="688.79" y="608.95" width="11.11" height="5.2"/><rect x="688.86" y="617.3" width="11.01" height="5.2"/><rect x="689.84" y="625.65" width="10.91" height="5.2"/><rect x="690.22" y="634" width="9.99" height="5.2"/><rect x="690.17" y="642.35" width="11.23" height="5.2"/><rect x="689.88" y="650.7" width="10.28" height="5.2"/><rect x="690.23" y="659.05" width="10.52" height="5.2"/><rect x="690.64" y="667.4" width="9.84" height="5.2"/><rect x="690.72" y="675.74" width="10.24" height="5.2"/><rect x="691.04" y="684.09" width="11.24" height="5.2"/><rect x="691.48" y="692.44" width="10.65" height="5.2"/><rect x="691.46" y="700.79" width="10.8" height="5.2"/><rect x="692" y="709.14" width="11.41" height="5.2"/><rect x="691.93" y="717.49" width="11.35" height="5.2"/><rect x="692.05" y="725.84" width="10.22" height="5.2"/><rect x="692.06" y="734.19" width="11.47" height="5.2"/><rect x="692.43" y="742.53" width="10.31" height="5.2"/><rect x="693.21" y="750.88" width="10.73" height="5.2"/><rect x="692.81" y="759.23" width="10.48" height="5.2"/><rect x="693.66" y="767.58" width="10.33" height="5.2"/><rect x="693.49" y="775.93" width="10.43" height="5.2"/><rect x="693.32" y="784.28" width="11.28" height="5.2"/><rect x="693.73" y="792.63" width="10.29" height="5.2"/><rect x="694" y="800.98" width="11.52" height="5.2"/><rect x="694.43" y="809.33" width="11.4" height="5.2"/></g>
<path d="M682.15 91.32v5.2M682.6 99.67v5.2M682.81 108.02v5.2M682.81 116.37v5.2M683.15 124.72v5.2M682.67 133.07v5.2M682.64 141.42v5.2M684.51 149.77v5.2M683.77 158.12v5.2M685.08 166.46v5.2M684.52 174.81v5.2M685.05 183.16v5.2M685.9 191.51v5.2M684.91 199.86v5.2M684.81 208.21v5.2M685.91 216.56v5.2M685.01 224.91v5.2M684.56 233.25v5.2M685.72 241.6v5.2M685.7 249.95v5.2M686.52 258.3v5.2M686.82 266.65v5.2M686.4 275v5.2M687.32 283.35v5.2M686.69 291.7v5.2M686.51 300.05v5.2M685.52 308.39v5.2M685.9 316.74v5.2M687 325.09v5.2M688.34 333.44v5.2M688.14 341.79v5.2M687.74 350.14v5.2M688.63 358.49v5.2M688.84 366.84v5.2M688.7 375.19v5.2M687.52 383.53v5.2M688.17 391.88v5.2M689.39 400.23v5.2M688.78 408.58v5.2M688.41 416.93v5.2M688.01 425.28v5.2M688.44 433.63v5.2M690.14 441.98v5.2M688.77 450.32v5.2M690.38 458.67v5.2M689.8 467.02v5.2M690.26 475.37v5.2M691.05 483.72v5.2M690.03 492.07v5.2M691.44 500.42v5.2M691.25 508.77v5.2M692.35 517.12v5.2M693.27 525.46v5.2M692.59 533.81v5.2M692.32 542.16v5.2M691.99 550.51v5.2M692.77 558.86v5.2M692.45 567.21v5.2M693.74 575.56v5.2M694.06 583.91v5.2M692.56 592.26v5.2M694.04 600.6v5.2M694.83 608.95v5.2M694.7 617.3v5.2M695.02 625.65v5.2M695.74 634v5.2M695.51 642.35v5.2M695.57 650.7v5.2M695.16 659.05v5.2M694.92 667.4v5.2M696.69 675.74v5.2M697.24 684.09v5.2M696.47 692.44v5.2M696.74 700.79v5.2M698.78 709.14v5.2M696.6 717.49v5.2M696.65 725.84v5.2M698.52 734.19v5.2M696.94 742.53v5.2M699.37 750.88v5.2M697.71 759.23v5.2M699.05 767.58v5.2M698.34 775.93v5.2M699.54 784.28v5.2M698.27 792.63v5.2M698.81 800.98v5.2M700.75 809.33v5.2" stroke="#050707" stroke-width="1.5" fill="none"/>
<circle cx="736.3" cy="93.92" r="4.4" fill="#050707"/>
<circle cx="736.4" cy="102.27" r="4.4" fill="#050707"/>
<circle cx="736.5" cy="110.62" r="4.4" fill="#050707"/>
<circle cx="736.6" cy="118.97" r="4.4" fill="#050707"/>
<circle cx="736.7" cy="127.32" r="4.4" fill="#050707"/>
<circle cx="736.8" cy="135.67" r="4.4" fill="#050707"/>
<circle cx="736.9" cy="144.02" r="4.4" fill="#050707"/>
<circle cx="737" cy="152.37" r="4.4" fill="#050707"/>
<circle cx="737.1" cy="160.72" r="4.4" fill="#050707"/>
<circle cx="737.2" cy="169.06" r="4.4" fill="#050707"/>
<circle cx="737.3" cy="177.41" r="4.4" fill="#050707"/>
<circle cx="737.4" cy="185.76" r="4.4" fill="#050707"/>
<circle cx="737.5" cy="194.11" r="4.4" fill="#050707"/>
<circle cx="737.6" cy="202.46" r="4.4" fill="#050707"/>
<circle cx="737.7" cy="210.81" r="4.4" fill="#050707"/>
<circle cx="737.8" cy="219.16" r="4.4" fill="#050707"/>
<circle cx="737.9" cy="227.51" r="4.4" fill="#050707"/>
<circle cx="738" cy="235.85" r="4.4" fill="#050707"/>
<circle cx="738.1" cy="244.2" r="4.4" fill="#050707"/>
<circle cx="738.2" cy="252.55" r="4.4" fill="#050707"/>
<circle cx="738.3" cy="260.9" r="4.4" fill="#050707"/>
<circle cx="738.4" cy="269.25" r="4.4" fill="#050707"/>
<circle cx="738.5" cy="277.6" r="4.4" fill="#050707"/>
<circle cx="738.6" cy="285.95" r="4.4" fill="#050707"/>
<circle cx="738.68" cy="294.3" r="4.4" fill="#050707"/>
<circle cx="738.76" cy="302.65" r="4.4" fill="#050707"/>
<circle cx="738.83" cy="310.99" r="4.4" fill="#050707"/>
<circle cx="738.91" cy="319.34" r="4.4" fill="#050707"/>
<circle cx="738.99" cy="327.69" r="4.4" fill="#050707"/>
<circle cx="739.07" cy="336.04" r="4.4" fill="#050707"/>
<circle cx="739.15" cy="344.39" r="4.4" fill="#050707"/>
<circle cx="739.23" cy="352.74" r="4.4" fill="#050707"/>
<circle cx="739.3" cy="361.09" r="4.4" fill="#050707"/>
<circle cx="739.38" cy="369.44" r="4.4" fill="#050707"/>
<circle cx="739.46" cy="377.79" r="4.4" fill="#050707"/>
<circle cx="739.54" cy="386.13" r="4.4" fill="#050707"/>
<circle cx="739.62" cy="394.48" r="4.4" fill="#050707"/>
<circle cx="739.7" cy="402.83" r="4.4" fill="#050707"/>
<circle cx="739.77" cy="411.18" r="4.4" fill="#050707"/>
<circle cx="739.85" cy="419.53" r="4.4" fill="#050707"/>
<circle cx="739.93" cy="427.88" r="4.4" fill="#050707"/>
<circle cx="740.01" cy="436.23" r="4.4" fill="#050707"/>
<circle cx="740.09" cy="444.58" r="4.4" fill="#050707"/>
<circle cx="740.17" cy="452.93" r="4.4" fill="#050707"/>
<circle cx="740.24" cy="461.27" r="4.4" fill="#050707"/>
<circle cx="740.32" cy="469.62" r="4.4" fill="#050707"/>
<circle cx="740.4" cy="477.97" r="4.4" fill="#050707"/>
<circle cx="740.47" cy="486.32" r="4.4" fill="#050707"/>
<circle cx="740.53" cy="494.67" r="4.4" fill="#050707"/>
<circle cx="740.6" cy="503.02" r="4.4" fill="#050707"/>
<circle cx="740.66" cy="511.37" r="4.4" fill="#050707"/>
<circle cx="740.73" cy="519.72" r="4.4" fill="#050707"/>
<circle cx="740.79" cy="528.06" r="4.4" fill="#050707"/>
<circle cx="740.86" cy="536.41" r="4.4" fill="#050707"/>
<circle cx="740.92" cy="544.76" r="4.4" fill="#050707"/>
<circle cx="740.99" cy="553.11" r="4.4" fill="#050707"/>
<circle cx="741.05" cy="561.46" r="4.4" fill="#050707"/>
<circle cx="741.12" cy="569.81" r="4.4" fill="#050707"/>
<circle cx="741.18" cy="578.16" r="4.4" fill="#050707"/>
<circle cx="741.25" cy="586.51" r="4.4" fill="#050707"/>
<circle cx="741.31" cy="594.86" r="4.4" fill="#050707"/>
<circle cx="741.38" cy="603.2" r="4.4" fill="#050707"/>
<circle cx="741.44" cy="611.55" r="4.4" fill="#050707"/>
<circle cx="741.51" cy="619.9" r="4.4" fill="#050707"/>
<circle cx="741.57" cy="628.25" r="4.4" fill="#050707"/>
<circle cx="741.64" cy="636.6" r="4.4" fill="#050707"/>
<circle cx="741.7" cy="644.95" r="4.4" fill="#050707"/>
<circle cx="741.77" cy="653.3" r="4.4" fill="#050707"/>
<circle cx="741.83" cy="661.65" r="4.4" fill="#050707"/>
<circle cx="741.9" cy="670" r="4.4" fill="#050707"/>
<circle cx="742.04" cy="678.34" r="4.4" fill="#050707"/>
<circle cx="742.17" cy="686.69" r="4.4" fill="#050707"/>
<circle cx="742.31" cy="695.04" r="4.4" fill="#050707"/>
<circle cx="742.45" cy="703.39" r="4.4" fill="#050707"/>
<circle cx="742.58" cy="711.74" r="4.4" fill="#050707"/>
<circle cx="742.72" cy="720.09" r="4.4" fill="#050707"/>
<circle cx="742.85" cy="728.44" r="4.4" fill="#050707"/>
<circle cx="742.99" cy="736.79" r="4.4" fill="#050707"/>
<circle cx="743.13" cy="745.13" r="4.4" fill="#050707"/>
<circle cx="743.26" cy="753.48" r="4.4" fill="#050707"/>
<circle cx="743.4" cy="761.83" r="4.4" fill="#050707"/>
<circle cx="743.73" cy="770.18" r="4.4" fill="#050707"/>
<circle cx="744.07" cy="778.53" r="4.4" fill="#050707"/>
<circle cx="744.4" cy="786.88" r="4.4" fill="#050707"/>
<circle cx="744.73" cy="795.23" r="4.4" fill="#050707"/>
<circle cx="745.07" cy="803.58" r="4.4" fill="#050707"/>
<circle cx="745.4" cy="811.93" r="4.4" fill="#050707"/>
<path d="M1671.99 93.92H1673.03m0-2.9v5.8M1674.08 102.27H1679.28m0-2.9v5.8M1669.91 102.27H1666.78m0-2.9v5.8M1671.99 144.02H1673.03m0-2.9v5.8M1685.53 160.72H1691.78m0-2.9v5.8M1679.28 160.72H1676.16m0-2.9v5.8M1671.99 177.41H1674.08m0-2.9v5.8M1673.03 185.76H1675.53m0-2.9v5.8M1673.03 202.46H1675.53m0-2.9v5.8M1673.03 210.81H1678.87m0-2.9v5.8M1673.03 227.51H1678.24m0-2.9v5.8M1673.03 235.85H1675.53m0-2.9v5.8M1673.03 252.55H1679.28m0-2.9v5.8M1671.26 285.95H1673.51m0-2.9v5.8M1671.26 294.3H1673.51m0-2.9v5.8M1671.26 302.65H1674.08m0-2.9v5.8M1670.33 310.99H1672.76m0-2.9v5.8M1675.01 319.34H1679.7m0-2.9v5.8M1669.01 319.34H1667.51m0-2.9v5.8M1675.95 327.69H1678.76m0-2.9v5.8M1670.33 327.69H1669.01m0-2.9v5.8M1669.39 336.04H1671.64m0-2.9v5.8M1671.26 344.39H1676.51m0-2.9v5.8M1671.26 352.74H1675.95m0-2.9v5.8M1675.95 361.09H1681.58m0-2.9v5.8M1669.01 361.09H1667.51m0-2.9v5.8M1675.01 369.44H1683.45m0-2.9v5.8M1667.51 369.44H1665.64m0-2.9v5.8M1669.76 377.79H1672.2m0-2.9v5.8M1671.64 386.13H1675.39m0-2.9v5.8M1670.89 394.48H1673.14m0-2.9v5.8M1670.33 402.83H1672.76m0-2.9v5.8M1670.33 411.18H1672.76m0-2.9v5.8M1674.08 419.53H1682.14m0-2.9v5.8M1666.58 419.53H1665.64m0-2.9v5.8M1670.33 427.88H1673.14m0-2.9v5.8M1675.01 436.23H1678.76m0-2.9v5.8M1667.89 436.23H1666.58m0-2.9v5.8M1672.76 444.58H1676.51m0-2.9v5.8M1666.58 444.58H1665.64m0-2.9v5.8M1674.99 452.93H1684.58m0-2.9v5.8M1667.28 452.93H1665.83m0-2.9v5.8M1674.99 461.27H1677.08m0-2.9v5.8M1667.28 461.27H1665.83m0-2.9v5.8M1674.99 469.62H1676.66m0-2.9v5.8M1667.28 469.62H1665.83m0-2.9v5.8M1671.45 477.97H1674.16m0-2.9v5.8M1675.62 486.32H1682.49m0-2.9v5.8M1667.28 486.32H1665.83m0-2.9v5.8M1672.91 494.67H1673.53m0-2.9v5.8M1673.53 503.02H1676.24m0-2.9v5.8M1667.28 503.02H1665.83m0-2.9v5.8M1676.66 519.72H1681.87m0-2.9v5.8M1670.41 519.72H1668.74m0-2.9v5.8M1675.62 528.06H1683.33m0-2.9v5.8M1669.37 528.06H1667.28m0-2.9v5.8M1676.24 536.41H1680.83m0-2.9v5.8M1669.99 536.41H1668.33m0-2.9v5.8M1679.16 544.76H1688.74m0-2.9v5.8M1671.45 544.76H1667.28m0-2.9v5.8M1677.7 553.11H1682.91m0-2.9v5.8M1671.45 553.11H1665.83m0-2.9v5.8M1671.45 561.46H1672.49m0-2.9v5.8M1674.58 569.81H1678.33m0-2.9v5.8M1667.28 569.81H1665.83m0-2.9v5.8M1679.16 578.16H1687.08m0-2.9v5.8M1671.45 578.16H1667.28m0-2.9v5.8M1672.91 586.51H1674.99m0-2.9v5.8M1667.28 586.51H1665.83m0-2.9v5.8M1672.91 594.86H1674.58m0-2.9v5.8M1676.66 611.55H1683.33m0-2.9v5.8M1668.33 611.55H1666.66m0-2.9v5.8M1675.62 619.9H1683.95m0-2.9v5.8M1668.33 619.9H1666.66m0-2.9v5.8M1674.16 628.25H1677.7m0-2.9v5.8M1667.91 628.25H1666.24m0-2.9v5.8M1676.16 636.6H1677.2m0-2.9v5.8M1669.91 636.6H1668.87m0-2.9v5.8M1680.33 644.95H1685.12m0-2.9v5.8M1673.03 644.95H1668.87m0-2.9v5.8M1675.12 653.3H1678.87m0-2.9v5.8M1667.83 653.3H1666.37m0-2.9v5.8M1671.99 670H1675.12m0-2.9v5.8M1688.66 678.34H1695.95m0-2.9v5.8M1677.2 678.34H1669.91m0-2.9v5.8M1671.99 686.69H1676.78m0-2.9v5.8M1666.78 686.69H1666.37m0-2.9v5.8M1681.37 703.39H1686.58m0-2.9v5.8M1674.08 703.39H1670.95m0-2.9v5.8M1681.37 711.74H1688.66m0-2.9v5.8M1673.03 711.74H1668.87m0-2.9v5.8M1675.12 720.09H1678.87m0-2.9v5.8M1667.83 720.09H1666.37m0-2.9v5.8M1675.12 728.44H1682.41m0-2.9v5.8M1666.78 728.44H1666.37m0-2.9v5.8M1678.87 736.79H1687.2m0-2.9v5.8M1669.91 736.79H1667.2m0-2.9v5.8M1678.24 745.13H1673.03m0-2.9v5.8M1676.78 753.48H1684.08m0-2.9v5.8M1667.83 753.48H1666.37m0-2.9v5.8M1680.33 761.83H1685.53m0-2.9v5.8M1671.99 761.83H1668.87m0-2.9v5.8M1677.2 770.18H1684.49m0-2.9v5.8M1668.87 770.18H1667.83m0-2.9v5.8M1680.33 778.53H1688.66m0-2.9v5.8M1671.99 778.53H1669.91m0-2.9v5.8M1685.53 786.88H1688.03m0-2.9v5.8M1679.28 786.88H1676.16m0-2.9v5.8M1690.12 803.58H1697.62m0-2.9v5.8M1682.41 803.58H1675.53m0-2.9v5.8M1685.95 811.93H1691.37m0-2.9v5.8M1680.33 811.93H1676.78m0-2.9v5.8" stroke="#050707" stroke-width="1.5" fill="none"/>
<g fill="#b3b7b7" stroke="#050707" stroke-width="1.5"><rect x="1666.37" y="91.32" width="5.62" height="5.2"/><rect x="1669.91" y="99.67" width="4.17" height="5.2"/><rect x="1666.37" y="108.02" width="5.62" height="5.2"/><rect x="1666.37" y="116.37" width="4.58" height="5.2"/><rect x="1666.37" y="124.72" width="3.54" height="5.2"/><rect x="1666.37" y="133.07" width="2.5" height="5.2"/><rect x="1666.37" y="141.42" width="5.62" height="5.2"/><rect x="1666.37" y="149.77" width="4.17" height="5.2"/><rect x="1679.28" y="158.12" width="6.25" height="5.2"/><rect x="1666.37" y="166.46" width="2.5" height="5.2"/><rect x="1666.37" y="174.81" width="5.62" height="5.2"/><rect x="1666.37" y="183.16" width="6.67" height="5.2"/><rect x="1666.37" y="191.51" width="3.54" height="5.2"/><rect x="1666.37" y="199.86" width="6.67" height="5.2"/><rect x="1666.37" y="208.21" width="6.67" height="5.2"/><rect x="1666.37" y="216.56" width="6.67" height="5.2"/><rect x="1666.37" y="224.91" width="6.67" height="5.2"/><rect x="1666.37" y="233.25" width="6.67" height="5.2"/><rect x="1666.37" y="241.6" width="3.54" height="5.2"/><rect x="1666.37" y="249.95" width="6.67" height="5.2"/><rect x="1666.37" y="258.3" width="6.67" height="5.2"/><rect x="1666.37" y="266.65" width="6.67" height="5.2"/><rect x="1665.64" y="275" width="2.81" height="5.2"/><rect x="1665.64" y="283.35" width="5.63" height="5.2"/><rect x="1665.64" y="291.7" width="5.63" height="5.2"/><rect x="1665.64" y="300.05" width="5.63" height="5.2"/><rect x="1665.64" y="308.39" width="4.69" height="5.2"/><rect x="1669.01" y="316.74" width="6" height="5.2"/><rect x="1670.33" y="325.09" width="5.63" height="5.2"/><rect x="1665.64" y="333.44" width="3.75" height="5.2"/><rect x="1665.64" y="341.79" width="5.63" height="5.2"/><rect x="1665.64" y="350.14" width="5.63" height="5.2"/><rect x="1669.01" y="358.49" width="6.94" height="5.2"/><rect x="1667.51" y="366.84" width="7.5" height="5.2"/><rect x="1665.64" y="375.19" width="4.13" height="5.2"/><rect x="1665.64" y="383.53" width="6" height="5.2"/><rect x="1665.64" y="391.88" width="5.25" height="5.2"/><rect x="1665.64" y="400.23" width="4.69" height="5.2"/><rect x="1665.64" y="408.58" width="4.69" height="5.2"/><rect x="1666.58" y="416.93" width="7.5" height="5.2"/><rect x="1665.64" y="425.28" width="4.69" height="5.2"/><rect x="1667.89" y="433.63" width="7.13" height="5.2"/><rect x="1666.58" y="441.98" width="6.19" height="5.2"/><rect x="1667.28" y="450.32" width="7.71" height="5.2"/><rect x="1667.28" y="458.67" width="7.71" height="5.2"/><rect x="1667.28" y="467.02" width="7.71" height="5.2"/><rect x="1665.83" y="475.37" width="5.62" height="5.2"/><rect x="1667.28" y="483.72" width="8.33" height="5.2"/><rect x="1665.83" y="492.07" width="7.08" height="5.2"/><rect x="1667.28" y="500.42" width="6.25" height="5.2"/><rect x="1665.83" y="508.77" width="5.62" height="5.2"/><rect x="1670.41" y="517.12" width="6.25" height="5.2"/><rect x="1669.37" y="525.46" width="6.25" height="5.2"/><rect x="1669.99" y="533.81" width="6.25" height="5.2"/><rect x="1671.45" y="542.16" width="7.71" height="5.2"/><rect x="1671.45" y="550.51" width="6.25" height="5.2"/><rect x="1665.83" y="558.86" width="5.62" height="5.2"/><rect x="1667.28" y="567.21" width="7.29" height="5.2"/><rect x="1671.45" y="575.56" width="7.71" height="5.2"/><rect x="1667.28" y="583.91" width="5.63" height="5.2"/><rect x="1665.83" y="592.26" width="7.08" height="5.2"/><rect x="1665.83" y="600.6" width="6.67" height="5.2"/><rect x="1668.33" y="608.95" width="8.33" height="5.2"/><rect x="1668.33" y="617.3" width="7.29" height="5.2"/><rect x="1667.91" y="625.65" width="6.25" height="5.2"/><rect x="1669.91" y="634" width="6.25" height="5.2"/><rect x="1673.03" y="642.35" width="7.29" height="5.2"/><rect x="1667.83" y="650.7" width="7.29" height="5.2"/><rect x="1670.53" y="659.05" width="5" height="5.2"/><rect x="1666.37" y="667.4" width="5.62" height="5.2"/><rect x="1677.2" y="675.74" width="11.46" height="5.2"/><rect x="1666.78" y="684.09" width="5.21" height="5.2"/><rect x="1682.41" y="692.44" width="7.29" height="5.2"/><rect x="1674.08" y="700.79" width="7.29" height="5.2"/><rect x="1673.03" y="709.14" width="8.33" height="5.2"/><rect x="1667.83" y="717.49" width="7.29" height="5.2"/><rect x="1666.78" y="725.84" width="8.33" height="5.2"/><rect x="1669.91" y="734.19" width="8.96" height="5.2"/><rect x="1678.24" y="742.53" width="5.83" height="5.2"/><rect x="1667.83" y="750.88" width="8.96" height="5.2"/><rect x="1671.99" y="759.23" width="8.33" height="5.2"/><rect x="1668.87" y="767.58" width="8.33" height="5.2"/><rect x="1671.99" y="775.93" width="8.33" height="5.2"/><rect x="1679.28" y="784.28" width="6.25" height="5.2"/><rect x="1678.87" y="792.63" width="6.67" height="5.2"/><rect x="1682.41" y="800.98" width="7.71" height="5.2"/><rect x="1680.33" y="809.33" width="5.62" height="5.2"/></g>
<path d="M1668.87 91.32v5.2M1671.99 99.67v5.2M1668.87 108.02v5.2M1668.45 116.37v5.2M1668.03 124.72v5.2M1667.62 133.07v5.2M1669.28 141.42v5.2M1668.45 149.77v5.2M1682.41 158.12v5.2M1667.62 166.46v5.2M1669.28 174.81v5.2M1669.91 183.16v5.2M1668.03 191.51v5.2M1669.91 199.86v5.2M1669.91 208.21v5.2M1669.91 216.56v5.2M1669.91 224.91v5.2M1669.91 233.25v5.2M1668.03 241.6v5.2M1669.91 249.95v5.2M1669.91 258.3v5.2M1669.91 266.65v5.2M1667.04 275v5.2M1668.45 283.35v5.2M1668.45 291.7v5.2M1668.45 300.05v5.2M1667.98 308.39v5.2M1672.01 316.74v5.2M1673.14 325.09v5.2M1667.51 333.44v5.2M1668.45 341.79v5.2M1668.45 350.14v5.2M1672.48 358.49v5.2M1671.26 366.84v5.2M1667.7 375.19v5.2M1668.64 383.53v5.2M1668.26 391.88v5.2M1667.98 400.23v5.2M1667.98 408.58v5.2M1670.33 416.93v5.2M1667.98 425.28v5.2M1671.45 433.63v5.2M1669.67 441.98v5.2M1671.14 450.32v5.2M1671.14 458.67v5.2M1671.14 467.02v5.2M1668.64 475.37v5.2M1671.45 483.72v5.2M1669.37 492.07v5.2M1670.41 500.42v5.2M1668.64 508.77v5.2M1673.53 517.12v5.2M1672.49 525.46v5.2M1673.12 533.81v5.2M1675.3 542.16v5.2M1674.58 550.51v5.2M1668.64 558.86v5.2M1670.93 567.21v5.2M1675.3 575.56v5.2M1670.1 583.91v5.2M1669.37 592.26v5.2M1669.16 600.6v5.2M1672.49 608.95v5.2M1671.97 617.3v5.2M1671.03 625.65v5.2M1673.03 634v5.2M1676.58 642.35v5.2M1671.37 650.7v5.2M1673.03 659.05v5.2M1669.28 667.4v5.2M1683.45 675.74v5.2M1669.28 684.09v5.2M1685.95 692.44v5.2M1677.62 700.79v5.2M1677.2 709.14v5.2M1671.37 717.49v5.2M1670.95 725.84v5.2M1674.28 734.19v5.2M1681.16 742.53v5.2M1672.2 750.88v5.2M1676.16 759.23v5.2M1673.03 767.58v5.2M1676.16 775.93v5.2M1682.41 784.28v5.2M1682.2 792.63v5.2M1686.16 800.98v5.2M1683.03 809.33v5.2" stroke="#050707" stroke-width="1.5" fill="none"/>
<circle cx="1720.42" cy="93.92" r="4.3" fill="#050707"/>
<circle cx="1721.88" cy="102.27" r="4.3" fill="#050707"/>
<circle cx="1720.42" cy="110.62" r="4.3" fill="#050707"/>
<circle cx="1720.42" cy="118.97" r="4.3" fill="#050707"/>
<circle cx="1720.42" cy="127.32" r="4.3" fill="#050707"/>
<circle cx="1720" cy="135.67" r="4.3" fill="#050707"/>
<circle cx="1720.42" cy="144.02" r="4.3" fill="#050707"/>
<circle cx="1720" cy="152.37" r="4.3" fill="#050707"/>
<circle cx="1727.08" cy="160.72" r="4.3" fill="#050707"/>
<circle cx="1719.79" cy="169.06" r="4.3" fill="#050707"/>
<circle cx="1720.83" cy="177.41" r="4.3" fill="#050707"/>
<circle cx="1721.88" cy="185.76" r="4.3" fill="#050707"/>
<circle cx="1720.42" cy="194.11" r="4.3" fill="#050707"/>
<circle cx="1721.25" cy="202.46" r="4.3" fill="#050707"/>
<circle cx="1722.5" cy="210.81" r="4.3" fill="#050707"/>
<circle cx="1720.83" cy="219.16" r="4.3" fill="#050707"/>
<circle cx="1721.88" cy="227.51" r="4.3" fill="#050707"/>
<circle cx="1721.25" cy="235.85" r="4.3" fill="#050707"/>
<circle cx="1720.42" cy="244.2" r="4.3" fill="#050707"/>
<circle cx="1721.88" cy="252.55" r="4.3" fill="#050707"/>
<circle cx="1721.25" cy="260.9" r="4.3" fill="#050707"/>
<circle cx="1720.83" cy="269.25" r="4.3" fill="#050707"/>
<circle cx="1720.38" cy="277.6" r="4.3" fill="#050707"/>
<circle cx="1720.38" cy="285.95" r="4.3" fill="#050707"/>
<circle cx="1720.94" cy="294.3" r="4.3" fill="#050707"/>
<circle cx="1720.38" cy="302.65" r="4.3" fill="#050707"/>
<circle cx="1720.38" cy="310.99" r="4.3" fill="#050707"/>
<circle cx="1723.38" cy="319.34" r="4.3" fill="#050707"/>
<circle cx="1723.38" cy="327.69" r="4.3" fill="#050707"/>
<circle cx="1720" cy="336.04" r="4.3" fill="#050707"/>
<circle cx="1720.38" cy="344.39" r="4.3" fill="#050707"/>
<circle cx="1720.94" cy="352.74" r="4.3" fill="#050707"/>
<circle cx="1722.82" cy="361.09" r="4.3" fill="#050707"/>
<circle cx="1722.25" cy="369.44" r="4.3" fill="#050707"/>
<circle cx="1720.38" cy="377.79" r="4.3" fill="#050707"/>
<circle cx="1720.94" cy="386.13" r="4.3" fill="#050707"/>
<circle cx="1720.38" cy="394.48" r="4.3" fill="#050707"/>
<circle cx="1720.38" cy="402.83" r="4.3" fill="#050707"/>
<circle cx="1720" cy="411.18" r="4.3" fill="#050707"/>
<circle cx="1722.25" cy="419.53" r="4.3" fill="#050707"/>
<circle cx="1720.94" cy="427.88" r="4.3" fill="#050707"/>
<circle cx="1722.82" cy="436.23" r="4.3" fill="#050707"/>
<circle cx="1721.88" cy="444.58" r="4.3" fill="#050707"/>
<circle cx="1722.92" cy="452.93" r="4.3" fill="#050707"/>
<circle cx="1722.08" cy="461.27" r="4.3" fill="#050707"/>
<circle cx="1722.5" cy="469.62" r="4.3" fill="#050707"/>
<circle cx="1720.42" cy="477.97" r="4.3" fill="#050707"/>
<circle cx="1722.5" cy="486.32" r="4.3" fill="#050707"/>
<circle cx="1721.46" cy="494.67" r="4.3" fill="#050707"/>
<circle cx="1722.08" cy="503.02" r="4.3" fill="#050707"/>
<circle cx="1720.83" cy="511.37" r="4.3" fill="#050707"/>
<circle cx="1723.54" cy="519.72" r="4.3" fill="#050707"/>
<circle cx="1722.92" cy="528.06" r="4.3" fill="#050707"/>
<circle cx="1722.92" cy="536.41" r="4.3" fill="#050707"/>
<circle cx="1724.17" cy="544.76" r="4.3" fill="#050707"/>
<circle cx="1723.54" cy="553.11" r="4.3" fill="#050707"/>
<circle cx="1720.42" cy="561.46" r="4.3" fill="#050707"/>
<circle cx="1722.08" cy="569.81" r="4.3" fill="#050707"/>
<circle cx="1723.54" cy="578.16" r="4.3" fill="#050707"/>
<circle cx="1721.46" cy="586.51" r="4.3" fill="#050707"/>
<circle cx="1721.46" cy="594.86" r="4.3" fill="#050707"/>
<circle cx="1721.46" cy="603.2" r="4.3" fill="#050707"/>
<circle cx="1722.92" cy="611.55" r="4.3" fill="#050707"/>
<circle cx="1722.92" cy="619.9" r="4.3" fill="#050707"/>
<circle cx="1722.5" cy="628.25" r="4.3" fill="#050707"/>
<circle cx="1722.5" cy="636.6" r="4.3" fill="#050707"/>
<circle cx="1724.58" cy="644.95" r="4.3" fill="#050707"/>
<circle cx="1721.88" cy="653.3" r="4.3" fill="#050707"/>
<circle cx="1722.92" cy="661.65" r="4.3" fill="#050707"/>
<circle cx="1721.25" cy="670" r="4.3" fill="#050707"/>
<circle cx="1727.08" cy="678.34" r="4.3" fill="#050707"/>
<circle cx="1720.83" cy="686.69" r="4.3" fill="#050707"/>
<circle cx="1729.17" cy="695.04" r="4.3" fill="#050707"/>
<circle cx="1725" cy="703.39" r="4.3" fill="#050707"/>
<circle cx="1724.58" cy="711.74" r="4.3" fill="#050707"/>
<circle cx="1722.5" cy="720.09" r="4.3" fill="#050707"/>
<circle cx="1722.5" cy="728.44" r="4.3" fill="#050707"/>
<circle cx="1723.33" cy="736.79" r="4.3" fill="#050707"/>
<circle cx="1726.04" cy="745.13" r="4.3" fill="#050707"/>
<circle cx="1722.5" cy="753.48" r="4.3" fill="#050707"/>
<circle cx="1723.96" cy="761.83" r="4.3" fill="#050707"/>
<circle cx="1722.92" cy="770.18" r="4.3" fill="#050707"/>
<circle cx="1724.58" cy="778.53" r="4.3" fill="#050707"/>
<circle cx="1727.08" cy="786.88" r="4.3" fill="#050707"/>
<circle cx="1727.5" cy="795.23" r="4.3" fill="#050707"/>
<circle cx="1728.75" cy="803.58" r="4.3" fill="#050707"/>
<circle cx="1727.5" cy="811.93" r="4.3" fill="#050707"/>
</svg>
</body></html>
